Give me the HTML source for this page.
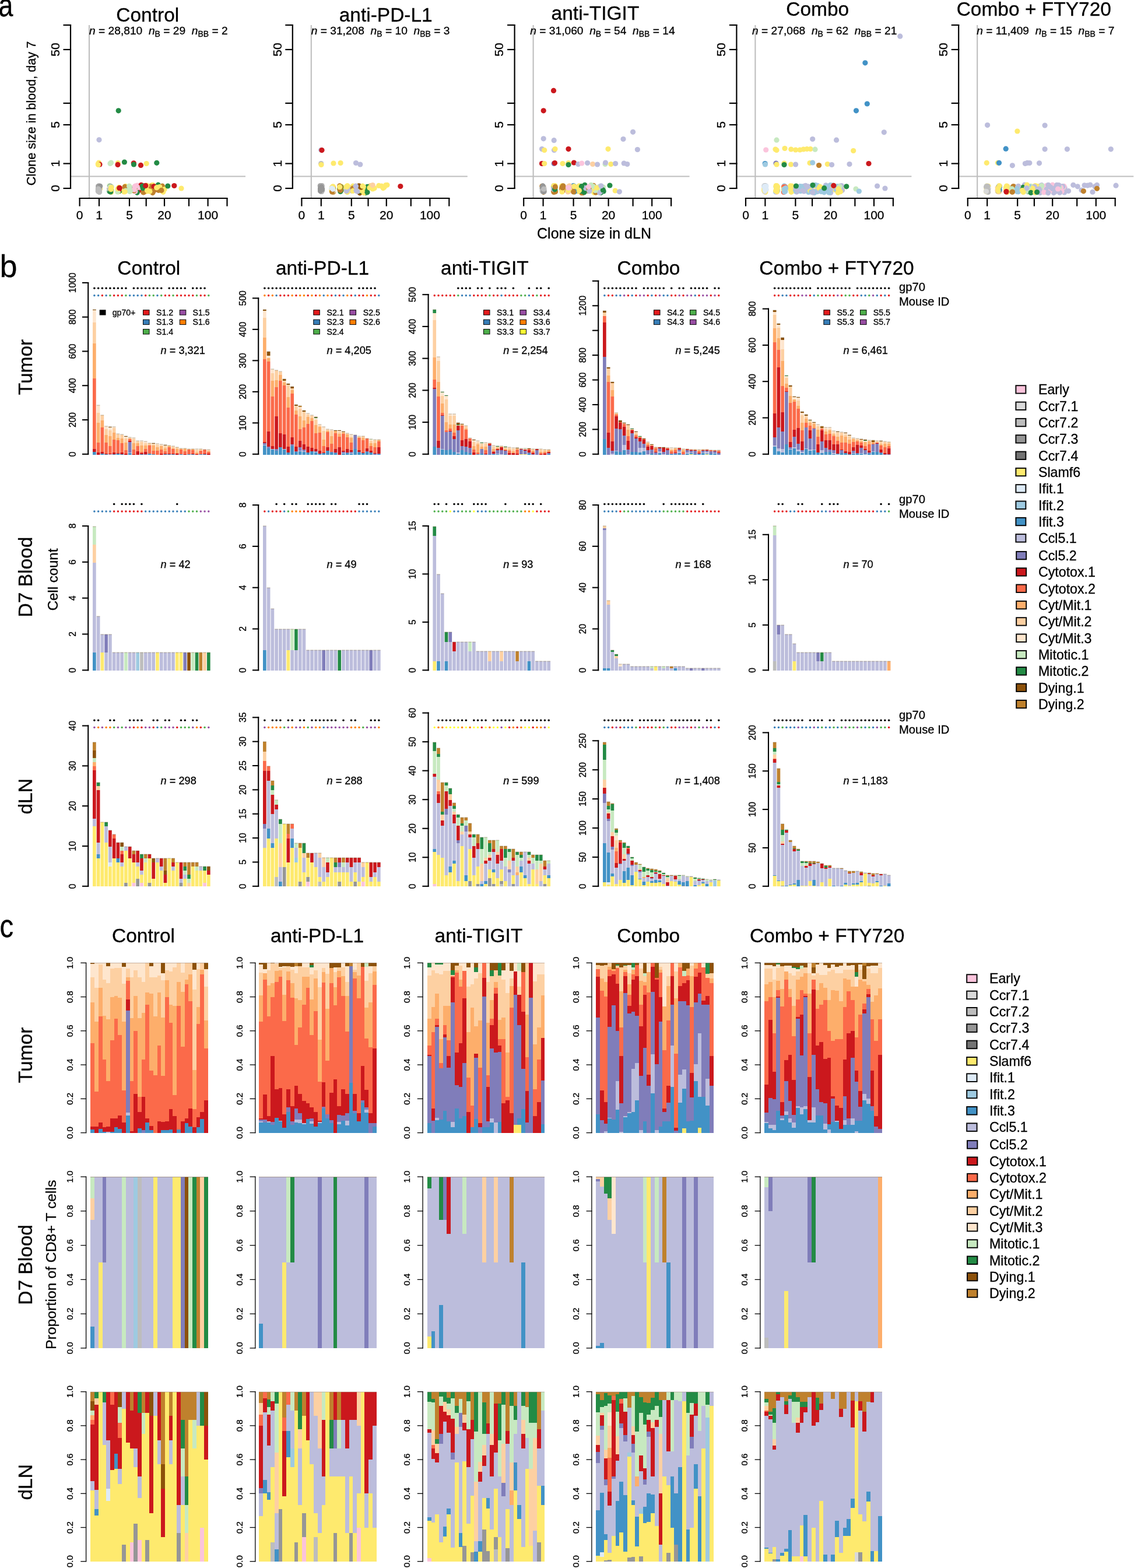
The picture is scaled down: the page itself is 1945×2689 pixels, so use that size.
<!DOCTYPE html>
<html><head><meta charset="utf-8"><title>Figure</title>
<style>html,body{margin:0;padding:0;background:#fff;} svg{display:block;} text{font-family:'Liberation Sans', Arial, Helvetica, sans-serif;fill:#000;stroke:#000;stroke-width:0.3px;}</style>
</head><body>
<svg width="1945" height="2689" viewBox="0 0 1945 2689">
<rect x="0" y="0" width="1945" height="2689" fill="#fff"/>
<text x="253.3" y="37" font-size="33.5" text-anchor="middle">Control</text>
<line x1="153" y1="43" x2="153" y2="340" stroke="#BEBEBE" stroke-width="2.1"/>
<line x1="121" y1="302.4" x2="421" y2="302.4" stroke="#BEBEBE" stroke-width="2"/>
<circle cx="230.46" cy="324.61" r="4.6" fill="#C7E9C0"/>
<circle cx="266.3" cy="323.26" r="4.6" fill="#CB181D"/>
<circle cx="190.11" cy="326.64" r="4.6" fill="#FEEA6E"/>
<circle cx="203.23" cy="328.81" r="4.6" fill="#FEEA6E"/>
<circle cx="204.52" cy="327.5" r="4.6" fill="#CB181D"/>
<circle cx="204.35" cy="321.78" r="4.6" fill="#FEEA6E"/>
<circle cx="239.41" cy="326.01" r="4.6" fill="#CB181D"/>
<circle cx="191.3" cy="326.01" r="4.6" fill="#FEEA6E"/>
<circle cx="189.34" cy="319.71" r="4.6" fill="#238B45"/>
<circle cx="202.55" cy="326.12" r="4.6" fill="#FEEA6E"/>
<circle cx="187.94" cy="318.5" r="4.6" fill="#C7E9C0"/>
<circle cx="188.75" cy="320.01" r="4.6" fill="#FEEA6E"/>
<circle cx="267.63" cy="324.64" r="4.6" fill="#CB181D"/>
<circle cx="171.61" cy="323.72" r="4.6" fill="#FEEA6E"/>
<circle cx="189.48" cy="321.93" r="4.6" fill="#C7E9C0"/>
<circle cx="189.08" cy="324.73" r="4.6" fill="#C7E9C0"/>
<circle cx="257.81" cy="323.35" r="4.6" fill="#BF812D"/>
<circle cx="189.11" cy="325.48" r="4.6" fill="#FBC4DC"/>
<circle cx="271.24" cy="317.2" r="4.6" fill="#238B45"/>
<circle cx="190.99" cy="327.08" r="4.6" fill="#BCBDDC"/>
<circle cx="188.04" cy="323.44" r="4.6" fill="#238B45"/>
<circle cx="251.2" cy="328.19" r="4.6" fill="#FEEA6E"/>
<circle cx="262.18" cy="317.26" r="4.6" fill="#FEEA6E"/>
<circle cx="263.07" cy="324" r="4.6" fill="#FEEA6E"/>
<circle cx="258.32" cy="322.85" r="4.6" fill="#BF812D"/>
<circle cx="224.44" cy="322.39" r="4.6" fill="#FEEA6E"/>
<circle cx="190.81" cy="329.42" r="4.6" fill="#FEEA6E"/>
<circle cx="246.47" cy="329.68" r="4.6" fill="#BF812D"/>
<circle cx="269.95" cy="321.87" r="4.6" fill="#FEEA6E"/>
<circle cx="215.25" cy="319.43" r="4.6" fill="#FEEA6E"/>
<circle cx="212.45" cy="327.29" r="4.6" fill="#FEEA6E"/>
<circle cx="246.47" cy="318.81" r="4.6" fill="#238B45"/>
<circle cx="249.24" cy="326.46" r="4.6" fill="#CB181D"/>
<circle cx="169.29" cy="327.24" r="4.6" fill="#FEEA6E"/>
<circle cx="256.81" cy="320.11" r="4.6" fill="#BF812D"/>
<circle cx="244.52" cy="319.28" r="4.6" fill="#FBC4DC"/>
<circle cx="191.2" cy="320.16" r="4.6" fill="#C7E9C0"/>
<circle cx="187.84" cy="328.12" r="4.6" fill="#238B45"/>
<circle cx="278.42" cy="319.21" r="4.6" fill="#BF812D"/>
<circle cx="189.5" cy="324.98" r="4.6" fill="#FBC4DC"/>
<circle cx="268.62" cy="321.31" r="4.6" fill="#FEEA6E"/>
<circle cx="235.63" cy="318.71" r="4.6" fill="#BF812D"/>
<circle cx="247.67" cy="321.14" r="4.6" fill="#FEEA6E"/>
<circle cx="190.24" cy="324.17" r="4.6" fill="#238B45"/>
<circle cx="251.76" cy="324.51" r="4.6" fill="#FEEA6E"/>
<circle cx="234.63" cy="329.36" r="4.6" fill="#238B45"/>
<circle cx="212.69" cy="328.91" r="4.6" fill="#FEEA6E"/>
<circle cx="221.23" cy="323.34" r="4.6" fill="#FEEA6E"/>
<circle cx="188.77" cy="320.1" r="4.6" fill="#238B45"/>
<circle cx="189.19" cy="319.64" r="4.6" fill="#969696"/>
<circle cx="276.18" cy="326.7" r="4.6" fill="#FEEA6E"/>
<circle cx="215.93" cy="320.64" r="4.6" fill="#C7E9C0"/>
<circle cx="230.42" cy="321.22" r="4.6" fill="#BCBDDC"/>
<circle cx="260.68" cy="317.6" r="4.6" fill="#FEEA6E"/>
<circle cx="169" cy="321.66" r="4.6" fill="#FEEA6E"/>
<circle cx="202.92" cy="326.09" r="4.6" fill="#FEEA6E"/>
<circle cx="202.36" cy="325.36" r="4.6" fill="#C7E9C0"/>
<circle cx="241.78" cy="321.73" r="4.6" fill="#238B45"/>
<circle cx="271.88" cy="326.31" r="4.6" fill="#BF812D"/>
<circle cx="235.24" cy="318.02" r="4.6" fill="#FBC4DC"/>
<circle cx="203.34" cy="326.11" r="4.6" fill="#C7E9C0"/>
<circle cx="277.25" cy="322.1" r="4.6" fill="#BF812D"/>
<circle cx="204.13" cy="321.37" r="4.6" fill="#FEEA6E"/>
<circle cx="205.18" cy="327.19" r="4.6" fill="#238B45"/>
<circle cx="223.35" cy="327.04" r="4.6" fill="#FEEA6E"/>
<circle cx="230.62" cy="326.86" r="4.6" fill="#C7E9C0"/>
<circle cx="235.11" cy="330.34" r="4.6" fill="#238B45"/>
<circle cx="273.84" cy="320.58" r="4.6" fill="#FEEA6E"/>
<circle cx="188.12" cy="322.27" r="4.6" fill="#FBC4DC"/>
<circle cx="189.19" cy="320.6" r="4.6" fill="#C7E9C0"/>
<circle cx="282.12" cy="324.66" r="4.6" fill="#FEEA6E"/>
<circle cx="212.47" cy="325" r="4.6" fill="#FEEA6E"/>
<circle cx="240.85" cy="321.46" r="4.6" fill="#FBC4DC"/>
<circle cx="242.19" cy="317.25" r="4.6" fill="#CB181D"/>
<circle cx="260.71" cy="324.44" r="4.6" fill="#FEEA6E"/>
<circle cx="169.23" cy="322.74" r="4.6" fill="#FEEA6E"/>
<circle cx="245.68" cy="329.86" r="4.6" fill="#BF812D"/>
<circle cx="222.03" cy="324.95" r="4.6" fill="#FEEA6E"/>
<circle cx="258.53" cy="319.82" r="4.6" fill="#BF812D"/>
<circle cx="245.08" cy="322.65" r="4.6" fill="#238B45"/>
<circle cx="215.4" cy="323.77" r="4.6" fill="#BF812D"/>
<circle cx="221.26" cy="320.84" r="4.6" fill="#C7E9C0"/>
<circle cx="201.99" cy="323.67" r="4.6" fill="#FEEA6E"/>
<circle cx="236.18" cy="321.42" r="4.6" fill="#FBC4DC"/>
<circle cx="221.78" cy="323.71" r="4.6" fill="#C7E9C0"/>
<circle cx="263.98" cy="319.65" r="4.6" fill="#CB181D"/>
<circle cx="203.54" cy="327.07" r="4.6" fill="#FEEA6E"/>
<circle cx="231.09" cy="323.48" r="4.6" fill="#BF812D"/>
<circle cx="223.12" cy="327.68" r="4.6" fill="#FEEA6E"/>
<circle cx="221.63" cy="320.17" r="4.6" fill="#C7E9C0"/>
<circle cx="189.92" cy="323.72" r="4.6" fill="#BDBDBD"/>
<circle cx="214.98" cy="320.37" r="4.6" fill="#C7E9C0"/>
<circle cx="203.91" cy="325.25" r="4.6" fill="#CB181D"/>
<circle cx="244.25" cy="319.26" r="4.6" fill="#238B45"/>
<circle cx="279.86" cy="329.35" r="4.6" fill="#FEEA6E"/>
<circle cx="231.62" cy="320.01" r="4.6" fill="#C7E9C0"/>
<circle cx="231.91" cy="328.32" r="4.6" fill="#FBC4DC"/>
<circle cx="261.83" cy="330.57" r="4.6" fill="#BF812D"/>
<circle cx="170.1" cy="328.13" r="4.6" fill="#FEEA6E"/>
<circle cx="215.28" cy="320.11" r="4.6" fill="#FEEA6E"/>
<circle cx="214.04" cy="326.68" r="4.6" fill="#FEEA6E"/>
<circle cx="252.49" cy="326.81" r="4.6" fill="#FEEA6E"/>
<circle cx="263.01" cy="328.25" r="4.6" fill="#BF812D"/>
<circle cx="268.65" cy="321.8" r="4.6" fill="#FEEA6E"/>
<circle cx="222.68" cy="328.59" r="4.6" fill="#C7E9C0"/>
<circle cx="214.74" cy="322.35" r="4.6" fill="#C7E9C0"/>
<circle cx="231.77" cy="319.13" r="4.6" fill="#FBC4DC"/>
<circle cx="188.3" cy="325.74" r="4.6" fill="#BDBDBD"/>
<circle cx="276.9" cy="326.39" r="4.6" fill="#BF812D"/>
<circle cx="201.7" cy="328.96" r="4.6" fill="#C7E9C0"/>
<circle cx="214.1" cy="320.46" r="4.6" fill="#BF812D"/>
<circle cx="215.65" cy="327.11" r="4.6" fill="#C7E9C0"/>
<circle cx="229.59" cy="326.99" r="4.6" fill="#BF812D"/>
<circle cx="230.19" cy="325.24" r="4.6" fill="#FBC4DC"/>
<circle cx="190.86" cy="321.56" r="4.6" fill="#FEEA6E"/>
<circle cx="202.34" cy="323.92" r="4.6" fill="#FEEA6E"/>
<circle cx="256.91" cy="328.22" r="4.6" fill="#FEEA6E"/>
<circle cx="204.89" cy="322.41" r="4.6" fill="#CB181D"/>
<circle cx="189.68" cy="328.94" r="4.6" fill="#238B45"/>
<circle cx="251.85" cy="318.01" r="4.6" fill="#FEEA6E"/>
<circle cx="205.06" cy="322.51" r="4.6" fill="#CB181D"/>
<circle cx="249.81" cy="318.47" r="4.6" fill="#CB181D"/>
<circle cx="221.6" cy="319.18" r="4.6" fill="#C7E9C0"/>
<circle cx="214.27" cy="328.77" r="4.6" fill="#FEEA6E"/>
<circle cx="169.38" cy="320.16" r="4.6" fill="#FEEA6E"/>
<circle cx="190.2" cy="324.65" r="4.6" fill="#FEEA6E"/>
<circle cx="223.55" cy="327.47" r="4.6" fill="#C7E9C0"/>
<circle cx="170.3" cy="323.52" r="4.6" fill="#BDBDBD"/>
<circle cx="170.29" cy="322.86" r="4.6" fill="#969696"/>
<circle cx="168.44" cy="326.54" r="4.6" fill="#BDBDBD"/>
<circle cx="168.63" cy="323.1" r="4.6" fill="#BDBDBD"/>
<circle cx="170.54" cy="329.42" r="4.6" fill="#BDBDBD"/>
<circle cx="169.89" cy="328.66" r="4.6" fill="#BDBDBD"/>
<circle cx="169.55" cy="324.53" r="4.6" fill="#BDBDBD"/>
<circle cx="168.46" cy="319.5" r="4.6" fill="#BDBDBD"/>
<circle cx="169.43" cy="322.35" r="4.6" fill="#BDBDBD"/>
<circle cx="170.66" cy="323.2" r="4.6" fill="#BDBDBD"/>
<circle cx="169.46" cy="328.85" r="4.6" fill="#BDBDBD"/>
<circle cx="169.72" cy="324.45" r="4.6" fill="#969696"/>
<circle cx="168.58" cy="324.78" r="4.6" fill="#969696"/>
<circle cx="168.38" cy="327.94" r="4.6" fill="#BDBDBD"/>
<circle cx="169.1" cy="322.8" r="4.6" fill="#BDBDBD"/>
<circle cx="168.81" cy="319.79" r="4.6" fill="#BDBDBD"/>
<circle cx="170.48" cy="324.91" r="4.6" fill="#BDBDBD"/>
<circle cx="170.24" cy="325.31" r="4.6" fill="#BDBDBD"/>
<circle cx="168.98" cy="319.45" r="4.6" fill="#BDBDBD"/>
<circle cx="169.53" cy="319.14" r="4.6" fill="#969696"/>
<circle cx="171.02" cy="319.4" r="4.6" fill="#BDBDBD"/>
<circle cx="169.83" cy="325.2" r="4.6" fill="#BDBDBD"/>
<circle cx="168.42" cy="324.72" r="4.6" fill="#969696"/>
<circle cx="169.32" cy="327.48" r="4.6" fill="#969696"/>
<circle cx="171.67" cy="319.35" r="4.6" fill="#969696"/>
<circle cx="170.27" cy="328.13" r="4.6" fill="#BDBDBD"/>
<circle cx="168.38" cy="327.53" r="4.6" fill="#BDBDBD"/>
<circle cx="168.76" cy="323.88" r="4.6" fill="#BDBDBD"/>
<circle cx="203.2" cy="189.8" r="4.6" fill="#238B45"/>
<circle cx="170" cy="239.8" r="4.6" fill="#BCBDDC"/>
<circle cx="168.3" cy="281" r="4.6" fill="#FEEA6E"/>
<circle cx="169.5" cy="279" r="4.6" fill="#FEEA6E"/>
<circle cx="171" cy="282" r="4.6" fill="#CB181D"/>
<circle cx="168.5" cy="282.5" r="4.6" fill="#FEEA6E"/>
<circle cx="189" cy="280.5" r="4.6" fill="#C7E9C0"/>
<circle cx="190.5" cy="279" r="4.6" fill="#C7E9C0"/>
<circle cx="202.4" cy="279.5" r="4.6" fill="#FEEA6E"/>
<circle cx="202" cy="282.4" r="4.6" fill="#CB181D"/>
<circle cx="213.4" cy="278" r="4.6" fill="#238B45"/>
<circle cx="229.3" cy="279.8" r="4.6" fill="#CB181D"/>
<circle cx="229.5" cy="282" r="4.6" fill="#238B45"/>
<circle cx="241.5" cy="283.4" r="4.6" fill="#CB181D"/>
<circle cx="251.2" cy="280.5" r="4.6" fill="#FEEA6E"/>
<circle cx="268.8" cy="279.3" r="4.6" fill="#238B45"/>
<circle cx="287.8" cy="319" r="4.6" fill="#238B45"/>
<circle cx="298.8" cy="318.5" r="4.6" fill="#CB181D"/>
<circle cx="311" cy="323" r="4.6" fill="#FEEA6E"/>
<line x1="121" y1="42.2" x2="121" y2="323.8" stroke="#000" stroke-width="2.2"/>
<line x1="108.5" y1="43" x2="122.1" y2="43" stroke="#000" stroke-width="2.2"/>
<line x1="108.5" y1="85" x2="122.1" y2="85" stroke="#000" stroke-width="2.2"/>
<line x1="108.5" y1="177" x2="122.1" y2="177" stroke="#000" stroke-width="2.2"/>
<line x1="108.5" y1="214" x2="122.1" y2="214" stroke="#000" stroke-width="2.2"/>
<line x1="108.5" y1="280.5" x2="122.1" y2="280.5" stroke="#000" stroke-width="2.2"/>
<line x1="108.5" y1="323" x2="122.1" y2="323" stroke="#000" stroke-width="2.2"/>
<text transform="translate(101.8,85) rotate(-90)" font-size="21" text-anchor="middle">50</text>
<text transform="translate(101.8,214) rotate(-90)" font-size="21" text-anchor="middle">5</text>
<text transform="translate(101.8,280.5) rotate(-90)" font-size="21" text-anchor="middle">1</text>
<text transform="translate(101.8,323) rotate(-90)" font-size="21" text-anchor="middle">0</text>
<line x1="135.5" y1="340" x2="390.6" y2="340" stroke="#000" stroke-width="2.2"/>
<line x1="136.6" y1="340" x2="136.6" y2="353.7" stroke="#000" stroke-width="2.2"/>
<line x1="170" y1="340" x2="170" y2="353.7" stroke="#000" stroke-width="2.2"/>
<line x1="222" y1="340" x2="222" y2="353.7" stroke="#000" stroke-width="2.2"/>
<line x1="250.7" y1="340" x2="250.7" y2="353.7" stroke="#000" stroke-width="2.2"/>
<line x1="282" y1="340" x2="282" y2="353.7" stroke="#000" stroke-width="2.2"/>
<line x1="324" y1="340" x2="324" y2="353.7" stroke="#000" stroke-width="2.2"/>
<line x1="356.6" y1="340" x2="356.6" y2="353.7" stroke="#000" stroke-width="2.2"/>
<line x1="389.5" y1="340" x2="389.5" y2="353.7" stroke="#000" stroke-width="2.2"/>
<text x="136.6" y="375.8" font-size="21" text-anchor="middle">0</text>
<text x="170" y="375.8" font-size="21" text-anchor="middle">1</text>
<text x="222" y="375.8" font-size="21" text-anchor="middle">5</text>
<text x="282" y="375.8" font-size="21" text-anchor="middle">20</text>
<text x="356.6" y="375.8" font-size="21" text-anchor="middle">100</text>
<text x="153" y="59.4" font-size="19.2" style="white-space:pre"><tspan font-style="italic">n</tspan> = 28,810  <tspan font-style="italic">n</tspan><tspan font-size="14" dy="3.2">B</tspan><tspan dy="-3.2"> = 29  </tspan><tspan font-style="italic">n</tspan><tspan font-size="14" dy="3.2">BB</tspan><tspan dy="-3.2"> = 2</tspan></text>
<text x="661.7" y="36.6" font-size="33.5" text-anchor="middle">anti-PD-L1</text>
<line x1="533.8" y1="43" x2="533.8" y2="340" stroke="#BEBEBE" stroke-width="2.1"/>
<line x1="501.8" y1="302.4" x2="801.8" y2="302.4" stroke="#BEBEBE" stroke-width="2"/>
<circle cx="603.1" cy="321.53" r="4.6" fill="#FEEA6E"/>
<circle cx="617.15" cy="330.84" r="4.6" fill="#8C510A"/>
<circle cx="593.28" cy="323.02" r="4.6" fill="#FEEA6E"/>
<circle cx="611.13" cy="324.49" r="4.6" fill="#BCBDDC"/>
<circle cx="585.08" cy="324.05" r="4.6" fill="#BF812D"/>
<circle cx="605.3" cy="320.51" r="4.6" fill="#BCBDDC"/>
<circle cx="661.6" cy="317.72" r="4.6" fill="#FEEA6E"/>
<circle cx="625.94" cy="329.36" r="4.6" fill="#238B45"/>
<circle cx="610.48" cy="326.11" r="4.6" fill="#BCBDDC"/>
<circle cx="603.63" cy="327.34" r="4.6" fill="#FEEA6E"/>
<circle cx="585.65" cy="323.84" r="4.6" fill="#FEEA6E"/>
<circle cx="634.89" cy="318.48" r="4.6" fill="#FDD0A2"/>
<circle cx="630.41" cy="322.21" r="4.6" fill="#238B45"/>
<circle cx="595.79" cy="327.73" r="4.6" fill="#BCBDDC"/>
<circle cx="570.35" cy="324.82" r="4.6" fill="#238B45"/>
<circle cx="609.68" cy="320.67" r="4.6" fill="#BCBDDC"/>
<circle cx="594.77" cy="319.7" r="4.6" fill="#FEEA6E"/>
<circle cx="568.56" cy="324.41" r="4.6" fill="#DEEBF7"/>
<circle cx="642.2" cy="322.73" r="4.6" fill="#FEEA6E"/>
<circle cx="603.18" cy="321.5" r="4.6" fill="#BCBDDC"/>
<circle cx="571.61" cy="328.1" r="4.6" fill="#FEEA6E"/>
<circle cx="582.62" cy="318.76" r="4.6" fill="#BF812D"/>
<circle cx="583.84" cy="328.38" r="4.6" fill="#238B45"/>
<circle cx="595.19" cy="326.85" r="4.6" fill="#BCBDDC"/>
<circle cx="595.86" cy="318.85" r="4.6" fill="#FEEA6E"/>
<circle cx="637.78" cy="319.85" r="4.6" fill="#FEEA6E"/>
<circle cx="617.86" cy="327.83" r="4.6" fill="#238B45"/>
<circle cx="583.25" cy="320.94" r="4.6" fill="#238B45"/>
<circle cx="569.53" cy="321.23" r="4.6" fill="#DEEBF7"/>
<circle cx="618.03" cy="322.22" r="4.6" fill="#FEEA6E"/>
<circle cx="572.04" cy="323.89" r="4.6" fill="#FEEA6E"/>
<circle cx="622.01" cy="323.15" r="4.6" fill="#FEEA6E"/>
<circle cx="602.89" cy="326.72" r="4.6" fill="#BCBDDC"/>
<circle cx="569.56" cy="321.98" r="4.6" fill="#BF812D"/>
<circle cx="604.56" cy="325.05" r="4.6" fill="#BCBDDC"/>
<circle cx="585.83" cy="320.11" r="4.6" fill="#FEEA6E"/>
<circle cx="569.96" cy="328.7" r="4.6" fill="#FEEA6E"/>
<circle cx="582.71" cy="321.01" r="4.6" fill="#FEEA6E"/>
<circle cx="571.63" cy="329.19" r="4.6" fill="#BF812D"/>
<circle cx="571.37" cy="321.06" r="4.6" fill="#FEEA6E"/>
<circle cx="569.95" cy="320.96" r="4.6" fill="#FEEA6E"/>
<circle cx="569.01" cy="324.04" r="4.6" fill="#FEEA6E"/>
<circle cx="584.13" cy="321.08" r="4.6" fill="#BF812D"/>
<circle cx="582.52" cy="323.03" r="4.6" fill="#238B45"/>
<circle cx="657.12" cy="322.57" r="4.6" fill="#FEEA6E"/>
<circle cx="632.76" cy="320.64" r="4.6" fill="#FDD0A2"/>
<circle cx="602.35" cy="326.37" r="4.6" fill="#BF812D"/>
<circle cx="570.43" cy="326" r="4.6" fill="#FEEA6E"/>
<circle cx="649.7" cy="318.42" r="4.6" fill="#FEEA6E"/>
<circle cx="593.49" cy="326.26" r="4.6" fill="#FEEA6E"/>
<circle cx="611.58" cy="322.11" r="4.6" fill="#C7E9C0"/>
<circle cx="595.93" cy="318.95" r="4.6" fill="#FEEA6E"/>
<circle cx="602.12" cy="326.71" r="4.6" fill="#BCBDDC"/>
<circle cx="595.81" cy="329.47" r="4.6" fill="#FEEA6E"/>
<circle cx="585.75" cy="320.99" r="4.6" fill="#FEEA6E"/>
<circle cx="605.37" cy="319.22" r="4.6" fill="#FEEA6E"/>
<circle cx="636.64" cy="318.98" r="4.6" fill="#FEEA6E"/>
<circle cx="626.86" cy="330.62" r="4.6" fill="#238B45"/>
<circle cx="618.35" cy="326.44" r="4.6" fill="#FEEA6E"/>
<circle cx="639.85" cy="321.37" r="4.6" fill="#FEEA6E"/>
<circle cx="605.4" cy="322.75" r="4.6" fill="#BF812D"/>
<circle cx="594.52" cy="328.61" r="4.6" fill="#FEEA6E"/>
<circle cx="594.18" cy="322.37" r="4.6" fill="#FEEA6E"/>
<circle cx="624.12" cy="330.87" r="4.6" fill="#FEEA6E"/>
<circle cx="639.26" cy="323.94" r="4.6" fill="#FEEA6E"/>
<circle cx="584.92" cy="326.4" r="4.6" fill="#238B45"/>
<circle cx="630" cy="329.8" r="4.6" fill="#238B45"/>
<circle cx="570.88" cy="323.25" r="4.6" fill="#238B45"/>
<circle cx="584.88" cy="320.68" r="4.6" fill="#238B45"/>
<circle cx="570.88" cy="321.84" r="4.6" fill="#BF812D"/>
<circle cx="612.92" cy="328.22" r="4.6" fill="#BCBDDC"/>
<circle cx="582.81" cy="325.36" r="4.6" fill="#BF812D"/>
<circle cx="630.17" cy="320.26" r="4.6" fill="#238B45"/>
<circle cx="571.4" cy="327.83" r="4.6" fill="#FEEA6E"/>
<circle cx="571.37" cy="320.96" r="4.6" fill="#BF812D"/>
<circle cx="622.37" cy="322.54" r="4.6" fill="#FEEA6E"/>
<circle cx="584.2" cy="320.7" r="4.6" fill="#BF812D"/>
<circle cx="605.25" cy="327.46" r="4.6" fill="#FEEA6E"/>
<circle cx="568.86" cy="327.05" r="4.6" fill="#FEEA6E"/>
<circle cx="594.46" cy="327.54" r="4.6" fill="#BCBDDC"/>
<circle cx="633.89" cy="321.9" r="4.6" fill="#FEEA6E"/>
<circle cx="639.14" cy="317.54" r="4.6" fill="#FDD0A2"/>
<circle cx="663.95" cy="317.25" r="4.6" fill="#FEEA6E"/>
<circle cx="659.09" cy="320.97" r="4.6" fill="#FEEA6E"/>
<circle cx="594.34" cy="326.61" r="4.6" fill="#BCBDDC"/>
<circle cx="583.91" cy="326.31" r="4.6" fill="#BF812D"/>
<circle cx="654.42" cy="319.16" r="4.6" fill="#FEEA6E"/>
<circle cx="611.05" cy="327.12" r="4.6" fill="#BCBDDC"/>
<circle cx="582.62" cy="320.64" r="4.6" fill="#FEEA6E"/>
<circle cx="571.08" cy="327.81" r="4.6" fill="#DEEBF7"/>
<circle cx="623.35" cy="320.24" r="4.6" fill="#FEEA6E"/>
<circle cx="594.36" cy="320.54" r="4.6" fill="#FEEA6E"/>
<circle cx="571.07" cy="319.73" r="4.6" fill="#FEEA6E"/>
<circle cx="615.62" cy="318.86" r="4.6" fill="#8C510A"/>
<circle cx="619.29" cy="321.11" r="4.6" fill="#8C510A"/>
<circle cx="569.01" cy="323.18" r="4.6" fill="#DEEBF7"/>
<circle cx="621.92" cy="319.15" r="4.6" fill="#FEEA6E"/>
<circle cx="569.63" cy="328.88" r="4.6" fill="#BF812D"/>
<circle cx="610.35" cy="319.42" r="4.6" fill="#BCBDDC"/>
<circle cx="610.28" cy="319.21" r="4.6" fill="#BCBDDC"/>
<circle cx="570.81" cy="324.31" r="4.6" fill="#DEEBF7"/>
<circle cx="551.93" cy="325.44" r="4.6" fill="#BDBDBD"/>
<circle cx="550.08" cy="326.63" r="4.6" fill="#969696"/>
<circle cx="549.92" cy="319.21" r="4.6" fill="#BDBDBD"/>
<circle cx="551.58" cy="328.42" r="4.6" fill="#969696"/>
<circle cx="549.1" cy="318.54" r="4.6" fill="#BDBDBD"/>
<circle cx="550.8" cy="328.14" r="4.6" fill="#BDBDBD"/>
<circle cx="550.34" cy="327.4" r="4.6" fill="#BDBDBD"/>
<circle cx="549.52" cy="324.26" r="4.6" fill="#969696"/>
<circle cx="550.37" cy="322.22" r="4.6" fill="#969696"/>
<circle cx="550.39" cy="326.7" r="4.6" fill="#BDBDBD"/>
<circle cx="550.99" cy="323.48" r="4.6" fill="#969696"/>
<circle cx="550.24" cy="319.5" r="4.6" fill="#BDBDBD"/>
<circle cx="551.02" cy="322.84" r="4.6" fill="#BDBDBD"/>
<circle cx="552.03" cy="318.52" r="4.6" fill="#969696"/>
<circle cx="552.2" cy="326.24" r="4.6" fill="#BDBDBD"/>
<circle cx="552.34" cy="326.81" r="4.6" fill="#969696"/>
<circle cx="552.2" cy="326.75" r="4.6" fill="#BDBDBD"/>
<circle cx="550.63" cy="326.78" r="4.6" fill="#969696"/>
<circle cx="550.58" cy="321.97" r="4.6" fill="#969696"/>
<circle cx="552.6" cy="323.45" r="4.6" fill="#BDBDBD"/>
<circle cx="550.47" cy="321.13" r="4.6" fill="#BDBDBD"/>
<circle cx="550.98" cy="321.18" r="4.6" fill="#BDBDBD"/>
<circle cx="551.46" cy="322.96" r="4.6" fill="#BDBDBD"/>
<circle cx="551.33" cy="319.33" r="4.6" fill="#BDBDBD"/>
<circle cx="550.02" cy="319.07" r="4.6" fill="#969696"/>
<circle cx="552.03" cy="319.82" r="4.6" fill="#BDBDBD"/>
<circle cx="549.62" cy="323.06" r="4.6" fill="#969696"/>
<circle cx="551.6" cy="319.04" r="4.6" fill="#BDBDBD"/>
<circle cx="550.51" cy="322.64" r="4.6" fill="#969696"/>
<circle cx="551.84" cy="323.21" r="4.6" fill="#969696"/>
<circle cx="550.76" cy="328.53" r="4.6" fill="#BDBDBD"/>
<circle cx="552.61" cy="324.98" r="4.6" fill="#969696"/>
<circle cx="551.3" cy="320.14" r="4.6" fill="#969696"/>
<circle cx="549.49" cy="327.52" r="4.6" fill="#969696"/>
<circle cx="550.7" cy="257.3" r="4.6" fill="#BCBDDC"/>
<circle cx="552" cy="257.6" r="4.6" fill="#CB181D"/>
<circle cx="550.7" cy="280.5" r="4.6" fill="#BDBDBD"/>
<circle cx="551" cy="282.5" r="4.6" fill="#FEEA6E"/>
<circle cx="572" cy="280" r="4.6" fill="#FEEA6E"/>
<circle cx="584.1" cy="279.5" r="4.6" fill="#FEEA6E"/>
<circle cx="610.5" cy="279.5" r="4.6" fill="#BCBDDC"/>
<circle cx="617.8" cy="282" r="4.6" fill="#BCBDDC"/>
<circle cx="686.8" cy="319.5" r="4.6" fill="#CB181D"/>
<line x1="501.8" y1="42.2" x2="501.8" y2="323.8" stroke="#000" stroke-width="2.2"/>
<line x1="489.3" y1="43" x2="502.9" y2="43" stroke="#000" stroke-width="2.2"/>
<line x1="489.3" y1="85" x2="502.9" y2="85" stroke="#000" stroke-width="2.2"/>
<line x1="489.3" y1="177" x2="502.9" y2="177" stroke="#000" stroke-width="2.2"/>
<line x1="489.3" y1="214" x2="502.9" y2="214" stroke="#000" stroke-width="2.2"/>
<line x1="489.3" y1="280.5" x2="502.9" y2="280.5" stroke="#000" stroke-width="2.2"/>
<line x1="489.3" y1="323" x2="502.9" y2="323" stroke="#000" stroke-width="2.2"/>
<text transform="translate(482.6,85) rotate(-90)" font-size="21" text-anchor="middle">50</text>
<text transform="translate(482.6,214) rotate(-90)" font-size="21" text-anchor="middle">5</text>
<text transform="translate(482.6,280.5) rotate(-90)" font-size="21" text-anchor="middle">1</text>
<text transform="translate(482.6,323) rotate(-90)" font-size="21" text-anchor="middle">0</text>
<line x1="516.3" y1="340" x2="771.4" y2="340" stroke="#000" stroke-width="2.2"/>
<line x1="517.4" y1="340" x2="517.4" y2="353.7" stroke="#000" stroke-width="2.2"/>
<line x1="550.8" y1="340" x2="550.8" y2="353.7" stroke="#000" stroke-width="2.2"/>
<line x1="602.8" y1="340" x2="602.8" y2="353.7" stroke="#000" stroke-width="2.2"/>
<line x1="631.5" y1="340" x2="631.5" y2="353.7" stroke="#000" stroke-width="2.2"/>
<line x1="662.8" y1="340" x2="662.8" y2="353.7" stroke="#000" stroke-width="2.2"/>
<line x1="704.8" y1="340" x2="704.8" y2="353.7" stroke="#000" stroke-width="2.2"/>
<line x1="737.4" y1="340" x2="737.4" y2="353.7" stroke="#000" stroke-width="2.2"/>
<line x1="770.3" y1="340" x2="770.3" y2="353.7" stroke="#000" stroke-width="2.2"/>
<text x="517.4" y="375.8" font-size="21" text-anchor="middle">0</text>
<text x="550.8" y="375.8" font-size="21" text-anchor="middle">1</text>
<text x="602.8" y="375.8" font-size="21" text-anchor="middle">5</text>
<text x="662.8" y="375.8" font-size="21" text-anchor="middle">20</text>
<text x="737.4" y="375.8" font-size="21" text-anchor="middle">100</text>
<text x="533.7" y="59.4" font-size="19.2" style="white-space:pre"><tspan font-style="italic">n</tspan> = 31,208  <tspan font-style="italic">n</tspan><tspan font-size="14" dy="3.2">B</tspan><tspan dy="-3.2"> = 10  </tspan><tspan font-style="italic">n</tspan><tspan font-size="14" dy="3.2">BB</tspan><tspan dy="-3.2"> = 3</tspan></text>
<text x="1021" y="34.2" font-size="33.5" text-anchor="middle">anti-TIGIT</text>
<line x1="914.6" y1="43" x2="914.6" y2="340" stroke="#BEBEBE" stroke-width="2.1"/>
<line x1="882.6" y1="302.4" x2="1182.6" y2="302.4" stroke="#BEBEBE" stroke-width="2"/>
<circle cx="964.63" cy="324.94" r="4.6" fill="#BF812D"/>
<circle cx="951.8" cy="326.04" r="4.6" fill="#238B45"/>
<circle cx="1030.29" cy="330.45" r="4.6" fill="#238B45"/>
<circle cx="932.11" cy="329.32" r="4.6" fill="#BF812D"/>
<circle cx="949.92" cy="318.66" r="4.6" fill="#BCBDDC"/>
<circle cx="999.28" cy="326.75" r="4.6" fill="#238B45"/>
<circle cx="1032.76" cy="325.88" r="4.6" fill="#238B45"/>
<circle cx="999.81" cy="323.09" r="4.6" fill="#238B45"/>
<circle cx="1035.18" cy="327.92" r="4.6" fill="#238B45"/>
<circle cx="931.12" cy="319.03" r="4.6" fill="#DEEBF7"/>
<circle cx="974.36" cy="320.76" r="4.6" fill="#FDD0A2"/>
<circle cx="1005.13" cy="324.01" r="4.6" fill="#BCBDDC"/>
<circle cx="952.04" cy="323.62" r="4.6" fill="#FEEA6E"/>
<circle cx="990.8" cy="323.33" r="4.6" fill="#FEEA6E"/>
<circle cx="975.69" cy="319.96" r="4.6" fill="#FEEA6E"/>
<circle cx="993.32" cy="323.45" r="4.6" fill="#FEEA6E"/>
<circle cx="984.9" cy="329.03" r="4.6" fill="#FEEA6E"/>
<circle cx="976.74" cy="325.12" r="4.6" fill="#238B45"/>
<circle cx="1014.34" cy="320.5" r="4.6" fill="#C7E9C0"/>
<circle cx="1034.67" cy="321.12" r="4.6" fill="#C7E9C0"/>
<circle cx="984.04" cy="322.91" r="4.6" fill="#BF812D"/>
<circle cx="929.98" cy="327.94" r="4.6" fill="#DEEBF7"/>
<circle cx="1023.7" cy="322.86" r="4.6" fill="#238B45"/>
<circle cx="1001.42" cy="328.96" r="4.6" fill="#238B45"/>
<circle cx="951.93" cy="318.57" r="4.6" fill="#FEEA6E"/>
<circle cx="951.67" cy="325.62" r="4.6" fill="#FEEA6E"/>
<circle cx="1009.54" cy="327.49" r="4.6" fill="#BF812D"/>
<circle cx="985.52" cy="323.89" r="4.6" fill="#FEEA6E"/>
<circle cx="930.38" cy="328.36" r="4.6" fill="#D9D9D9"/>
<circle cx="950.19" cy="318.93" r="4.6" fill="#BF812D"/>
<circle cx="931.26" cy="325.5" r="4.6" fill="#D9D9D9"/>
<circle cx="949.87" cy="320.69" r="4.6" fill="#238B45"/>
<circle cx="1003" cy="317.31" r="4.6" fill="#238B45"/>
<circle cx="997.73" cy="330.77" r="4.6" fill="#BF812D"/>
<circle cx="930.01" cy="324.74" r="4.6" fill="#D9D9D9"/>
<circle cx="1002.51" cy="322.44" r="4.6" fill="#C7E9C0"/>
<circle cx="963.74" cy="318.8" r="4.6" fill="#FEEA6E"/>
<circle cx="929.9" cy="319.23" r="4.6" fill="#BF812D"/>
<circle cx="1018.83" cy="330.32" r="4.6" fill="#FEEA6E"/>
<circle cx="977.14" cy="326.81" r="4.6" fill="#238B45"/>
<circle cx="1002.71" cy="328.94" r="4.6" fill="#BCBDDC"/>
<circle cx="983.8" cy="326.76" r="4.6" fill="#4292C6"/>
<circle cx="949.58" cy="325.39" r="4.6" fill="#FEEA6E"/>
<circle cx="951.92" cy="321.43" r="4.6" fill="#238B45"/>
<circle cx="952.73" cy="326.57" r="4.6" fill="#BCBDDC"/>
<circle cx="984.78" cy="319.65" r="4.6" fill="#BF812D"/>
<circle cx="930.28" cy="328.24" r="4.6" fill="#D9D9D9"/>
<circle cx="949.93" cy="328.53" r="4.6" fill="#FEEA6E"/>
<circle cx="991.45" cy="322.09" r="4.6" fill="#FEEA6E"/>
<circle cx="982.78" cy="323.9" r="4.6" fill="#BF812D"/>
<circle cx="999.76" cy="330.65" r="4.6" fill="#BF812D"/>
<circle cx="965.71" cy="325.47" r="4.6" fill="#FEEA6E"/>
<circle cx="974.15" cy="326.86" r="4.6" fill="#FBC4DC"/>
<circle cx="1018.05" cy="318.42" r="4.6" fill="#BF812D"/>
<circle cx="951.27" cy="322.97" r="4.6" fill="#BCBDDC"/>
<circle cx="1008.01" cy="326.81" r="4.6" fill="#BF812D"/>
<circle cx="951.65" cy="328.08" r="4.6" fill="#BF812D"/>
<circle cx="992.28" cy="319.89" r="4.6" fill="#FEEA6E"/>
<circle cx="993.39" cy="318.78" r="4.6" fill="#FEEA6E"/>
<circle cx="949.95" cy="318.5" r="4.6" fill="#FEEA6E"/>
<circle cx="933.38" cy="324.85" r="4.6" fill="#D9D9D9"/>
<circle cx="1027.97" cy="320.14" r="4.6" fill="#C7E9C0"/>
<circle cx="1017.52" cy="323.86" r="4.6" fill="#FEEA6E"/>
<circle cx="976.95" cy="325.45" r="4.6" fill="#FBC4DC"/>
<circle cx="1024.54" cy="322.35" r="4.6" fill="#BCBDDC"/>
<circle cx="996.36" cy="326.21" r="4.6" fill="#238B45"/>
<circle cx="966.62" cy="326.71" r="4.6" fill="#C7E9C0"/>
<circle cx="964.59" cy="327.87" r="4.6" fill="#CB181D"/>
<circle cx="930.05" cy="322.36" r="4.6" fill="#D9D9D9"/>
<circle cx="1021.88" cy="330.06" r="4.6" fill="#BF812D"/>
<circle cx="1032.27" cy="327.09" r="4.6" fill="#BCBDDC"/>
<circle cx="963.91" cy="322.78" r="4.6" fill="#BF812D"/>
<circle cx="999.05" cy="321.88" r="4.6" fill="#238B45"/>
<circle cx="952.56" cy="328.68" r="4.6" fill="#BF812D"/>
<circle cx="930.54" cy="325.36" r="4.6" fill="#DEEBF7"/>
<circle cx="932.66" cy="321.41" r="4.6" fill="#BF812D"/>
<circle cx="1025.84" cy="326.45" r="4.6" fill="#C7E9C0"/>
<circle cx="1015.48" cy="321.59" r="4.6" fill="#FEEA6E"/>
<circle cx="966.72" cy="321.75" r="4.6" fill="#BF812D"/>
<circle cx="1012.64" cy="322.6" r="4.6" fill="#BF812D"/>
<circle cx="932.03" cy="323.25" r="4.6" fill="#BF812D"/>
<circle cx="966.31" cy="323.31" r="4.6" fill="#BF812D"/>
<circle cx="949.56" cy="327.53" r="4.6" fill="#BF812D"/>
<circle cx="1028.41" cy="330.35" r="4.6" fill="#BCBDDC"/>
<circle cx="965.87" cy="319.22" r="4.6" fill="#C7E9C0"/>
<circle cx="983.38" cy="318.51" r="4.6" fill="#4292C6"/>
<circle cx="1001.97" cy="329.76" r="4.6" fill="#238B45"/>
<circle cx="985.27" cy="327.58" r="4.6" fill="#BF812D"/>
<circle cx="974.05" cy="321.32" r="4.6" fill="#FBC4DC"/>
<circle cx="1013.86" cy="326.26" r="4.6" fill="#FEEA6E"/>
<circle cx="1034.34" cy="325.94" r="4.6" fill="#238B45"/>
<circle cx="949.98" cy="329.46" r="4.6" fill="#BF812D"/>
<circle cx="1004.66" cy="322.67" r="4.6" fill="#BCBDDC"/>
<circle cx="932.47" cy="322.59" r="4.6" fill="#DEEBF7"/>
<circle cx="993.59" cy="319.9" r="4.6" fill="#FEEA6E"/>
<circle cx="1021.91" cy="322.74" r="4.6" fill="#C7E9C0"/>
<circle cx="963.53" cy="324.08" r="4.6" fill="#BF812D"/>
<circle cx="991.56" cy="328.22" r="4.6" fill="#FEEA6E"/>
<circle cx="930.88" cy="324.18" r="4.6" fill="#D9D9D9"/>
<circle cx="1021.88" cy="325.95" r="4.6" fill="#C7E9C0"/>
<circle cx="930.72" cy="324.39" r="4.6" fill="#DEEBF7"/>
<circle cx="1020.74" cy="326.58" r="4.6" fill="#C7E9C0"/>
<circle cx="1016.08" cy="324.61" r="4.6" fill="#FEEA6E"/>
<circle cx="950.8" cy="321.41" r="4.6" fill="#FEEA6E"/>
<circle cx="1013.7" cy="317.28" r="4.6" fill="#C7E9C0"/>
<circle cx="933.07" cy="323.52" r="4.6" fill="#D9D9D9"/>
<circle cx="932.5" cy="320.94" r="4.6" fill="#D9D9D9"/>
<circle cx="1010.82" cy="326.35" r="4.6" fill="#BCBDDC"/>
<circle cx="976.55" cy="327.61" r="4.6" fill="#FBC4DC"/>
<circle cx="974.1" cy="328.94" r="4.6" fill="#FDD0A2"/>
<circle cx="977.04" cy="325.3" r="4.6" fill="#FDD0A2"/>
<circle cx="949.4" cy="324.56" r="4.6" fill="#BCBDDC"/>
<circle cx="997.01" cy="327.57" r="4.6" fill="#238B45"/>
<circle cx="965.46" cy="320.28" r="4.6" fill="#BF812D"/>
<circle cx="951.9" cy="323.46" r="4.6" fill="#FEEA6E"/>
<circle cx="975.22" cy="326.25" r="4.6" fill="#FEEA6E"/>
<circle cx="1017.8" cy="319.87" r="4.6" fill="#C7E9C0"/>
<circle cx="991.28" cy="323.21" r="4.6" fill="#FEEA6E"/>
<circle cx="1023.59" cy="321.98" r="4.6" fill="#FEEA6E"/>
<circle cx="951.49" cy="324.86" r="4.6" fill="#238B45"/>
<circle cx="984.56" cy="319.71" r="4.6" fill="#FEEA6E"/>
<circle cx="1030.96" cy="318.81" r="4.6" fill="#BCBDDC"/>
<circle cx="1009.86" cy="323.35" r="4.6" fill="#BF812D"/>
<circle cx="1010.98" cy="327.84" r="4.6" fill="#BCBDDC"/>
<circle cx="976.82" cy="318.84" r="4.6" fill="#FDD0A2"/>
<circle cx="975.03" cy="322.2" r="4.6" fill="#FBC4DC"/>
<circle cx="964.92" cy="324.34" r="4.6" fill="#FEEA6E"/>
<circle cx="985.7" cy="328.82" r="4.6" fill="#4292C6"/>
<circle cx="963.94" cy="329" r="4.6" fill="#FEEA6E"/>
<circle cx="1009.59" cy="320.2" r="4.6" fill="#FBC4DC"/>
<circle cx="952.28" cy="320.42" r="4.6" fill="#BF812D"/>
<circle cx="997.38" cy="319.65" r="4.6" fill="#238B45"/>
<circle cx="965.27" cy="321.89" r="4.6" fill="#BF812D"/>
<circle cx="993.4" cy="326.7" r="4.6" fill="#FEEA6E"/>
<circle cx="965.74" cy="318.84" r="4.6" fill="#BF812D"/>
<circle cx="964.16" cy="321.1" r="4.6" fill="#BF812D"/>
<circle cx="983.7" cy="328.88" r="4.6" fill="#BF812D"/>
<circle cx="933.25" cy="328.58" r="4.6" fill="#969696"/>
<circle cx="930.45" cy="326.68" r="4.6" fill="#BDBDBD"/>
<circle cx="932.45" cy="327.46" r="4.6" fill="#969696"/>
<circle cx="932.28" cy="326.43" r="4.6" fill="#969696"/>
<circle cx="930.19" cy="322.43" r="4.6" fill="#969696"/>
<circle cx="931.81" cy="324.88" r="4.6" fill="#BDBDBD"/>
<circle cx="931.62" cy="328.62" r="4.6" fill="#969696"/>
<circle cx="933.15" cy="328.35" r="4.6" fill="#BDBDBD"/>
<circle cx="931.94" cy="325.27" r="4.6" fill="#969696"/>
<circle cx="930.63" cy="325.68" r="4.6" fill="#BDBDBD"/>
<circle cx="930.96" cy="318.91" r="4.6" fill="#969696"/>
<circle cx="931.3" cy="321.81" r="4.6" fill="#969696"/>
<circle cx="932.52" cy="328.34" r="4.6" fill="#969696"/>
<circle cx="932.26" cy="328.35" r="4.6" fill="#969696"/>
<circle cx="931" cy="319.4" r="4.6" fill="#969696"/>
<circle cx="932.61" cy="324.13" r="4.6" fill="#BDBDBD"/>
<circle cx="949.5" cy="155.4" r="4.6" fill="#CB181D"/>
<circle cx="932.2" cy="189.8" r="4.6" fill="#CB181D"/>
<circle cx="1085.6" cy="226.3" r="4.6" fill="#BCBDDC"/>
<circle cx="932.2" cy="237.8" r="4.6" fill="#BCBDDC"/>
<circle cx="950.2" cy="240.7" r="4.6" fill="#BCBDDC"/>
<circle cx="1069" cy="238.5" r="4.6" fill="#BCBDDC"/>
<circle cx="929.5" cy="255.6" r="4.6" fill="#BCBDDC"/>
<circle cx="933.7" cy="257.5" r="4.6" fill="#FEEA6E"/>
<circle cx="950.5" cy="257.5" r="4.6" fill="#BCBDDC"/>
<circle cx="952" cy="255.6" r="4.6" fill="#FEEA6E"/>
<circle cx="975" cy="255.6" r="4.6" fill="#CB181D"/>
<circle cx="1043" cy="255.6" r="4.6" fill="#FEEA6E"/>
<circle cx="1093.4" cy="256.5" r="4.6" fill="#BCBDDC"/>
<circle cx="929.5" cy="280.5" r="4.6" fill="#BCBDDC"/>
<circle cx="929.5" cy="280.5" r="4.6" fill="#CB181D"/>
<circle cx="933.7" cy="280.5" r="4.6" fill="#FEEA6E"/>
<circle cx="950.2" cy="280.5" r="4.6" fill="#807DBA"/>
<circle cx="951.5" cy="279.5" r="4.6" fill="#CB181D"/>
<circle cx="965" cy="280.5" r="4.6" fill="#FEEA6E"/>
<circle cx="975" cy="279.5" r="4.6" fill="#FEEA6E"/>
<circle cx="975" cy="282.5" r="4.6" fill="#238B45"/>
<circle cx="984.4" cy="279" r="4.6" fill="#CB181D"/>
<circle cx="991.7" cy="281.5" r="4.6" fill="#BCBDDC"/>
<circle cx="997.8" cy="280" r="4.6" fill="#FBC4DC"/>
<circle cx="1007.6" cy="279.5" r="4.6" fill="#BCBDDC"/>
<circle cx="1016.6" cy="281.5" r="4.6" fill="#FDD0A2"/>
<circle cx="1024.6" cy="282" r="4.6" fill="#BCBDDC"/>
<circle cx="1038" cy="281.5" r="4.6" fill="#C7E9C0"/>
<circle cx="1038.5" cy="279" r="4.6" fill="#BCBDDC"/>
<circle cx="1047.8" cy="281.5" r="4.6" fill="#FEEA6E"/>
<circle cx="1055.6" cy="280.5" r="4.6" fill="#BCBDDC"/>
<circle cx="1070.2" cy="280" r="4.6" fill="#BCBDDC"/>
<circle cx="1075.8" cy="281.5" r="4.6" fill="#BCBDDC"/>
<circle cx="1045.9" cy="318" r="4.6" fill="#238B45"/>
<circle cx="1055.2" cy="327" r="4.6" fill="#FEEA6E"/>
<circle cx="1062.4" cy="328.8" r="4.6" fill="#BCBDDC"/>
<line x1="882.6" y1="42.2" x2="882.6" y2="323.8" stroke="#000" stroke-width="2.2"/>
<line x1="870.1" y1="43" x2="883.7" y2="43" stroke="#000" stroke-width="2.2"/>
<line x1="870.1" y1="85" x2="883.7" y2="85" stroke="#000" stroke-width="2.2"/>
<line x1="870.1" y1="177" x2="883.7" y2="177" stroke="#000" stroke-width="2.2"/>
<line x1="870.1" y1="214" x2="883.7" y2="214" stroke="#000" stroke-width="2.2"/>
<line x1="870.1" y1="280.5" x2="883.7" y2="280.5" stroke="#000" stroke-width="2.2"/>
<line x1="870.1" y1="323" x2="883.7" y2="323" stroke="#000" stroke-width="2.2"/>
<text transform="translate(863.4,85) rotate(-90)" font-size="21" text-anchor="middle">50</text>
<text transform="translate(863.4,214) rotate(-90)" font-size="21" text-anchor="middle">5</text>
<text transform="translate(863.4,280.5) rotate(-90)" font-size="21" text-anchor="middle">1</text>
<text transform="translate(863.4,323) rotate(-90)" font-size="21" text-anchor="middle">0</text>
<line x1="897.1" y1="340" x2="1152.2" y2="340" stroke="#000" stroke-width="2.2"/>
<line x1="898.2" y1="340" x2="898.2" y2="353.7" stroke="#000" stroke-width="2.2"/>
<line x1="931.6" y1="340" x2="931.6" y2="353.7" stroke="#000" stroke-width="2.2"/>
<line x1="983.6" y1="340" x2="983.6" y2="353.7" stroke="#000" stroke-width="2.2"/>
<line x1="1012.3" y1="340" x2="1012.3" y2="353.7" stroke="#000" stroke-width="2.2"/>
<line x1="1043.6" y1="340" x2="1043.6" y2="353.7" stroke="#000" stroke-width="2.2"/>
<line x1="1085.6" y1="340" x2="1085.6" y2="353.7" stroke="#000" stroke-width="2.2"/>
<line x1="1118.2" y1="340" x2="1118.2" y2="353.7" stroke="#000" stroke-width="2.2"/>
<line x1="1151.1" y1="340" x2="1151.1" y2="353.7" stroke="#000" stroke-width="2.2"/>
<text x="898.2" y="375.8" font-size="21" text-anchor="middle">0</text>
<text x="931.6" y="375.8" font-size="21" text-anchor="middle">1</text>
<text x="983.6" y="375.8" font-size="21" text-anchor="middle">5</text>
<text x="1043.6" y="375.8" font-size="21" text-anchor="middle">20</text>
<text x="1118.2" y="375.8" font-size="21" text-anchor="middle">100</text>
<text x="909.3" y="59.4" font-size="19.2" style="white-space:pre"><tspan font-style="italic">n</tspan> = 31,060  <tspan font-style="italic">n</tspan><tspan font-size="14" dy="3.2">B</tspan><tspan dy="-3.2"> = 54  </tspan><tspan font-style="italic">n</tspan><tspan font-size="14" dy="3.2">BB</tspan><tspan dy="-3.2"> = 14</tspan></text>
<text x="1402.2" y="27" font-size="33.5" text-anchor="middle">Combo</text>
<line x1="1295.4" y1="43" x2="1295.4" y2="340" stroke="#BEBEBE" stroke-width="2.1"/>
<line x1="1263.4" y1="302.4" x2="1563.4" y2="302.4" stroke="#BEBEBE" stroke-width="2"/>
<circle cx="1330.75" cy="327.97" r="4.6" fill="#FEEA6E"/>
<circle cx="1364.13" cy="327.66" r="4.6" fill="#9ECAE1"/>
<circle cx="1382.21" cy="326.69" r="4.6" fill="#9ECAE1"/>
<circle cx="1377.3" cy="323.09" r="4.6" fill="#9ECAE1"/>
<circle cx="1333.02" cy="320.7" r="4.6" fill="#FBC4DC"/>
<circle cx="1372.48" cy="320.21" r="4.6" fill="#FEEA6E"/>
<circle cx="1432.86" cy="325.54" r="4.6" fill="#BCBDDC"/>
<circle cx="1441.48" cy="321.87" r="4.6" fill="#C7E9C0"/>
<circle cx="1313.01" cy="323.54" r="4.6" fill="#FEEA6E"/>
<circle cx="1382.92" cy="326.38" r="4.6" fill="#9ECAE1"/>
<circle cx="1430.99" cy="325.08" r="4.6" fill="#FEEA6E"/>
<circle cx="1310.9" cy="321.92" r="4.6" fill="#D9D9D9"/>
<circle cx="1313.89" cy="325.23" r="4.6" fill="#D9D9D9"/>
<circle cx="1424.13" cy="317.5" r="4.6" fill="#9ECAE1"/>
<circle cx="1381.04" cy="321.77" r="4.6" fill="#9ECAE1"/>
<circle cx="1345.33" cy="324.71" r="4.6" fill="#FEEA6E"/>
<circle cx="1331.19" cy="320.05" r="4.6" fill="#9ECAE1"/>
<circle cx="1355.57" cy="318.92" r="4.6" fill="#FEEA6E"/>
<circle cx="1424.73" cy="330.43" r="4.6" fill="#BCBDDC"/>
<circle cx="1331.17" cy="318.52" r="4.6" fill="#FEEA6E"/>
<circle cx="1378.82" cy="320.66" r="4.6" fill="#9ECAE1"/>
<circle cx="1347.21" cy="324.24" r="4.6" fill="#FEEA6E"/>
<circle cx="1331.36" cy="321.58" r="4.6" fill="#9ECAE1"/>
<circle cx="1311.94" cy="327.55" r="4.6" fill="#FBC4DC"/>
<circle cx="1392.89" cy="327" r="4.6" fill="#FEEA6E"/>
<circle cx="1400.91" cy="318.72" r="4.6" fill="#9ECAE1"/>
<circle cx="1345.84" cy="320.72" r="4.6" fill="#9ECAE1"/>
<circle cx="1414.84" cy="322.91" r="4.6" fill="#9ECAE1"/>
<circle cx="1386.71" cy="324.3" r="4.6" fill="#BCBDDC"/>
<circle cx="1333.66" cy="326.24" r="4.6" fill="#9ECAE1"/>
<circle cx="1390.07" cy="321.87" r="4.6" fill="#9ECAE1"/>
<circle cx="1419.73" cy="325.98" r="4.6" fill="#BCBDDC"/>
<circle cx="1422.79" cy="324.28" r="4.6" fill="#9ECAE1"/>
<circle cx="1356.9" cy="323.35" r="4.6" fill="#FEEA6E"/>
<circle cx="1332.35" cy="321.98" r="4.6" fill="#9ECAE1"/>
<circle cx="1404.97" cy="325.02" r="4.6" fill="#9ECAE1"/>
<circle cx="1366.85" cy="328.31" r="4.6" fill="#BCBDDC"/>
<circle cx="1413.65" cy="327.02" r="4.6" fill="#BCBDDC"/>
<circle cx="1313.46" cy="322.14" r="4.6" fill="#FBC4DC"/>
<circle cx="1355.15" cy="322.06" r="4.6" fill="#FEEA6E"/>
<circle cx="1373.26" cy="327.16" r="4.6" fill="#BCBDDC"/>
<circle cx="1444.79" cy="325.63" r="4.6" fill="#FEEA6E"/>
<circle cx="1356.81" cy="325.55" r="4.6" fill="#FEEA6E"/>
<circle cx="1344.36" cy="320.75" r="4.6" fill="#FEEA6E"/>
<circle cx="1378.72" cy="319.27" r="4.6" fill="#BCBDDC"/>
<circle cx="1345.67" cy="319.46" r="4.6" fill="#FB6A4A"/>
<circle cx="1425.14" cy="317.55" r="4.6" fill="#9ECAE1"/>
<circle cx="1392.5" cy="326.83" r="4.6" fill="#BCBDDC"/>
<circle cx="1428.86" cy="318.18" r="4.6" fill="#BCBDDC"/>
<circle cx="1332.77" cy="323.67" r="4.6" fill="#FBC4DC"/>
<circle cx="1373.05" cy="321.76" r="4.6" fill="#BCBDDC"/>
<circle cx="1402.95" cy="327.66" r="4.6" fill="#BCBDDC"/>
<circle cx="1432.48" cy="319.82" r="4.6" fill="#FEEA6E"/>
<circle cx="1364.17" cy="321.12" r="4.6" fill="#9ECAE1"/>
<circle cx="1436.9" cy="322.55" r="4.6" fill="#FEEA6E"/>
<circle cx="1346.13" cy="320.85" r="4.6" fill="#FB6A4A"/>
<circle cx="1344.93" cy="318.92" r="4.6" fill="#9ECAE1"/>
<circle cx="1366.93" cy="328.03" r="4.6" fill="#9ECAE1"/>
<circle cx="1312.75" cy="329.42" r="4.6" fill="#FEEA6E"/>
<circle cx="1417.95" cy="324.43" r="4.6" fill="#9ECAE1"/>
<circle cx="1357.1" cy="329.34" r="4.6" fill="#FEEA6E"/>
<circle cx="1399.25" cy="319.35" r="4.6" fill="#FEEA6E"/>
<circle cx="1402.07" cy="318.31" r="4.6" fill="#9ECAE1"/>
<circle cx="1312.63" cy="321.34" r="4.6" fill="#FBC4DC"/>
<circle cx="1397.76" cy="328.44" r="4.6" fill="#BCBDDC"/>
<circle cx="1388.18" cy="326.32" r="4.6" fill="#FEEA6E"/>
<circle cx="1386.55" cy="325.16" r="4.6" fill="#BCBDDC"/>
<circle cx="1356.11" cy="321.09" r="4.6" fill="#FEEA6E"/>
<circle cx="1333.55" cy="327.13" r="4.6" fill="#9ECAE1"/>
<circle cx="1331.51" cy="326.03" r="4.6" fill="#9ECAE1"/>
<circle cx="1372.57" cy="320.14" r="4.6" fill="#9ECAE1"/>
<circle cx="1331.35" cy="325.16" r="4.6" fill="#FEEA6E"/>
<circle cx="1345.77" cy="327.8" r="4.6" fill="#9ECAE1"/>
<circle cx="1443.72" cy="326.49" r="4.6" fill="#BCBDDC"/>
<circle cx="1331.83" cy="320.77" r="4.6" fill="#FEEA6E"/>
<circle cx="1401.74" cy="328.72" r="4.6" fill="#9ECAE1"/>
<circle cx="1398.56" cy="317.36" r="4.6" fill="#9ECAE1"/>
<circle cx="1332.08" cy="324.44" r="4.6" fill="#FEEA6E"/>
<circle cx="1444.39" cy="326.36" r="4.6" fill="#BCBDDC"/>
<circle cx="1440.08" cy="319.22" r="4.6" fill="#C7E9C0"/>
<circle cx="1425.3" cy="326.07" r="4.6" fill="#9ECAE1"/>
<circle cx="1393.66" cy="318.51" r="4.6" fill="#9ECAE1"/>
<circle cx="1330.68" cy="329.23" r="4.6" fill="#9ECAE1"/>
<circle cx="1346.83" cy="327.93" r="4.6" fill="#9ECAE1"/>
<circle cx="1427.86" cy="324.16" r="4.6" fill="#FEEA6E"/>
<circle cx="1414.55" cy="326.52" r="4.6" fill="#BCBDDC"/>
<circle cx="1388.45" cy="328.64" r="4.6" fill="#9ECAE1"/>
<circle cx="1313.24" cy="319.43" r="4.6" fill="#D9D9D9"/>
<circle cx="1346.85" cy="320.22" r="4.6" fill="#9ECAE1"/>
<circle cx="1311.14" cy="325.91" r="4.6" fill="#D9D9D9"/>
<circle cx="1373.01" cy="327.69" r="4.6" fill="#9ECAE1"/>
<circle cx="1409.61" cy="322.54" r="4.6" fill="#9ECAE1"/>
<circle cx="1332.26" cy="318.6" r="4.6" fill="#FEEA6E"/>
<circle cx="1333.15" cy="325.11" r="4.6" fill="#FEEA6E"/>
<circle cx="1355.14" cy="321.99" r="4.6" fill="#FEEA6E"/>
<circle cx="1387.97" cy="322.73" r="4.6" fill="#9ECAE1"/>
<circle cx="1311.29" cy="328.64" r="4.6" fill="#D9D9D9"/>
<circle cx="1332.26" cy="329.24" r="4.6" fill="#FBC4DC"/>
<circle cx="1434.07" cy="324.67" r="4.6" fill="#9ECAE1"/>
<circle cx="1331.12" cy="320.23" r="4.6" fill="#FEEA6E"/>
<circle cx="1386.64" cy="329.45" r="4.6" fill="#9ECAE1"/>
<circle cx="1358.16" cy="325.95" r="4.6" fill="#FEEA6E"/>
<circle cx="1366.14" cy="320.65" r="4.6" fill="#9ECAE1"/>
<circle cx="1386.03" cy="319.75" r="4.6" fill="#BCBDDC"/>
<circle cx="1434.09" cy="321.35" r="4.6" fill="#BCBDDC"/>
<circle cx="1347.14" cy="322.59" r="4.6" fill="#FEEA6E"/>
<circle cx="1331.27" cy="319.13" r="4.6" fill="#FEEA6E"/>
<circle cx="1356.6" cy="320.51" r="4.6" fill="#FEEA6E"/>
<circle cx="1389.54" cy="327.1" r="4.6" fill="#FEEA6E"/>
<circle cx="1331.87" cy="327.06" r="4.6" fill="#FEEA6E"/>
<circle cx="1365.28" cy="325.41" r="4.6" fill="#9ECAE1"/>
<circle cx="1443.31" cy="318.53" r="4.6" fill="#BCBDDC"/>
<circle cx="1421.7" cy="329.38" r="4.6" fill="#9ECAE1"/>
<circle cx="1406.35" cy="320.18" r="4.6" fill="#FEEA6E"/>
<circle cx="1410.15" cy="325.36" r="4.6" fill="#BCBDDC"/>
<circle cx="1344.18" cy="329.47" r="4.6" fill="#FB6A4A"/>
<circle cx="1313.37" cy="319.16" r="4.6" fill="#D9D9D9"/>
<circle cx="1313.43" cy="318.94" r="4.6" fill="#D9D9D9"/>
<circle cx="1371.92" cy="320.72" r="4.6" fill="#FEEA6E"/>
<circle cx="1332.62" cy="328.55" r="4.6" fill="#FEEA6E"/>
<circle cx="1358.03" cy="327.71" r="4.6" fill="#FEEA6E"/>
<circle cx="1344.71" cy="320.49" r="4.6" fill="#FB6A4A"/>
<circle cx="1413.55" cy="329.78" r="4.6" fill="#9ECAE1"/>
<circle cx="1355.7" cy="324.15" r="4.6" fill="#FEEA6E"/>
<circle cx="1310.91" cy="323.69" r="4.6" fill="#FEEA6E"/>
<circle cx="1346.8" cy="321.06" r="4.6" fill="#FB6A4A"/>
<circle cx="1366.36" cy="329.04" r="4.6" fill="#BCBDDC"/>
<circle cx="1381.72" cy="318.37" r="4.6" fill="#BCBDDC"/>
<circle cx="1330.67" cy="327.27" r="4.6" fill="#FEEA6E"/>
<circle cx="1357.32" cy="319.49" r="4.6" fill="#FEEA6E"/>
<circle cx="1396.81" cy="330.54" r="4.6" fill="#9ECAE1"/>
<circle cx="1332.93" cy="321.08" r="4.6" fill="#FEEA6E"/>
<circle cx="1357.88" cy="325.54" r="4.6" fill="#FEEA6E"/>
<circle cx="1377.04" cy="325.96" r="4.6" fill="#9ECAE1"/>
<circle cx="1424.39" cy="325.73" r="4.6" fill="#BCBDDC"/>
<circle cx="1429.59" cy="318.23" r="4.6" fill="#FEEA6E"/>
<circle cx="1435.73" cy="319.64" r="4.6" fill="#9ECAE1"/>
<circle cx="1358.16" cy="319.15" r="4.6" fill="#FEEA6E"/>
<circle cx="1367.06" cy="322.05" r="4.6" fill="#9ECAE1"/>
<circle cx="1413.47" cy="321.74" r="4.6" fill="#FEEA6E"/>
<circle cx="1402.72" cy="326.84" r="4.6" fill="#BCBDDC"/>
<circle cx="1395.79" cy="329.15" r="4.6" fill="#BCBDDC"/>
<circle cx="1364.76" cy="326.6" r="4.6" fill="#9ECAE1"/>
<circle cx="1417.58" cy="322.89" r="4.6" fill="#9ECAE1"/>
<circle cx="1344.2" cy="324.63" r="4.6" fill="#FEEA6E"/>
<circle cx="1364.97" cy="322.62" r="4.6" fill="#BCBDDC"/>
<circle cx="1347.6" cy="322.66" r="4.6" fill="#9ECAE1"/>
<circle cx="1377.5" cy="325" r="4.6" fill="#9ECAE1"/>
<circle cx="1378.88" cy="328.05" r="4.6" fill="#BCBDDC"/>
<circle cx="1366.59" cy="325.41" r="4.6" fill="#BCBDDC"/>
<circle cx="1311.93" cy="326.72" r="4.6" fill="#FEEA6E"/>
<circle cx="1416.54" cy="317.75" r="4.6" fill="#BCBDDC"/>
<circle cx="1417.84" cy="319.81" r="4.6" fill="#9ECAE1"/>
<circle cx="1345.55" cy="328.91" r="4.6" fill="#9ECAE1"/>
<circle cx="1374.24" cy="319.76" r="4.6" fill="#9ECAE1"/>
<circle cx="1333.59" cy="320.3" r="4.6" fill="#FEEA6E"/>
<circle cx="1404.88" cy="322.68" r="4.6" fill="#FEEA6E"/>
<circle cx="1373.56" cy="324.59" r="4.6" fill="#BCBDDC"/>
<circle cx="1391.61" cy="329.1" r="4.6" fill="#9ECAE1"/>
<circle cx="1313.16" cy="323.57" r="4.6" fill="#FBC4DC"/>
<circle cx="1408.44" cy="328.56" r="4.6" fill="#9ECAE1"/>
<circle cx="1396.8" cy="329.97" r="4.6" fill="#9ECAE1"/>
<circle cx="1440.26" cy="320.03" r="4.6" fill="#C7E9C0"/>
<circle cx="1310.67" cy="326.41" r="4.6" fill="#FEEA6E"/>
<circle cx="1371.93" cy="319.7" r="4.6" fill="#9ECAE1"/>
<circle cx="1310.65" cy="318.66" r="4.6" fill="#D9D9D9"/>
<circle cx="1437.25" cy="330.33" r="4.6" fill="#FEEA6E"/>
<circle cx="1441.33" cy="328.68" r="4.6" fill="#FEEA6E"/>
<circle cx="1437.96" cy="323.88" r="4.6" fill="#FEEA6E"/>
<circle cx="1421.62" cy="330.12" r="4.6" fill="#9ECAE1"/>
<circle cx="1345.26" cy="324.21" r="4.6" fill="#9ECAE1"/>
<circle cx="1384.88" cy="320.83" r="4.6" fill="#BCBDDC"/>
<circle cx="1393.94" cy="330.05" r="4.6" fill="#BCBDDC"/>
<circle cx="1312.23" cy="326.69" r="4.6" fill="#DEEBF7"/>
<circle cx="1311.27" cy="318.88" r="4.6" fill="#DEEBF7"/>
<circle cx="1312.87" cy="323.2" r="4.6" fill="#DEEBF7"/>
<circle cx="1312.16" cy="325.56" r="4.6" fill="#DEEBF7"/>
<circle cx="1312.04" cy="319.69" r="4.6" fill="#DEEBF7"/>
<circle cx="1313.4" cy="323.13" r="4.6" fill="#BDBDBD"/>
<circle cx="1312.4" cy="324.24" r="4.6" fill="#DEEBF7"/>
<circle cx="1313.9" cy="319.08" r="4.6" fill="#DEEBF7"/>
<circle cx="1311.4" cy="319.83" r="4.6" fill="#BDBDBD"/>
<circle cx="1313.8" cy="324.5" r="4.6" fill="#DEEBF7"/>
<circle cx="1313.76" cy="319.41" r="4.6" fill="#DEEBF7"/>
<circle cx="1312.32" cy="323.04" r="4.6" fill="#DEEBF7"/>
<circle cx="1310.97" cy="320.49" r="4.6" fill="#DEEBF7"/>
<circle cx="1312.22" cy="318.66" r="4.6" fill="#BDBDBD"/>
<circle cx="1312.13" cy="319.61" r="4.6" fill="#DEEBF7"/>
<circle cx="1313.18" cy="319.9" r="4.6" fill="#DEEBF7"/>
<circle cx="1313.07" cy="319.84" r="4.6" fill="#DEEBF7"/>
<circle cx="1483.9" cy="107.8" r="4.6" fill="#4292C6"/>
<circle cx="1487.3" cy="178" r="4.6" fill="#4292C6"/>
<circle cx="1468.5" cy="189.8" r="4.6" fill="#4292C6"/>
<circle cx="1516.3" cy="226.8" r="4.6" fill="#BCBDDC"/>
<circle cx="1332" cy="240.2" r="4.6" fill="#C7E9C0"/>
<circle cx="1393.7" cy="238.5" r="4.6" fill="#BCBDDC"/>
<circle cx="1434.6" cy="240.2" r="4.6" fill="#BCBDDC"/>
<circle cx="1543.8" cy="62.2" r="4.6" fill="#BCBDDC"/>
<circle cx="1313.7" cy="257" r="4.6" fill="#FBC4DC"/>
<circle cx="1330" cy="256" r="4.6" fill="#FEEA6E"/>
<circle cx="1332" cy="257.5" r="4.6" fill="#FEEA6E"/>
<circle cx="1346" cy="254.5" r="4.6" fill="#FEEA6E"/>
<circle cx="1356.8" cy="256" r="4.6" fill="#FEEA6E"/>
<circle cx="1364.6" cy="257" r="4.6" fill="#FEEA6E"/>
<circle cx="1372" cy="257" r="4.6" fill="#FEEA6E"/>
<circle cx="1378" cy="256" r="4.6" fill="#FEEA6E"/>
<circle cx="1384" cy="255.5" r="4.6" fill="#FEEA6E"/>
<circle cx="1390" cy="255.5" r="4.6" fill="#FEEA6E"/>
<circle cx="1398" cy="256.2" r="4.6" fill="#C7E9C0"/>
<circle cx="1463.7" cy="258.5" r="4.6" fill="#FEEA6E"/>
<circle cx="1312.2" cy="280.5" r="4.6" fill="#4292C6"/>
<circle cx="1312.5" cy="282" r="4.6" fill="#9ECAE1"/>
<circle cx="1331" cy="280" r="4.6" fill="#807DBA"/>
<circle cx="1332" cy="282" r="4.6" fill="#FEEA6E"/>
<circle cx="1345" cy="280" r="4.6" fill="#FEEA6E"/>
<circle cx="1345" cy="282.5" r="4.6" fill="#238B45"/>
<circle cx="1356.6" cy="282" r="4.6" fill="#FEEA6E"/>
<circle cx="1364.6" cy="282" r="4.6" fill="#BCBDDC"/>
<circle cx="1389" cy="279.5" r="4.6" fill="#FEEA6E"/>
<circle cx="1393.7" cy="279" r="4.6" fill="#9ECAE1"/>
<circle cx="1404.6" cy="283.5" r="4.6" fill="#BF812D"/>
<circle cx="1419.3" cy="281.5" r="4.6" fill="#FEEA6E"/>
<circle cx="1426.6" cy="282.5" r="4.6" fill="#BCBDDC"/>
<circle cx="1457" cy="281.5" r="4.6" fill="#BCBDDC"/>
<circle cx="1490" cy="280.5" r="4.6" fill="#CB181D"/>
<circle cx="1468" cy="324" r="4.6" fill="#C7E9C0"/>
<circle cx="1473.4" cy="328" r="4.6" fill="#9ECAE1"/>
<circle cx="1504.6" cy="319" r="4.6" fill="#BCBDDC"/>
<circle cx="1518" cy="323" r="4.6" fill="#BCBDDC"/>
<circle cx="1365.4" cy="319" r="4.6" fill="#238B45"/>
<circle cx="1394" cy="317.6" r="4.6" fill="#238B45"/>
<circle cx="1413.7" cy="322.7" r="4.6" fill="#238B45"/>
<circle cx="1451.8" cy="319.8" r="4.6" fill="#238B45"/>
<circle cx="1429.8" cy="318.3" r="4.6" fill="#CB181D"/>
<line x1="1263.4" y1="42.2" x2="1263.4" y2="323.8" stroke="#000" stroke-width="2.2"/>
<line x1="1250.9" y1="43" x2="1264.5" y2="43" stroke="#000" stroke-width="2.2"/>
<line x1="1250.9" y1="85" x2="1264.5" y2="85" stroke="#000" stroke-width="2.2"/>
<line x1="1250.9" y1="177" x2="1264.5" y2="177" stroke="#000" stroke-width="2.2"/>
<line x1="1250.9" y1="214" x2="1264.5" y2="214" stroke="#000" stroke-width="2.2"/>
<line x1="1250.9" y1="280.5" x2="1264.5" y2="280.5" stroke="#000" stroke-width="2.2"/>
<line x1="1250.9" y1="323" x2="1264.5" y2="323" stroke="#000" stroke-width="2.2"/>
<text transform="translate(1244.2,85) rotate(-90)" font-size="21" text-anchor="middle">50</text>
<text transform="translate(1244.2,214) rotate(-90)" font-size="21" text-anchor="middle">5</text>
<text transform="translate(1244.2,280.5) rotate(-90)" font-size="21" text-anchor="middle">1</text>
<text transform="translate(1244.2,323) rotate(-90)" font-size="21" text-anchor="middle">0</text>
<line x1="1277.9" y1="340" x2="1533" y2="340" stroke="#000" stroke-width="2.2"/>
<line x1="1279" y1="340" x2="1279" y2="353.7" stroke="#000" stroke-width="2.2"/>
<line x1="1312.4" y1="340" x2="1312.4" y2="353.7" stroke="#000" stroke-width="2.2"/>
<line x1="1364.4" y1="340" x2="1364.4" y2="353.7" stroke="#000" stroke-width="2.2"/>
<line x1="1393.1" y1="340" x2="1393.1" y2="353.7" stroke="#000" stroke-width="2.2"/>
<line x1="1424.4" y1="340" x2="1424.4" y2="353.7" stroke="#000" stroke-width="2.2"/>
<line x1="1466.4" y1="340" x2="1466.4" y2="353.7" stroke="#000" stroke-width="2.2"/>
<line x1="1499" y1="340" x2="1499" y2="353.7" stroke="#000" stroke-width="2.2"/>
<line x1="1531.9" y1="340" x2="1531.9" y2="353.7" stroke="#000" stroke-width="2.2"/>
<text x="1279" y="375.8" font-size="21" text-anchor="middle">0</text>
<text x="1312.4" y="375.8" font-size="21" text-anchor="middle">1</text>
<text x="1364.4" y="375.8" font-size="21" text-anchor="middle">5</text>
<text x="1424.4" y="375.8" font-size="21" text-anchor="middle">20</text>
<text x="1499" y="375.8" font-size="21" text-anchor="middle">100</text>
<text x="1290" y="59.4" font-size="19.2" style="white-space:pre"><tspan font-style="italic">n</tspan> = 27,068  <tspan font-style="italic">n</tspan><tspan font-size="14" dy="3.2">B</tspan><tspan dy="-3.2"> = 62  </tspan><tspan font-style="italic">n</tspan><tspan font-size="14" dy="3.2">BB</tspan><tspan dy="-3.2"> = 21</tspan></text>
<text x="1773.3" y="27.2" font-size="33.5" text-anchor="middle">Combo + FTY720</text>
<line x1="1676.2" y1="43" x2="1676.2" y2="340" stroke="#BEBEBE" stroke-width="2.1"/>
<line x1="1644.2" y1="302.4" x2="1944.2" y2="302.4" stroke="#BEBEBE" stroke-width="2"/>
<circle cx="1826.07" cy="322" r="4.6" fill="#BCBDDC"/>
<circle cx="1813.73" cy="325.52" r="4.6" fill="#C7E9C0"/>
<circle cx="1776.21" cy="319.06" r="4.6" fill="#FEEA6E"/>
<circle cx="1727.5" cy="329.48" r="4.6" fill="#FEEA6E"/>
<circle cx="1762.97" cy="328.26" r="4.6" fill="#238B45"/>
<circle cx="1821.52" cy="319.88" r="4.6" fill="#BCBDDC"/>
<circle cx="1746.12" cy="327.12" r="4.6" fill="#9ECAE1"/>
<circle cx="1725.67" cy="321.36" r="4.6" fill="#FEEA6E"/>
<circle cx="1757.83" cy="318.01" r="4.6" fill="#BCBDDC"/>
<circle cx="1727.67" cy="320.81" r="4.6" fill="#CB181D"/>
<circle cx="1692.77" cy="329.04" r="4.6" fill="#DEEBF7"/>
<circle cx="1798.45" cy="319.7" r="4.6" fill="#BCBDDC"/>
<circle cx="1728.17" cy="326.11" r="4.6" fill="#FEEA6E"/>
<circle cx="1813.44" cy="319.01" r="4.6" fill="#BCBDDC"/>
<circle cx="1736.09" cy="324.7" r="4.6" fill="#BF812D"/>
<circle cx="1693.4" cy="322.76" r="4.6" fill="#FEEA6E"/>
<circle cx="1711.52" cy="326.62" r="4.6" fill="#4292C6"/>
<circle cx="1810.58" cy="323.56" r="4.6" fill="#FBC4DC"/>
<circle cx="1714.33" cy="320.44" r="4.6" fill="#4292C6"/>
<circle cx="1817.53" cy="327.84" r="4.6" fill="#BCBDDC"/>
<circle cx="1692.03" cy="322.44" r="4.6" fill="#DEEBF7"/>
<circle cx="1818.68" cy="325.89" r="4.6" fill="#FBC4DC"/>
<circle cx="1809.64" cy="325.25" r="4.6" fill="#BCBDDC"/>
<circle cx="1881.46" cy="317.38" r="4.6" fill="#BCBDDC"/>
<circle cx="1711.37" cy="328.54" r="4.6" fill="#FDD0A2"/>
<circle cx="1796.99" cy="317.61" r="4.6" fill="#FBC4DC"/>
<circle cx="1736.84" cy="321.79" r="4.6" fill="#FBC4DC"/>
<circle cx="1823.87" cy="321.26" r="4.6" fill="#FBC4DC"/>
<circle cx="1738.06" cy="319.96" r="4.6" fill="#FBC4DC"/>
<circle cx="1814.67" cy="325.03" r="4.6" fill="#C7E9C0"/>
<circle cx="1789.25" cy="327.44" r="4.6" fill="#FBC4DC"/>
<circle cx="1693.84" cy="324.93" r="4.6" fill="#FEEA6E"/>
<circle cx="1808.48" cy="324.4" r="4.6" fill="#FBC4DC"/>
<circle cx="1822.81" cy="325.22" r="4.6" fill="#C7E9C0"/>
<circle cx="1755.11" cy="329.5" r="4.6" fill="#FEEA6E"/>
<circle cx="1727.8" cy="321.59" r="4.6" fill="#FEEA6E"/>
<circle cx="1775.51" cy="324.91" r="4.6" fill="#FEEA6E"/>
<circle cx="1848.26" cy="319.8" r="4.6" fill="#BCBDDC"/>
<circle cx="1772.43" cy="320.11" r="4.6" fill="#FEEA6E"/>
<circle cx="1738.31" cy="320.36" r="4.6" fill="#FBC4DC"/>
<circle cx="1794.35" cy="327.3" r="4.6" fill="#BCBDDC"/>
<circle cx="1736.43" cy="321.16" r="4.6" fill="#FBC4DC"/>
<circle cx="1784.44" cy="318.92" r="4.6" fill="#BCBDDC"/>
<circle cx="1713.85" cy="326.84" r="4.6" fill="#FDD0A2"/>
<circle cx="1754.12" cy="322.42" r="4.6" fill="#238B45"/>
<circle cx="1761.15" cy="319.29" r="4.6" fill="#C7E9C0"/>
<circle cx="1726.79" cy="329.16" r="4.6" fill="#FEEA6E"/>
<circle cx="1807.39" cy="328.21" r="4.6" fill="#BCBDDC"/>
<circle cx="1713.4" cy="325.8" r="4.6" fill="#4292C6"/>
<circle cx="1823.42" cy="321.32" r="4.6" fill="#FBC4DC"/>
<circle cx="1692.52" cy="328.13" r="4.6" fill="#FEEA6E"/>
<circle cx="1780.41" cy="320.18" r="4.6" fill="#FEEA6E"/>
<circle cx="1768.17" cy="329.72" r="4.6" fill="#9ECAE1"/>
<circle cx="1692.38" cy="327.69" r="4.6" fill="#DEEBF7"/>
<circle cx="1691.57" cy="328.74" r="4.6" fill="#DEEBF7"/>
<circle cx="1800.63" cy="320.62" r="4.6" fill="#C7E9C0"/>
<circle cx="1754.47" cy="322.09" r="4.6" fill="#238B45"/>
<circle cx="1744.73" cy="326.41" r="4.6" fill="#9ECAE1"/>
<circle cx="1735.97" cy="321.9" r="4.6" fill="#C7E9C0"/>
<circle cx="1807.33" cy="330.55" r="4.6" fill="#BCBDDC"/>
<circle cx="1805.26" cy="317.19" r="4.6" fill="#FBC4DC"/>
<circle cx="1726.08" cy="328.95" r="4.6" fill="#CB181D"/>
<circle cx="1785.3" cy="325.32" r="4.6" fill="#C7E9C0"/>
<circle cx="1751.94" cy="324.74" r="4.6" fill="#9ECAE1"/>
<circle cx="1762.1" cy="323.71" r="4.6" fill="#BCBDDC"/>
<circle cx="1785.14" cy="319.68" r="4.6" fill="#FEEA6E"/>
<circle cx="1713.75" cy="321.05" r="4.6" fill="#FDD0A2"/>
<circle cx="1714.32" cy="319.73" r="4.6" fill="#4292C6"/>
<circle cx="1763.41" cy="328.34" r="4.6" fill="#238B45"/>
<circle cx="1692.23" cy="323.48" r="4.6" fill="#DEEBF7"/>
<circle cx="1711.85" cy="327.81" r="4.6" fill="#4292C6"/>
<circle cx="1744.67" cy="326.39" r="4.6" fill="#9ECAE1"/>
<circle cx="1714.2" cy="328.13" r="4.6" fill="#FEEA6E"/>
<circle cx="1821.07" cy="327.96" r="4.6" fill="#FBC4DC"/>
<circle cx="1805.56" cy="325.69" r="4.6" fill="#BCBDDC"/>
<circle cx="1753.12" cy="324.56" r="4.6" fill="#FEEA6E"/>
<circle cx="1819.32" cy="327.02" r="4.6" fill="#FBC4DC"/>
<circle cx="1825.66" cy="329.91" r="4.6" fill="#BCBDDC"/>
<circle cx="1775.59" cy="318.57" r="4.6" fill="#FEEA6E"/>
<circle cx="1713.52" cy="318.94" r="4.6" fill="#FEEA6E"/>
<circle cx="1738.05" cy="323.85" r="4.6" fill="#BF812D"/>
<circle cx="1780.96" cy="326.51" r="4.6" fill="#FEEA6E"/>
<circle cx="1753.96" cy="325.39" r="4.6" fill="#238B45"/>
<circle cx="1869.93" cy="317.07" r="4.6" fill="#BCBDDC"/>
<circle cx="1713.22" cy="328.86" r="4.6" fill="#FDD0A2"/>
<circle cx="1735.79" cy="321.59" r="4.6" fill="#C7E9C0"/>
<circle cx="1832.59" cy="327.62" r="4.6" fill="#BCBDDC"/>
<circle cx="1744.45" cy="322.85" r="4.6" fill="#BCBDDC"/>
<circle cx="1804.29" cy="326.65" r="4.6" fill="#FBC4DC"/>
<circle cx="1691.44" cy="328.21" r="4.6" fill="#FEEA6E"/>
<circle cx="1767.82" cy="319.3" r="4.6" fill="#C7E9C0"/>
<circle cx="1713.74" cy="328.21" r="4.6" fill="#FDD0A2"/>
<circle cx="1818.31" cy="327.69" r="4.6" fill="#FBC4DC"/>
<circle cx="1808.55" cy="329.22" r="4.6" fill="#BCBDDC"/>
<circle cx="1713.14" cy="323.24" r="4.6" fill="#4292C6"/>
<circle cx="1783.9" cy="330.45" r="4.6" fill="#BCBDDC"/>
<circle cx="1757.32" cy="317.12" r="4.6" fill="#BCBDDC"/>
<circle cx="1821.09" cy="328.33" r="4.6" fill="#FBC4DC"/>
<circle cx="1727.3" cy="327.73" r="4.6" fill="#FEEA6E"/>
<circle cx="1728.33" cy="325.99" r="4.6" fill="#FEEA6E"/>
<circle cx="1778.46" cy="325.02" r="4.6" fill="#BCBDDC"/>
<circle cx="1744.39" cy="328.62" r="4.6" fill="#9ECAE1"/>
<circle cx="1795.02" cy="329.74" r="4.6" fill="#C7E9C0"/>
<circle cx="1865.33" cy="318.11" r="4.6" fill="#BCBDDC"/>
<circle cx="1821.95" cy="322.55" r="4.6" fill="#FBC4DC"/>
<circle cx="1727.79" cy="324.65" r="4.6" fill="#FEEA6E"/>
<circle cx="1692.28" cy="319.93" r="4.6" fill="#DEEBF7"/>
<circle cx="1754.81" cy="321.29" r="4.6" fill="#238B45"/>
<circle cx="1762.12" cy="328.02" r="4.6" fill="#C7E9C0"/>
<circle cx="1772.51" cy="324.43" r="4.6" fill="#BCBDDC"/>
<circle cx="1760.12" cy="322.9" r="4.6" fill="#C7E9C0"/>
<circle cx="1840.79" cy="317.28" r="4.6" fill="#BCBDDC"/>
<circle cx="1764.89" cy="319.74" r="4.6" fill="#9ECAE1"/>
<circle cx="1692.41" cy="318.78" r="4.6" fill="#DEEBF7"/>
<circle cx="1745.43" cy="320.54" r="4.6" fill="#BCBDDC"/>
<circle cx="1780.17" cy="319.63" r="4.6" fill="#FEEA6E"/>
<circle cx="1737.84" cy="319.8" r="4.6" fill="#BF812D"/>
<circle cx="1771.63" cy="325.53" r="4.6" fill="#FEEA6E"/>
<circle cx="1825.04" cy="319.45" r="4.6" fill="#FBC4DC"/>
<circle cx="1714.21" cy="319.57" r="4.6" fill="#4292C6"/>
<circle cx="1713.01" cy="326.38" r="4.6" fill="#4292C6"/>
<circle cx="1774.32" cy="320.18" r="4.6" fill="#BCBDDC"/>
<circle cx="1711.01" cy="326.32" r="4.6" fill="#FDD0A2"/>
<circle cx="1692.5" cy="325.13" r="4.6" fill="#FEEA6E"/>
<circle cx="1810.54" cy="321.7" r="4.6" fill="#BCBDDC"/>
<circle cx="1823.05" cy="319.66" r="4.6" fill="#BCBDDC"/>
<circle cx="1817.53" cy="330.14" r="4.6" fill="#BCBDDC"/>
<circle cx="1711.19" cy="321.92" r="4.6" fill="#FDD0A2"/>
<circle cx="1793.48" cy="324.35" r="4.6" fill="#FBC4DC"/>
<circle cx="1692.48" cy="323.74" r="4.6" fill="#DEEBF7"/>
<circle cx="1771.1" cy="322.9" r="4.6" fill="#FEEA6E"/>
<circle cx="1692.8" cy="319.1" r="4.6" fill="#FEEA6E"/>
<circle cx="1726.45" cy="319.1" r="4.6" fill="#FEEA6E"/>
<circle cx="1725.42" cy="322.32" r="4.6" fill="#FEEA6E"/>
<circle cx="1812.65" cy="317.29" r="4.6" fill="#BCBDDC"/>
<circle cx="1780.51" cy="329.73" r="4.6" fill="#BCBDDC"/>
<circle cx="1819.65" cy="321.72" r="4.6" fill="#FBC4DC"/>
<circle cx="1725.54" cy="321.92" r="4.6" fill="#FEEA6E"/>
<circle cx="1790.09" cy="329.44" r="4.6" fill="#C7E9C0"/>
<circle cx="1765.93" cy="324.23" r="4.6" fill="#C7E9C0"/>
<circle cx="1786.67" cy="317.66" r="4.6" fill="#BCBDDC"/>
<circle cx="1736.13" cy="329.27" r="4.6" fill="#BF812D"/>
<circle cx="1694.94" cy="319.24" r="4.6" fill="#FEEA6E"/>
<circle cx="1770.69" cy="326.06" r="4.6" fill="#FEEA6E"/>
<circle cx="1726.58" cy="320.58" r="4.6" fill="#FEEA6E"/>
<circle cx="1727.52" cy="319.45" r="4.6" fill="#FEEA6E"/>
<circle cx="1816.59" cy="320.94" r="4.6" fill="#C7E9C0"/>
<circle cx="1794.41" cy="318.72" r="4.6" fill="#FBC4DC"/>
<circle cx="1798.07" cy="317.29" r="4.6" fill="#BCBDDC"/>
<circle cx="1873.96" cy="329.26" r="4.6" fill="#BCBDDC"/>
<circle cx="1786.86" cy="318.69" r="4.6" fill="#C7E9C0"/>
<circle cx="1795.21" cy="324.68" r="4.6" fill="#BCBDDC"/>
<circle cx="1783.28" cy="326.6" r="4.6" fill="#BCBDDC"/>
<circle cx="1744.75" cy="323.88" r="4.6" fill="#9ECAE1"/>
<circle cx="1761.35" cy="317.04" r="4.6" fill="#FEEA6E"/>
<circle cx="1746.71" cy="319.36" r="4.6" fill="#BCBDDC"/>
<circle cx="1746.62" cy="328.79" r="4.6" fill="#9ECAE1"/>
<circle cx="1815.89" cy="317.48" r="4.6" fill="#BCBDDC"/>
<circle cx="1782.06" cy="324.04" r="4.6" fill="#BCBDDC"/>
<circle cx="1713.34" cy="319.7" r="4.6" fill="#4292C6"/>
<circle cx="1714.29" cy="325.87" r="4.6" fill="#4292C6"/>
<circle cx="1711.99" cy="327.49" r="4.6" fill="#FEEA6E"/>
<circle cx="1691.61" cy="321.12" r="4.6" fill="#DEEBF7"/>
<circle cx="1691.98" cy="322.38" r="4.6" fill="#FEEA6E"/>
<circle cx="1711.97" cy="322.94" r="4.6" fill="#FEEA6E"/>
<circle cx="1736.16" cy="323.4" r="4.6" fill="#FBC4DC"/>
<circle cx="1802.57" cy="325.24" r="4.6" fill="#FBC4DC"/>
<circle cx="1854.98" cy="326.07" r="4.6" fill="#BCBDDC"/>
<circle cx="1860.06" cy="317.8" r="4.6" fill="#BCBDDC"/>
<circle cx="1738.57" cy="319.76" r="4.6" fill="#BF812D"/>
<circle cx="1810.32" cy="328.47" r="4.6" fill="#BCBDDC"/>
<circle cx="1790.53" cy="329.85" r="4.6" fill="#FBC4DC"/>
<circle cx="1735.62" cy="323.85" r="4.6" fill="#C7E9C0"/>
<circle cx="1692.54" cy="328.39" r="4.6" fill="#FEEA6E"/>
<circle cx="1693.51" cy="329.06" r="4.6" fill="#FEEA6E"/>
<circle cx="1768.18" cy="330.47" r="4.6" fill="#238B45"/>
<circle cx="1725.56" cy="325.9" r="4.6" fill="#FEEA6E"/>
<circle cx="1755.05" cy="328.89" r="4.6" fill="#FEEA6E"/>
<circle cx="1797.82" cy="330.84" r="4.6" fill="#BCBDDC"/>
<circle cx="1775.62" cy="330.2" r="4.6" fill="#FEEA6E"/>
<circle cx="1745.67" cy="320.35" r="4.6" fill="#BCBDDC"/>
<circle cx="1877.97" cy="319.97" r="4.6" fill="#BCBDDC"/>
<circle cx="1805.37" cy="323.82" r="4.6" fill="#BCBDDC"/>
<circle cx="1693.41" cy="323.64" r="4.6" fill="#DEEBF7"/>
<circle cx="1760.85" cy="322.62" r="4.6" fill="#BCBDDC"/>
<circle cx="1714.18" cy="318.78" r="4.6" fill="#FEEA6E"/>
<circle cx="1744.53" cy="323.65" r="4.6" fill="#9ECAE1"/>
<circle cx="1814.51" cy="324" r="4.6" fill="#FBC4DC"/>
<circle cx="1801.86" cy="321.06" r="4.6" fill="#BCBDDC"/>
<circle cx="1753.32" cy="326.54" r="4.6" fill="#FEEA6E"/>
<circle cx="1694.87" cy="323.15" r="4.6" fill="#BDBDBD"/>
<circle cx="1692.37" cy="319.59" r="4.6" fill="#BDBDBD"/>
<circle cx="1692.43" cy="321.11" r="4.6" fill="#D9D9D9"/>
<circle cx="1692.17" cy="328.1" r="4.6" fill="#D9D9D9"/>
<circle cx="1694.06" cy="326.91" r="4.6" fill="#D9D9D9"/>
<circle cx="1694.65" cy="324.96" r="4.6" fill="#BDBDBD"/>
<circle cx="1693.33" cy="322.95" r="4.6" fill="#BDBDBD"/>
<circle cx="1691.64" cy="320.61" r="4.6" fill="#BDBDBD"/>
<circle cx="1694.8" cy="329.48" r="4.6" fill="#BDBDBD"/>
<circle cx="1694.55" cy="322.19" r="4.6" fill="#D9D9D9"/>
<circle cx="1693.85" cy="319.51" r="4.6" fill="#BDBDBD"/>
<circle cx="1693.78" cy="324.74" r="4.6" fill="#BDBDBD"/>
<circle cx="1691.49" cy="328.05" r="4.6" fill="#D9D9D9"/>
<circle cx="1693.43" cy="319.76" r="4.6" fill="#BDBDBD"/>
<circle cx="1693.6" cy="214.6" r="4.6" fill="#BCBDDC"/>
<circle cx="1792.1" cy="215.1" r="4.6" fill="#BCBDDC"/>
<circle cx="1744.9" cy="225" r="4.6" fill="#FEEA6E"/>
<circle cx="1725.2" cy="255.2" r="4.6" fill="#4292C6"/>
<circle cx="1792.1" cy="255.8" r="4.6" fill="#BCBDDC"/>
<circle cx="1830.4" cy="255.8" r="4.6" fill="#BCBDDC"/>
<circle cx="1905.3" cy="255.8" r="4.6" fill="#BCBDDC"/>
<circle cx="1692.3" cy="279.3" r="4.6" fill="#FEEA6E"/>
<circle cx="1711.5" cy="279.3" r="4.6" fill="#FEEA6E"/>
<circle cx="1713.5" cy="279.3" r="4.6" fill="#4292C6"/>
<circle cx="1736.4" cy="283.8" r="4.6" fill="#BCBDDC"/>
<circle cx="1758.4" cy="280.5" r="4.6" fill="#BCBDDC"/>
<circle cx="1762" cy="279.3" r="4.6" fill="#BCBDDC"/>
<circle cx="1765.8" cy="279.5" r="4.6" fill="#BCBDDC"/>
<circle cx="1782.5" cy="279.8" r="4.6" fill="#BCBDDC"/>
<circle cx="1726" cy="328.6" r="4.6" fill="#CB181D"/>
<circle cx="1736.4" cy="329" r="4.6" fill="#BF812D"/>
<circle cx="1778.6" cy="329.5" r="4.6" fill="#238B45"/>
<circle cx="1858.4" cy="327.8" r="4.6" fill="#BF812D"/>
<circle cx="1881.5" cy="323.3" r="4.6" fill="#BF812D"/>
<circle cx="1914" cy="318.2" r="4.6" fill="#BCBDDC"/>
<line x1="1644.2" y1="42.2" x2="1644.2" y2="323.8" stroke="#000" stroke-width="2.2"/>
<line x1="1631.7" y1="43" x2="1645.3" y2="43" stroke="#000" stroke-width="2.2"/>
<line x1="1631.7" y1="85" x2="1645.3" y2="85" stroke="#000" stroke-width="2.2"/>
<line x1="1631.7" y1="177" x2="1645.3" y2="177" stroke="#000" stroke-width="2.2"/>
<line x1="1631.7" y1="214" x2="1645.3" y2="214" stroke="#000" stroke-width="2.2"/>
<line x1="1631.7" y1="280.5" x2="1645.3" y2="280.5" stroke="#000" stroke-width="2.2"/>
<line x1="1631.7" y1="323" x2="1645.3" y2="323" stroke="#000" stroke-width="2.2"/>
<text transform="translate(1625,85) rotate(-90)" font-size="21" text-anchor="middle">50</text>
<text transform="translate(1625,214) rotate(-90)" font-size="21" text-anchor="middle">5</text>
<text transform="translate(1625,280.5) rotate(-90)" font-size="21" text-anchor="middle">1</text>
<text transform="translate(1625,323) rotate(-90)" font-size="21" text-anchor="middle">0</text>
<line x1="1658.7" y1="340" x2="1913.8" y2="340" stroke="#000" stroke-width="2.2"/>
<line x1="1659.8" y1="340" x2="1659.8" y2="353.7" stroke="#000" stroke-width="2.2"/>
<line x1="1693.2" y1="340" x2="1693.2" y2="353.7" stroke="#000" stroke-width="2.2"/>
<line x1="1745.2" y1="340" x2="1745.2" y2="353.7" stroke="#000" stroke-width="2.2"/>
<line x1="1773.9" y1="340" x2="1773.9" y2="353.7" stroke="#000" stroke-width="2.2"/>
<line x1="1805.2" y1="340" x2="1805.2" y2="353.7" stroke="#000" stroke-width="2.2"/>
<line x1="1847.2" y1="340" x2="1847.2" y2="353.7" stroke="#000" stroke-width="2.2"/>
<line x1="1879.8" y1="340" x2="1879.8" y2="353.7" stroke="#000" stroke-width="2.2"/>
<line x1="1912.7" y1="340" x2="1912.7" y2="353.7" stroke="#000" stroke-width="2.2"/>
<text x="1659.8" y="375.8" font-size="21" text-anchor="middle">0</text>
<text x="1693.2" y="375.8" font-size="21" text-anchor="middle">1</text>
<text x="1745.2" y="375.8" font-size="21" text-anchor="middle">5</text>
<text x="1805.2" y="375.8" font-size="21" text-anchor="middle">20</text>
<text x="1879.8" y="375.8" font-size="21" text-anchor="middle">100</text>
<text x="1675.2" y="59.4" font-size="19.2" style="white-space:pre"><tspan font-style="italic">n</tspan> = 11,409  <tspan font-style="italic">n</tspan><tspan font-size="14" dy="3.2">B</tspan><tspan dy="-3.2"> = 15  </tspan><tspan font-style="italic">n</tspan><tspan font-size="14" dy="3.2">BB</tspan><tspan dy="-3.2"> = 7</tspan></text>
<text x="1019" y="409" font-size="25" text-anchor="middle">Clone size in dLN</text>
<text transform="translate(60.8,194.5) rotate(-90)" font-size="21.6" text-anchor="middle">Clone size in blood, day 7</text>
<text transform="translate(-2.4,27.9) scale(0.8,1)" font-size="56">a</text>
<path fill="#4292C6" d="M159 775h5.7v5h-5.7zM172.51 778h5.7v2h-5.7zM179.27 779h5.7v1h-5.7zM192.78 779h5.7v1h-5.7zM199.54 778h5.7v2h-5.7zM206.3 779h5.7v1h-5.7zM219.81 777h5.7v3h-5.7zM240.08 779h5.7v1h-5.7zM253.6 778h5.7v2h-5.7zM260.36 779h5.7v1h-5.7zM280.63 779h5.7v1h-5.7zM287.38 779h5.7v1h-5.7zM294.14 779h5.7v1h-5.7zM307.65 779h5.7v1h-5.7zM321.17 779h5.7v1h-5.7zM327.92 779h5.7v1h-5.7zM341.44 779h5.7v1h-5.7zM348.2 779h5.7v1h-5.7z"/>
<path fill="#CB181D" d="M159 770h5.7v5h-5.7zM165.76 776h5.7v4h-5.7zM172.51 775h5.7v3h-5.7zM179.27 778h5.7v1h-5.7zM186.03 778h5.7v1h-5.7zM192.78 776h5.7v3h-5.7zM199.54 777h5.7v1h-5.7zM206.3 776h5.7v3h-5.7zM213.06 778h5.7v2h-5.7zM219.81 756h5.7v2h-5.7zM226.57 779h5.7v1h-5.7zM233.33 774h5.7v6h-5.7zM240.08 777h5.7v2h-5.7zM246.84 775h5.7v4h-5.7zM273.87 778h5.7v2h-5.7zM280.63 778h5.7v1h-5.7zM287.38 778h5.7v1h-5.7zM294.14 778h5.7v1h-5.7zM300.9 778h5.7v2h-5.7zM314.41 779h5.7v1h-5.7zM327.92 778h5.7v1h-5.7zM334.68 779h5.7v1h-5.7zM348.2 778h5.7v1h-5.7zM354.95 778h5.7v2h-5.7z"/>
<path fill="#FB6A4A" d="M159 649h5.7v121h-5.7zM165.76 759h5.7v17h-5.7zM172.51 733h5.7v42h-5.7zM179.27 759h5.7v19h-5.7zM186.03 765h5.7v13h-5.7zM192.78 754h5.7v22h-5.7zM199.54 755h5.7v22h-5.7zM206.3 760h5.7v16h-5.7zM213.06 772h5.7v6h-5.7zM219.81 753h5.7v3h-5.7zM226.57 771h5.7v8h-5.7zM233.33 765h5.7v9h-5.7zM240.08 775h5.7v2h-5.7zM246.84 770h5.7v5h-5.7zM253.6 764h5.7v14h-5.7zM260.36 773h5.7v6h-5.7zM267.11 773h5.7v7h-5.7zM273.87 771h5.7v7h-5.7zM280.63 774h5.7v4h-5.7zM287.38 767h5.7v11h-5.7zM294.14 770h5.7v8h-5.7zM300.9 777h5.7v1h-5.7zM307.65 771h5.7v8h-5.7zM314.41 774h5.7v5h-5.7zM321.17 771h5.7v8h-5.7zM327.92 772h5.7v6h-5.7zM334.68 778h5.7v1h-5.7zM341.44 773h5.7v6h-5.7zM348.2 771h5.7v7h-5.7zM354.95 775h5.7v3h-5.7z"/>
<path fill="#FDAE6B" d="M159 589h5.7v60h-5.7zM165.76 725h5.7v34h-5.7zM172.51 721h5.7v12h-5.7zM179.27 746h5.7v13h-5.7zM186.03 748h5.7v17h-5.7zM192.78 742h5.7v12h-5.7zM199.54 751h5.7v4h-5.7zM206.3 752h5.7v8h-5.7zM213.06 759h5.7v13h-5.7zM219.81 752h5.7v1h-5.7zM226.57 760h5.7v11h-5.7zM233.33 760h5.7v5h-5.7zM240.08 764h5.7v11h-5.7zM246.84 764h5.7v6h-5.7zM253.6 763h5.7v1h-5.7zM260.36 764h5.7v9h-5.7zM267.11 767h5.7v6h-5.7zM273.87 765h5.7v6h-5.7zM280.63 769h5.7v5h-5.7zM287.38 765h5.7v2h-5.7zM294.14 769h5.7v1h-5.7zM300.9 770h5.7v7h-5.7zM307.65 770h5.7v1h-5.7zM314.41 770h5.7v4h-5.7zM327.92 770h5.7v2h-5.7zM334.68 776h5.7v2h-5.7zM354.95 774h5.7v1h-5.7z"/>
<path fill="#FDD0A2" d="M159 553h5.7v36h-5.7zM165.76 708h5.7v17h-5.7zM172.51 712h5.7v9h-5.7zM179.27 736h5.7v10h-5.7zM186.03 738h5.7v10h-5.7zM192.78 734h5.7v8h-5.7zM199.54 745h5.7v6h-5.7zM206.3 746h5.7v6h-5.7zM213.06 752h5.7v7h-5.7zM219.81 751h5.7v1h-5.7zM226.57 753h5.7v7h-5.7zM233.33 757h5.7v3h-5.7zM240.08 758h5.7v6h-5.7zM246.84 760h5.7v4h-5.7zM253.6 760h5.7v3h-5.7zM260.36 762h5.7v2h-5.7zM267.11 763h5.7v4h-5.7zM273.87 764h5.7v1h-5.7zM280.63 765h5.7v4h-5.7zM287.38 764h5.7v1h-5.7zM294.14 766h5.7v3h-5.7zM300.9 767h5.7v3h-5.7zM307.65 769h5.7v1h-5.7zM314.41 769h5.7v1h-5.7zM321.17 770h5.7v1h-5.7zM334.68 772h5.7v4h-5.7zM341.44 770h5.7v3h-5.7zM354.95 772h5.7v2h-5.7z"/>
<path fill="#FEE6CE" d="M159 532h5.7v21h-5.7zM165.76 695h5.7v13h-5.7zM179.27 731h5.7v5h-5.7zM186.03 733h5.7v5h-5.7zM192.78 732h5.7v2h-5.7zM199.54 744h5.7v1h-5.7zM206.3 745h5.7v1h-5.7zM213.06 749h5.7v3h-5.7zM219.81 750h5.7v1h-5.7zM226.57 751h5.7v2h-5.7zM233.33 756h5.7v1h-5.7zM240.08 756h5.7v2h-5.7zM246.84 757h5.7v3h-5.7zM260.36 761h5.7v1h-5.7zM267.11 761h5.7v2h-5.7zM273.87 762h5.7v2h-5.7zM280.63 764h5.7v1h-5.7zM294.14 765h5.7v1h-5.7zM334.68 770h5.7v2h-5.7zM354.95 771h5.7v1h-5.7z"/>
<path fill="#8C510A" d="M159 531h5.7v1h-5.7zM186.03 732h5.7v1h-5.7zM213.06 748h5.7v1h-5.7zM260.36 760h5.7v1h-5.7zM280.63 763h5.7v1h-5.7z"/>
<path fill="#BCBDDC" d="M186.03 779h5.7v1h-5.7zM219.81 776h5.7v1h-5.7z"/>
<path fill="#807DBA" d="M219.81 758h5.7v18h-5.7zM246.84 779h5.7v1h-5.7z"/>
<path fill="#7a6a45" d="M159 530.65h5.7v0.7h-5.7zM165.76 694.65h5.7v0.7h-5.7zM172.51 711.65h5.7v0.7h-5.7zM179.27 730.65h5.7v0.7h-5.7zM186.03 731.65h5.7v0.7h-5.7zM192.78 731.65h5.7v0.7h-5.7zM199.54 743.65h5.7v0.7h-5.7zM206.3 744.65h5.7v0.7h-5.7zM213.06 747.65h5.7v0.7h-5.7zM219.81 749.65h5.7v0.7h-5.7zM226.57 750.65h5.7v0.7h-5.7zM233.33 755.65h5.7v0.7h-5.7zM240.08 755.65h5.7v0.7h-5.7zM246.84 756.65h5.7v0.7h-5.7zM253.6 759.65h5.7v0.7h-5.7zM260.36 759.65h5.7v0.7h-5.7zM267.11 760.65h5.7v0.7h-5.7zM273.87 761.65h5.7v0.7h-5.7zM280.63 762.65h5.7v0.7h-5.7zM287.38 763.65h5.7v0.7h-5.7zM294.14 764.65h5.7v0.7h-5.7zM300.9 766.65h5.7v0.7h-5.7zM307.65 768.65h5.7v0.7h-5.7zM314.41 768.65h5.7v0.7h-5.7zM321.17 769.65h5.7v0.7h-5.7zM327.92 769.65h5.7v0.7h-5.7zM334.68 769.65h5.7v0.7h-5.7zM341.44 769.65h5.7v0.7h-5.7zM348.2 770.65h5.7v0.7h-5.7zM354.95 770.65h5.7v0.7h-5.7z"/>
<line x1="151.2" y1="483.9" x2="151.2" y2="779.8" stroke="#000" stroke-width="2.1"/>
<line x1="141" y1="778.8" x2="152.2" y2="778.8" stroke="#000" stroke-width="2.1"/>
<line x1="141" y1="720.02" x2="152.2" y2="720.02" stroke="#000" stroke-width="2.1"/>
<line x1="141" y1="661.24" x2="152.2" y2="661.24" stroke="#000" stroke-width="2.1"/>
<line x1="141" y1="602.46" x2="152.2" y2="602.46" stroke="#000" stroke-width="2.1"/>
<line x1="141" y1="543.68" x2="152.2" y2="543.68" stroke="#000" stroke-width="2.1"/>
<line x1="141" y1="484.9" x2="152.2" y2="484.9" stroke="#000" stroke-width="2.1"/>
<text transform="translate(129.6,778.8) rotate(-90)" font-size="15.6" text-anchor="middle">0</text>
<text transform="translate(129.6,720.02) rotate(-90)" font-size="15.6" text-anchor="middle">200</text>
<text transform="translate(129.6,661.24) rotate(-90)" font-size="15.6" text-anchor="middle">400</text>
<text transform="translate(129.6,602.46) rotate(-90)" font-size="15.6" text-anchor="middle">600</text>
<text transform="translate(129.6,543.68) rotate(-90)" font-size="15.6" text-anchor="middle">800</text>
<text transform="translate(129.6,484.9) rotate(-90)" font-size="15.6" text-anchor="middle">1000</text>
<circle cx="161.85" cy="494.2" r="1.75" fill="#000"/>
<circle cx="168.61" cy="494.2" r="1.75" fill="#000"/>
<circle cx="175.36" cy="494.2" r="1.75" fill="#000"/>
<circle cx="182.12" cy="494.2" r="1.75" fill="#000"/>
<circle cx="188.88" cy="494.2" r="1.75" fill="#000"/>
<circle cx="195.63" cy="494.2" r="1.75" fill="#000"/>
<circle cx="202.39" cy="494.2" r="1.75" fill="#000"/>
<circle cx="209.15" cy="494.2" r="1.75" fill="#000"/>
<circle cx="215.91" cy="494.2" r="1.75" fill="#000"/>
<circle cx="229.42" cy="494.2" r="1.75" fill="#000"/>
<circle cx="236.18" cy="494.2" r="1.75" fill="#000"/>
<circle cx="242.93" cy="494.2" r="1.75" fill="#000"/>
<circle cx="249.69" cy="494.2" r="1.75" fill="#000"/>
<circle cx="256.45" cy="494.2" r="1.75" fill="#000"/>
<circle cx="263.21" cy="494.2" r="1.75" fill="#000"/>
<circle cx="269.96" cy="494.2" r="1.75" fill="#000"/>
<circle cx="276.72" cy="494.2" r="1.75" fill="#000"/>
<circle cx="290.23" cy="494.2" r="1.75" fill="#000"/>
<circle cx="296.99" cy="494.2" r="1.75" fill="#000"/>
<circle cx="303.75" cy="494.2" r="1.75" fill="#000"/>
<circle cx="310.5" cy="494.2" r="1.75" fill="#000"/>
<circle cx="317.26" cy="494.2" r="1.75" fill="#000"/>
<circle cx="330.77" cy="494.2" r="1.75" fill="#000"/>
<circle cx="337.53" cy="494.2" r="1.75" fill="#000"/>
<circle cx="344.29" cy="494.2" r="1.75" fill="#000"/>
<circle cx="351.05" cy="494.2" r="1.75" fill="#000"/>
<circle cx="161.85" cy="506.8" r="1.75" fill="#377EB8"/>
<circle cx="168.61" cy="506.8" r="1.75" fill="#377EB8"/>
<circle cx="175.36" cy="506.8" r="1.75" fill="#E41A1C"/>
<circle cx="182.12" cy="506.8" r="1.75" fill="#377EB8"/>
<circle cx="188.88" cy="506.8" r="1.75" fill="#4DAF4A"/>
<circle cx="195.63" cy="506.8" r="1.75" fill="#E41A1C"/>
<circle cx="202.39" cy="506.8" r="1.75" fill="#E41A1C"/>
<circle cx="209.15" cy="506.8" r="1.75" fill="#E41A1C"/>
<circle cx="215.91" cy="506.8" r="1.75" fill="#4DAF4A"/>
<circle cx="222.66" cy="506.8" r="1.75" fill="#377EB8"/>
<circle cx="229.42" cy="506.8" r="1.75" fill="#377EB8"/>
<circle cx="236.18" cy="506.8" r="1.75" fill="#377EB8"/>
<circle cx="242.93" cy="506.8" r="1.75" fill="#377EB8"/>
<circle cx="249.69" cy="506.8" r="1.75" fill="#E41A1C"/>
<circle cx="256.45" cy="506.8" r="1.75" fill="#4DAF4A"/>
<circle cx="263.21" cy="506.8" r="1.75" fill="#4DAF4A"/>
<circle cx="269.96" cy="506.8" r="1.75" fill="#377EB8"/>
<circle cx="276.72" cy="506.8" r="1.75" fill="#4DAF4A"/>
<circle cx="283.48" cy="506.8" r="1.75" fill="#E41A1C"/>
<circle cx="290.23" cy="506.8" r="1.75" fill="#E41A1C"/>
<circle cx="296.99" cy="506.8" r="1.75" fill="#4DAF4A"/>
<circle cx="303.75" cy="506.8" r="1.75" fill="#E41A1C"/>
<circle cx="310.5" cy="506.8" r="1.75" fill="#E41A1C"/>
<circle cx="317.26" cy="506.8" r="1.75" fill="#E41A1C"/>
<circle cx="324.02" cy="506.8" r="1.75" fill="#E41A1C"/>
<circle cx="330.77" cy="506.8" r="1.75" fill="#E41A1C"/>
<circle cx="337.53" cy="506.8" r="1.75" fill="#4DAF4A"/>
<circle cx="344.29" cy="506.8" r="1.75" fill="#E41A1C"/>
<circle cx="351.05" cy="506.8" r="1.75" fill="#E41A1C"/>
<circle cx="357.8" cy="506.8" r="1.75" fill="#4DAF4A"/>
<text x="275.6" y="606.8" font-size="18.2"><tspan font-style="italic">n</tspan> = 3,321</text>
<path fill="#4292C6" d="M451 764h5.7v16h-5.7zM457.76 769h5.7v11h-5.7zM464.51 771h5.7v9h-5.7zM471.27 773h5.7v7h-5.7zM478.03 767h5.7v13h-5.7zM484.78 771h5.7v9h-5.7zM491.54 776h5.7v4h-5.7zM498.3 765h5.7v15h-5.7zM505.06 775h5.7v5h-5.7zM511.81 774h5.7v6h-5.7zM518.57 775h5.7v5h-5.7zM525.33 776h5.7v4h-5.7zM532.08 774h5.7v6h-5.7zM538.84 776h5.7v4h-5.7zM545.6 778h5.7v2h-5.7zM552.36 777h5.7v3h-5.7zM559.11 773h5.7v7h-5.7zM565.87 776h5.7v4h-5.7zM572.63 777h5.7v3h-5.7zM586.14 778h5.7v2h-5.7zM592.9 777h5.7v3h-5.7zM599.65 778h5.7v2h-5.7zM606.41 770h5.7v10h-5.7zM613.17 776h5.7v4h-5.7zM619.92 777h5.7v3h-5.7zM626.68 775h5.7v5h-5.7zM633.44 776h5.7v4h-5.7zM646.95 779h5.7v1h-5.7z"/>
<path fill="#BCBDDC" d="M451 763h5.7v1h-5.7zM464.51 770h5.7v1h-5.7zM484.78 770h5.7v1h-5.7zM511.81 773h5.7v1h-5.7zM518.57 774h5.7v1h-5.7zM538.84 775h5.7v1h-5.7zM586.14 777h5.7v1h-5.7zM599.65 777h5.7v1h-5.7z"/>
<path fill="#807DBA" d="M451 760h5.7v3h-5.7zM457.76 766h5.7v3h-5.7zM471.27 770h5.7v3h-5.7zM498.3 762h5.7v3h-5.7zM505.06 774h5.7v1h-5.7zM511.81 767h5.7v6h-5.7zM518.57 771h5.7v3h-5.7zM538.84 774h5.7v1h-5.7zM565.87 775h5.7v1h-5.7zM572.63 776h5.7v1h-5.7zM586.14 775h5.7v2h-5.7zM592.9 776h5.7v1h-5.7zM599.65 775h5.7v2h-5.7zM606.41 746h5.7v24h-5.7zM613.17 775h5.7v1h-5.7zM626.68 774h5.7v1h-5.7zM640.2 778h5.7v2h-5.7zM646.95 778h5.7v1h-5.7z"/>
<path fill="#CB181D" d="M451 758h5.7v2h-5.7zM457.76 740h5.7v26h-5.7zM464.51 765h5.7v5h-5.7zM471.27 714h5.7v56h-5.7zM478.03 743h5.7v24h-5.7zM484.78 745h5.7v25h-5.7zM491.54 766h5.7v10h-5.7zM498.3 750h5.7v12h-5.7zM505.06 766h5.7v8h-5.7zM511.81 756h5.7v11h-5.7zM518.57 762h5.7v9h-5.7zM525.33 766h5.7v10h-5.7zM532.08 768h5.7v6h-5.7zM538.84 770h5.7v4h-5.7zM545.6 773h5.7v5h-5.7zM552.36 776h5.7v1h-5.7zM559.11 767h5.7v6h-5.7zM572.63 770h5.7v6h-5.7zM579.38 767h5.7v13h-5.7zM586.14 773h5.7v2h-5.7zM592.9 770h5.7v6h-5.7zM599.65 772h5.7v3h-5.7zM613.17 772h5.7v3h-5.7zM619.92 776h5.7v1h-5.7zM626.68 769h5.7v5h-5.7zM633.44 773h5.7v3h-5.7zM640.2 777h5.7v1h-5.7zM646.95 767h5.7v11h-5.7z"/>
<path fill="#FB6A4A" d="M451 616h5.7v142h-5.7zM457.76 620h5.7v120h-5.7zM464.51 680h5.7v85h-5.7zM471.27 664h5.7v50h-5.7zM478.03 653h5.7v90h-5.7zM484.78 661h5.7v84h-5.7zM491.54 699h5.7v67h-5.7zM498.3 675h5.7v75h-5.7zM505.06 711h5.7v55h-5.7zM511.81 736h5.7v20h-5.7zM518.57 733h5.7v29h-5.7zM525.33 727h5.7v39h-5.7zM532.08 722h5.7v46h-5.7zM538.84 743h5.7v27h-5.7zM545.6 742h5.7v31h-5.7zM552.36 765h5.7v11h-5.7zM559.11 741h5.7v26h-5.7zM565.87 761h5.7v14h-5.7zM572.63 743h5.7v27h-5.7zM579.38 749h5.7v18h-5.7zM586.14 744h5.7v29h-5.7zM592.9 750h5.7v20h-5.7zM599.65 759h5.7v13h-5.7zM613.17 751h5.7v21h-5.7zM619.92 755h5.7v21h-5.7zM626.68 752h5.7v17h-5.7zM633.44 765h5.7v8h-5.7zM640.2 767h5.7v10h-5.7zM646.95 757h5.7v10h-5.7z"/>
<path fill="#FDAE6B" d="M451 579h5.7v37h-5.7zM457.76 614h5.7v6h-5.7zM464.51 653h5.7v27h-5.7zM471.27 652h5.7v12h-5.7zM478.03 643h5.7v10h-5.7zM484.78 656h5.7v5h-5.7zM491.54 681h5.7v18h-5.7zM498.3 669h5.7v6h-5.7zM505.06 704h5.7v7h-5.7zM511.81 714h5.7v22h-5.7zM518.57 721h5.7v12h-5.7zM525.33 715h5.7v12h-5.7zM532.08 717h5.7v5h-5.7zM538.84 729h5.7v14h-5.7zM545.6 732h5.7v10h-5.7zM552.36 754h5.7v11h-5.7zM559.11 739h5.7v2h-5.7zM565.87 748h5.7v13h-5.7zM572.63 739h5.7v4h-5.7zM579.38 744h5.7v5h-5.7zM586.14 742h5.7v2h-5.7zM592.9 745h5.7v5h-5.7zM599.65 751h5.7v8h-5.7zM613.17 750h5.7v1h-5.7zM619.92 751h5.7v4h-5.7zM633.44 760h5.7v5h-5.7zM640.2 760h5.7v7h-5.7zM646.95 755h5.7v2h-5.7z"/>
<path fill="#FDD0A2" d="M451 545h5.7v34h-5.7zM464.51 640h5.7v13h-5.7zM471.27 635h5.7v17h-5.7zM478.03 638h5.7v5h-5.7zM484.78 654h5.7v2h-5.7zM491.54 661h5.7v20h-5.7zM498.3 666h5.7v3h-5.7zM505.06 697h5.7v7h-5.7zM511.81 701h5.7v13h-5.7zM518.57 706h5.7v15h-5.7zM525.33 711h5.7v4h-5.7zM532.08 713h5.7v4h-5.7zM538.84 720h5.7v9h-5.7zM545.6 730h5.7v2h-5.7zM552.36 739h5.7v15h-5.7zM559.11 737h5.7v2h-5.7zM565.87 739h5.7v9h-5.7zM579.38 741h5.7v3h-5.7zM586.14 741h5.7v1h-5.7zM592.9 744h5.7v1h-5.7zM599.65 749h5.7v2h-5.7zM613.17 749h5.7v1h-5.7zM619.92 748h5.7v3h-5.7zM633.44 756h5.7v4h-5.7zM640.2 755h5.7v5h-5.7zM646.95 754h5.7v1h-5.7z"/>
<path fill="#FEE6CE" d="M451 533h5.7v12h-5.7zM457.76 610h5.7v4h-5.7zM464.51 633h5.7v7h-5.7zM478.03 637h5.7v1h-5.7zM484.78 653h5.7v1h-5.7zM491.54 660h5.7v1h-5.7zM505.06 696h5.7v1h-5.7zM511.81 698h5.7v3h-5.7zM525.33 709h5.7v2h-5.7zM532.08 712h5.7v1h-5.7zM538.84 717h5.7v3h-5.7zM545.6 728h5.7v2h-5.7zM552.36 732h5.7v7h-5.7zM559.11 736h5.7v1h-5.7zM565.87 737h5.7v2h-5.7zM579.38 739h5.7v2h-5.7zM592.9 743h5.7v1h-5.7zM599.65 745h5.7v4h-5.7zM613.17 748h5.7v1h-5.7zM633.44 754h5.7v2h-5.7zM640.2 754h5.7v1h-5.7z"/>
<path fill="#8C510A" d="M451 531h5.7v2h-5.7zM457.76 603h5.7v7h-5.7zM484.78 650h5.7v3h-5.7zM491.54 658h5.7v2h-5.7zM498.3 663h5.7v3h-5.7zM505.06 694h5.7v2h-5.7zM518.57 704h5.7v2h-5.7zM538.84 715h5.7v1h-5.7zM572.63 738h5.7v1h-5.7zM579.38 738h5.7v1h-5.7zM586.14 740h5.7v1h-5.7z"/>
<path fill="#BF812D" d="M511.81 696h5.7v2h-5.7z"/>
<path fill="#238B45" d="M538.84 716h5.7v1h-5.7z"/>
<path fill="#C7E9C0" d="M633.44 753h5.7v1h-5.7z"/>
<path fill="#7a6a45" d="M451 530.65h5.7v0.7h-5.7zM457.76 602.65h5.7v0.7h-5.7zM464.51 632.65h5.7v0.7h-5.7zM471.27 634.65h5.7v0.7h-5.7zM478.03 636.65h5.7v0.7h-5.7zM484.78 649.65h5.7v0.7h-5.7zM491.54 657.65h5.7v0.7h-5.7zM498.3 662.65h5.7v0.7h-5.7zM505.06 693.65h5.7v0.7h-5.7zM511.81 695.65h5.7v0.7h-5.7zM518.57 703.65h5.7v0.7h-5.7zM525.33 708.65h5.7v0.7h-5.7zM532.08 711.65h5.7v0.7h-5.7zM538.84 714.65h5.7v0.7h-5.7zM545.6 727.65h5.7v0.7h-5.7zM552.36 731.65h5.7v0.7h-5.7zM559.11 735.65h5.7v0.7h-5.7zM565.87 736.65h5.7v0.7h-5.7zM572.63 737.65h5.7v0.7h-5.7zM579.38 737.65h5.7v0.7h-5.7zM586.14 739.65h5.7v0.7h-5.7zM592.9 742.65h5.7v0.7h-5.7zM599.65 744.65h5.7v0.7h-5.7zM606.41 745.65h5.7v0.7h-5.7zM613.17 747.65h5.7v0.7h-5.7zM619.92 747.65h5.7v0.7h-5.7zM626.68 751.65h5.7v0.7h-5.7zM633.44 752.65h5.7v0.7h-5.7zM640.2 753.65h5.7v0.7h-5.7zM646.95 753.65h5.7v0.7h-5.7z"/>
<line x1="443.2" y1="510.4" x2="443.2" y2="779.8" stroke="#000" stroke-width="2.1"/>
<line x1="433" y1="778.8" x2="444.2" y2="778.8" stroke="#000" stroke-width="2.1"/>
<line x1="433" y1="725.32" x2="444.2" y2="725.32" stroke="#000" stroke-width="2.1"/>
<line x1="433" y1="671.84" x2="444.2" y2="671.84" stroke="#000" stroke-width="2.1"/>
<line x1="433" y1="618.36" x2="444.2" y2="618.36" stroke="#000" stroke-width="2.1"/>
<line x1="433" y1="564.88" x2="444.2" y2="564.88" stroke="#000" stroke-width="2.1"/>
<line x1="433" y1="511.4" x2="444.2" y2="511.4" stroke="#000" stroke-width="2.1"/>
<text transform="translate(421.6,778.8) rotate(-90)" font-size="15.6" text-anchor="middle">0</text>
<text transform="translate(421.6,725.32) rotate(-90)" font-size="15.6" text-anchor="middle">100</text>
<text transform="translate(421.6,671.84) rotate(-90)" font-size="15.6" text-anchor="middle">200</text>
<text transform="translate(421.6,618.36) rotate(-90)" font-size="15.6" text-anchor="middle">300</text>
<text transform="translate(421.6,564.88) rotate(-90)" font-size="15.6" text-anchor="middle">400</text>
<text transform="translate(421.6,511.4) rotate(-90)" font-size="15.6" text-anchor="middle">500</text>
<circle cx="453.85" cy="494.2" r="1.75" fill="#000"/>
<circle cx="460.61" cy="494.2" r="1.75" fill="#000"/>
<circle cx="467.36" cy="494.2" r="1.75" fill="#000"/>
<circle cx="474.12" cy="494.2" r="1.75" fill="#000"/>
<circle cx="480.88" cy="494.2" r="1.75" fill="#000"/>
<circle cx="487.63" cy="494.2" r="1.75" fill="#000"/>
<circle cx="494.39" cy="494.2" r="1.75" fill="#000"/>
<circle cx="501.15" cy="494.2" r="1.75" fill="#000"/>
<circle cx="507.91" cy="494.2" r="1.75" fill="#000"/>
<circle cx="514.66" cy="494.2" r="1.75" fill="#000"/>
<circle cx="521.42" cy="494.2" r="1.75" fill="#000"/>
<circle cx="528.18" cy="494.2" r="1.75" fill="#000"/>
<circle cx="534.93" cy="494.2" r="1.75" fill="#000"/>
<circle cx="541.69" cy="494.2" r="1.75" fill="#000"/>
<circle cx="548.45" cy="494.2" r="1.75" fill="#000"/>
<circle cx="555.21" cy="494.2" r="1.75" fill="#000"/>
<circle cx="561.96" cy="494.2" r="1.75" fill="#000"/>
<circle cx="568.72" cy="494.2" r="1.75" fill="#000"/>
<circle cx="575.48" cy="494.2" r="1.75" fill="#000"/>
<circle cx="582.23" cy="494.2" r="1.75" fill="#000"/>
<circle cx="588.99" cy="494.2" r="1.75" fill="#000"/>
<circle cx="595.75" cy="494.2" r="1.75" fill="#000"/>
<circle cx="602.5" cy="494.2" r="1.75" fill="#000"/>
<circle cx="616.02" cy="494.2" r="1.75" fill="#000"/>
<circle cx="622.77" cy="494.2" r="1.75" fill="#000"/>
<circle cx="629.53" cy="494.2" r="1.75" fill="#000"/>
<circle cx="636.29" cy="494.2" r="1.75" fill="#000"/>
<circle cx="643.05" cy="494.2" r="1.75" fill="#000"/>
<circle cx="453.85" cy="506.8" r="1.75" fill="#FF7F00"/>
<circle cx="460.61" cy="506.8" r="1.75" fill="#E41A1C"/>
<circle cx="467.36" cy="506.8" r="1.75" fill="#FF7F00"/>
<circle cx="474.12" cy="506.8" r="1.75" fill="#377EB8"/>
<circle cx="480.88" cy="506.8" r="1.75" fill="#E41A1C"/>
<circle cx="487.63" cy="506.8" r="1.75" fill="#E41A1C"/>
<circle cx="494.39" cy="506.8" r="1.75" fill="#E41A1C"/>
<circle cx="501.15" cy="506.8" r="1.75" fill="#FF7F00"/>
<circle cx="507.91" cy="506.8" r="1.75" fill="#E41A1C"/>
<circle cx="514.66" cy="506.8" r="1.75" fill="#FF7F00"/>
<circle cx="521.42" cy="506.8" r="1.75" fill="#FF7F00"/>
<circle cx="528.18" cy="506.8" r="1.75" fill="#E41A1C"/>
<circle cx="534.93" cy="506.8" r="1.75" fill="#FF7F00"/>
<circle cx="541.69" cy="506.8" r="1.75" fill="#E41A1C"/>
<circle cx="548.45" cy="506.8" r="1.75" fill="#FF7F00"/>
<circle cx="555.21" cy="506.8" r="1.75" fill="#377EB8"/>
<circle cx="561.96" cy="506.8" r="1.75" fill="#FF7F00"/>
<circle cx="568.72" cy="506.8" r="1.75" fill="#E41A1C"/>
<circle cx="575.48" cy="506.8" r="1.75" fill="#377EB8"/>
<circle cx="582.23" cy="506.8" r="1.75" fill="#E41A1C"/>
<circle cx="588.99" cy="506.8" r="1.75" fill="#377EB8"/>
<circle cx="595.75" cy="506.8" r="1.75" fill="#FF7F00"/>
<circle cx="602.5" cy="506.8" r="1.75" fill="#E41A1C"/>
<circle cx="609.26" cy="506.8" r="1.75" fill="#377EB8"/>
<circle cx="616.02" cy="506.8" r="1.75" fill="#E41A1C"/>
<circle cx="622.77" cy="506.8" r="1.75" fill="#E41A1C"/>
<circle cx="629.53" cy="506.8" r="1.75" fill="#FF7F00"/>
<circle cx="636.29" cy="506.8" r="1.75" fill="#E41A1C"/>
<circle cx="643.05" cy="506.8" r="1.75" fill="#E41A1C"/>
<circle cx="649.8" cy="506.8" r="1.75" fill="#377EB8"/>
<text x="560.5" y="606.8" font-size="18.2"><tspan font-style="italic">n</tspan> = 4,205</text>
<path fill="#4292C6" d="M742.4 766h5.7v14h-5.7zM755.91 771h5.7v9h-5.7zM762.67 772h5.7v8h-5.7zM769.43 771h5.7v9h-5.7zM776.18 775h5.7v5h-5.7zM782.94 778h5.7v2h-5.7zM789.7 772h5.7v8h-5.7zM796.46 775h5.7v5h-5.7zM803.21 777h5.7v3h-5.7zM816.73 779h5.7v1h-5.7zM823.48 778h5.7v2h-5.7zM837 779h5.7v1h-5.7zM843.75 779h5.7v1h-5.7zM850.51 779h5.7v1h-5.7zM864.03 779h5.7v1h-5.7zM904.57 778h5.7v2h-5.7zM938.35 779h5.7v1h-5.7z"/>
<path fill="#807DBA" d="M742.4 667h5.7v99h-5.7zM749.16 768h5.7v12h-5.7zM755.91 713h5.7v57h-5.7zM762.67 741h5.7v31h-5.7zM769.43 740h5.7v31h-5.7zM776.18 753h5.7v22h-5.7zM782.94 738h5.7v38h-5.7zM789.7 765h5.7v7h-5.7zM796.46 766h5.7v9h-5.7zM803.21 768h5.7v9h-5.7zM823.48 770h5.7v8h-5.7zM830.24 779h5.7v1h-5.7zM837 764h5.7v15h-5.7zM843.75 778h5.7v1h-5.7zM850.51 772h5.7v6h-5.7zM857.27 772h5.7v7h-5.7zM864.03 773h5.7v6h-5.7zM891.05 771h5.7v8h-5.7zM897.81 773h5.7v6h-5.7zM904.57 776h5.7v2h-5.7zM911.32 779h5.7v1h-5.7zM918.08 772h5.7v8h-5.7zM938.35 777h5.7v2h-5.7z"/>
<path fill="#CB181D" d="M742.4 665h5.7v2h-5.7zM749.16 756h5.7v12h-5.7zM755.91 712h5.7v1h-5.7zM769.43 739h5.7v1h-5.7zM776.18 748h5.7v5h-5.7zM782.94 730h5.7v8h-5.7zM789.7 755h5.7v10h-5.7zM796.46 753h5.7v13h-5.7zM803.21 757h5.7v11h-5.7zM809.97 776h5.7v4h-5.7zM830.24 778h5.7v1h-5.7zM837 762h5.7v2h-5.7zM843.75 775h5.7v3h-5.7zM850.51 770h5.7v2h-5.7zM857.27 767h5.7v5h-5.7zM864.03 772h5.7v1h-5.7zM870.78 777h5.7v3h-5.7zM877.54 777h5.7v3h-5.7zM884.3 778h5.7v2h-5.7zM891.05 770h5.7v1h-5.7zM897.81 771h5.7v2h-5.7zM904.57 772h5.7v4h-5.7zM911.32 777h5.7v2h-5.7zM918.08 770h5.7v2h-5.7zM924.84 779h5.7v1h-5.7zM931.6 778h5.7v2h-5.7zM938.35 775h5.7v2h-5.7z"/>
<path fill="#FB6A4A" d="M742.4 651h5.7v14h-5.7zM749.16 680h5.7v76h-5.7zM755.91 708h5.7v4h-5.7zM762.67 738h5.7v3h-5.7zM769.43 735h5.7v4h-5.7zM776.18 742h5.7v6h-5.7zM789.7 730h5.7v25h-5.7zM796.46 737h5.7v16h-5.7zM803.21 752h5.7v5h-5.7zM809.97 771h5.7v5h-5.7zM816.73 776h5.7v3h-5.7zM830.24 772h5.7v6h-5.7zM837 760h5.7v2h-5.7zM843.75 774h5.7v1h-5.7zM870.78 773h5.7v4h-5.7zM884.3 771h5.7v7h-5.7zM904.57 770h5.7v2h-5.7zM911.32 775h5.7v2h-5.7zM924.84 777h5.7v2h-5.7zM931.6 776h5.7v2h-5.7z"/>
<path fill="#FDAE6B" d="M742.4 613h5.7v38h-5.7zM749.16 655h5.7v25h-5.7zM755.91 692h5.7v16h-5.7zM762.67 724h5.7v14h-5.7zM769.43 728h5.7v7h-5.7zM776.18 728h5.7v14h-5.7zM789.7 729h5.7v1h-5.7zM796.46 735h5.7v2h-5.7zM809.97 765h5.7v6h-5.7zM816.73 762h5.7v14h-5.7zM823.48 766h5.7v4h-5.7zM830.24 766h5.7v6h-5.7zM843.75 770h5.7v4h-5.7zM850.51 768h5.7v2h-5.7zM857.27 766h5.7v1h-5.7zM864.03 770h5.7v2h-5.7zM870.78 771h5.7v2h-5.7zM877.54 774h5.7v3h-5.7zM884.3 770h5.7v1h-5.7zM911.32 773h5.7v2h-5.7zM924.84 775h5.7v2h-5.7zM931.6 774h5.7v2h-5.7zM938.35 772h5.7v3h-5.7z"/>
<path fill="#FDD0A2" d="M742.4 549h5.7v64h-5.7zM749.16 619h5.7v36h-5.7zM755.91 679h5.7v13h-5.7zM762.67 685h5.7v39h-5.7zM769.43 713h5.7v15h-5.7zM776.18 713h5.7v15h-5.7zM782.94 729h5.7v1h-5.7zM789.7 728h5.7v1h-5.7zM796.46 731h5.7v4h-5.7zM809.97 758h5.7v7h-5.7zM816.73 759h5.7v3h-5.7zM823.48 761h5.7v5h-5.7zM830.24 761h5.7v5h-5.7zM843.75 766h5.7v4h-5.7zM850.51 766h5.7v2h-5.7zM857.27 765h5.7v1h-5.7zM864.03 767h5.7v3h-5.7zM870.78 768h5.7v3h-5.7zM877.54 770h5.7v4h-5.7zM884.3 769h5.7v1h-5.7zM911.32 770h5.7v3h-5.7zM924.84 771h5.7v4h-5.7zM931.6 771h5.7v3h-5.7zM938.35 771h5.7v1h-5.7z"/>
<path fill="#FEE6CE" d="M742.4 537h5.7v12h-5.7zM749.16 612h5.7v7h-5.7zM755.91 673h5.7v6h-5.7zM762.67 679h5.7v6h-5.7zM769.43 710h5.7v3h-5.7zM776.18 710h5.7v3h-5.7zM796.46 730h5.7v1h-5.7zM803.21 751h5.7v1h-5.7zM809.97 755h5.7v3h-5.7zM816.73 756h5.7v3h-5.7zM823.48 760h5.7v1h-5.7zM830.24 759h5.7v2h-5.7zM843.75 764h5.7v2h-5.7zM870.78 767h5.7v1h-5.7zM877.54 768h5.7v2h-5.7zM891.05 769h5.7v1h-5.7zM897.81 770h5.7v1h-5.7zM924.84 770h5.7v1h-5.7z"/>
<path fill="#238B45" d="M742.4 531h5.7v6h-5.7zM755.91 672h5.7v1h-5.7zM762.67 678h5.7v1h-5.7zM782.94 728h5.7v1h-5.7zM823.48 759h5.7v1h-5.7zM850.51 765h5.7v1h-5.7zM864.03 766h5.7v1h-5.7z"/>
<path fill="#BCBDDC" d="M755.91 770h5.7v1h-5.7zM782.94 776h5.7v2h-5.7zM850.51 778h5.7v1h-5.7zM857.27 779h5.7v1h-5.7z"/>
<path fill="#8C510A" d="M782.94 725h5.7v3h-5.7zM789.7 727h5.7v1h-5.7zM809.97 754h5.7v1h-5.7zM884.3 768h5.7v1h-5.7zM904.57 769h5.7v1h-5.7z"/>
<path fill="#FEEA6E" d="M891.05 779h5.7v1h-5.7zM897.81 779h5.7v1h-5.7z"/>
<path fill="#C7E9C0" d="M897.81 769h5.7v1h-5.7z"/>
<path fill="#7a6a45" d="M742.4 530.65h5.7v0.7h-5.7zM749.16 611.65h5.7v0.7h-5.7zM755.91 671.65h5.7v0.7h-5.7zM762.67 677.65h5.7v0.7h-5.7zM769.43 709.65h5.7v0.7h-5.7zM776.18 709.65h5.7v0.7h-5.7zM782.94 724.65h5.7v0.7h-5.7zM789.7 726.65h5.7v0.7h-5.7zM796.46 729.65h5.7v0.7h-5.7zM803.21 750.65h5.7v0.7h-5.7zM809.97 753.65h5.7v0.7h-5.7zM816.73 755.65h5.7v0.7h-5.7zM823.48 758.65h5.7v0.7h-5.7zM830.24 758.65h5.7v0.7h-5.7zM837 759.65h5.7v0.7h-5.7zM843.75 763.65h5.7v0.7h-5.7zM850.51 764.65h5.7v0.7h-5.7zM857.27 764.65h5.7v0.7h-5.7zM864.03 765.65h5.7v0.7h-5.7zM870.78 766.65h5.7v0.7h-5.7zM877.54 767.65h5.7v0.7h-5.7zM884.3 767.65h5.7v0.7h-5.7zM891.05 768.65h5.7v0.7h-5.7zM897.81 768.65h5.7v0.7h-5.7zM904.57 768.65h5.7v0.7h-5.7zM911.32 769.65h5.7v0.7h-5.7zM918.08 769.65h5.7v0.7h-5.7zM924.84 769.65h5.7v0.7h-5.7zM931.6 770.65h5.7v0.7h-5.7zM938.35 770.65h5.7v0.7h-5.7z"/>
<line x1="734.6" y1="504.2" x2="734.6" y2="779.8" stroke="#000" stroke-width="2.1"/>
<line x1="724.4" y1="778.8" x2="735.6" y2="778.8" stroke="#000" stroke-width="2.1"/>
<line x1="724.4" y1="724.08" x2="735.6" y2="724.08" stroke="#000" stroke-width="2.1"/>
<line x1="724.4" y1="669.36" x2="735.6" y2="669.36" stroke="#000" stroke-width="2.1"/>
<line x1="724.4" y1="614.64" x2="735.6" y2="614.64" stroke="#000" stroke-width="2.1"/>
<line x1="724.4" y1="559.92" x2="735.6" y2="559.92" stroke="#000" stroke-width="2.1"/>
<line x1="724.4" y1="505.2" x2="735.6" y2="505.2" stroke="#000" stroke-width="2.1"/>
<text transform="translate(713,778.8) rotate(-90)" font-size="15.6" text-anchor="middle">0</text>
<text transform="translate(713,724.08) rotate(-90)" font-size="15.6" text-anchor="middle">100</text>
<text transform="translate(713,669.36) rotate(-90)" font-size="15.6" text-anchor="middle">200</text>
<text transform="translate(713,614.64) rotate(-90)" font-size="15.6" text-anchor="middle">300</text>
<text transform="translate(713,559.92) rotate(-90)" font-size="15.6" text-anchor="middle">400</text>
<text transform="translate(713,505.2) rotate(-90)" font-size="15.6" text-anchor="middle">500</text>
<circle cx="785.79" cy="494.2" r="1.75" fill="#000"/>
<circle cx="792.55" cy="494.2" r="1.75" fill="#000"/>
<circle cx="799.31" cy="494.2" r="1.75" fill="#000"/>
<circle cx="806.06" cy="494.2" r="1.75" fill="#000"/>
<circle cx="819.58" cy="494.2" r="1.75" fill="#000"/>
<circle cx="826.33" cy="494.2" r="1.75" fill="#000"/>
<circle cx="839.85" cy="494.2" r="1.75" fill="#000"/>
<circle cx="853.36" cy="494.2" r="1.75" fill="#000"/>
<circle cx="860.12" cy="494.2" r="1.75" fill="#000"/>
<circle cx="866.88" cy="494.2" r="1.75" fill="#000"/>
<circle cx="880.39" cy="494.2" r="1.75" fill="#000"/>
<circle cx="907.42" cy="494.2" r="1.75" fill="#000"/>
<circle cx="920.93" cy="494.2" r="1.75" fill="#000"/>
<circle cx="927.69" cy="494.2" r="1.75" fill="#000"/>
<circle cx="941.2" cy="494.2" r="1.75" fill="#000"/>
<circle cx="745.25" cy="506.8" r="1.75" fill="#E41A1C"/>
<circle cx="752.01" cy="506.8" r="1.75" fill="#E41A1C"/>
<circle cx="758.76" cy="506.8" r="1.75" fill="#E41A1C"/>
<circle cx="765.52" cy="506.8" r="1.75" fill="#E41A1C"/>
<circle cx="772.28" cy="506.8" r="1.75" fill="#E41A1C"/>
<circle cx="779.03" cy="506.8" r="1.75" fill="#E41A1C"/>
<circle cx="785.79" cy="506.8" r="1.75" fill="#4DAF4A"/>
<circle cx="792.55" cy="506.8" r="1.75" fill="#377EB8"/>
<circle cx="799.31" cy="506.8" r="1.75" fill="#377EB8"/>
<circle cx="806.06" cy="506.8" r="1.75" fill="#377EB8"/>
<circle cx="812.82" cy="506.8" r="1.75" fill="#E41A1C"/>
<circle cx="819.58" cy="506.8" r="1.75" fill="#E41A1C"/>
<circle cx="826.33" cy="506.8" r="1.75" fill="#E41A1C"/>
<circle cx="833.09" cy="506.8" r="1.75" fill="#E41A1C"/>
<circle cx="839.85" cy="506.8" r="1.75" fill="#4DAF4A"/>
<circle cx="846.61" cy="506.8" r="1.75" fill="#E41A1C"/>
<circle cx="853.36" cy="506.8" r="1.75" fill="#E41A1C"/>
<circle cx="860.12" cy="506.8" r="1.75" fill="#377EB8"/>
<circle cx="866.88" cy="506.8" r="1.75" fill="#E41A1C"/>
<circle cx="873.63" cy="506.8" r="1.75" fill="#E41A1C"/>
<circle cx="880.39" cy="506.8" r="1.75" fill="#E41A1C"/>
<circle cx="887.15" cy="506.8" r="1.75" fill="#E41A1C"/>
<circle cx="893.9" cy="506.8" r="1.75" fill="#4DAF4A"/>
<circle cx="900.66" cy="506.8" r="1.75" fill="#4DAF4A"/>
<circle cx="907.42" cy="506.8" r="1.75" fill="#377EB8"/>
<circle cx="914.17" cy="506.8" r="1.75" fill="#E41A1C"/>
<circle cx="920.93" cy="506.8" r="1.75" fill="#4DAF4A"/>
<circle cx="927.69" cy="506.8" r="1.75" fill="#E41A1C"/>
<circle cx="934.45" cy="506.8" r="1.75" fill="#E41A1C"/>
<circle cx="941.2" cy="506.8" r="1.75" fill="#E41A1C"/>
<text x="863.3" y="606.8" font-size="18.2"><tspan font-style="italic">n</tspan> = 2,254</text>
<path fill="#4292C6" d="M1034 753h5.7v27h-5.7zM1054.27 774h5.7v6h-5.7zM1061.03 775h5.7v5h-5.7zM1067.79 772h5.7v8h-5.7zM1081.3 775h5.7v5h-5.7zM1088.06 775h5.7v5h-5.7zM1094.81 776h5.7v4h-5.7zM1101.57 774h5.7v6h-5.7zM1115.08 778h5.7v2h-5.7zM1128.6 777h5.7v3h-5.7zM1142.11 779h5.7v1h-5.7zM1148.87 779h5.7v1h-5.7zM1155.63 779h5.7v1h-5.7zM1162.38 777h5.7v3h-5.7zM1175.9 778h5.7v2h-5.7zM1182.65 777h5.7v2h-5.7zM1189.41 779h5.7v1h-5.7zM1196.17 779h5.7v1h-5.7zM1202.92 777h5.7v3h-5.7zM1209.68 778h5.7v1h-5.7zM1216.44 778h5.7v2h-5.7zM1223.2 778h5.7v2h-5.7z"/>
<path fill="#807DBA" d="M1034 612h5.7v141h-5.7zM1040.76 768h5.7v12h-5.7zM1047.51 773h5.7v5h-5.7zM1054.27 735h5.7v38h-5.7zM1061.03 736h5.7v39h-5.7zM1067.79 747h5.7v16h-5.7zM1074.54 771h5.7v8h-5.7zM1081.3 743h5.7v32h-5.7zM1088.06 752h5.7v23h-5.7zM1094.81 757h5.7v11h-5.7zM1101.57 761h5.7v7h-5.7zM1108.33 772h5.7v7h-5.7zM1115.08 771h5.7v7h-5.7zM1121.84 776h5.7v4h-5.7zM1128.6 769h5.7v5h-5.7zM1135.36 775h5.7v4h-5.7zM1142.11 772h5.7v7h-5.7zM1148.87 778h5.7v1h-5.7zM1155.63 777h5.7v2h-5.7zM1162.38 771h5.7v3h-5.7zM1169.14 779h5.7v1h-5.7zM1175.9 772h5.7v4h-5.7zM1182.65 773h5.7v3h-5.7zM1189.41 773h5.7v6h-5.7zM1196.17 778h5.7v1h-5.7zM1202.92 773h5.7v3h-5.7zM1209.68 773h5.7v2h-5.7zM1216.44 774h5.7v4h-5.7zM1223.2 774h5.7v3h-5.7zM1229.95 777h5.7v3h-5.7z"/>
<path fill="#CB181D" d="M1034 553h5.7v59h-5.7zM1040.76 742h5.7v26h-5.7zM1047.51 757h5.7v16h-5.7zM1054.27 714h5.7v21h-5.7zM1061.03 725h5.7v11h-5.7zM1067.79 732h5.7v15h-5.7zM1074.54 756h5.7v15h-5.7zM1081.3 738h5.7v5h-5.7zM1088.06 750h5.7v2h-5.7zM1094.81 751h5.7v6h-5.7zM1101.57 754h5.7v7h-5.7zM1108.33 766h5.7v6h-5.7zM1115.08 765h5.7v6h-5.7zM1121.84 775h5.7v1h-5.7zM1128.6 767h5.7v2h-5.7zM1135.36 768h5.7v7h-5.7zM1142.11 770h5.7v2h-5.7zM1155.63 776h5.7v1h-5.7zM1162.38 769h5.7v2h-5.7zM1175.9 771h5.7v1h-5.7zM1182.65 772h5.7v1h-5.7zM1189.41 772h5.7v1h-5.7zM1196.17 777h5.7v1h-5.7zM1202.92 772h5.7v1h-5.7zM1209.68 772h5.7v1h-5.7zM1223.2 773h5.7v1h-5.7zM1229.95 776h5.7v1h-5.7z"/>
<path fill="#FB6A4A" d="M1034 542h5.7v11h-5.7zM1040.76 655h5.7v87h-5.7zM1047.51 680h5.7v77h-5.7zM1054.27 711h5.7v3h-5.7zM1061.03 724h5.7v1h-5.7zM1067.79 727h5.7v5h-5.7zM1074.54 748h5.7v8h-5.7zM1081.3 737h5.7v1h-5.7zM1088.06 747h5.7v3h-5.7zM1094.81 750h5.7v1h-5.7zM1101.57 753h5.7v1h-5.7zM1108.33 763h5.7v3h-5.7zM1115.08 764h5.7v1h-5.7zM1121.84 769h5.7v6h-5.7zM1142.11 768h5.7v2h-5.7zM1148.87 774h5.7v4h-5.7zM1155.63 772h5.7v4h-5.7zM1162.38 768h5.7v1h-5.7zM1169.14 775h5.7v4h-5.7zM1175.9 770h5.7v1h-5.7zM1182.65 771h5.7v1h-5.7zM1196.17 774h5.7v3h-5.7zM1209.68 771h5.7v1h-5.7zM1216.44 772h5.7v2h-5.7zM1229.95 773h5.7v3h-5.7z"/>
<path fill="#FDD0A2" d="M1034 536h5.7v6h-5.7zM1040.76 632h5.7v12h-5.7zM1047.51 657h5.7v12h-5.7zM1054.27 708h5.7v2h-5.7zM1067.79 726h5.7v1h-5.7zM1074.54 729h5.7v8h-5.7zM1081.3 736h5.7v1h-5.7zM1088.06 742h5.7v3h-5.7zM1108.33 759h5.7v1h-5.7zM1115.08 763h5.7v1h-5.7zM1169.14 770h5.7v2h-5.7zM1223.2 772h5.7v1h-5.7zM1229.95 772h5.7v1h-5.7z"/>
<path fill="#8C510A" d="M1034 533h5.7v3h-5.7zM1040.76 630h5.7v2h-5.7zM1047.51 655h5.7v2h-5.7zM1061.03 721h5.7v3h-5.7zM1067.79 725h5.7v1h-5.7zM1074.54 728h5.7v1h-5.7zM1088.06 740h5.7v1h-5.7zM1101.57 752h5.7v1h-5.7zM1115.08 762h5.7v1h-5.7zM1135.36 767h5.7v1h-5.7z"/>
<path fill="#FDAE6B" d="M1040.76 644h5.7v11h-5.7zM1047.51 669h5.7v11h-5.7zM1054.27 710h5.7v1h-5.7zM1074.54 737h5.7v11h-5.7zM1088.06 745h5.7v2h-5.7zM1094.81 749h5.7v1h-5.7zM1108.33 760h5.7v3h-5.7zM1121.84 767h5.7v2h-5.7zM1148.87 771h5.7v3h-5.7zM1155.63 769h5.7v3h-5.7zM1169.14 772h5.7v3h-5.7zM1189.41 771h5.7v1h-5.7zM1196.17 772h5.7v2h-5.7zM1202.92 771h5.7v1h-5.7z"/>
<path fill="#BCBDDC" d="M1047.51 778h5.7v2h-5.7zM1054.27 773h5.7v1h-5.7zM1067.79 763h5.7v9h-5.7zM1074.54 779h5.7v1h-5.7zM1094.81 768h5.7v8h-5.7zM1101.57 768h5.7v6h-5.7zM1108.33 779h5.7v1h-5.7zM1128.6 774h5.7v3h-5.7zM1135.36 779h5.7v1h-5.7zM1162.38 774h5.7v3h-5.7zM1175.9 776h5.7v2h-5.7zM1182.65 776h5.7v1h-5.7zM1202.92 776h5.7v1h-5.7zM1209.68 775h5.7v3h-5.7zM1223.2 777h5.7v1h-5.7z"/>
<path fill="#238B45" d="M1081.3 735h5.7v1h-5.7zM1094.81 748h5.7v1h-5.7z"/>
<path fill="#FEE6CE" d="M1088.06 741h5.7v1h-5.7zM1108.33 758h5.7v1h-5.7zM1148.87 768h5.7v3h-5.7zM1155.63 768h5.7v1h-5.7zM1196.17 771h5.7v1h-5.7z"/>
<path fill="#FEEA6E" d="M1182.65 779h5.7v1h-5.7zM1209.68 779h5.7v1h-5.7z"/>
<path fill="#7a6a45" d="M1034 532.65h5.7v0.7h-5.7zM1040.76 629.65h5.7v0.7h-5.7zM1047.51 654.65h5.7v0.7h-5.7zM1054.27 707.65h5.7v0.7h-5.7zM1061.03 720.65h5.7v0.7h-5.7zM1067.79 724.65h5.7v0.7h-5.7zM1074.54 727.65h5.7v0.7h-5.7zM1081.3 734.65h5.7v0.7h-5.7zM1088.06 739.65h5.7v0.7h-5.7zM1094.81 747.65h5.7v0.7h-5.7zM1101.57 751.65h5.7v0.7h-5.7zM1108.33 757.65h5.7v0.7h-5.7zM1115.08 761.65h5.7v0.7h-5.7zM1121.84 766.65h5.7v0.7h-5.7zM1128.6 766.65h5.7v0.7h-5.7zM1135.36 766.65h5.7v0.7h-5.7zM1142.11 767.65h5.7v0.7h-5.7zM1148.87 767.65h5.7v0.7h-5.7zM1155.63 767.65h5.7v0.7h-5.7zM1162.38 767.65h5.7v0.7h-5.7zM1169.14 769.65h5.7v0.7h-5.7zM1175.9 769.65h5.7v0.7h-5.7zM1182.65 770.65h5.7v0.7h-5.7zM1189.41 770.65h5.7v0.7h-5.7zM1196.17 770.65h5.7v0.7h-5.7zM1202.92 770.65h5.7v0.7h-5.7zM1209.68 770.65h5.7v0.7h-5.7zM1216.44 771.65h5.7v0.7h-5.7zM1223.2 771.65h5.7v0.7h-5.7zM1229.95 771.65h5.7v0.7h-5.7z"/>
<line x1="1026.2" y1="480.86" x2="1026.2" y2="779.8" stroke="#000" stroke-width="2.1"/>
<line x1="1016" y1="778.8" x2="1027.2" y2="778.8" stroke="#000" stroke-width="2.1"/>
<line x1="1016" y1="736.38" x2="1027.2" y2="736.38" stroke="#000" stroke-width="2.1"/>
<line x1="1016" y1="693.96" x2="1027.2" y2="693.96" stroke="#000" stroke-width="2.1"/>
<line x1="1016" y1="651.54" x2="1027.2" y2="651.54" stroke="#000" stroke-width="2.1"/>
<line x1="1016" y1="609.12" x2="1027.2" y2="609.12" stroke="#000" stroke-width="2.1"/>
<line x1="1016" y1="566.7" x2="1027.2" y2="566.7" stroke="#000" stroke-width="2.1"/>
<line x1="1016" y1="524.28" x2="1027.2" y2="524.28" stroke="#000" stroke-width="2.1"/>
<line x1="1016" y1="481.86" x2="1027.2" y2="481.86" stroke="#000" stroke-width="2.1"/>
<text transform="translate(1004.6,778.8) rotate(-90)" font-size="15.6" text-anchor="middle">0</text>
<text transform="translate(1004.6,736.38) rotate(-90)" font-size="15.6" text-anchor="middle">200</text>
<text transform="translate(1004.6,693.96) rotate(-90)" font-size="15.6" text-anchor="middle">400</text>
<text transform="translate(1004.6,651.54) rotate(-90)" font-size="15.6" text-anchor="middle">600</text>
<text transform="translate(1004.6,609.12) rotate(-90)" font-size="15.6" text-anchor="middle">800</text>
<text transform="translate(1004.6,524.28) rotate(-90)" font-size="15.6" text-anchor="middle">1200</text>
<circle cx="1036.85" cy="494.2" r="1.75" fill="#000"/>
<circle cx="1043.61" cy="494.2" r="1.75" fill="#000"/>
<circle cx="1050.36" cy="494.2" r="1.75" fill="#000"/>
<circle cx="1057.12" cy="494.2" r="1.75" fill="#000"/>
<circle cx="1063.88" cy="494.2" r="1.75" fill="#000"/>
<circle cx="1070.63" cy="494.2" r="1.75" fill="#000"/>
<circle cx="1077.39" cy="494.2" r="1.75" fill="#000"/>
<circle cx="1084.15" cy="494.2" r="1.75" fill="#000"/>
<circle cx="1090.91" cy="494.2" r="1.75" fill="#000"/>
<circle cx="1104.42" cy="494.2" r="1.75" fill="#000"/>
<circle cx="1111.18" cy="494.2" r="1.75" fill="#000"/>
<circle cx="1117.93" cy="494.2" r="1.75" fill="#000"/>
<circle cx="1124.69" cy="494.2" r="1.75" fill="#000"/>
<circle cx="1131.45" cy="494.2" r="1.75" fill="#000"/>
<circle cx="1138.2" cy="494.2" r="1.75" fill="#000"/>
<circle cx="1151.72" cy="494.2" r="1.75" fill="#000"/>
<circle cx="1165.23" cy="494.2" r="1.75" fill="#000"/>
<circle cx="1171.99" cy="494.2" r="1.75" fill="#000"/>
<circle cx="1185.5" cy="494.2" r="1.75" fill="#000"/>
<circle cx="1192.26" cy="494.2" r="1.75" fill="#000"/>
<circle cx="1199.02" cy="494.2" r="1.75" fill="#000"/>
<circle cx="1205.77" cy="494.2" r="1.75" fill="#000"/>
<circle cx="1212.53" cy="494.2" r="1.75" fill="#000"/>
<circle cx="1226.05" cy="494.2" r="1.75" fill="#000"/>
<circle cx="1232.8" cy="494.2" r="1.75" fill="#000"/>
<circle cx="1036.85" cy="506.8" r="1.75" fill="#377EB8"/>
<circle cx="1043.61" cy="506.8" r="1.75" fill="#E41A1C"/>
<circle cx="1050.36" cy="506.8" r="1.75" fill="#E41A1C"/>
<circle cx="1057.12" cy="506.8" r="1.75" fill="#377EB8"/>
<circle cx="1063.88" cy="506.8" r="1.75" fill="#377EB8"/>
<circle cx="1070.63" cy="506.8" r="1.75" fill="#984EA3"/>
<circle cx="1077.39" cy="506.8" r="1.75" fill="#E41A1C"/>
<circle cx="1084.15" cy="506.8" r="1.75" fill="#377EB8"/>
<circle cx="1090.91" cy="506.8" r="1.75" fill="#E41A1C"/>
<circle cx="1097.66" cy="506.8" r="1.75" fill="#984EA3"/>
<circle cx="1104.42" cy="506.8" r="1.75" fill="#984EA3"/>
<circle cx="1111.18" cy="506.8" r="1.75" fill="#E41A1C"/>
<circle cx="1117.93" cy="506.8" r="1.75" fill="#377EB8"/>
<circle cx="1124.69" cy="506.8" r="1.75" fill="#E41A1C"/>
<circle cx="1131.45" cy="506.8" r="1.75" fill="#984EA3"/>
<circle cx="1138.2" cy="506.8" r="1.75" fill="#377EB8"/>
<circle cx="1144.96" cy="506.8" r="1.75" fill="#377EB8"/>
<circle cx="1151.72" cy="506.8" r="1.75" fill="#E41A1C"/>
<circle cx="1158.48" cy="506.8" r="1.75" fill="#E41A1C"/>
<circle cx="1165.23" cy="506.8" r="1.75" fill="#984EA3"/>
<circle cx="1171.99" cy="506.8" r="1.75" fill="#E41A1C"/>
<circle cx="1178.75" cy="506.8" r="1.75" fill="#984EA3"/>
<circle cx="1185.5" cy="506.8" r="1.75" fill="#984EA3"/>
<circle cx="1192.26" cy="506.8" r="1.75" fill="#377EB8"/>
<circle cx="1199.02" cy="506.8" r="1.75" fill="#E41A1C"/>
<circle cx="1205.77" cy="506.8" r="1.75" fill="#984EA3"/>
<circle cx="1212.53" cy="506.8" r="1.75" fill="#984EA3"/>
<circle cx="1219.29" cy="506.8" r="1.75" fill="#E41A1C"/>
<circle cx="1226.05" cy="506.8" r="1.75" fill="#984EA3"/>
<circle cx="1232.8" cy="506.8" r="1.75" fill="#E41A1C"/>
<text x="1158.4" y="606.8" font-size="18.2"><tspan font-style="italic">n</tspan> = 5,245</text>
<path fill="#4292C6" d="M1325.8 766h5.7v14h-5.7zM1332.56 774h5.7v6h-5.7zM1339.31 776h5.7v4h-5.7zM1346.07 762h5.7v18h-5.7zM1352.83 771h5.7v9h-5.7zM1359.59 769h5.7v11h-5.7zM1366.34 774h5.7v6h-5.7zM1373.1 777h5.7v3h-5.7zM1379.86 770h5.7v10h-5.7zM1386.61 773h5.7v7h-5.7zM1393.37 772h5.7v8h-5.7zM1400.13 776h5.7v4h-5.7zM1406.88 777h5.7v3h-5.7zM1413.64 775h5.7v5h-5.7zM1420.4 775h5.7v5h-5.7zM1427.15 779h5.7v1h-5.7zM1433.91 778h5.7v1h-5.7zM1440.67 777h5.7v3h-5.7zM1447.43 777h5.7v3h-5.7zM1454.18 779h5.7v1h-5.7zM1460.94 778h5.7v2h-5.7zM1467.7 778h5.7v2h-5.7zM1474.45 778h5.7v2h-5.7zM1481.21 778h5.7v1h-5.7zM1487.97 778h5.7v2h-5.7zM1494.72 775h5.7v5h-5.7zM1501.48 775h5.7v5h-5.7zM1508.24 777h5.7v3h-5.7z"/>
<path fill="#BCBDDC" d="M1325.8 764h5.7v2h-5.7zM1332.56 769h5.7v5h-5.7zM1339.31 770h5.7v6h-5.7zM1352.83 770h5.7v1h-5.7zM1359.59 767h5.7v2h-5.7zM1366.34 771h5.7v3h-5.7zM1373.1 775h5.7v2h-5.7zM1379.86 769h5.7v1h-5.7zM1386.61 771h5.7v2h-5.7zM1393.37 771h5.7v1h-5.7zM1406.88 772h5.7v5h-5.7zM1427.15 777h5.7v2h-5.7zM1433.91 779h5.7v1h-5.7zM1460.94 777h5.7v1h-5.7zM1474.45 777h5.7v1h-5.7zM1481.21 779h5.7v1h-5.7zM1494.72 774h5.7v1h-5.7z"/>
<path fill="#807DBA" d="M1325.8 750h5.7v14h-5.7zM1332.56 733h5.7v36h-5.7zM1339.31 740h5.7v30h-5.7zM1346.07 672h5.7v90h-5.7zM1352.83 767h5.7v3h-5.7zM1359.59 749h5.7v18h-5.7zM1366.34 761h5.7v10h-5.7zM1373.1 772h5.7v3h-5.7zM1379.86 733h5.7v36h-5.7zM1386.61 752h5.7v19h-5.7zM1393.37 735h5.7v36h-5.7zM1406.88 757h5.7v15h-5.7zM1413.64 768h5.7v7h-5.7zM1420.4 771h5.7v4h-5.7zM1427.15 772h5.7v5h-5.7zM1440.67 772h5.7v5h-5.7zM1460.94 773h5.7v4h-5.7zM1467.7 777h5.7v1h-5.7zM1474.45 768h5.7v9h-5.7zM1481.21 772h5.7v6h-5.7zM1487.97 776h5.7v2h-5.7zM1494.72 762h5.7v12h-5.7zM1501.48 761h5.7v14h-5.7zM1508.24 776h5.7v1h-5.7zM1515 779h5.7v1h-5.7zM1521.75 779h5.7v1h-5.7z"/>
<path fill="#CB181D" d="M1325.8 709h5.7v41h-5.7zM1332.56 630h5.7v103h-5.7zM1339.31 707h5.7v33h-5.7zM1346.07 671h5.7v1h-5.7zM1352.83 758h5.7v9h-5.7zM1359.59 737h5.7v12h-5.7zM1366.34 734h5.7v27h-5.7zM1373.1 757h5.7v15h-5.7zM1386.61 738h5.7v14h-5.7zM1400.13 762h5.7v14h-5.7zM1406.88 738h5.7v19h-5.7zM1413.64 755h5.7v13h-5.7zM1420.4 755h5.7v16h-5.7zM1427.15 762h5.7v10h-5.7zM1433.91 762h5.7v16h-5.7zM1440.67 771h5.7v1h-5.7zM1447.43 774h5.7v3h-5.7zM1454.18 775h5.7v4h-5.7zM1460.94 767h5.7v6h-5.7zM1467.7 763h5.7v14h-5.7zM1474.45 764h5.7v4h-5.7zM1481.21 770h5.7v2h-5.7zM1487.97 773h5.7v3h-5.7zM1501.48 760h5.7v1h-5.7zM1508.24 771h5.7v5h-5.7zM1515 777h5.7v2h-5.7zM1521.75 769h5.7v10h-5.7z"/>
<path fill="#FB6A4A" d="M1325.8 587h5.7v122h-5.7zM1332.56 600h5.7v30h-5.7zM1339.31 662h5.7v45h-5.7zM1346.07 665h5.7v6h-5.7zM1352.83 691h5.7v67h-5.7zM1359.59 689h5.7v48h-5.7zM1366.34 701h5.7v33h-5.7zM1373.1 738h5.7v19h-5.7zM1379.86 725h5.7v8h-5.7zM1386.61 730h5.7v8h-5.7zM1393.37 734h5.7v1h-5.7zM1400.13 749h5.7v13h-5.7zM1406.88 735h5.7v3h-5.7zM1413.64 745h5.7v10h-5.7zM1420.4 744h5.7v11h-5.7zM1427.15 748h5.7v14h-5.7zM1433.91 756h5.7v6h-5.7zM1440.67 759h5.7v12h-5.7zM1447.43 759h5.7v15h-5.7zM1454.18 761h5.7v14h-5.7zM1460.94 758h5.7v9h-5.7zM1467.7 757h5.7v6h-5.7zM1474.45 759h5.7v5h-5.7zM1481.21 765h5.7v5h-5.7zM1487.97 762h5.7v11h-5.7zM1494.72 761h5.7v1h-5.7zM1501.48 759h5.7v1h-5.7zM1508.24 764h5.7v7h-5.7zM1515 767h5.7v10h-5.7zM1521.75 765h5.7v4h-5.7z"/>
<path fill="#FDAE6B" d="M1325.8 563h5.7v24h-5.7zM1332.56 580h5.7v20h-5.7zM1339.31 619h5.7v43h-5.7zM1346.07 658h5.7v7h-5.7zM1352.83 679h5.7v12h-5.7zM1359.59 685h5.7v4h-5.7zM1366.34 696h5.7v5h-5.7zM1373.1 725h5.7v13h-5.7zM1379.86 718h5.7v7h-5.7zM1386.61 725h5.7v5h-5.7zM1393.37 727h5.7v7h-5.7zM1400.13 737h5.7v12h-5.7zM1413.64 740h5.7v5h-5.7zM1420.4 738h5.7v6h-5.7zM1427.15 745h5.7v3h-5.7zM1433.91 749h5.7v7h-5.7zM1440.67 747h5.7v12h-5.7zM1447.43 749h5.7v10h-5.7zM1454.18 754h5.7v7h-5.7zM1460.94 753h5.7v5h-5.7zM1467.7 755h5.7v2h-5.7zM1474.45 757h5.7v2h-5.7zM1481.21 758h5.7v7h-5.7zM1487.97 757h5.7v5h-5.7zM1494.72 758h5.7v3h-5.7zM1508.24 762h5.7v2h-5.7zM1515 761h5.7v6h-5.7zM1521.75 761h5.7v4h-5.7z"/>
<path fill="#FDD0A2" d="M1325.8 540h5.7v23h-5.7zM1332.56 562h5.7v18h-5.7zM1339.31 599h5.7v20h-5.7zM1346.07 648h5.7v10h-5.7zM1352.83 663h5.7v16h-5.7zM1366.34 687h5.7v9h-5.7zM1373.1 712h5.7v13h-5.7zM1379.86 714h5.7v4h-5.7zM1386.61 722h5.7v3h-5.7zM1393.37 725h5.7v2h-5.7zM1400.13 731h5.7v6h-5.7zM1406.88 734h5.7v1h-5.7zM1413.64 736h5.7v4h-5.7zM1420.4 736h5.7v2h-5.7zM1427.15 742h5.7v3h-5.7zM1433.91 742h5.7v7h-5.7zM1440.67 742h5.7v5h-5.7zM1447.43 745h5.7v4h-5.7zM1454.18 748h5.7v6h-5.7zM1460.94 752h5.7v1h-5.7zM1467.7 753h5.7v2h-5.7zM1474.45 754h5.7v3h-5.7zM1487.97 756h5.7v1h-5.7zM1501.48 757h5.7v2h-5.7zM1508.24 758h5.7v4h-5.7zM1515 758h5.7v3h-5.7zM1521.75 758h5.7v3h-5.7z"/>
<path fill="#FEE6CE" d="M1325.8 535h5.7v5h-5.7zM1332.56 557h5.7v5h-5.7zM1339.31 583h5.7v16h-5.7zM1346.07 645h5.7v3h-5.7zM1359.59 681h5.7v4h-5.7zM1366.34 682h5.7v5h-5.7zM1373.1 708h5.7v4h-5.7zM1379.86 713h5.7v1h-5.7zM1400.13 728h5.7v3h-5.7zM1413.64 733h5.7v3h-5.7zM1420.4 733h5.7v3h-5.7zM1427.15 739h5.7v3h-5.7zM1433.91 741h5.7v1h-5.7zM1440.67 741h5.7v1h-5.7zM1447.43 743h5.7v2h-5.7zM1454.18 747h5.7v1h-5.7zM1460.94 751h5.7v1h-5.7zM1467.7 752h5.7v1h-5.7zM1481.21 756h5.7v2h-5.7zM1487.97 755h5.7v1h-5.7zM1501.48 756h5.7v1h-5.7zM1508.24 757h5.7v1h-5.7zM1515 757h5.7v1h-5.7z"/>
<path fill="#8C510A" d="M1325.8 532h5.7v3h-5.7zM1332.56 555h5.7v2h-5.7zM1339.31 579h5.7v4h-5.7zM1352.83 661h5.7v2h-5.7zM1359.59 680h5.7v1h-5.7zM1366.34 681h5.7v1h-5.7zM1373.1 706h5.7v2h-5.7zM1379.86 711h5.7v2h-5.7zM1386.61 720h5.7v1h-5.7zM1393.37 724h5.7v1h-5.7zM1406.88 732h5.7v2h-5.7zM1433.91 740h5.7v1h-5.7zM1447.43 742h5.7v1h-5.7zM1454.18 746h5.7v1h-5.7zM1474.45 753h5.7v1h-5.7zM1481.21 754h5.7v1h-5.7zM1494.72 756h5.7v2h-5.7zM1508.24 756h5.7v1h-5.7z"/>
<path fill="#238B45" d="M1346.07 644h5.7v1h-5.7zM1481.21 755h5.7v1h-5.7z"/>
<path fill="#C7E9C0" d="M1386.61 721h5.7v1h-5.7z"/>
<path fill="#BF812D" d="M1406.88 731h5.7v1h-5.7zM1494.72 755h5.7v1h-5.7z"/>
<path fill="#7a6a45" d="M1325.8 531.65h5.7v0.7h-5.7zM1332.56 554.65h5.7v0.7h-5.7zM1339.31 578.65h5.7v0.7h-5.7zM1346.07 643.65h5.7v0.7h-5.7zM1352.83 660.65h5.7v0.7h-5.7zM1359.59 679.65h5.7v0.7h-5.7zM1366.34 680.65h5.7v0.7h-5.7zM1373.1 705.65h5.7v0.7h-5.7zM1379.86 710.65h5.7v0.7h-5.7zM1386.61 719.65h5.7v0.7h-5.7zM1393.37 723.65h5.7v0.7h-5.7zM1400.13 727.65h5.7v0.7h-5.7zM1406.88 730.65h5.7v0.7h-5.7zM1413.64 732.65h5.7v0.7h-5.7zM1420.4 732.65h5.7v0.7h-5.7zM1427.15 738.65h5.7v0.7h-5.7zM1433.91 739.65h5.7v0.7h-5.7zM1440.67 740.65h5.7v0.7h-5.7zM1447.43 741.65h5.7v0.7h-5.7zM1454.18 745.65h5.7v0.7h-5.7zM1460.94 750.65h5.7v0.7h-5.7zM1467.7 751.65h5.7v0.7h-5.7zM1474.45 752.65h5.7v0.7h-5.7zM1481.21 753.65h5.7v0.7h-5.7zM1487.97 754.65h5.7v0.7h-5.7zM1494.72 754.65h5.7v0.7h-5.7zM1501.48 755.65h5.7v0.7h-5.7zM1508.24 755.65h5.7v0.7h-5.7zM1515 756.65h5.7v0.7h-5.7zM1521.75 757.65h5.7v0.7h-5.7z"/>
<line x1="1318" y1="528.6" x2="1318" y2="779.8" stroke="#000" stroke-width="2.1"/>
<line x1="1307.8" y1="778.8" x2="1319" y2="778.8" stroke="#000" stroke-width="2.1"/>
<line x1="1307.8" y1="716.5" x2="1319" y2="716.5" stroke="#000" stroke-width="2.1"/>
<line x1="1307.8" y1="654.2" x2="1319" y2="654.2" stroke="#000" stroke-width="2.1"/>
<line x1="1307.8" y1="591.9" x2="1319" y2="591.9" stroke="#000" stroke-width="2.1"/>
<line x1="1307.8" y1="529.6" x2="1319" y2="529.6" stroke="#000" stroke-width="2.1"/>
<text transform="translate(1296.4,778.8) rotate(-90)" font-size="15.6" text-anchor="middle">0</text>
<text transform="translate(1296.4,716.5) rotate(-90)" font-size="15.6" text-anchor="middle">200</text>
<text transform="translate(1296.4,654.2) rotate(-90)" font-size="15.6" text-anchor="middle">400</text>
<text transform="translate(1296.4,591.9) rotate(-90)" font-size="15.6" text-anchor="middle">600</text>
<text transform="translate(1296.4,529.6) rotate(-90)" font-size="15.6" text-anchor="middle">800</text>
<circle cx="1328.65" cy="494.2" r="1.75" fill="#000"/>
<circle cx="1335.41" cy="494.2" r="1.75" fill="#000"/>
<circle cx="1342.16" cy="494.2" r="1.75" fill="#000"/>
<circle cx="1348.92" cy="494.2" r="1.75" fill="#000"/>
<circle cx="1355.68" cy="494.2" r="1.75" fill="#000"/>
<circle cx="1362.43" cy="494.2" r="1.75" fill="#000"/>
<circle cx="1369.19" cy="494.2" r="1.75" fill="#000"/>
<circle cx="1375.95" cy="494.2" r="1.75" fill="#000"/>
<circle cx="1382.71" cy="494.2" r="1.75" fill="#000"/>
<circle cx="1389.46" cy="494.2" r="1.75" fill="#000"/>
<circle cx="1402.98" cy="494.2" r="1.75" fill="#000"/>
<circle cx="1409.73" cy="494.2" r="1.75" fill="#000"/>
<circle cx="1416.49" cy="494.2" r="1.75" fill="#000"/>
<circle cx="1423.25" cy="494.2" r="1.75" fill="#000"/>
<circle cx="1430" cy="494.2" r="1.75" fill="#000"/>
<circle cx="1436.76" cy="494.2" r="1.75" fill="#000"/>
<circle cx="1443.52" cy="494.2" r="1.75" fill="#000"/>
<circle cx="1450.28" cy="494.2" r="1.75" fill="#000"/>
<circle cx="1457.03" cy="494.2" r="1.75" fill="#000"/>
<circle cx="1470.55" cy="494.2" r="1.75" fill="#000"/>
<circle cx="1477.3" cy="494.2" r="1.75" fill="#000"/>
<circle cx="1484.06" cy="494.2" r="1.75" fill="#000"/>
<circle cx="1490.82" cy="494.2" r="1.75" fill="#000"/>
<circle cx="1497.57" cy="494.2" r="1.75" fill="#000"/>
<circle cx="1504.33" cy="494.2" r="1.75" fill="#000"/>
<circle cx="1511.09" cy="494.2" r="1.75" fill="#000"/>
<circle cx="1517.85" cy="494.2" r="1.75" fill="#000"/>
<circle cx="1524.6" cy="494.2" r="1.75" fill="#000"/>
<circle cx="1328.65" cy="506.8" r="1.75" fill="#E41A1C"/>
<circle cx="1335.41" cy="506.8" r="1.75" fill="#E41A1C"/>
<circle cx="1342.16" cy="506.8" r="1.75" fill="#377EB8"/>
<circle cx="1348.92" cy="506.8" r="1.75" fill="#377EB8"/>
<circle cx="1355.68" cy="506.8" r="1.75" fill="#E41A1C"/>
<circle cx="1362.43" cy="506.8" r="1.75" fill="#E41A1C"/>
<circle cx="1369.19" cy="506.8" r="1.75" fill="#E41A1C"/>
<circle cx="1375.95" cy="506.8" r="1.75" fill="#984EA3"/>
<circle cx="1382.71" cy="506.8" r="1.75" fill="#984EA3"/>
<circle cx="1389.46" cy="506.8" r="1.75" fill="#E41A1C"/>
<circle cx="1396.22" cy="506.8" r="1.75" fill="#377EB8"/>
<circle cx="1402.98" cy="506.8" r="1.75" fill="#4DAF4A"/>
<circle cx="1409.73" cy="506.8" r="1.75" fill="#E41A1C"/>
<circle cx="1416.49" cy="506.8" r="1.75" fill="#E41A1C"/>
<circle cx="1423.25" cy="506.8" r="1.75" fill="#E41A1C"/>
<circle cx="1430" cy="506.8" r="1.75" fill="#E41A1C"/>
<circle cx="1436.76" cy="506.8" r="1.75" fill="#984EA3"/>
<circle cx="1443.52" cy="506.8" r="1.75" fill="#E41A1C"/>
<circle cx="1450.28" cy="506.8" r="1.75" fill="#4DAF4A"/>
<circle cx="1457.03" cy="506.8" r="1.75" fill="#4DAF4A"/>
<circle cx="1463.79" cy="506.8" r="1.75" fill="#E41A1C"/>
<circle cx="1470.55" cy="506.8" r="1.75" fill="#E41A1C"/>
<circle cx="1477.3" cy="506.8" r="1.75" fill="#377EB8"/>
<circle cx="1484.06" cy="506.8" r="1.75" fill="#377EB8"/>
<circle cx="1490.82" cy="506.8" r="1.75" fill="#4DAF4A"/>
<circle cx="1497.57" cy="506.8" r="1.75" fill="#984EA3"/>
<circle cx="1504.33" cy="506.8" r="1.75" fill="#377EB8"/>
<circle cx="1511.09" cy="506.8" r="1.75" fill="#E41A1C"/>
<circle cx="1517.85" cy="506.8" r="1.75" fill="#377EB8"/>
<circle cx="1524.6" cy="506.8" r="1.75" fill="#E41A1C"/>
<text x="1446.6" y="606.8" font-size="18.2"><tspan font-style="italic">n</tspan> = 6,461</text>
<text x="1542" y="498.8" font-size="20.2" text-anchor="start">gp70</text>
<text x="1542" y="523.7" font-size="20.2" text-anchor="start">Mouse ID</text>
<path fill="#4292C6" d="M159 1119h5.7v31h-5.7z"/>
<path fill="#BCBDDC" d="M159 965h5.7v154h-5.7zM165.76 1057h5.7v93h-5.7zM172.51 1088h5.7v31h-5.7zM179.27 1119h5.7v31h-5.7zM186.03 1088h5.7v62h-5.7zM192.78 1119h5.7v31h-5.7zM199.54 1119h5.7v31h-5.7zM206.3 1119h5.7v31h-5.7zM219.81 1119h5.7v31h-5.7zM226.57 1119h5.7v31h-5.7zM246.84 1119h5.7v31h-5.7zM253.6 1119h5.7v31h-5.7zM260.36 1119h5.7v31h-5.7zM273.87 1119h5.7v31h-5.7zM280.63 1119h5.7v31h-5.7zM287.38 1119h5.7v31h-5.7zM294.14 1119h5.7v31h-5.7z"/>
<path fill="#FDD0A2" d="M159 934h5.7v31h-5.7zM348.2 1119h5.7v31h-5.7z"/>
<path fill="#C7E9C0" d="M159 903h5.7v31h-5.7zM213.06 1119h5.7v31h-5.7zM327.92 1119h5.7v31h-5.7z"/>
<path fill="#FEEA6E" d="M172.51 1119h5.7v31h-5.7zM267.11 1119h5.7v31h-5.7zM300.9 1119h5.7v31h-5.7zM307.65 1119h5.7v31h-5.7z"/>
<path fill="#807DBA" d="M179.27 1088h5.7v31h-5.7zM314.41 1119h5.7v31h-5.7z"/>
<path fill="#9ECAE1" d="M233.33 1119h5.7v31h-5.7z"/>
<path fill="#BDBDBD" d="M240.08 1119h5.7v31h-5.7z"/>
<path fill="#8C510A" d="M321.17 1119h5.7v31h-5.7z"/>
<path fill="#238B45" d="M334.68 1119h5.7v31h-5.7zM354.95 1119h5.7v31h-5.7z"/>
<path fill="#BF812D" d="M341.44 1119h5.7v31h-5.7z"/>
<path fill="#7a6a45" d="M159 902.65h5.7v0.7h-5.7zM165.76 1056.65h5.7v0.7h-5.7zM172.51 1087.65h5.7v0.7h-5.7zM179.27 1087.65h5.7v0.7h-5.7zM186.03 1087.65h5.7v0.7h-5.7zM192.78 1118.65h5.7v0.7h-5.7zM199.54 1118.65h5.7v0.7h-5.7zM206.3 1118.65h5.7v0.7h-5.7zM213.06 1118.65h5.7v0.7h-5.7zM219.81 1118.65h5.7v0.7h-5.7zM226.57 1118.65h5.7v0.7h-5.7zM233.33 1118.65h5.7v0.7h-5.7zM240.08 1118.65h5.7v0.7h-5.7zM246.84 1118.65h5.7v0.7h-5.7zM253.6 1118.65h5.7v0.7h-5.7zM260.36 1118.65h5.7v0.7h-5.7zM267.11 1118.65h5.7v0.7h-5.7zM273.87 1118.65h5.7v0.7h-5.7zM280.63 1118.65h5.7v0.7h-5.7zM287.38 1118.65h5.7v0.7h-5.7zM294.14 1118.65h5.7v0.7h-5.7zM300.9 1118.65h5.7v0.7h-5.7zM307.65 1118.65h5.7v0.7h-5.7zM314.41 1118.65h5.7v0.7h-5.7zM321.17 1118.65h5.7v0.7h-5.7zM327.92 1118.65h5.7v0.7h-5.7zM334.68 1118.65h5.7v0.7h-5.7zM341.44 1118.65h5.7v0.7h-5.7zM348.2 1118.65h5.7v0.7h-5.7zM354.95 1118.65h5.7v0.7h-5.7z"/>
<line x1="151.2" y1="901.02" x2="151.2" y2="1150.3" stroke="#000" stroke-width="2.1"/>
<line x1="141" y1="1149.3" x2="152.2" y2="1149.3" stroke="#000" stroke-width="2.1"/>
<line x1="141" y1="1087.48" x2="152.2" y2="1087.48" stroke="#000" stroke-width="2.1"/>
<line x1="141" y1="1025.66" x2="152.2" y2="1025.66" stroke="#000" stroke-width="2.1"/>
<line x1="141" y1="963.84" x2="152.2" y2="963.84" stroke="#000" stroke-width="2.1"/>
<line x1="141" y1="902.02" x2="152.2" y2="902.02" stroke="#000" stroke-width="2.1"/>
<text transform="translate(129.6,1149.3) rotate(-90)" font-size="15.6" text-anchor="middle">0</text>
<text transform="translate(129.6,1087.48) rotate(-90)" font-size="15.6" text-anchor="middle">2</text>
<text transform="translate(129.6,1025.66) rotate(-90)" font-size="15.6" text-anchor="middle">4</text>
<text transform="translate(129.6,963.84) rotate(-90)" font-size="15.6" text-anchor="middle">6</text>
<text transform="translate(129.6,902.02) rotate(-90)" font-size="15.6" text-anchor="middle">8</text>
<circle cx="195.63" cy="864.6" r="1.75" fill="#000"/>
<circle cx="209.15" cy="864.6" r="1.75" fill="#000"/>
<circle cx="215.91" cy="864.6" r="1.75" fill="#000"/>
<circle cx="222.66" cy="864.6" r="1.75" fill="#000"/>
<circle cx="229.42" cy="864.6" r="1.75" fill="#000"/>
<circle cx="242.93" cy="864.6" r="1.75" fill="#000"/>
<circle cx="303.75" cy="864.6" r="1.75" fill="#000"/>
<circle cx="161.85" cy="877" r="1.75" fill="#377EB8"/>
<circle cx="168.61" cy="877" r="1.75" fill="#377EB8"/>
<circle cx="175.36" cy="877" r="1.75" fill="#377EB8"/>
<circle cx="182.12" cy="877" r="1.75" fill="#377EB8"/>
<circle cx="188.88" cy="877" r="1.75" fill="#377EB8"/>
<circle cx="195.63" cy="877" r="1.75" fill="#E41A1C"/>
<circle cx="202.39" cy="877" r="1.75" fill="#E41A1C"/>
<circle cx="209.15" cy="877" r="1.75" fill="#E41A1C"/>
<circle cx="215.91" cy="877" r="1.75" fill="#E41A1C"/>
<circle cx="222.66" cy="877" r="1.75" fill="#E41A1C"/>
<circle cx="229.42" cy="877" r="1.75" fill="#E41A1C"/>
<circle cx="236.18" cy="877" r="1.75" fill="#E41A1C"/>
<circle cx="242.93" cy="877" r="1.75" fill="#E41A1C"/>
<circle cx="249.69" cy="877" r="1.75" fill="#377EB8"/>
<circle cx="256.45" cy="877" r="1.75" fill="#377EB8"/>
<circle cx="263.21" cy="877" r="1.75" fill="#377EB8"/>
<circle cx="269.96" cy="877" r="1.75" fill="#377EB8"/>
<circle cx="276.72" cy="877" r="1.75" fill="#377EB8"/>
<circle cx="283.48" cy="877" r="1.75" fill="#377EB8"/>
<circle cx="290.23" cy="877" r="1.75" fill="#377EB8"/>
<circle cx="296.99" cy="877" r="1.75" fill="#377EB8"/>
<circle cx="303.75" cy="877" r="1.75" fill="#377EB8"/>
<circle cx="310.5" cy="877" r="1.75" fill="#377EB8"/>
<circle cx="317.26" cy="877" r="1.75" fill="#377EB8"/>
<circle cx="324.02" cy="877" r="1.75" fill="#4DAF4A"/>
<circle cx="330.77" cy="877" r="1.75" fill="#4DAF4A"/>
<circle cx="337.53" cy="877" r="1.75" fill="#4DAF4A"/>
<circle cx="344.29" cy="877" r="1.75" fill="#984EA3"/>
<circle cx="351.05" cy="877" r="1.75" fill="#984EA3"/>
<circle cx="357.8" cy="877" r="1.75" fill="#984EA3"/>
<text x="275.6" y="974.2" font-size="18.2"><tspan font-style="italic">n</tspan> = 42</text>
<path fill="#4292C6" d="M451 1115h5.7v35h-5.7z"/>
<path fill="#BCBDDC" d="M451 902h5.7v213h-5.7zM457.76 1008h5.7v142h-5.7zM464.51 1044h5.7v106h-5.7zM471.27 1079h5.7v71h-5.7zM478.03 1079h5.7v71h-5.7zM484.78 1079h5.7v71h-5.7zM491.54 1079h5.7v36h-5.7zM498.3 1115h5.7v35h-5.7zM505.06 1115h5.7v35h-5.7zM511.81 1079h5.7v71h-5.7zM518.57 1079h5.7v71h-5.7zM525.33 1115h5.7v35h-5.7zM532.08 1115h5.7v35h-5.7zM538.84 1115h5.7v35h-5.7zM545.6 1115h5.7v35h-5.7zM559.11 1115h5.7v35h-5.7zM565.87 1115h5.7v35h-5.7zM572.63 1115h5.7v35h-5.7zM586.14 1115h5.7v35h-5.7zM592.9 1115h5.7v35h-5.7zM599.65 1115h5.7v35h-5.7zM606.41 1115h5.7v35h-5.7zM613.17 1115h5.7v35h-5.7zM619.92 1115h5.7v35h-5.7zM626.68 1115h5.7v35h-5.7zM640.2 1115h5.7v35h-5.7zM646.95 1115h5.7v35h-5.7z"/>
<path fill="#FEEA6E" d="M491.54 1115h5.7v35h-5.7z"/>
<path fill="#C7E9C0" d="M498.3 1079h5.7v36h-5.7z"/>
<path fill="#238B45" d="M505.06 1079h5.7v36h-5.7zM579.38 1115h5.7v35h-5.7z"/>
<path fill="#807DBA" d="M552.36 1115h5.7v35h-5.7zM633.44 1115h5.7v35h-5.7z"/>
<path fill="#7a6a45" d="M451 901.65h5.7v0.7h-5.7zM457.76 1007.65h5.7v0.7h-5.7zM464.51 1043.65h5.7v0.7h-5.7zM471.27 1078.65h5.7v0.7h-5.7zM478.03 1078.65h5.7v0.7h-5.7zM484.78 1078.65h5.7v0.7h-5.7zM491.54 1078.65h5.7v0.7h-5.7zM498.3 1078.65h5.7v0.7h-5.7zM505.06 1078.65h5.7v0.7h-5.7zM511.81 1078.65h5.7v0.7h-5.7zM518.57 1078.65h5.7v0.7h-5.7zM525.33 1114.65h5.7v0.7h-5.7zM532.08 1114.65h5.7v0.7h-5.7zM538.84 1114.65h5.7v0.7h-5.7zM545.6 1114.65h5.7v0.7h-5.7zM552.36 1114.65h5.7v0.7h-5.7zM559.11 1114.65h5.7v0.7h-5.7zM565.87 1114.65h5.7v0.7h-5.7zM572.63 1114.65h5.7v0.7h-5.7zM579.38 1114.65h5.7v0.7h-5.7zM586.14 1114.65h5.7v0.7h-5.7zM592.9 1114.65h5.7v0.7h-5.7zM599.65 1114.65h5.7v0.7h-5.7zM606.41 1114.65h5.7v0.7h-5.7zM613.17 1114.65h5.7v0.7h-5.7zM619.92 1114.65h5.7v0.7h-5.7zM626.68 1114.65h5.7v0.7h-5.7zM633.44 1114.65h5.7v0.7h-5.7zM640.2 1114.65h5.7v0.7h-5.7zM646.95 1114.65h5.7v0.7h-5.7z"/>
<line x1="443.2" y1="865.1" x2="443.2" y2="1150.3" stroke="#000" stroke-width="2.1"/>
<line x1="433" y1="1149.3" x2="444.2" y2="1149.3" stroke="#000" stroke-width="2.1"/>
<line x1="433" y1="1078.5" x2="444.2" y2="1078.5" stroke="#000" stroke-width="2.1"/>
<line x1="433" y1="1007.7" x2="444.2" y2="1007.7" stroke="#000" stroke-width="2.1"/>
<line x1="433" y1="936.9" x2="444.2" y2="936.9" stroke="#000" stroke-width="2.1"/>
<line x1="433" y1="866.1" x2="444.2" y2="866.1" stroke="#000" stroke-width="2.1"/>
<text transform="translate(421.6,1149.3) rotate(-90)" font-size="15.6" text-anchor="middle">0</text>
<text transform="translate(421.6,1078.5) rotate(-90)" font-size="15.6" text-anchor="middle">2</text>
<text transform="translate(421.6,1007.7) rotate(-90)" font-size="15.6" text-anchor="middle">4</text>
<text transform="translate(421.6,936.9) rotate(-90)" font-size="15.6" text-anchor="middle">6</text>
<text transform="translate(421.6,866.1) rotate(-90)" font-size="15.6" text-anchor="middle">8</text>
<circle cx="474.12" cy="864.6" r="1.75" fill="#000"/>
<circle cx="487.63" cy="864.6" r="1.75" fill="#000"/>
<circle cx="501.15" cy="864.6" r="1.75" fill="#000"/>
<circle cx="507.91" cy="864.6" r="1.75" fill="#000"/>
<circle cx="528.18" cy="864.6" r="1.75" fill="#000"/>
<circle cx="534.93" cy="864.6" r="1.75" fill="#000"/>
<circle cx="541.69" cy="864.6" r="1.75" fill="#000"/>
<circle cx="548.45" cy="864.6" r="1.75" fill="#000"/>
<circle cx="555.21" cy="864.6" r="1.75" fill="#000"/>
<circle cx="568.72" cy="864.6" r="1.75" fill="#000"/>
<circle cx="575.48" cy="864.6" r="1.75" fill="#000"/>
<circle cx="616.02" cy="864.6" r="1.75" fill="#000"/>
<circle cx="622.77" cy="864.6" r="1.75" fill="#000"/>
<circle cx="629.53" cy="864.6" r="1.75" fill="#000"/>
<circle cx="453.85" cy="877" r="1.75" fill="#E41A1C"/>
<circle cx="460.61" cy="877" r="1.75" fill="#377EB8"/>
<circle cx="467.36" cy="877" r="1.75" fill="#E41A1C"/>
<circle cx="474.12" cy="877" r="1.75" fill="#E41A1C"/>
<circle cx="480.88" cy="877" r="1.75" fill="#E41A1C"/>
<circle cx="487.63" cy="877" r="1.75" fill="#377EB8"/>
<circle cx="494.39" cy="877" r="1.75" fill="#4DAF4A"/>
<circle cx="501.15" cy="877" r="1.75" fill="#FF7F00"/>
<circle cx="507.91" cy="877" r="1.75" fill="#FF7F00"/>
<circle cx="514.66" cy="877" r="1.75" fill="#FF7F00"/>
<circle cx="521.42" cy="877" r="1.75" fill="#E41A1C"/>
<circle cx="528.18" cy="877" r="1.75" fill="#E41A1C"/>
<circle cx="534.93" cy="877" r="1.75" fill="#E41A1C"/>
<circle cx="541.69" cy="877" r="1.75" fill="#E41A1C"/>
<circle cx="548.45" cy="877" r="1.75" fill="#E41A1C"/>
<circle cx="555.21" cy="877" r="1.75" fill="#E41A1C"/>
<circle cx="561.96" cy="877" r="1.75" fill="#E41A1C"/>
<circle cx="568.72" cy="877" r="1.75" fill="#E41A1C"/>
<circle cx="575.48" cy="877" r="1.75" fill="#E41A1C"/>
<circle cx="582.23" cy="877" r="1.75" fill="#E41A1C"/>
<circle cx="588.99" cy="877" r="1.75" fill="#E41A1C"/>
<circle cx="595.75" cy="877" r="1.75" fill="#E41A1C"/>
<circle cx="602.5" cy="877" r="1.75" fill="#E41A1C"/>
<circle cx="609.26" cy="877" r="1.75" fill="#E41A1C"/>
<circle cx="616.02" cy="877" r="1.75" fill="#377EB8"/>
<circle cx="622.77" cy="877" r="1.75" fill="#377EB8"/>
<circle cx="629.53" cy="877" r="1.75" fill="#377EB8"/>
<circle cx="636.29" cy="877" r="1.75" fill="#377EB8"/>
<circle cx="643.05" cy="877" r="1.75" fill="#377EB8"/>
<circle cx="649.8" cy="877" r="1.75" fill="#377EB8"/>
<text x="560.5" y="974.2" font-size="18.2"><tspan font-style="italic">n</tspan> = 49</text>
<path fill="#FEEA6E" d="M742.4 1134h5.7v16h-5.7z"/>
<path fill="#BCBDDC" d="M742.4 919h5.7v215h-5.7zM749.16 985h5.7v149h-5.7zM755.91 1018h5.7v132h-5.7zM762.67 1101h5.7v33h-5.7zM769.43 1101h5.7v49h-5.7zM776.18 1117h5.7v33h-5.7zM782.94 1101h5.7v49h-5.7zM789.7 1101h5.7v49h-5.7zM796.46 1101h5.7v49h-5.7zM803.21 1117h5.7v33h-5.7zM809.97 1101h5.7v49h-5.7zM816.73 1117h5.7v33h-5.7zM823.48 1117h5.7v33h-5.7zM830.24 1117h5.7v33h-5.7zM837 1134h5.7v16h-5.7zM843.75 1117h5.7v33h-5.7zM850.51 1117h5.7v33h-5.7zM857.27 1134h5.7v16h-5.7zM864.03 1117h5.7v33h-5.7zM870.78 1117h5.7v33h-5.7zM877.54 1117h5.7v33h-5.7zM884.3 1134h5.7v16h-5.7zM891.05 1117h5.7v33h-5.7zM897.81 1117h5.7v33h-5.7zM904.57 1117h5.7v17h-5.7zM911.32 1117h5.7v33h-5.7zM918.08 1134h5.7v16h-5.7zM924.84 1134h5.7v16h-5.7zM931.6 1134h5.7v16h-5.7zM938.35 1134h5.7v16h-5.7z"/>
<path fill="#238B45" d="M742.4 903h5.7v16h-5.7zM762.67 1084h5.7v17h-5.7z"/>
<path fill="#4292C6" d="M749.16 1134h5.7v16h-5.7zM762.67 1134h5.7v16h-5.7zM904.57 1134h5.7v16h-5.7z"/>
<path fill="#807DBA" d="M769.43 1084h5.7v17h-5.7z"/>
<path fill="#CB181D" d="M776.18 1101h5.7v16h-5.7z"/>
<path fill="#C7E9C0" d="M803.21 1101h5.7v16h-5.7z"/>
<path fill="#FDD0A2" d="M837 1117h5.7v17h-5.7zM857.27 1117h5.7v17h-5.7z"/>
<path fill="#BF812D" d="M884.3 1117h5.7v17h-5.7z"/>
<path fill="#7a6a45" d="M742.4 902.65h5.7v0.7h-5.7zM749.16 984.65h5.7v0.7h-5.7zM755.91 1017.65h5.7v0.7h-5.7zM762.67 1083.65h5.7v0.7h-5.7zM769.43 1083.65h5.7v0.7h-5.7zM776.18 1100.65h5.7v0.7h-5.7zM782.94 1100.65h5.7v0.7h-5.7zM789.7 1100.65h5.7v0.7h-5.7zM796.46 1100.65h5.7v0.7h-5.7zM803.21 1100.65h5.7v0.7h-5.7zM809.97 1100.65h5.7v0.7h-5.7zM816.73 1116.65h5.7v0.7h-5.7zM823.48 1116.65h5.7v0.7h-5.7zM830.24 1116.65h5.7v0.7h-5.7zM837 1116.65h5.7v0.7h-5.7zM843.75 1116.65h5.7v0.7h-5.7zM850.51 1116.65h5.7v0.7h-5.7zM857.27 1116.65h5.7v0.7h-5.7zM864.03 1116.65h5.7v0.7h-5.7zM870.78 1116.65h5.7v0.7h-5.7zM877.54 1116.65h5.7v0.7h-5.7zM884.3 1116.65h5.7v0.7h-5.7zM891.05 1116.65h5.7v0.7h-5.7zM897.81 1116.65h5.7v0.7h-5.7zM904.57 1116.65h5.7v0.7h-5.7zM911.32 1116.65h5.7v0.7h-5.7zM918.08 1133.65h5.7v0.7h-5.7zM924.84 1133.65h5.7v0.7h-5.7zM931.6 1133.65h5.7v0.7h-5.7zM938.35 1133.65h5.7v0.7h-5.7z"/>
<line x1="734.6" y1="900.95" x2="734.6" y2="1150.3" stroke="#000" stroke-width="2.1"/>
<line x1="724.4" y1="1149.3" x2="735.6" y2="1149.3" stroke="#000" stroke-width="2.1"/>
<line x1="724.4" y1="1066.85" x2="735.6" y2="1066.85" stroke="#000" stroke-width="2.1"/>
<line x1="724.4" y1="984.4" x2="735.6" y2="984.4" stroke="#000" stroke-width="2.1"/>
<line x1="724.4" y1="901.95" x2="735.6" y2="901.95" stroke="#000" stroke-width="2.1"/>
<text transform="translate(713,1149.3) rotate(-90)" font-size="15.6" text-anchor="middle">0</text>
<text transform="translate(713,1066.85) rotate(-90)" font-size="15.6" text-anchor="middle">5</text>
<text transform="translate(713,984.4) rotate(-90)" font-size="15.6" text-anchor="middle">10</text>
<text transform="translate(713,901.95) rotate(-90)" font-size="15.6" text-anchor="middle">15</text>
<circle cx="745.25" cy="864.6" r="1.75" fill="#000"/>
<circle cx="752.01" cy="864.6" r="1.75" fill="#000"/>
<circle cx="765.52" cy="864.6" r="1.75" fill="#000"/>
<circle cx="779.03" cy="864.6" r="1.75" fill="#000"/>
<circle cx="785.79" cy="864.6" r="1.75" fill="#000"/>
<circle cx="792.55" cy="864.6" r="1.75" fill="#000"/>
<circle cx="812.82" cy="864.6" r="1.75" fill="#000"/>
<circle cx="819.58" cy="864.6" r="1.75" fill="#000"/>
<circle cx="826.33" cy="864.6" r="1.75" fill="#000"/>
<circle cx="833.09" cy="864.6" r="1.75" fill="#000"/>
<circle cx="866.88" cy="864.6" r="1.75" fill="#000"/>
<circle cx="900.66" cy="864.6" r="1.75" fill="#000"/>
<circle cx="907.42" cy="864.6" r="1.75" fill="#000"/>
<circle cx="914.17" cy="864.6" r="1.75" fill="#000"/>
<circle cx="927.69" cy="864.6" r="1.75" fill="#000"/>
<circle cx="745.25" cy="877" r="1.75" fill="#4DAF4A"/>
<circle cx="752.01" cy="877" r="1.75" fill="#4DAF4A"/>
<circle cx="758.76" cy="877" r="1.75" fill="#4DAF4A"/>
<circle cx="765.52" cy="877" r="1.75" fill="#4DAF4A"/>
<circle cx="772.28" cy="877" r="1.75" fill="#FFFF33"/>
<circle cx="779.03" cy="877" r="1.75" fill="#377EB8"/>
<circle cx="785.79" cy="877" r="1.75" fill="#377EB8"/>
<circle cx="792.55" cy="877" r="1.75" fill="#4DAF4A"/>
<circle cx="799.31" cy="877" r="1.75" fill="#4DAF4A"/>
<circle cx="806.06" cy="877" r="1.75" fill="#4DAF4A"/>
<circle cx="812.82" cy="877" r="1.75" fill="#FFFF33"/>
<circle cx="819.58" cy="877" r="1.75" fill="#377EB8"/>
<circle cx="826.33" cy="877" r="1.75" fill="#377EB8"/>
<circle cx="833.09" cy="877" r="1.75" fill="#377EB8"/>
<circle cx="839.85" cy="877" r="1.75" fill="#4DAF4A"/>
<circle cx="846.61" cy="877" r="1.75" fill="#4DAF4A"/>
<circle cx="853.36" cy="877" r="1.75" fill="#4DAF4A"/>
<circle cx="860.12" cy="877" r="1.75" fill="#4DAF4A"/>
<circle cx="866.88" cy="877" r="1.75" fill="#4DAF4A"/>
<circle cx="873.63" cy="877" r="1.75" fill="#4DAF4A"/>
<circle cx="880.39" cy="877" r="1.75" fill="#4DAF4A"/>
<circle cx="887.15" cy="877" r="1.75" fill="#4DAF4A"/>
<circle cx="893.9" cy="877" r="1.75" fill="#4DAF4A"/>
<circle cx="900.66" cy="877" r="1.75" fill="#FF7F00"/>
<circle cx="907.42" cy="877" r="1.75" fill="#FF7F00"/>
<circle cx="914.17" cy="877" r="1.75" fill="#FFFF33"/>
<circle cx="920.93" cy="877" r="1.75" fill="#E41A1C"/>
<circle cx="927.69" cy="877" r="1.75" fill="#E41A1C"/>
<circle cx="934.45" cy="877" r="1.75" fill="#E41A1C"/>
<circle cx="941.2" cy="877" r="1.75" fill="#E41A1C"/>
<text x="863.3" y="974.2" font-size="18.2"><tspan font-style="italic">n</tspan> = 93</text>
<path fill="#4292C6" d="M1034 1146h5.7v4h-5.7zM1040.76 1146h5.7v4h-5.7zM1155.63 1146h5.7v4h-5.7z"/>
<path fill="#BCBDDC" d="M1034 909h5.7v237h-5.7zM1040.76 1037h5.7v109h-5.7zM1047.51 1118h5.7v32h-5.7zM1054.27 1129h5.7v21h-5.7zM1061.03 1143h5.7v7h-5.7zM1067.79 1139h5.7v11h-5.7zM1074.54 1139h5.7v11h-5.7zM1081.3 1143h5.7v7h-5.7zM1088.06 1143h5.7v7h-5.7zM1094.81 1143h5.7v7h-5.7zM1101.57 1143h5.7v7h-5.7zM1108.33 1143h5.7v7h-5.7zM1115.08 1146h5.7v4h-5.7zM1128.6 1143h5.7v7h-5.7zM1135.36 1146h5.7v4h-5.7zM1142.11 1143h5.7v7h-5.7zM1148.87 1146h5.7v4h-5.7zM1155.63 1143h5.7v3h-5.7zM1162.38 1143h5.7v7h-5.7zM1169.14 1143h5.7v7h-5.7zM1175.9 1146h5.7v4h-5.7zM1189.41 1146h5.7v4h-5.7zM1196.17 1146h5.7v4h-5.7zM1209.68 1146h5.7v4h-5.7zM1216.44 1146h5.7v4h-5.7zM1223.2 1146h5.7v4h-5.7zM1229.95 1146h5.7v4h-5.7z"/>
<path fill="#807DBA" d="M1034 906h5.7v3h-5.7zM1182.65 1146h5.7v4h-5.7zM1202.92 1146h5.7v4h-5.7z"/>
<path fill="#FDD0A2" d="M1034 902h5.7v4h-5.7zM1040.76 1030h5.7v7h-5.7zM1054.27 1125h5.7v4h-5.7z"/>
<path fill="#238B45" d="M1047.51 1115h5.7v3h-5.7zM1054.27 1122h5.7v3h-5.7z"/>
<path fill="#FEE6CE" d="M1061.03 1139h5.7v4h-5.7z"/>
<path fill="#C7E9C0" d="M1115.08 1143h5.7v3h-5.7zM1135.36 1143h5.7v3h-5.7z"/>
<path fill="#FEEA6E" d="M1121.84 1143h5.7v7h-5.7z"/>
<path fill="#BF812D" d="M1148.87 1143h5.7v3h-5.7z"/>
<path fill="#7a6a45" d="M1034 901.65h5.7v0.7h-5.7zM1040.76 1029.65h5.7v0.7h-5.7zM1047.51 1114.65h5.7v0.7h-5.7zM1054.27 1121.65h5.7v0.7h-5.7zM1061.03 1138.65h5.7v0.7h-5.7zM1067.79 1138.65h5.7v0.7h-5.7zM1074.54 1138.65h5.7v0.7h-5.7zM1081.3 1142.65h5.7v0.7h-5.7zM1088.06 1142.65h5.7v0.7h-5.7zM1094.81 1142.65h5.7v0.7h-5.7zM1101.57 1142.65h5.7v0.7h-5.7zM1108.33 1142.65h5.7v0.7h-5.7zM1115.08 1142.65h5.7v0.7h-5.7zM1121.84 1142.65h5.7v0.7h-5.7zM1128.6 1142.65h5.7v0.7h-5.7zM1135.36 1142.65h5.7v0.7h-5.7zM1142.11 1142.65h5.7v0.7h-5.7zM1148.87 1142.65h5.7v0.7h-5.7zM1155.63 1142.65h5.7v0.7h-5.7zM1162.38 1142.65h5.7v0.7h-5.7zM1169.14 1142.65h5.7v0.7h-5.7zM1175.9 1145.65h5.7v0.7h-5.7zM1182.65 1145.65h5.7v0.7h-5.7zM1189.41 1145.65h5.7v0.7h-5.7zM1196.17 1145.65h5.7v0.7h-5.7zM1202.92 1145.65h5.7v0.7h-5.7zM1209.68 1145.65h5.7v0.7h-5.7zM1216.44 1145.65h5.7v0.7h-5.7zM1223.2 1145.65h5.7v0.7h-5.7zM1229.95 1145.65h5.7v0.7h-5.7z"/>
<line x1="1026.2" y1="865.02" x2="1026.2" y2="1150.3" stroke="#000" stroke-width="2.1"/>
<line x1="1016" y1="1149.3" x2="1027.2" y2="1149.3" stroke="#000" stroke-width="2.1"/>
<line x1="1016" y1="1078.48" x2="1027.2" y2="1078.48" stroke="#000" stroke-width="2.1"/>
<line x1="1016" y1="1007.66" x2="1027.2" y2="1007.66" stroke="#000" stroke-width="2.1"/>
<line x1="1016" y1="936.84" x2="1027.2" y2="936.84" stroke="#000" stroke-width="2.1"/>
<line x1="1016" y1="866.02" x2="1027.2" y2="866.02" stroke="#000" stroke-width="2.1"/>
<text transform="translate(1004.6,1149.3) rotate(-90)" font-size="15.6" text-anchor="middle">0</text>
<text transform="translate(1004.6,1078.48) rotate(-90)" font-size="15.6" text-anchor="middle">20</text>
<text transform="translate(1004.6,1007.66) rotate(-90)" font-size="15.6" text-anchor="middle">40</text>
<text transform="translate(1004.6,936.84) rotate(-90)" font-size="15.6" text-anchor="middle">60</text>
<text transform="translate(1004.6,866.02) rotate(-90)" font-size="15.6" text-anchor="middle">80</text>
<circle cx="1036.85" cy="864.6" r="1.75" fill="#000"/>
<circle cx="1043.61" cy="864.6" r="1.75" fill="#000"/>
<circle cx="1050.36" cy="864.6" r="1.75" fill="#000"/>
<circle cx="1057.12" cy="864.6" r="1.75" fill="#000"/>
<circle cx="1063.88" cy="864.6" r="1.75" fill="#000"/>
<circle cx="1070.63" cy="864.6" r="1.75" fill="#000"/>
<circle cx="1077.39" cy="864.6" r="1.75" fill="#000"/>
<circle cx="1084.15" cy="864.6" r="1.75" fill="#000"/>
<circle cx="1090.91" cy="864.6" r="1.75" fill="#000"/>
<circle cx="1097.66" cy="864.6" r="1.75" fill="#000"/>
<circle cx="1104.42" cy="864.6" r="1.75" fill="#000"/>
<circle cx="1138.2" cy="864.6" r="1.75" fill="#000"/>
<circle cx="1151.72" cy="864.6" r="1.75" fill="#000"/>
<circle cx="1158.48" cy="864.6" r="1.75" fill="#000"/>
<circle cx="1165.23" cy="864.6" r="1.75" fill="#000"/>
<circle cx="1171.99" cy="864.6" r="1.75" fill="#000"/>
<circle cx="1178.75" cy="864.6" r="1.75" fill="#000"/>
<circle cx="1185.5" cy="864.6" r="1.75" fill="#000"/>
<circle cx="1192.26" cy="864.6" r="1.75" fill="#000"/>
<circle cx="1205.77" cy="864.6" r="1.75" fill="#000"/>
<circle cx="1036.85" cy="877" r="1.75" fill="#377EB8"/>
<circle cx="1043.61" cy="877" r="1.75" fill="#377EB8"/>
<circle cx="1050.36" cy="877" r="1.75" fill="#377EB8"/>
<circle cx="1057.12" cy="877" r="1.75" fill="#377EB8"/>
<circle cx="1063.88" cy="877" r="1.75" fill="#E41A1C"/>
<circle cx="1070.63" cy="877" r="1.75" fill="#4DAF4A"/>
<circle cx="1077.39" cy="877" r="1.75" fill="#4DAF4A"/>
<circle cx="1084.15" cy="877" r="1.75" fill="#377EB8"/>
<circle cx="1090.91" cy="877" r="1.75" fill="#377EB8"/>
<circle cx="1097.66" cy="877" r="1.75" fill="#377EB8"/>
<circle cx="1104.42" cy="877" r="1.75" fill="#377EB8"/>
<circle cx="1111.18" cy="877" r="1.75" fill="#377EB8"/>
<circle cx="1117.93" cy="877" r="1.75" fill="#377EB8"/>
<circle cx="1124.69" cy="877" r="1.75" fill="#377EB8"/>
<circle cx="1131.45" cy="877" r="1.75" fill="#377EB8"/>
<circle cx="1138.2" cy="877" r="1.75" fill="#4DAF4A"/>
<circle cx="1144.96" cy="877" r="1.75" fill="#4DAF4A"/>
<circle cx="1151.72" cy="877" r="1.75" fill="#4DAF4A"/>
<circle cx="1158.48" cy="877" r="1.75" fill="#4DAF4A"/>
<circle cx="1165.23" cy="877" r="1.75" fill="#4DAF4A"/>
<circle cx="1171.99" cy="877" r="1.75" fill="#4DAF4A"/>
<circle cx="1178.75" cy="877" r="1.75" fill="#E41A1C"/>
<circle cx="1185.5" cy="877" r="1.75" fill="#E41A1C"/>
<circle cx="1192.26" cy="877" r="1.75" fill="#E41A1C"/>
<circle cx="1199.02" cy="877" r="1.75" fill="#E41A1C"/>
<circle cx="1205.77" cy="877" r="1.75" fill="#E41A1C"/>
<circle cx="1212.53" cy="877" r="1.75" fill="#E41A1C"/>
<circle cx="1219.29" cy="877" r="1.75" fill="#E41A1C"/>
<circle cx="1226.05" cy="877" r="1.75" fill="#E41A1C"/>
<circle cx="1232.8" cy="877" r="1.75" fill="#E41A1C"/>
<text x="1158.4" y="974.2" font-size="18.2"><tspan font-style="italic">n</tspan> = 168</text>
<path fill="#BDBDBD" d="M1325.8 1134h5.7v16h-5.7z"/>
<path fill="#BCBDDC" d="M1325.8 918h5.7v216h-5.7zM1332.56 1088h5.7v62h-5.7zM1339.31 1072h5.7v78h-5.7zM1346.07 1088h5.7v62h-5.7zM1352.83 1088h5.7v62h-5.7zM1359.59 1104h5.7v30h-5.7zM1366.34 1119h5.7v31h-5.7zM1373.1 1119h5.7v31h-5.7zM1379.86 1119h5.7v31h-5.7zM1386.61 1119h5.7v31h-5.7zM1393.37 1119h5.7v31h-5.7zM1400.13 1134h5.7v16h-5.7zM1406.88 1134h5.7v16h-5.7zM1413.64 1119h5.7v31h-5.7zM1420.4 1119h5.7v31h-5.7zM1427.15 1134h5.7v16h-5.7zM1433.91 1134h5.7v16h-5.7zM1440.67 1134h5.7v16h-5.7zM1447.43 1134h5.7v16h-5.7zM1454.18 1134h5.7v16h-5.7zM1460.94 1134h5.7v16h-5.7zM1467.7 1134h5.7v16h-5.7zM1474.45 1134h5.7v16h-5.7zM1481.21 1134h5.7v16h-5.7zM1487.97 1134h5.7v16h-5.7zM1494.72 1134h5.7v16h-5.7zM1501.48 1134h5.7v16h-5.7zM1508.24 1134h5.7v16h-5.7zM1515 1134h5.7v16h-5.7z"/>
<path fill="#C7E9C0" d="M1325.8 902h5.7v16h-5.7z"/>
<path fill="#807DBA" d="M1332.56 1072h5.7v16h-5.7zM1400.13 1119h5.7v15h-5.7z"/>
<path fill="#FEEA6E" d="M1359.59 1134h5.7v16h-5.7z"/>
<path fill="#238B45" d="M1406.88 1119h5.7v15h-5.7z"/>
<path fill="#FDAE6B" d="M1521.75 1134h5.7v16h-5.7z"/>
<path fill="#7a6a45" d="M1325.8 901.65h5.7v0.7h-5.7zM1332.56 1071.65h5.7v0.7h-5.7zM1339.31 1071.65h5.7v0.7h-5.7zM1346.07 1087.65h5.7v0.7h-5.7zM1352.83 1087.65h5.7v0.7h-5.7zM1359.59 1103.65h5.7v0.7h-5.7zM1366.34 1118.65h5.7v0.7h-5.7zM1373.1 1118.65h5.7v0.7h-5.7zM1379.86 1118.65h5.7v0.7h-5.7zM1386.61 1118.65h5.7v0.7h-5.7zM1393.37 1118.65h5.7v0.7h-5.7zM1400.13 1118.65h5.7v0.7h-5.7zM1406.88 1118.65h5.7v0.7h-5.7zM1413.64 1118.65h5.7v0.7h-5.7zM1420.4 1118.65h5.7v0.7h-5.7zM1427.15 1133.65h5.7v0.7h-5.7zM1433.91 1133.65h5.7v0.7h-5.7zM1440.67 1133.65h5.7v0.7h-5.7zM1447.43 1133.65h5.7v0.7h-5.7zM1454.18 1133.65h5.7v0.7h-5.7zM1460.94 1133.65h5.7v0.7h-5.7zM1467.7 1133.65h5.7v0.7h-5.7zM1474.45 1133.65h5.7v0.7h-5.7zM1481.21 1133.65h5.7v0.7h-5.7zM1487.97 1133.65h5.7v0.7h-5.7zM1494.72 1133.65h5.7v0.7h-5.7zM1501.48 1133.65h5.7v0.7h-5.7zM1508.24 1133.65h5.7v0.7h-5.7zM1515 1133.65h5.7v0.7h-5.7zM1521.75 1133.65h5.7v0.7h-5.7z"/>
<line x1="1318" y1="915.8" x2="1318" y2="1150.3" stroke="#000" stroke-width="2.1"/>
<line x1="1307.8" y1="1149.3" x2="1319" y2="1149.3" stroke="#000" stroke-width="2.1"/>
<line x1="1307.8" y1="1071.8" x2="1319" y2="1071.8" stroke="#000" stroke-width="2.1"/>
<line x1="1307.8" y1="994.3" x2="1319" y2="994.3" stroke="#000" stroke-width="2.1"/>
<line x1="1307.8" y1="916.8" x2="1319" y2="916.8" stroke="#000" stroke-width="2.1"/>
<text transform="translate(1296.4,1149.3) rotate(-90)" font-size="15.6" text-anchor="middle">0</text>
<text transform="translate(1296.4,1071.8) rotate(-90)" font-size="15.6" text-anchor="middle">5</text>
<text transform="translate(1296.4,994.3) rotate(-90)" font-size="15.6" text-anchor="middle">10</text>
<text transform="translate(1296.4,916.8) rotate(-90)" font-size="15.6" text-anchor="middle">15</text>
<circle cx="1335.41" cy="864.6" r="1.75" fill="#000"/>
<circle cx="1342.16" cy="864.6" r="1.75" fill="#000"/>
<circle cx="1369.19" cy="864.6" r="1.75" fill="#000"/>
<circle cx="1375.95" cy="864.6" r="1.75" fill="#000"/>
<circle cx="1409.73" cy="864.6" r="1.75" fill="#000"/>
<circle cx="1423.25" cy="864.6" r="1.75" fill="#000"/>
<circle cx="1430" cy="864.6" r="1.75" fill="#000"/>
<circle cx="1436.76" cy="864.6" r="1.75" fill="#000"/>
<circle cx="1511.09" cy="864.6" r="1.75" fill="#000"/>
<circle cx="1524.6" cy="864.6" r="1.75" fill="#000"/>
<circle cx="1328.65" cy="877" r="1.75" fill="#E41A1C"/>
<circle cx="1335.41" cy="877" r="1.75" fill="#E41A1C"/>
<circle cx="1342.16" cy="877" r="1.75" fill="#E41A1C"/>
<circle cx="1348.92" cy="877" r="1.75" fill="#E41A1C"/>
<circle cx="1355.68" cy="877" r="1.75" fill="#377EB8"/>
<circle cx="1362.43" cy="877" r="1.75" fill="#377EB8"/>
<circle cx="1369.19" cy="877" r="1.75" fill="#E41A1C"/>
<circle cx="1375.95" cy="877" r="1.75" fill="#E41A1C"/>
<circle cx="1382.71" cy="877" r="1.75" fill="#E41A1C"/>
<circle cx="1389.46" cy="877" r="1.75" fill="#E41A1C"/>
<circle cx="1396.22" cy="877" r="1.75" fill="#E41A1C"/>
<circle cx="1402.98" cy="877" r="1.75" fill="#E41A1C"/>
<circle cx="1409.73" cy="877" r="1.75" fill="#377EB8"/>
<circle cx="1416.49" cy="877" r="1.75" fill="#377EB8"/>
<circle cx="1423.25" cy="877" r="1.75" fill="#984EA3"/>
<circle cx="1430" cy="877" r="1.75" fill="#E41A1C"/>
<circle cx="1436.76" cy="877" r="1.75" fill="#E41A1C"/>
<circle cx="1443.52" cy="877" r="1.75" fill="#E41A1C"/>
<circle cx="1450.28" cy="877" r="1.75" fill="#E41A1C"/>
<circle cx="1457.03" cy="877" r="1.75" fill="#E41A1C"/>
<circle cx="1463.79" cy="877" r="1.75" fill="#E41A1C"/>
<circle cx="1470.55" cy="877" r="1.75" fill="#E41A1C"/>
<circle cx="1477.3" cy="877" r="1.75" fill="#E41A1C"/>
<circle cx="1484.06" cy="877" r="1.75" fill="#E41A1C"/>
<circle cx="1490.82" cy="877" r="1.75" fill="#E41A1C"/>
<circle cx="1497.57" cy="877" r="1.75" fill="#E41A1C"/>
<circle cx="1504.33" cy="877" r="1.75" fill="#377EB8"/>
<circle cx="1511.09" cy="877" r="1.75" fill="#377EB8"/>
<circle cx="1517.85" cy="877" r="1.75" fill="#377EB8"/>
<circle cx="1524.6" cy="877" r="1.75" fill="#4DAF4A"/>
<text x="1446.6" y="974.2" font-size="18.2"><tspan font-style="italic">n</tspan> = 70</text>
<text x="1542" y="862.9" font-size="20.2" text-anchor="start">gp70</text>
<text x="1542" y="887.6" font-size="20.2" text-anchor="start">Mouse ID</text>
<path fill="#FEEA6E" d="M159 1417h5.7v103h-5.7zM165.76 1472h5.7v48h-5.7zM172.51 1410h5.7v110h-5.7zM179.27 1445h5.7v75h-5.7zM186.03 1486h5.7v34h-5.7zM192.78 1472h5.7v48h-5.7zM199.54 1479h5.7v41h-5.7zM206.3 1486h5.7v34h-5.7zM213.06 1459h5.7v55h-5.7zM219.81 1472h5.7v48h-5.7zM226.57 1479h5.7v35h-5.7zM233.33 1486h5.7v21h-5.7zM240.08 1500h5.7v14h-5.7zM246.84 1479h5.7v41h-5.7zM253.6 1472h5.7v42h-5.7zM260.36 1507h5.7v13h-5.7zM267.11 1479h5.7v41h-5.7zM273.87 1493h5.7v27h-5.7zM280.63 1514h5.7v6h-5.7zM287.38 1472h5.7v48h-5.7zM294.14 1493h5.7v27h-5.7zM300.9 1479h5.7v41h-5.7zM314.41 1507h5.7v13h-5.7zM327.92 1486h5.7v34h-5.7zM334.68 1493h5.7v27h-5.7zM341.44 1493h5.7v27h-5.7zM348.2 1493h5.7v21h-5.7zM354.95 1500h5.7v20h-5.7z"/>
<path fill="#BCBDDC" d="M159 1404h5.7v13h-5.7zM165.76 1445h5.7v20h-5.7zM179.27 1417h5.7v28h-5.7zM186.03 1452h5.7v27h-5.7zM206.3 1479h5.7v7h-5.7zM213.06 1452h5.7v7h-5.7zM233.33 1479h5.7v7h-5.7zM240.08 1493h5.7v7h-5.7zM267.11 1472h5.7v7h-5.7zM273.87 1486h5.7v7h-5.7zM294.14 1486h5.7v7h-5.7zM307.65 1507h5.7v7h-5.7zM314.41 1500h5.7v7h-5.7zM341.44 1486h5.7v7h-5.7z"/>
<path fill="#CB181D" d="M159 1321h5.7v83h-5.7zM165.76 1355h5.7v90h-5.7zM186.03 1424h5.7v28h-5.7zM192.78 1438h5.7v34h-5.7zM199.54 1445h5.7v27h-5.7zM206.3 1465h5.7v14h-5.7zM219.81 1452h5.7v20h-5.7zM226.57 1465h5.7v14h-5.7zM233.33 1459h5.7v20h-5.7zM240.08 1472h5.7v21h-5.7zM253.6 1465h5.7v7h-5.7zM260.36 1479h5.7v28h-5.7zM273.87 1472h5.7v14h-5.7zM280.63 1500h5.7v14h-5.7zM294.14 1479h5.7v7h-5.7zM307.65 1479h5.7v28h-5.7zM354.95 1493h5.7v7h-5.7z"/>
<path fill="#FB6A4A" d="M159 1314h5.7v7h-5.7zM192.78 1431h5.7v7h-5.7zM206.3 1459h5.7v6h-5.7z"/>
<path fill="#FDAE6B" d="M159 1307h5.7v7h-5.7z"/>
<path fill="#C7E9C0" d="M159 1300h5.7v7h-5.7zM206.3 1452h5.7v7h-5.7zM246.84 1472h5.7v7h-5.7zM314.41 1493h5.7v7h-5.7zM321.17 1507h5.7v7h-5.7zM334.68 1486h5.7v7h-5.7z"/>
<path fill="#8C510A" d="M159 1287h5.7v13h-5.7zM206.3 1445h5.7v7h-5.7zM260.36 1472h5.7v7h-5.7zM280.63 1493h5.7v7h-5.7zM354.95 1486h5.7v7h-5.7z"/>
<path fill="#BF812D" d="M159 1273h5.7v14h-5.7zM226.57 1459h5.7v6h-5.7zM246.84 1465h5.7v7h-5.7zM280.63 1472h5.7v21h-5.7zM294.14 1472h5.7v7h-5.7zM314.41 1479h5.7v7h-5.7zM321.17 1479h5.7v21h-5.7zM327.92 1479h5.7v7h-5.7zM334.68 1479h5.7v7h-5.7z"/>
<path fill="#4292C6" d="M165.76 1465h5.7v7h-5.7zM199.54 1472h5.7v7h-5.7z"/>
<path fill="#FDD0A2" d="M165.76 1348h5.7v7h-5.7zM321.17 1514h5.7v6h-5.7z"/>
<path fill="#238B45" d="M165.76 1342h5.7v6h-5.7zM179.27 1410h5.7v7h-5.7zM240.08 1465h5.7v7h-5.7zM314.41 1486h5.7v7h-5.7zM321.17 1500h5.7v7h-5.7zM348.2 1486h5.7v7h-5.7z"/>
<path fill="#DEEBF7" d="M186.03 1479h5.7v7h-5.7z"/>
<path fill="#969696" d="M213.06 1514h5.7v6h-5.7zM233.33 1507h5.7v13h-5.7zM253.6 1514h5.7v6h-5.7zM307.65 1514h5.7v6h-5.7z"/>
<path fill="#FBC4DC" d="M226.57 1514h5.7v6h-5.7zM240.08 1514h5.7v6h-5.7zM348.2 1514h5.7v6h-5.7z"/>
<path fill="#7a6a45" d="M159 1272.65h5.7v0.7h-5.7zM165.76 1341.65h5.7v0.7h-5.7zM172.51 1409.65h5.7v0.7h-5.7zM179.27 1409.65h5.7v0.7h-5.7zM186.03 1423.65h5.7v0.7h-5.7zM192.78 1430.65h5.7v0.7h-5.7zM199.54 1444.65h5.7v0.7h-5.7zM206.3 1444.65h5.7v0.7h-5.7zM213.06 1451.65h5.7v0.7h-5.7zM219.81 1451.65h5.7v0.7h-5.7zM226.57 1458.65h5.7v0.7h-5.7zM233.33 1458.65h5.7v0.7h-5.7zM240.08 1464.65h5.7v0.7h-5.7zM246.84 1464.65h5.7v0.7h-5.7zM253.6 1464.65h5.7v0.7h-5.7zM260.36 1471.65h5.7v0.7h-5.7zM267.11 1471.65h5.7v0.7h-5.7zM273.87 1471.65h5.7v0.7h-5.7zM280.63 1471.65h5.7v0.7h-5.7zM287.38 1471.65h5.7v0.7h-5.7zM294.14 1471.65h5.7v0.7h-5.7zM300.9 1478.65h5.7v0.7h-5.7zM307.65 1478.65h5.7v0.7h-5.7zM314.41 1478.65h5.7v0.7h-5.7zM321.17 1478.65h5.7v0.7h-5.7zM327.92 1478.65h5.7v0.7h-5.7zM334.68 1478.65h5.7v0.7h-5.7zM341.44 1485.65h5.7v0.7h-5.7zM348.2 1485.65h5.7v0.7h-5.7zM354.95 1485.65h5.7v0.7h-5.7z"/>
<line x1="151.2" y1="1243.6" x2="151.2" y2="1520.8" stroke="#000" stroke-width="2.1"/>
<line x1="141" y1="1519.8" x2="152.2" y2="1519.8" stroke="#000" stroke-width="2.1"/>
<line x1="141" y1="1451" x2="152.2" y2="1451" stroke="#000" stroke-width="2.1"/>
<line x1="141" y1="1382.2" x2="152.2" y2="1382.2" stroke="#000" stroke-width="2.1"/>
<line x1="141" y1="1313.4" x2="152.2" y2="1313.4" stroke="#000" stroke-width="2.1"/>
<line x1="141" y1="1244.6" x2="152.2" y2="1244.6" stroke="#000" stroke-width="2.1"/>
<text transform="translate(129.6,1519.8) rotate(-90)" font-size="15.6" text-anchor="middle">0</text>
<text transform="translate(129.6,1451) rotate(-90)" font-size="15.6" text-anchor="middle">10</text>
<text transform="translate(129.6,1382.2) rotate(-90)" font-size="15.6" text-anchor="middle">20</text>
<text transform="translate(129.6,1313.4) rotate(-90)" font-size="15.6" text-anchor="middle">30</text>
<text transform="translate(129.6,1244.6) rotate(-90)" font-size="15.6" text-anchor="middle">40</text>
<circle cx="161.85" cy="1235.3" r="1.75" fill="#000"/>
<circle cx="168.61" cy="1235.3" r="1.75" fill="#000"/>
<circle cx="188.88" cy="1235.3" r="1.75" fill="#000"/>
<circle cx="195.63" cy="1235.3" r="1.75" fill="#000"/>
<circle cx="222.66" cy="1235.3" r="1.75" fill="#000"/>
<circle cx="229.42" cy="1235.3" r="1.75" fill="#000"/>
<circle cx="236.18" cy="1235.3" r="1.75" fill="#000"/>
<circle cx="242.93" cy="1235.3" r="1.75" fill="#000"/>
<circle cx="263.21" cy="1235.3" r="1.75" fill="#000"/>
<circle cx="269.96" cy="1235.3" r="1.75" fill="#000"/>
<circle cx="283.48" cy="1235.3" r="1.75" fill="#000"/>
<circle cx="290.23" cy="1235.3" r="1.75" fill="#000"/>
<circle cx="310.5" cy="1235.3" r="1.75" fill="#000"/>
<circle cx="317.26" cy="1235.3" r="1.75" fill="#000"/>
<circle cx="330.77" cy="1235.3" r="1.75" fill="#000"/>
<circle cx="337.53" cy="1235.3" r="1.75" fill="#000"/>
<circle cx="161.85" cy="1247.6" r="1.75" fill="#984EA3"/>
<circle cx="168.61" cy="1247.6" r="1.75" fill="#FF7F00"/>
<circle cx="175.36" cy="1247.6" r="1.75" fill="#984EA3"/>
<circle cx="182.12" cy="1247.6" r="1.75" fill="#FF7F00"/>
<circle cx="188.88" cy="1247.6" r="1.75" fill="#FF7F00"/>
<circle cx="195.63" cy="1247.6" r="1.75" fill="#4DAF4A"/>
<circle cx="202.39" cy="1247.6" r="1.75" fill="#984EA3"/>
<circle cx="209.15" cy="1247.6" r="1.75" fill="#4DAF4A"/>
<circle cx="215.91" cy="1247.6" r="1.75" fill="#984EA3"/>
<circle cx="222.66" cy="1247.6" r="1.75" fill="#984EA3"/>
<circle cx="229.42" cy="1247.6" r="1.75" fill="#E41A1C"/>
<circle cx="236.18" cy="1247.6" r="1.75" fill="#FF7F00"/>
<circle cx="242.93" cy="1247.6" r="1.75" fill="#E41A1C"/>
<circle cx="249.69" cy="1247.6" r="1.75" fill="#984EA3"/>
<circle cx="256.45" cy="1247.6" r="1.75" fill="#984EA3"/>
<circle cx="263.21" cy="1247.6" r="1.75" fill="#E41A1C"/>
<circle cx="269.96" cy="1247.6" r="1.75" fill="#377EB8"/>
<circle cx="276.72" cy="1247.6" r="1.75" fill="#4DAF4A"/>
<circle cx="283.48" cy="1247.6" r="1.75" fill="#984EA3"/>
<circle cx="290.23" cy="1247.6" r="1.75" fill="#984EA3"/>
<circle cx="296.99" cy="1247.6" r="1.75" fill="#984EA3"/>
<circle cx="303.75" cy="1247.6" r="1.75" fill="#E41A1C"/>
<circle cx="310.5" cy="1247.6" r="1.75" fill="#4DAF4A"/>
<circle cx="317.26" cy="1247.6" r="1.75" fill="#4DAF4A"/>
<circle cx="324.02" cy="1247.6" r="1.75" fill="#4DAF4A"/>
<circle cx="330.77" cy="1247.6" r="1.75" fill="#984EA3"/>
<circle cx="337.53" cy="1247.6" r="1.75" fill="#FF7F00"/>
<circle cx="344.29" cy="1247.6" r="1.75" fill="#E41A1C"/>
<circle cx="351.05" cy="1247.6" r="1.75" fill="#4DAF4A"/>
<circle cx="357.8" cy="1247.6" r="1.75" fill="#984EA3"/>
<text x="275.6" y="1345" font-size="18.2"><tspan font-style="italic">n</tspan> = 298</text>
<path fill="#FEEA6E" d="M451 1454h5.7v66h-5.7zM457.76 1438h5.7v82h-5.7zM464.51 1454h5.7v66h-5.7zM471.27 1438h5.7v66h-5.7zM484.78 1413h5.7v74h-5.7zM491.54 1479h5.7v41h-5.7zM498.3 1454h5.7v66h-5.7zM505.06 1479h5.7v41h-5.7zM511.81 1454h5.7v58h-5.7zM518.57 1496h5.7v24h-5.7zM525.33 1471h5.7v33h-5.7zM532.08 1479h5.7v41h-5.7zM538.84 1487h5.7v33h-5.7zM545.6 1504h5.7v8h-5.7zM552.36 1512h5.7v8h-5.7zM559.11 1504h5.7v16h-5.7zM565.87 1471h5.7v49h-5.7zM572.63 1496h5.7v24h-5.7zM579.38 1496h5.7v16h-5.7zM586.14 1496h5.7v24h-5.7zM592.9 1496h5.7v24h-5.7zM599.65 1512h5.7v8h-5.7zM606.41 1496h5.7v16h-5.7zM613.17 1512h5.7v8h-5.7zM619.92 1504h5.7v8h-5.7zM626.68 1479h5.7v41h-5.7zM633.44 1512h5.7v8h-5.7zM640.2 1504h5.7v16h-5.7zM646.95 1512h5.7v8h-5.7z"/>
<path fill="#BCBDDC" d="M451 1421h5.7v33h-5.7zM457.76 1339h5.7v82h-5.7zM464.51 1396h5.7v50h-5.7zM471.27 1388h5.7v50h-5.7zM478.03 1487h5.7v25h-5.7zM498.3 1421h5.7v17h-5.7zM505.06 1454h5.7v17h-5.7zM518.57 1471h5.7v25h-5.7zM538.84 1463h5.7v24h-5.7zM545.6 1471h5.7v33h-5.7zM552.36 1487h5.7v25h-5.7zM559.11 1496h5.7v8h-5.7zM572.63 1487h5.7v9h-5.7zM579.38 1487h5.7v9h-5.7zM586.14 1487h5.7v9h-5.7zM592.9 1479h5.7v17h-5.7zM599.65 1487h5.7v25h-5.7zM606.41 1479h5.7v17h-5.7zM613.17 1479h5.7v33h-5.7zM619.92 1487h5.7v17h-5.7zM633.44 1504h5.7v8h-5.7zM640.2 1496h5.7v8h-5.7zM646.95 1487h5.7v25h-5.7z"/>
<path fill="#807DBA" d="M451 1413h5.7v8h-5.7zM579.38 1479h5.7v8h-5.7z"/>
<path fill="#CB181D" d="M451 1322h5.7v91h-5.7zM457.76 1322h5.7v17h-5.7zM464.51 1363h5.7v33h-5.7zM471.27 1380h5.7v8h-5.7zM491.54 1438h5.7v41h-5.7zM532.08 1463h5.7v16h-5.7zM559.11 1479h5.7v17h-5.7zM579.38 1471h5.7v8h-5.7zM592.9 1471h5.7v8h-5.7zM599.65 1471h5.7v16h-5.7zM606.41 1471h5.7v8h-5.7zM613.17 1471h5.7v8h-5.7zM633.44 1479h5.7v25h-5.7zM640.2 1479h5.7v17h-5.7zM646.95 1479h5.7v8h-5.7z"/>
<path fill="#FB6A4A" d="M451 1305h5.7v17h-5.7zM457.76 1314h5.7v8h-5.7zM491.54 1430h5.7v8h-5.7zM498.3 1413h5.7v8h-5.7z"/>
<path fill="#FDD0A2" d="M451 1289h5.7v16h-5.7zM478.03 1446h5.7v41h-5.7zM518.57 1463h5.7v8h-5.7zM545.6 1463h5.7v8h-5.7zM552.36 1471h5.7v16h-5.7zM619.92 1479h5.7v8h-5.7z"/>
<path fill="#BF812D" d="M451 1272h5.7v17h-5.7zM464.51 1339h5.7v8h-5.7zM491.54 1413h5.7v17h-5.7zM511.81 1446h5.7v8h-5.7zM525.33 1463h5.7v8h-5.7zM572.63 1471h5.7v8h-5.7zM586.14 1471h5.7v8h-5.7z"/>
<path fill="#4292C6" d="M457.76 1421h5.7v17h-5.7zM464.51 1446h5.7v8h-5.7zM478.03 1512h5.7v8h-5.7zM498.3 1438h5.7v16h-5.7z"/>
<path fill="#C7E9C0" d="M464.51 1355h5.7v8h-5.7zM471.27 1372h5.7v8h-5.7zM478.03 1413h5.7v33h-5.7zM505.06 1446h5.7v8h-5.7zM559.11 1471h5.7v8h-5.7zM586.14 1479h5.7v8h-5.7z"/>
<path fill="#238B45" d="M464.51 1347h5.7v8h-5.7zM478.03 1405h5.7v8h-5.7zM518.57 1446h5.7v17h-5.7zM572.63 1479h5.7v8h-5.7z"/>
<path fill="#BDBDBD" d="M471.27 1504h5.7v16h-5.7zM545.6 1512h5.7v8h-5.7z"/>
<path fill="#969696" d="M484.78 1487h5.7v33h-5.7zM511.81 1512h5.7v8h-5.7zM525.33 1504h5.7v8h-5.7zM579.38 1512h5.7v8h-5.7zM606.41 1512h5.7v8h-5.7z"/>
<path fill="#9ECAE1" d="M505.06 1471h5.7v8h-5.7z"/>
<path fill="#FBC4DC" d="M525.33 1512h5.7v8h-5.7zM619.92 1512h5.7v8h-5.7z"/>
<path fill="#7a6a45" d="M451 1271.65h5.7v0.7h-5.7zM457.76 1313.65h5.7v0.7h-5.7zM464.51 1338.65h5.7v0.7h-5.7zM471.27 1371.65h5.7v0.7h-5.7zM478.03 1404.65h5.7v0.7h-5.7zM484.78 1412.65h5.7v0.7h-5.7zM491.54 1412.65h5.7v0.7h-5.7zM498.3 1412.65h5.7v0.7h-5.7zM505.06 1445.65h5.7v0.7h-5.7zM511.81 1445.65h5.7v0.7h-5.7zM518.57 1445.65h5.7v0.7h-5.7zM525.33 1462.65h5.7v0.7h-5.7zM532.08 1462.65h5.7v0.7h-5.7zM538.84 1462.65h5.7v0.7h-5.7zM545.6 1462.65h5.7v0.7h-5.7zM552.36 1470.65h5.7v0.7h-5.7zM559.11 1470.65h5.7v0.7h-5.7zM565.87 1470.65h5.7v0.7h-5.7zM572.63 1470.65h5.7v0.7h-5.7zM579.38 1470.65h5.7v0.7h-5.7zM586.14 1470.65h5.7v0.7h-5.7zM592.9 1470.65h5.7v0.7h-5.7zM599.65 1470.65h5.7v0.7h-5.7zM606.41 1470.65h5.7v0.7h-5.7zM613.17 1470.65h5.7v0.7h-5.7zM619.92 1478.65h5.7v0.7h-5.7zM626.68 1478.65h5.7v0.7h-5.7zM633.44 1478.65h5.7v0.7h-5.7zM640.2 1478.65h5.7v0.7h-5.7zM646.95 1478.65h5.7v0.7h-5.7z"/>
<line x1="443.2" y1="1229.35" x2="443.2" y2="1520.8" stroke="#000" stroke-width="2.1"/>
<line x1="433" y1="1519.8" x2="444.2" y2="1519.8" stroke="#000" stroke-width="2.1"/>
<line x1="433" y1="1478.45" x2="444.2" y2="1478.45" stroke="#000" stroke-width="2.1"/>
<line x1="433" y1="1437.1" x2="444.2" y2="1437.1" stroke="#000" stroke-width="2.1"/>
<line x1="433" y1="1395.75" x2="444.2" y2="1395.75" stroke="#000" stroke-width="2.1"/>
<line x1="433" y1="1354.4" x2="444.2" y2="1354.4" stroke="#000" stroke-width="2.1"/>
<line x1="433" y1="1313.05" x2="444.2" y2="1313.05" stroke="#000" stroke-width="2.1"/>
<line x1="433" y1="1271.7" x2="444.2" y2="1271.7" stroke="#000" stroke-width="2.1"/>
<line x1="433" y1="1230.35" x2="444.2" y2="1230.35" stroke="#000" stroke-width="2.1"/>
<text transform="translate(421.6,1519.8) rotate(-90)" font-size="15.6" text-anchor="middle">0</text>
<text transform="translate(421.6,1478.45) rotate(-90)" font-size="15.6" text-anchor="middle">5</text>
<text transform="translate(421.6,1437.1) rotate(-90)" font-size="15.6" text-anchor="middle">10</text>
<text transform="translate(421.6,1395.75) rotate(-90)" font-size="15.6" text-anchor="middle">15</text>
<text transform="translate(421.6,1354.4) rotate(-90)" font-size="15.6" text-anchor="middle">20</text>
<text transform="translate(421.6,1313.05) rotate(-90)" font-size="15.6" text-anchor="middle">25</text>
<text transform="translate(421.6,1271.7) rotate(-90)" font-size="15.6" text-anchor="middle">30</text>
<text transform="translate(421.6,1230.35) rotate(-90)" font-size="15.6" text-anchor="middle">35</text>
<circle cx="453.85" cy="1235.3" r="1.75" fill="#000"/>
<circle cx="467.36" cy="1235.3" r="1.75" fill="#000"/>
<circle cx="474.12" cy="1235.3" r="1.75" fill="#000"/>
<circle cx="480.88" cy="1235.3" r="1.75" fill="#000"/>
<circle cx="494.39" cy="1235.3" r="1.75" fill="#000"/>
<circle cx="501.15" cy="1235.3" r="1.75" fill="#000"/>
<circle cx="514.66" cy="1235.3" r="1.75" fill="#000"/>
<circle cx="521.42" cy="1235.3" r="1.75" fill="#000"/>
<circle cx="534.93" cy="1235.3" r="1.75" fill="#000"/>
<circle cx="541.69" cy="1235.3" r="1.75" fill="#000"/>
<circle cx="548.45" cy="1235.3" r="1.75" fill="#000"/>
<circle cx="555.21" cy="1235.3" r="1.75" fill="#000"/>
<circle cx="561.96" cy="1235.3" r="1.75" fill="#000"/>
<circle cx="568.72" cy="1235.3" r="1.75" fill="#000"/>
<circle cx="575.48" cy="1235.3" r="1.75" fill="#000"/>
<circle cx="588.99" cy="1235.3" r="1.75" fill="#000"/>
<circle cx="602.5" cy="1235.3" r="1.75" fill="#000"/>
<circle cx="609.26" cy="1235.3" r="1.75" fill="#000"/>
<circle cx="636.29" cy="1235.3" r="1.75" fill="#000"/>
<circle cx="643.05" cy="1235.3" r="1.75" fill="#000"/>
<circle cx="649.8" cy="1235.3" r="1.75" fill="#000"/>
<circle cx="453.85" cy="1247.6" r="1.75" fill="#984EA3"/>
<circle cx="460.61" cy="1247.6" r="1.75" fill="#FF7F00"/>
<circle cx="467.36" cy="1247.6" r="1.75" fill="#FF7F00"/>
<circle cx="474.12" cy="1247.6" r="1.75" fill="#FF7F00"/>
<circle cx="480.88" cy="1247.6" r="1.75" fill="#FF7F00"/>
<circle cx="487.63" cy="1247.6" r="1.75" fill="#4DAF4A"/>
<circle cx="494.39" cy="1247.6" r="1.75" fill="#984EA3"/>
<circle cx="501.15" cy="1247.6" r="1.75" fill="#FF7F00"/>
<circle cx="507.91" cy="1247.6" r="1.75" fill="#984EA3"/>
<circle cx="514.66" cy="1247.6" r="1.75" fill="#984EA3"/>
<circle cx="521.42" cy="1247.6" r="1.75" fill="#FF7F00"/>
<circle cx="528.18" cy="1247.6" r="1.75" fill="#4DAF4A"/>
<circle cx="534.93" cy="1247.6" r="1.75" fill="#984EA3"/>
<circle cx="541.69" cy="1247.6" r="1.75" fill="#FF7F00"/>
<circle cx="548.45" cy="1247.6" r="1.75" fill="#FF7F00"/>
<circle cx="555.21" cy="1247.6" r="1.75" fill="#377EB8"/>
<circle cx="561.96" cy="1247.6" r="1.75" fill="#984EA3"/>
<circle cx="568.72" cy="1247.6" r="1.75" fill="#984EA3"/>
<circle cx="575.48" cy="1247.6" r="1.75" fill="#984EA3"/>
<circle cx="582.23" cy="1247.6" r="1.75" fill="#984EA3"/>
<circle cx="588.99" cy="1247.6" r="1.75" fill="#984EA3"/>
<circle cx="595.75" cy="1247.6" r="1.75" fill="#984EA3"/>
<circle cx="602.5" cy="1247.6" r="1.75" fill="#FF7F00"/>
<circle cx="609.26" cy="1247.6" r="1.75" fill="#FF7F00"/>
<circle cx="616.02" cy="1247.6" r="1.75" fill="#FF7F00"/>
<circle cx="622.77" cy="1247.6" r="1.75" fill="#4DAF4A"/>
<circle cx="629.53" cy="1247.6" r="1.75" fill="#984EA3"/>
<circle cx="636.29" cy="1247.6" r="1.75" fill="#984EA3"/>
<circle cx="643.05" cy="1247.6" r="1.75" fill="#984EA3"/>
<circle cx="649.8" cy="1247.6" r="1.75" fill="#FF7F00"/>
<text x="560.5" y="1345" font-size="18.2"><tspan font-style="italic">n</tspan> = 288</text>
<path fill="#FBC4DC" d="M742.4 1516h5.7v4h-5.7z"/>
<path fill="#FEEA6E" d="M742.4 1461h5.7v55h-5.7zM749.16 1466h5.7v54h-5.7zM755.91 1471h5.7v49h-5.7zM762.67 1501h5.7v19h-5.7zM769.43 1496h5.7v24h-5.7zM776.18 1481h5.7v39h-5.7zM782.94 1511h5.7v9h-5.7zM789.7 1451h5.7v69h-5.7zM796.46 1511h5.7v9h-5.7zM803.21 1456h5.7v55h-5.7zM809.97 1501h5.7v19h-5.7zM816.73 1486h5.7v30h-5.7zM830.24 1516h5.7v4h-5.7zM837 1491h5.7v15h-5.7zM843.75 1496h5.7v20h-5.7zM850.51 1506h5.7v14h-5.7zM857.27 1491h5.7v20h-5.7zM864.03 1511h5.7v9h-5.7zM877.54 1501h5.7v15h-5.7zM891.05 1496h5.7v24h-5.7zM897.81 1506h5.7v14h-5.7zM904.57 1516h5.7v4h-5.7zM911.32 1491h5.7v29h-5.7zM918.08 1516h5.7v4h-5.7zM931.6 1501h5.7v15h-5.7zM938.35 1506h5.7v14h-5.7z"/>
<path fill="#4292C6" d="M742.4 1456h5.7v5h-5.7zM769.43 1486h5.7v10h-5.7zM776.18 1476h5.7v5h-5.7zM796.46 1501h5.7v10h-5.7zM823.48 1516h5.7v4h-5.7zM830.24 1511h5.7v5h-5.7zM843.75 1491h5.7v5h-5.7zM891.05 1486h5.7v10h-5.7zM897.81 1501h5.7v5h-5.7zM938.35 1501h5.7v5h-5.7z"/>
<path fill="#BCBDDC" d="M742.4 1332h5.7v124h-5.7zM749.16 1377h5.7v89h-5.7zM755.91 1416h5.7v55h-5.7zM762.67 1397h5.7v104h-5.7zM769.43 1382h5.7v104h-5.7zM776.18 1412h5.7v64h-5.7zM782.94 1446h5.7v65h-5.7zM789.7 1431h5.7v20h-5.7zM796.46 1426h5.7v75h-5.7zM803.21 1436h5.7v20h-5.7zM809.97 1471h5.7v30h-5.7zM816.73 1456h5.7v30h-5.7zM823.48 1511h5.7v5h-5.7zM830.24 1481h5.7v30h-5.7zM837 1476h5.7v15h-5.7zM843.75 1461h5.7v30h-5.7zM850.51 1481h5.7v25h-5.7zM857.27 1476h5.7v15h-5.7zM864.03 1486h5.7v25h-5.7zM870.78 1496h5.7v24h-5.7zM877.54 1476h5.7v25h-5.7zM884.3 1501h5.7v19h-5.7zM891.05 1476h5.7v10h-5.7zM897.81 1461h5.7v40h-5.7zM904.57 1481h5.7v35h-5.7zM911.32 1481h5.7v10h-5.7zM924.84 1511h5.7v9h-5.7zM931.6 1491h5.7v10h-5.7zM938.35 1481h5.7v20h-5.7z"/>
<path fill="#CB181D" d="M742.4 1327h5.7v5h-5.7zM749.16 1362h5.7v15h-5.7zM755.91 1407h5.7v9h-5.7zM762.67 1357h5.7v30h-5.7zM769.43 1372h5.7v10h-5.7zM776.18 1397h5.7v15h-5.7zM782.94 1416h5.7v25h-5.7zM803.21 1431h5.7v5h-5.7zM809.97 1451h5.7v20h-5.7zM816.73 1446h5.7v10h-5.7zM830.24 1476h5.7v5h-5.7zM837 1471h5.7v5h-5.7zM843.75 1456h5.7v5h-5.7zM850.51 1466h5.7v15h-5.7zM857.27 1456h5.7v20h-5.7zM877.54 1471h5.7v5h-5.7zM904.57 1476h5.7v5h-5.7zM931.6 1486h5.7v5h-5.7z"/>
<path fill="#C7E9C0" d="M742.4 1288h5.7v39h-5.7zM749.16 1298h5.7v39h-5.7zM762.67 1347h5.7v10h-5.7zM776.18 1387h5.7v5h-5.7zM782.94 1402h5.7v14h-5.7zM789.7 1416h5.7v10h-5.7zM796.46 1407h5.7v9h-5.7zM809.97 1436h5.7v15h-5.7zM823.48 1456h5.7v25h-5.7zM830.24 1436h5.7v35h-5.7zM837 1461h5.7v5h-5.7zM850.51 1441h5.7v20h-5.7zM864.03 1471h5.7v15h-5.7zM870.78 1461h5.7v15h-5.7zM884.3 1466h5.7v20h-5.7zM891.05 1471h5.7v5h-5.7zM904.57 1466h5.7v5h-5.7zM911.32 1471h5.7v10h-5.7zM918.08 1476h5.7v15h-5.7zM924.84 1476h5.7v5h-5.7zM938.35 1476h5.7v5h-5.7z"/>
<path fill="#238B45" d="M742.4 1273h5.7v15h-5.7zM749.16 1293h5.7v5h-5.7zM755.91 1392h5.7v5h-5.7zM762.67 1342h5.7v5h-5.7zM769.43 1352h5.7v10h-5.7zM776.18 1382h5.7v5h-5.7zM782.94 1397h5.7v5h-5.7zM789.7 1412h5.7v4h-5.7zM809.97 1431h5.7v5h-5.7zM823.48 1436h5.7v20h-5.7zM837 1446h5.7v15h-5.7zM864.03 1456h5.7v15h-5.7zM870.78 1456h5.7v5h-5.7zM884.3 1461h5.7v5h-5.7zM891.05 1466h5.7v5h-5.7zM904.57 1461h5.7v5h-5.7zM918.08 1466h5.7v10h-5.7zM924.84 1466h5.7v10h-5.7z"/>
<path fill="#FB6A4A" d="M749.16 1357h5.7v5h-5.7z"/>
<path fill="#FDD0A2" d="M749.16 1337h5.7v20h-5.7zM755.91 1397h5.7v10h-5.7zM769.43 1362h5.7v10h-5.7zM776.18 1392h5.7v5h-5.7zM789.7 1426h5.7v5h-5.7zM803.21 1426h5.7v5h-5.7zM823.48 1481h5.7v30h-5.7zM830.24 1471h5.7v5h-5.7zM837 1466h5.7v5h-5.7zM850.51 1461h5.7v5h-5.7zM870.78 1476h5.7v15h-5.7zM884.3 1486h5.7v10h-5.7zM904.57 1471h5.7v5h-5.7zM918.08 1491h5.7v25h-5.7zM924.84 1481h5.7v30h-5.7z"/>
<path fill="#BF812D" d="M749.16 1283h5.7v10h-5.7zM755.91 1342h5.7v50h-5.7zM776.18 1377h5.7v5h-5.7zM789.7 1402h5.7v10h-5.7zM796.46 1402h5.7v5h-5.7zM803.21 1412h5.7v14h-5.7zM816.73 1431h5.7v15h-5.7zM837 1441h5.7v5h-5.7zM843.75 1441h5.7v15h-5.7zM857.27 1451h5.7v5h-5.7zM864.03 1451h5.7v5h-5.7zM877.54 1456h5.7v15h-5.7zM891.05 1461h5.7v5h-5.7zM911.32 1466h5.7v5h-5.7zM931.6 1476h5.7v10h-5.7z"/>
<path fill="#807DBA" d="M762.67 1387h5.7v10h-5.7zM782.94 1441h5.7v5h-5.7zM796.46 1416h5.7v10h-5.7zM870.78 1491h5.7v5h-5.7z"/>
<path fill="#969696" d="M803.21 1511h5.7v9h-5.7zM816.73 1516h5.7v4h-5.7zM837 1506h5.7v14h-5.7zM843.75 1516h5.7v4h-5.7zM857.27 1511h5.7v5h-5.7zM877.54 1516h5.7v4h-5.7zM931.6 1516h5.7v4h-5.7z"/>
<path fill="#BDBDBD" d="M857.27 1516h5.7v4h-5.7z"/>
<path fill="#FDAE6B" d="M884.3 1496h5.7v5h-5.7z"/>
<path fill="#7a6a45" d="M742.4 1272.65h5.7v0.7h-5.7zM749.16 1282.65h5.7v0.7h-5.7zM755.91 1341.65h5.7v0.7h-5.7zM762.67 1341.65h5.7v0.7h-5.7zM769.43 1351.65h5.7v0.7h-5.7zM776.18 1376.65h5.7v0.7h-5.7zM782.94 1396.65h5.7v0.7h-5.7zM789.7 1401.65h5.7v0.7h-5.7zM796.46 1401.65h5.7v0.7h-5.7zM803.21 1411.65h5.7v0.7h-5.7zM809.97 1430.65h5.7v0.7h-5.7zM816.73 1430.65h5.7v0.7h-5.7zM823.48 1435.65h5.7v0.7h-5.7zM830.24 1435.65h5.7v0.7h-5.7zM837 1440.65h5.7v0.7h-5.7zM843.75 1440.65h5.7v0.7h-5.7zM850.51 1440.65h5.7v0.7h-5.7zM857.27 1450.65h5.7v0.7h-5.7zM864.03 1450.65h5.7v0.7h-5.7zM870.78 1455.65h5.7v0.7h-5.7zM877.54 1455.65h5.7v0.7h-5.7zM884.3 1460.65h5.7v0.7h-5.7zM891.05 1460.65h5.7v0.7h-5.7zM897.81 1460.65h5.7v0.7h-5.7zM904.57 1460.65h5.7v0.7h-5.7zM911.32 1465.65h5.7v0.7h-5.7zM918.08 1465.65h5.7v0.7h-5.7zM924.84 1465.65h5.7v0.7h-5.7zM931.6 1475.65h5.7v0.7h-5.7zM938.35 1475.65h5.7v0.7h-5.7z"/>
<line x1="734.6" y1="1221.62" x2="734.6" y2="1520.8" stroke="#000" stroke-width="2.1"/>
<line x1="724.4" y1="1519.8" x2="735.6" y2="1519.8" stroke="#000" stroke-width="2.1"/>
<line x1="724.4" y1="1470.27" x2="735.6" y2="1470.27" stroke="#000" stroke-width="2.1"/>
<line x1="724.4" y1="1420.74" x2="735.6" y2="1420.74" stroke="#000" stroke-width="2.1"/>
<line x1="724.4" y1="1371.21" x2="735.6" y2="1371.21" stroke="#000" stroke-width="2.1"/>
<line x1="724.4" y1="1321.68" x2="735.6" y2="1321.68" stroke="#000" stroke-width="2.1"/>
<line x1="724.4" y1="1272.15" x2="735.6" y2="1272.15" stroke="#000" stroke-width="2.1"/>
<line x1="724.4" y1="1222.62" x2="735.6" y2="1222.62" stroke="#000" stroke-width="2.1"/>
<text transform="translate(713,1519.8) rotate(-90)" font-size="15.6" text-anchor="middle">0</text>
<text transform="translate(713,1470.27) rotate(-90)" font-size="15.6" text-anchor="middle">10</text>
<text transform="translate(713,1420.74) rotate(-90)" font-size="15.6" text-anchor="middle">20</text>
<text transform="translate(713,1371.21) rotate(-90)" font-size="15.6" text-anchor="middle">30</text>
<text transform="translate(713,1321.68) rotate(-90)" font-size="15.6" text-anchor="middle">40</text>
<text transform="translate(713,1272.15) rotate(-90)" font-size="15.6" text-anchor="middle">50</text>
<text transform="translate(713,1222.62) rotate(-90)" font-size="15.6" text-anchor="middle">60</text>
<circle cx="752.01" cy="1235.3" r="1.75" fill="#000"/>
<circle cx="758.76" cy="1235.3" r="1.75" fill="#000"/>
<circle cx="765.52" cy="1235.3" r="1.75" fill="#000"/>
<circle cx="772.28" cy="1235.3" r="1.75" fill="#000"/>
<circle cx="779.03" cy="1235.3" r="1.75" fill="#000"/>
<circle cx="785.79" cy="1235.3" r="1.75" fill="#000"/>
<circle cx="792.55" cy="1235.3" r="1.75" fill="#000"/>
<circle cx="799.31" cy="1235.3" r="1.75" fill="#000"/>
<circle cx="812.82" cy="1235.3" r="1.75" fill="#000"/>
<circle cx="819.58" cy="1235.3" r="1.75" fill="#000"/>
<circle cx="826.33" cy="1235.3" r="1.75" fill="#000"/>
<circle cx="833.09" cy="1235.3" r="1.75" fill="#000"/>
<circle cx="846.61" cy="1235.3" r="1.75" fill="#000"/>
<circle cx="853.36" cy="1235.3" r="1.75" fill="#000"/>
<circle cx="860.12" cy="1235.3" r="1.75" fill="#000"/>
<circle cx="866.88" cy="1235.3" r="1.75" fill="#000"/>
<circle cx="873.63" cy="1235.3" r="1.75" fill="#000"/>
<circle cx="880.39" cy="1235.3" r="1.75" fill="#000"/>
<circle cx="893.9" cy="1235.3" r="1.75" fill="#000"/>
<circle cx="900.66" cy="1235.3" r="1.75" fill="#000"/>
<circle cx="907.42" cy="1235.3" r="1.75" fill="#000"/>
<circle cx="914.17" cy="1235.3" r="1.75" fill="#000"/>
<circle cx="920.93" cy="1235.3" r="1.75" fill="#000"/>
<circle cx="927.69" cy="1235.3" r="1.75" fill="#000"/>
<circle cx="934.45" cy="1235.3" r="1.75" fill="#000"/>
<circle cx="941.2" cy="1235.3" r="1.75" fill="#000"/>
<circle cx="745.25" cy="1247.6" r="1.75" fill="#FFFF33"/>
<circle cx="752.01" cy="1247.6" r="1.75" fill="#FF7F00"/>
<circle cx="758.76" cy="1247.6" r="1.75" fill="#FF7F00"/>
<circle cx="765.52" cy="1247.6" r="1.75" fill="#FFFF33"/>
<circle cx="772.28" cy="1247.6" r="1.75" fill="#FFFF33"/>
<circle cx="779.03" cy="1247.6" r="1.75" fill="#FFFF33"/>
<circle cx="785.79" cy="1247.6" r="1.75" fill="#FFFF33"/>
<circle cx="792.55" cy="1247.6" r="1.75" fill="#FF7F00"/>
<circle cx="799.31" cy="1247.6" r="1.75" fill="#FFFF33"/>
<circle cx="806.06" cy="1247.6" r="1.75" fill="#FF7F00"/>
<circle cx="812.82" cy="1247.6" r="1.75" fill="#FFFF33"/>
<circle cx="819.58" cy="1247.6" r="1.75" fill="#FFFF33"/>
<circle cx="826.33" cy="1247.6" r="1.75" fill="#E41A1C"/>
<circle cx="833.09" cy="1247.6" r="1.75" fill="#FFFF33"/>
<circle cx="839.85" cy="1247.6" r="1.75" fill="#FF7F00"/>
<circle cx="846.61" cy="1247.6" r="1.75" fill="#FFFF33"/>
<circle cx="853.36" cy="1247.6" r="1.75" fill="#FFFF33"/>
<circle cx="860.12" cy="1247.6" r="1.75" fill="#984EA3"/>
<circle cx="866.88" cy="1247.6" r="1.75" fill="#FFFF33"/>
<circle cx="873.63" cy="1247.6" r="1.75" fill="#E41A1C"/>
<circle cx="880.39" cy="1247.6" r="1.75" fill="#FF7F00"/>
<circle cx="887.15" cy="1247.6" r="1.75" fill="#E41A1C"/>
<circle cx="893.9" cy="1247.6" r="1.75" fill="#FF7F00"/>
<circle cx="900.66" cy="1247.6" r="1.75" fill="#FFFF33"/>
<circle cx="907.42" cy="1247.6" r="1.75" fill="#FFFF33"/>
<circle cx="914.17" cy="1247.6" r="1.75" fill="#E41A1C"/>
<circle cx="920.93" cy="1247.6" r="1.75" fill="#FF7F00"/>
<circle cx="927.69" cy="1247.6" r="1.75" fill="#FF7F00"/>
<circle cx="934.45" cy="1247.6" r="1.75" fill="#984EA3"/>
<circle cx="941.2" cy="1247.6" r="1.75" fill="#FFFF33"/>
<text x="863.3" y="1345" font-size="18.2"><tspan font-style="italic">n</tspan> = 599</text>
<path fill="#FEEA6E" d="M1034 1513h5.7v7h-5.7zM1040.76 1517h5.7v3h-5.7zM1047.51 1503h5.7v17h-5.7zM1054.27 1516h5.7v4h-5.7zM1061.03 1509h5.7v11h-5.7zM1067.79 1514h5.7v6h-5.7zM1074.54 1509h5.7v11h-5.7zM1081.3 1518h5.7v2h-5.7zM1088.06 1495h5.7v25h-5.7zM1094.81 1508h5.7v12h-5.7zM1101.57 1518h5.7v2h-5.7zM1108.33 1512h5.7v8h-5.7zM1115.08 1514h5.7v6h-5.7zM1121.84 1514h5.7v6h-5.7zM1128.6 1513h5.7v7h-5.7zM1135.36 1516h5.7v4h-5.7zM1148.87 1511h5.7v9h-5.7zM1155.63 1512h5.7v8h-5.7zM1162.38 1517h5.7v3h-5.7zM1182.65 1504h5.7v16h-5.7zM1196.17 1518h5.7v2h-5.7zM1202.92 1515h5.7v5h-5.7zM1216.44 1513h5.7v7h-5.7zM1229.95 1510h5.7v10h-5.7z"/>
<path fill="#4292C6" d="M1034 1446h5.7v67h-5.7zM1040.76 1462h5.7v51h-5.7zM1047.51 1498h5.7v5h-5.7zM1067.79 1494h5.7v20h-5.7zM1074.54 1488h5.7v21h-5.7zM1081.3 1501h5.7v17h-5.7zM1094.81 1507h5.7v1h-5.7zM1101.57 1512h5.7v6h-5.7zM1115.08 1511h5.7v3h-5.7zM1121.84 1509h5.7v5h-5.7zM1128.6 1510h5.7v3h-5.7zM1162.38 1511h5.7v6h-5.7zM1169.14 1513h5.7v6h-5.7zM1175.9 1511h5.7v9h-5.7zM1189.41 1518h5.7v2h-5.7zM1202.92 1513h5.7v2h-5.7zM1209.68 1516h5.7v4h-5.7z"/>
<path fill="#BCBDDC" d="M1034 1377h5.7v69h-5.7zM1040.76 1408h5.7v54h-5.7zM1047.51 1457h5.7v41h-5.7zM1054.27 1488h5.7v28h-5.7zM1061.03 1482h5.7v27h-5.7zM1067.79 1476h5.7v18h-5.7zM1074.54 1466h5.7v22h-5.7zM1081.3 1485h5.7v16h-5.7zM1088.06 1483h5.7v11h-5.7zM1094.81 1496h5.7v11h-5.7zM1101.57 1506h5.7v6h-5.7zM1108.33 1504h5.7v7h-5.7zM1115.08 1507h5.7v4h-5.7zM1121.84 1499h5.7v10h-5.7zM1128.6 1507h5.7v3h-5.7zM1135.36 1502h5.7v14h-5.7zM1142.11 1519h5.7v1h-5.7zM1148.87 1502h5.7v9h-5.7zM1155.63 1508h5.7v4h-5.7zM1162.38 1508h5.7v3h-5.7zM1169.14 1502h5.7v11h-5.7zM1175.9 1504h5.7v7h-5.7zM1182.65 1503h5.7v1h-5.7zM1189.41 1511h5.7v7h-5.7zM1196.17 1511h5.7v7h-5.7zM1202.92 1509h5.7v4h-5.7zM1209.68 1511h5.7v5h-5.7zM1216.44 1510h5.7v3h-5.7zM1229.95 1509h5.7v1h-5.7z"/>
<path fill="#807DBA" d="M1034 1361h5.7v16h-5.7zM1040.76 1404h5.7v4h-5.7zM1047.51 1452h5.7v5h-5.7zM1061.03 1481h5.7v1h-5.7zM1074.54 1464h5.7v2h-5.7zM1081.3 1483h5.7v2h-5.7zM1094.81 1494h5.7v2h-5.7zM1115.08 1506h5.7v1h-5.7zM1121.84 1498h5.7v1h-5.7zM1196.17 1510h5.7v1h-5.7z"/>
<path fill="#CB181D" d="M1034 1351h5.7v10h-5.7zM1040.76 1395h5.7v9h-5.7zM1047.51 1434h5.7v18h-5.7zM1054.27 1480h5.7v8h-5.7zM1061.03 1445h5.7v36h-5.7zM1067.79 1473h5.7v3h-5.7zM1074.54 1456h5.7v8h-5.7zM1081.3 1476h5.7v7h-5.7zM1094.81 1492h5.7v2h-5.7zM1108.33 1501h5.7v3h-5.7zM1115.08 1504h5.7v2h-5.7zM1121.84 1496h5.7v2h-5.7zM1128.6 1499h5.7v8h-5.7zM1135.36 1501h5.7v1h-5.7zM1142.11 1513h5.7v6h-5.7zM1155.63 1502h5.7v6h-5.7zM1196.17 1508h5.7v2h-5.7zM1202.92 1508h5.7v1h-5.7z"/>
<path fill="#FDD0A2" d="M1034 1337h5.7v14h-5.7zM1040.76 1393h5.7v2h-5.7zM1047.51 1427h5.7v7h-5.7zM1054.27 1441h5.7v13h-5.7zM1067.79 1465h5.7v8h-5.7zM1094.81 1490h5.7v2h-5.7zM1128.6 1498h5.7v1h-5.7zM1142.11 1506h5.7v7h-5.7z"/>
<path fill="#C7E9C0" d="M1034 1303h5.7v34h-5.7zM1040.76 1388h5.7v5h-5.7zM1047.51 1390h5.7v37h-5.7zM1054.27 1428h5.7v5h-5.7zM1067.79 1454h5.7v11h-5.7zM1081.3 1472h5.7v4h-5.7zM1094.81 1483h5.7v7h-5.7zM1101.57 1495h5.7v9h-5.7zM1108.33 1493h5.7v8h-5.7zM1115.08 1496h5.7v8h-5.7zM1121.84 1495h5.7v1h-5.7zM1128.6 1496h5.7v2h-5.7zM1135.36 1499h5.7v2h-5.7zM1142.11 1504h5.7v2h-5.7zM1155.63 1501h5.7v1h-5.7zM1162.38 1502h5.7v6h-5.7zM1169.14 1501h5.7v1h-5.7zM1175.9 1503h5.7v1h-5.7zM1189.41 1507h5.7v4h-5.7zM1196.17 1507h5.7v1h-5.7zM1209.68 1508h5.7v3h-5.7zM1216.44 1509h5.7v1h-5.7zM1223.2 1509h5.7v1h-5.7z"/>
<path fill="#238B45" d="M1034 1277h5.7v26h-5.7zM1040.76 1382h5.7v6h-5.7zM1047.51 1379h5.7v11h-5.7zM1054.27 1423h5.7v5h-5.7zM1067.79 1446h5.7v8h-5.7zM1074.54 1451h5.7v3h-5.7zM1081.3 1470h5.7v2h-5.7zM1101.57 1487h5.7v8h-5.7zM1108.33 1490h5.7v3h-5.7zM1115.08 1492h5.7v4h-5.7zM1121.84 1493h5.7v2h-5.7zM1128.6 1494h5.7v2h-5.7zM1135.36 1497h5.7v2h-5.7zM1142.11 1502h5.7v2h-5.7zM1162.38 1501h5.7v1h-5.7zM1189.41 1505h5.7v2h-5.7zM1196.17 1506h5.7v1h-5.7zM1202.92 1507h5.7v1h-5.7zM1223.2 1508h5.7v1h-5.7z"/>
<path fill="#BF812D" d="M1034 1273h5.7v4h-5.7zM1040.76 1375h5.7v7h-5.7zM1047.51 1378h5.7v1h-5.7zM1054.27 1421h5.7v2h-5.7zM1061.03 1441h5.7v2h-5.7zM1067.79 1445h5.7v1h-5.7zM1088.06 1479h5.7v4h-5.7zM1094.81 1482h5.7v1h-5.7zM1108.33 1489h5.7v1h-5.7zM1115.08 1490h5.7v2h-5.7zM1121.84 1491h5.7v2h-5.7zM1128.6 1493h5.7v1h-5.7zM1142.11 1501h5.7v1h-5.7zM1148.87 1501h5.7v1h-5.7z"/>
<path fill="#DEEBF7" d="M1040.76 1513h5.7v4h-5.7z"/>
<path fill="#FB6A4A" d="M1054.27 1460h5.7v20h-5.7zM1061.03 1443h5.7v2h-5.7zM1074.54 1454h5.7v2h-5.7z"/>
<path fill="#FDAE6B" d="M1054.27 1454h5.7v6h-5.7zM1101.57 1504h5.7v2h-5.7z"/>
<path fill="#FEE6CE" d="M1054.27 1433h5.7v8h-5.7z"/>
<path fill="#9ECAE1" d="M1088.06 1494h5.7v1h-5.7zM1108.33 1511h5.7v1h-5.7zM1223.2 1510h5.7v10h-5.7z"/>
<path fill="#969696" d="M1169.14 1519h5.7v1h-5.7z"/>
<path fill="#7a6a45" d="M1034 1272.65h5.7v0.7h-5.7zM1040.76 1374.65h5.7v0.7h-5.7zM1047.51 1377.65h5.7v0.7h-5.7zM1054.27 1420.65h5.7v0.7h-5.7zM1061.03 1440.65h5.7v0.7h-5.7zM1067.79 1444.65h5.7v0.7h-5.7zM1074.54 1450.65h5.7v0.7h-5.7zM1081.3 1469.65h5.7v0.7h-5.7zM1088.06 1478.65h5.7v0.7h-5.7zM1094.81 1481.65h5.7v0.7h-5.7zM1101.57 1486.65h5.7v0.7h-5.7zM1108.33 1488.65h5.7v0.7h-5.7zM1115.08 1489.65h5.7v0.7h-5.7zM1121.84 1490.65h5.7v0.7h-5.7zM1128.6 1492.65h5.7v0.7h-5.7zM1135.36 1496.65h5.7v0.7h-5.7zM1142.11 1500.65h5.7v0.7h-5.7zM1148.87 1500.65h5.7v0.7h-5.7zM1155.63 1500.65h5.7v0.7h-5.7zM1162.38 1500.65h5.7v0.7h-5.7zM1169.14 1500.65h5.7v0.7h-5.7zM1175.9 1502.65h5.7v0.7h-5.7zM1182.65 1502.65h5.7v0.7h-5.7zM1189.41 1504.65h5.7v0.7h-5.7zM1196.17 1505.65h5.7v0.7h-5.7zM1202.92 1506.65h5.7v0.7h-5.7zM1209.68 1507.65h5.7v0.7h-5.7zM1216.44 1508.65h5.7v0.7h-5.7zM1223.2 1507.65h5.7v0.7h-5.7zM1229.95 1508.65h5.7v0.7h-5.7z"/>
<line x1="1026.2" y1="1269.3" x2="1026.2" y2="1520.8" stroke="#000" stroke-width="2.1"/>
<line x1="1016" y1="1519.8" x2="1027.2" y2="1519.8" stroke="#000" stroke-width="2.1"/>
<line x1="1016" y1="1469.9" x2="1027.2" y2="1469.9" stroke="#000" stroke-width="2.1"/>
<line x1="1016" y1="1420" x2="1027.2" y2="1420" stroke="#000" stroke-width="2.1"/>
<line x1="1016" y1="1370.1" x2="1027.2" y2="1370.1" stroke="#000" stroke-width="2.1"/>
<line x1="1016" y1="1320.2" x2="1027.2" y2="1320.2" stroke="#000" stroke-width="2.1"/>
<line x1="1016" y1="1270.3" x2="1027.2" y2="1270.3" stroke="#000" stroke-width="2.1"/>
<text transform="translate(1004.6,1519.8) rotate(-90)" font-size="15.6" text-anchor="middle">0</text>
<text transform="translate(1004.6,1469.9) rotate(-90)" font-size="15.6" text-anchor="middle">50</text>
<text transform="translate(1004.6,1420) rotate(-90)" font-size="15.6" text-anchor="middle">100</text>
<text transform="translate(1004.6,1370.1) rotate(-90)" font-size="15.6" text-anchor="middle">150</text>
<text transform="translate(1004.6,1320.2) rotate(-90)" font-size="15.6" text-anchor="middle">200</text>
<text transform="translate(1004.6,1270.3) rotate(-90)" font-size="15.6" text-anchor="middle">250</text>
<circle cx="1036.85" cy="1235.3" r="1.75" fill="#000"/>
<circle cx="1043.61" cy="1235.3" r="1.75" fill="#000"/>
<circle cx="1050.36" cy="1235.3" r="1.75" fill="#000"/>
<circle cx="1057.12" cy="1235.3" r="1.75" fill="#000"/>
<circle cx="1063.88" cy="1235.3" r="1.75" fill="#000"/>
<circle cx="1070.63" cy="1235.3" r="1.75" fill="#000"/>
<circle cx="1077.39" cy="1235.3" r="1.75" fill="#000"/>
<circle cx="1084.15" cy="1235.3" r="1.75" fill="#000"/>
<circle cx="1097.66" cy="1235.3" r="1.75" fill="#000"/>
<circle cx="1104.42" cy="1235.3" r="1.75" fill="#000"/>
<circle cx="1111.18" cy="1235.3" r="1.75" fill="#000"/>
<circle cx="1117.93" cy="1235.3" r="1.75" fill="#000"/>
<circle cx="1124.69" cy="1235.3" r="1.75" fill="#000"/>
<circle cx="1131.45" cy="1235.3" r="1.75" fill="#000"/>
<circle cx="1138.2" cy="1235.3" r="1.75" fill="#000"/>
<circle cx="1151.72" cy="1235.3" r="1.75" fill="#000"/>
<circle cx="1158.48" cy="1235.3" r="1.75" fill="#000"/>
<circle cx="1165.23" cy="1235.3" r="1.75" fill="#000"/>
<circle cx="1171.99" cy="1235.3" r="1.75" fill="#000"/>
<circle cx="1178.75" cy="1235.3" r="1.75" fill="#000"/>
<circle cx="1185.5" cy="1235.3" r="1.75" fill="#000"/>
<circle cx="1192.26" cy="1235.3" r="1.75" fill="#000"/>
<circle cx="1199.02" cy="1235.3" r="1.75" fill="#000"/>
<circle cx="1212.53" cy="1235.3" r="1.75" fill="#000"/>
<circle cx="1219.29" cy="1235.3" r="1.75" fill="#000"/>
<circle cx="1232.8" cy="1235.3" r="1.75" fill="#000"/>
<circle cx="1036.85" cy="1247.6" r="1.75" fill="#377EB8"/>
<circle cx="1043.61" cy="1247.6" r="1.75" fill="#377EB8"/>
<circle cx="1050.36" cy="1247.6" r="1.75" fill="#E41A1C"/>
<circle cx="1057.12" cy="1247.6" r="1.75" fill="#984EA3"/>
<circle cx="1063.88" cy="1247.6" r="1.75" fill="#E41A1C"/>
<circle cx="1070.63" cy="1247.6" r="1.75" fill="#377EB8"/>
<circle cx="1077.39" cy="1247.6" r="1.75" fill="#377EB8"/>
<circle cx="1084.15" cy="1247.6" r="1.75" fill="#377EB8"/>
<circle cx="1090.91" cy="1247.6" r="1.75" fill="#4DAF4A"/>
<circle cx="1097.66" cy="1247.6" r="1.75" fill="#E41A1C"/>
<circle cx="1104.42" cy="1247.6" r="1.75" fill="#984EA3"/>
<circle cx="1111.18" cy="1247.6" r="1.75" fill="#E41A1C"/>
<circle cx="1117.93" cy="1247.6" r="1.75" fill="#E41A1C"/>
<circle cx="1124.69" cy="1247.6" r="1.75" fill="#4DAF4A"/>
<circle cx="1131.45" cy="1247.6" r="1.75" fill="#E41A1C"/>
<circle cx="1138.2" cy="1247.6" r="1.75" fill="#4DAF4A"/>
<circle cx="1144.96" cy="1247.6" r="1.75" fill="#377EB8"/>
<circle cx="1151.72" cy="1247.6" r="1.75" fill="#E41A1C"/>
<circle cx="1158.48" cy="1247.6" r="1.75" fill="#E41A1C"/>
<circle cx="1165.23" cy="1247.6" r="1.75" fill="#984EA3"/>
<circle cx="1171.99" cy="1247.6" r="1.75" fill="#984EA3"/>
<circle cx="1178.75" cy="1247.6" r="1.75" fill="#984EA3"/>
<circle cx="1185.5" cy="1247.6" r="1.75" fill="#E41A1C"/>
<circle cx="1192.26" cy="1247.6" r="1.75" fill="#984EA3"/>
<circle cx="1199.02" cy="1247.6" r="1.75" fill="#4DAF4A"/>
<circle cx="1205.77" cy="1247.6" r="1.75" fill="#984EA3"/>
<circle cx="1212.53" cy="1247.6" r="1.75" fill="#984EA3"/>
<circle cx="1219.29" cy="1247.6" r="1.75" fill="#E41A1C"/>
<circle cx="1226.05" cy="1247.6" r="1.75" fill="#377EB8"/>
<circle cx="1232.8" cy="1247.6" r="1.75" fill="#E41A1C"/>
<text x="1158.4" y="1345" font-size="18.2"><tspan font-style="italic">n</tspan> = 1,408</text>
<path fill="#FEEA6E" d="M1325.8 1502h5.7v18h-5.7zM1332.56 1511h5.7v9h-5.7zM1339.31 1511h5.7v8h-5.7zM1352.83 1518h5.7v2h-5.7zM1359.59 1517h5.7v3h-5.7zM1373.1 1519h5.7v1h-5.7zM1379.86 1519h5.7v1h-5.7zM1386.61 1511h5.7v8h-5.7zM1393.37 1519h5.7v1h-5.7zM1406.88 1513h5.7v7h-5.7zM1420.4 1507h5.7v13h-5.7zM1447.43 1517h5.7v3h-5.7zM1454.18 1519h5.7v1h-5.7zM1460.94 1517h5.7v3h-5.7zM1467.7 1517h5.7v3h-5.7zM1474.45 1513h5.7v7h-5.7zM1481.21 1498h5.7v21h-5.7zM1487.97 1514h5.7v5h-5.7zM1494.72 1515h5.7v5h-5.7zM1501.48 1513h5.7v7h-5.7zM1515 1519h5.7v1h-5.7z"/>
<path fill="#4292C6" d="M1325.8 1501h5.7v1h-5.7zM1332.56 1510h5.7v1h-5.7zM1346.07 1519h5.7v1h-5.7zM1352.83 1517h5.7v1h-5.7zM1359.59 1515h5.7v2h-5.7zM1366.34 1509h5.7v11h-5.7zM1393.37 1509h5.7v10h-5.7zM1427.15 1519h5.7v1h-5.7zM1440.67 1519h5.7v1h-5.7zM1447.43 1514h5.7v3h-5.7zM1460.94 1515h5.7v2h-5.7zM1467.7 1514h5.7v3h-5.7zM1474.45 1511h5.7v2h-5.7zM1501.48 1511h5.7v2h-5.7zM1508.24 1519h5.7v1h-5.7zM1521.75 1515h5.7v5h-5.7z"/>
<path fill="#BCBDDC" d="M1325.8 1308h5.7v193h-5.7zM1332.56 1351h5.7v159h-5.7zM1339.31 1449h5.7v62h-5.7zM1346.07 1428h5.7v91h-5.7zM1352.83 1444h5.7v73h-5.7zM1359.59 1460h5.7v55h-5.7zM1366.34 1459h5.7v50h-5.7zM1373.1 1485h5.7v34h-5.7zM1379.86 1488h5.7v31h-5.7zM1386.61 1485h5.7v26h-5.7zM1393.37 1482h5.7v27h-5.7zM1400.13 1480h5.7v40h-5.7zM1406.88 1489h5.7v24h-5.7zM1413.64 1490h5.7v30h-5.7zM1420.4 1488h5.7v19h-5.7zM1427.15 1489h5.7v30h-5.7zM1433.91 1489h5.7v31h-5.7zM1440.67 1490h5.7v29h-5.7zM1447.43 1493h5.7v21h-5.7zM1454.18 1498h5.7v21h-5.7zM1460.94 1497h5.7v18h-5.7zM1467.7 1494h5.7v20h-5.7zM1474.45 1501h5.7v10h-5.7zM1481.21 1497h5.7v1h-5.7zM1487.97 1499h5.7v15h-5.7zM1494.72 1503h5.7v12h-5.7zM1501.48 1499h5.7v12h-5.7zM1508.24 1501h5.7v18h-5.7zM1515 1499h5.7v20h-5.7zM1521.75 1501h5.7v14h-5.7z"/>
<path fill="#CB181D" d="M1325.8 1302h5.7v6h-5.7zM1332.56 1347h5.7v4h-5.7zM1339.31 1447h5.7v2h-5.7zM1346.07 1424h5.7v4h-5.7zM1359.59 1456h5.7v4h-5.7zM1379.86 1485h5.7v3h-5.7zM1386.61 1481h5.7v4h-5.7zM1393.37 1481h5.7v1h-5.7zM1406.88 1481h5.7v8h-5.7zM1413.64 1488h5.7v2h-5.7zM1420.4 1486h5.7v2h-5.7zM1454.18 1497h5.7v1h-5.7zM1474.45 1497h5.7v4h-5.7zM1487.97 1498h5.7v1h-5.7zM1494.72 1501h5.7v2h-5.7zM1508.24 1499h5.7v2h-5.7z"/>
<path fill="#FB6A4A" d="M1325.8 1301h5.7v1h-5.7z"/>
<path fill="#FDD0A2" d="M1325.8 1294h5.7v7h-5.7zM1339.31 1443h5.7v4h-5.7zM1379.86 1484h5.7v1h-5.7z"/>
<path fill="#C7E9C0" d="M1325.8 1289h5.7v5h-5.7zM1332.56 1345h5.7v2h-5.7zM1339.31 1432h5.7v11h-5.7zM1373.1 1480h5.7v5h-5.7zM1379.86 1480h5.7v4h-5.7z"/>
<path fill="#238B45" d="M1325.8 1283h5.7v6h-5.7zM1332.56 1341h5.7v4h-5.7zM1339.31 1423h5.7v9h-5.7zM1346.07 1423h5.7v1h-5.7zM1359.59 1455h5.7v1h-5.7zM1366.34 1457h5.7v2h-5.7zM1373.1 1477h5.7v3h-5.7zM1379.86 1478h5.7v2h-5.7zM1386.61 1480h5.7v1h-5.7zM1393.37 1480h5.7v1h-5.7zM1413.64 1485h5.7v3h-5.7z"/>
<path fill="#BF812D" d="M1325.8 1273h5.7v10h-5.7zM1332.56 1318h5.7v23h-5.7zM1339.31 1413h5.7v10h-5.7zM1352.83 1441h5.7v3h-5.7zM1359.59 1451h5.7v4h-5.7zM1366.34 1456h5.7v1h-5.7zM1379.86 1477h5.7v1h-5.7zM1386.61 1477h5.7v3h-5.7zM1393.37 1477h5.7v3h-5.7zM1400.13 1478h5.7v2h-5.7zM1413.64 1484h5.7v1h-5.7zM1420.4 1484h5.7v2h-5.7zM1440.67 1489h5.7v1h-5.7zM1454.18 1494h5.7v3h-5.7zM1460.94 1494h5.7v3h-5.7zM1474.45 1495h5.7v2h-5.7zM1487.97 1497h5.7v1h-5.7zM1494.72 1498h5.7v3h-5.7zM1501.48 1498h5.7v1h-5.7z"/>
<path fill="#969696" d="M1339.31 1519h5.7v1h-5.7zM1487.97 1519h5.7v1h-5.7z"/>
<path fill="#FBC4DC" d="M1386.61 1519h5.7v1h-5.7z"/>
<path fill="#D9D9D9" d="M1481.21 1519h5.7v1h-5.7z"/>
<path fill="#7a6a45" d="M1325.8 1272.65h5.7v0.7h-5.7zM1332.56 1317.65h5.7v0.7h-5.7zM1339.31 1412.65h5.7v0.7h-5.7zM1346.07 1422.65h5.7v0.7h-5.7zM1352.83 1440.65h5.7v0.7h-5.7zM1359.59 1450.65h5.7v0.7h-5.7zM1366.34 1455.65h5.7v0.7h-5.7zM1373.1 1476.65h5.7v0.7h-5.7zM1379.86 1476.65h5.7v0.7h-5.7zM1386.61 1476.65h5.7v0.7h-5.7zM1393.37 1476.65h5.7v0.7h-5.7zM1400.13 1477.65h5.7v0.7h-5.7zM1406.88 1480.65h5.7v0.7h-5.7zM1413.64 1483.65h5.7v0.7h-5.7zM1420.4 1483.65h5.7v0.7h-5.7zM1427.15 1488.65h5.7v0.7h-5.7zM1433.91 1488.65h5.7v0.7h-5.7zM1440.67 1488.65h5.7v0.7h-5.7zM1447.43 1492.65h5.7v0.7h-5.7zM1454.18 1493.65h5.7v0.7h-5.7zM1460.94 1493.65h5.7v0.7h-5.7zM1467.7 1493.65h5.7v0.7h-5.7zM1474.45 1494.65h5.7v0.7h-5.7zM1481.21 1496.65h5.7v0.7h-5.7zM1487.97 1496.65h5.7v0.7h-5.7zM1494.72 1497.65h5.7v0.7h-5.7zM1501.48 1497.65h5.7v0.7h-5.7zM1508.24 1498.65h5.7v0.7h-5.7zM1515 1498.65h5.7v0.7h-5.7zM1521.75 1500.65h5.7v0.7h-5.7z"/>
<line x1="1318" y1="1255.4" x2="1318" y2="1520.8" stroke="#000" stroke-width="2.1"/>
<line x1="1307.8" y1="1519.8" x2="1319" y2="1519.8" stroke="#000" stroke-width="2.1"/>
<line x1="1307.8" y1="1453.95" x2="1319" y2="1453.95" stroke="#000" stroke-width="2.1"/>
<line x1="1307.8" y1="1388.1" x2="1319" y2="1388.1" stroke="#000" stroke-width="2.1"/>
<line x1="1307.8" y1="1322.25" x2="1319" y2="1322.25" stroke="#000" stroke-width="2.1"/>
<line x1="1307.8" y1="1256.4" x2="1319" y2="1256.4" stroke="#000" stroke-width="2.1"/>
<text transform="translate(1296.4,1519.8) rotate(-90)" font-size="15.6" text-anchor="middle">0</text>
<text transform="translate(1296.4,1453.95) rotate(-90)" font-size="15.6" text-anchor="middle">50</text>
<text transform="translate(1296.4,1388.1) rotate(-90)" font-size="15.6" text-anchor="middle">100</text>
<text transform="translate(1296.4,1322.25) rotate(-90)" font-size="15.6" text-anchor="middle">150</text>
<text transform="translate(1296.4,1256.4) rotate(-90)" font-size="15.6" text-anchor="middle">200</text>
<circle cx="1328.65" cy="1235.3" r="1.75" fill="#000"/>
<circle cx="1335.41" cy="1235.3" r="1.75" fill="#000"/>
<circle cx="1342.16" cy="1235.3" r="1.75" fill="#000"/>
<circle cx="1348.92" cy="1235.3" r="1.75" fill="#000"/>
<circle cx="1355.68" cy="1235.3" r="1.75" fill="#000"/>
<circle cx="1362.43" cy="1235.3" r="1.75" fill="#000"/>
<circle cx="1369.19" cy="1235.3" r="1.75" fill="#000"/>
<circle cx="1375.95" cy="1235.3" r="1.75" fill="#000"/>
<circle cx="1389.46" cy="1235.3" r="1.75" fill="#000"/>
<circle cx="1396.22" cy="1235.3" r="1.75" fill="#000"/>
<circle cx="1402.98" cy="1235.3" r="1.75" fill="#000"/>
<circle cx="1409.73" cy="1235.3" r="1.75" fill="#000"/>
<circle cx="1423.25" cy="1235.3" r="1.75" fill="#000"/>
<circle cx="1430" cy="1235.3" r="1.75" fill="#000"/>
<circle cx="1443.52" cy="1235.3" r="1.75" fill="#000"/>
<circle cx="1450.28" cy="1235.3" r="1.75" fill="#000"/>
<circle cx="1457.03" cy="1235.3" r="1.75" fill="#000"/>
<circle cx="1463.79" cy="1235.3" r="1.75" fill="#000"/>
<circle cx="1470.55" cy="1235.3" r="1.75" fill="#000"/>
<circle cx="1477.3" cy="1235.3" r="1.75" fill="#000"/>
<circle cx="1484.06" cy="1235.3" r="1.75" fill="#000"/>
<circle cx="1490.82" cy="1235.3" r="1.75" fill="#000"/>
<circle cx="1497.57" cy="1235.3" r="1.75" fill="#000"/>
<circle cx="1504.33" cy="1235.3" r="1.75" fill="#000"/>
<circle cx="1511.09" cy="1235.3" r="1.75" fill="#000"/>
<circle cx="1517.85" cy="1235.3" r="1.75" fill="#000"/>
<circle cx="1524.6" cy="1235.3" r="1.75" fill="#000"/>
<circle cx="1328.65" cy="1247.6" r="1.75" fill="#377EB8"/>
<circle cx="1335.41" cy="1247.6" r="1.75" fill="#377EB8"/>
<circle cx="1342.16" cy="1247.6" r="1.75" fill="#4DAF4A"/>
<circle cx="1348.92" cy="1247.6" r="1.75" fill="#377EB8"/>
<circle cx="1355.68" cy="1247.6" r="1.75" fill="#377EB8"/>
<circle cx="1362.43" cy="1247.6" r="1.75" fill="#377EB8"/>
<circle cx="1369.19" cy="1247.6" r="1.75" fill="#984EA3"/>
<circle cx="1375.95" cy="1247.6" r="1.75" fill="#377EB8"/>
<circle cx="1382.71" cy="1247.6" r="1.75" fill="#377EB8"/>
<circle cx="1389.46" cy="1247.6" r="1.75" fill="#377EB8"/>
<circle cx="1396.22" cy="1247.6" r="1.75" fill="#984EA3"/>
<circle cx="1402.98" cy="1247.6" r="1.75" fill="#377EB8"/>
<circle cx="1409.73" cy="1247.6" r="1.75" fill="#4DAF4A"/>
<circle cx="1416.49" cy="1247.6" r="1.75" fill="#377EB8"/>
<circle cx="1423.25" cy="1247.6" r="1.75" fill="#377EB8"/>
<circle cx="1430" cy="1247.6" r="1.75" fill="#4DAF4A"/>
<circle cx="1436.76" cy="1247.6" r="1.75" fill="#377EB8"/>
<circle cx="1443.52" cy="1247.6" r="1.75" fill="#4DAF4A"/>
<circle cx="1450.28" cy="1247.6" r="1.75" fill="#984EA3"/>
<circle cx="1457.03" cy="1247.6" r="1.75" fill="#4DAF4A"/>
<circle cx="1463.79" cy="1247.6" r="1.75" fill="#4DAF4A"/>
<circle cx="1470.55" cy="1247.6" r="1.75" fill="#984EA3"/>
<circle cx="1477.3" cy="1247.6" r="1.75" fill="#4DAF4A"/>
<circle cx="1484.06" cy="1247.6" r="1.75" fill="#377EB8"/>
<circle cx="1490.82" cy="1247.6" r="1.75" fill="#4DAF4A"/>
<circle cx="1497.57" cy="1247.6" r="1.75" fill="#377EB8"/>
<circle cx="1504.33" cy="1247.6" r="1.75" fill="#984EA3"/>
<circle cx="1511.09" cy="1247.6" r="1.75" fill="#4DAF4A"/>
<circle cx="1517.85" cy="1247.6" r="1.75" fill="#4DAF4A"/>
<circle cx="1524.6" cy="1247.6" r="1.75" fill="#E41A1C"/>
<text x="1446.6" y="1345" font-size="18.2"><tspan font-style="italic">n</tspan> = 1,183</text>
<text x="1542" y="1233.2" font-size="20.2" text-anchor="start">gp70</text>
<text x="1542" y="1258.3" font-size="20.2" text-anchor="start">Mouse ID</text>
<text x="255.3" y="471" font-size="33.5" text-anchor="middle">Control</text>
<text x="553" y="471" font-size="33.5" text-anchor="middle">anti-PD-L1</text>
<text x="831.4" y="471" font-size="33.5" text-anchor="middle">anti-TIGIT</text>
<text x="1112.5" y="471" font-size="33.5" text-anchor="middle">Combo</text>
<text x="1435" y="471" font-size="33.5" text-anchor="middle">Combo + FTY720</text>
<rect x="170.7" y="531.3" width="10.8" height="9.2" fill="#000"/>
<text x="192.7" y="540.9" font-size="14.2" text-anchor="start">gp70+</text>
<rect x="245.5" y="531.7" width="10.5" height="8.4" fill="#E41A1C" stroke="#000" stroke-width="1"/>
<text x="268" y="540.9" font-size="14.2" text-anchor="start">S1.2</text>
<rect x="245.5" y="548.2" width="10.5" height="8.4" fill="#377EB8" stroke="#000" stroke-width="1"/>
<text x="268" y="557.4" font-size="14.2" text-anchor="start">S1.3</text>
<rect x="245.5" y="564.6" width="10.5" height="8.4" fill="#4DAF4A" stroke="#000" stroke-width="1"/>
<text x="268" y="573.8" font-size="14.2" text-anchor="start">S1.4</text>
<rect x="308.3" y="531.7" width="10.5" height="8.4" fill="#984EA3" stroke="#000" stroke-width="1"/>
<text x="330.5" y="540.9" font-size="14.2" text-anchor="start">S1.5</text>
<rect x="308.3" y="548.2" width="10.5" height="8.4" fill="#FF7F00" stroke="#000" stroke-width="1"/>
<text x="330.5" y="557.4" font-size="14.2" text-anchor="start">S1.6</text>
<rect x="537.8" y="531.7" width="10.5" height="8.4" fill="#E41A1C" stroke="#000" stroke-width="1"/>
<text x="560.5" y="540.9" font-size="14.2" text-anchor="start">S2.1</text>
<rect x="537.8" y="548.2" width="10.5" height="8.4" fill="#377EB8" stroke="#000" stroke-width="1"/>
<text x="560.5" y="557.4" font-size="14.2" text-anchor="start">S2.3</text>
<rect x="537.8" y="564.6" width="10.5" height="8.4" fill="#4DAF4A" stroke="#000" stroke-width="1"/>
<text x="560.5" y="573.8" font-size="14.2" text-anchor="start">S2.4</text>
<rect x="600" y="531.7" width="10.5" height="8.4" fill="#984EA3" stroke="#000" stroke-width="1"/>
<text x="622.7" y="540.9" font-size="14.2" text-anchor="start">S2.5</text>
<rect x="600" y="548.2" width="10.5" height="8.4" fill="#FF7F00" stroke="#000" stroke-width="1"/>
<text x="622.7" y="557.4" font-size="14.2" text-anchor="start">S2.6</text>
<rect x="829.5" y="531.7" width="10.5" height="8.4" fill="#E41A1C" stroke="#000" stroke-width="1"/>
<text x="852" y="540.9" font-size="14.2" text-anchor="start">S3.1</text>
<rect x="829.5" y="548.2" width="10.5" height="8.4" fill="#377EB8" stroke="#000" stroke-width="1"/>
<text x="852" y="557.4" font-size="14.2" text-anchor="start">S3.2</text>
<rect x="829.5" y="564.6" width="10.5" height="8.4" fill="#4DAF4A" stroke="#000" stroke-width="1"/>
<text x="852" y="573.8" font-size="14.2" text-anchor="start">S3.3</text>
<rect x="892" y="531.7" width="10.5" height="8.4" fill="#984EA3" stroke="#000" stroke-width="1"/>
<text x="914.5" y="540.9" font-size="14.2" text-anchor="start">S3.4</text>
<rect x="892" y="548.2" width="10.5" height="8.4" fill="#FF7F00" stroke="#000" stroke-width="1"/>
<text x="914.5" y="557.4" font-size="14.2" text-anchor="start">S3.6</text>
<rect x="892" y="564.6" width="10.5" height="8.4" fill="#FFFF33" stroke="#000" stroke-width="1"/>
<text x="914.5" y="573.8" font-size="14.2" text-anchor="start">S3.7</text>
<rect x="1121.5" y="531.7" width="10.5" height="8.4" fill="#E41A1C" stroke="#000" stroke-width="1"/>
<text x="1144" y="540.9" font-size="14.2" text-anchor="start">S4.2</text>
<rect x="1121.5" y="548.2" width="10.5" height="8.4" fill="#377EB8" stroke="#000" stroke-width="1"/>
<text x="1144" y="557.4" font-size="14.2" text-anchor="start">S4.3</text>
<rect x="1183.5" y="531.7" width="10.5" height="8.4" fill="#4DAF4A" stroke="#000" stroke-width="1"/>
<text x="1206" y="540.9" font-size="14.2" text-anchor="start">S4.5</text>
<rect x="1183.5" y="548.2" width="10.5" height="8.4" fill="#984EA3" stroke="#000" stroke-width="1"/>
<text x="1206" y="557.4" font-size="14.2" text-anchor="start">S4.6</text>
<rect x="1412.9" y="531.7" width="10.5" height="8.4" fill="#E41A1C" stroke="#000" stroke-width="1"/>
<text x="1435.6" y="540.9" font-size="14.2" text-anchor="start">S5.2</text>
<rect x="1412.9" y="548.2" width="10.5" height="8.4" fill="#377EB8" stroke="#000" stroke-width="1"/>
<text x="1435.6" y="557.4" font-size="14.2" text-anchor="start">S5.3</text>
<rect x="1475.5" y="531.7" width="10.5" height="8.4" fill="#4DAF4A" stroke="#000" stroke-width="1"/>
<text x="1497.8" y="540.9" font-size="14.2" text-anchor="start">S5.5</text>
<rect x="1475.5" y="548.2" width="10.5" height="8.4" fill="#984EA3" stroke="#000" stroke-width="1"/>
<text x="1497.8" y="557.4" font-size="14.2" text-anchor="start">S5.7</text>
<text transform="translate(54.6,629.5) rotate(-90)" font-size="33.5" text-anchor="middle">Tumor</text>
<text transform="translate(54.6,989.5) rotate(-90)" font-size="33.5" text-anchor="middle">D7 Blood</text>
<text transform="translate(54.6,1365.8) rotate(-90)" font-size="33.5" text-anchor="middle">dLN</text>
<text transform="translate(99.3,994) rotate(-90)" font-size="24" text-anchor="middle">Cell count</text>
<text x="-0.6" y="474.6" font-size="54" text-anchor="start">b</text>
<rect x="1742.4" y="661.2" width="17" height="13.4" fill="#FBC4DC" stroke="#000" stroke-width="1.9"/>
<text x="1781" y="676.2" font-size="23.2" text-anchor="start">Early</text>
<rect x="1742.4" y="689.53" width="17" height="13.4" fill="#D9D9D9" stroke="#000" stroke-width="1.9"/>
<text x="1781" y="704.53" font-size="23.2" text-anchor="start">Ccr7.1</text>
<rect x="1742.4" y="717.86" width="17" height="13.4" fill="#BDBDBD" stroke="#000" stroke-width="1.9"/>
<text x="1781" y="732.86" font-size="23.2" text-anchor="start">Ccr7.2</text>
<rect x="1742.4" y="746.19" width="17" height="13.4" fill="#969696" stroke="#000" stroke-width="1.9"/>
<text x="1781" y="761.19" font-size="23.2" text-anchor="start">Ccr7.3</text>
<rect x="1742.4" y="774.52" width="17" height="13.4" fill="#737373" stroke="#000" stroke-width="1.9"/>
<text x="1781" y="789.52" font-size="23.2" text-anchor="start">Ccr7.4</text>
<rect x="1742.4" y="802.85" width="17" height="13.4" fill="#FEEA6E" stroke="#000" stroke-width="1.9"/>
<text x="1781" y="817.85" font-size="23.2" text-anchor="start">Slamf6</text>
<rect x="1742.4" y="831.18" width="17" height="13.4" fill="#DEEBF7" stroke="#000" stroke-width="1.9"/>
<text x="1781" y="846.18" font-size="23.2" text-anchor="start">Ifit.1</text>
<rect x="1742.4" y="859.51" width="17" height="13.4" fill="#9ECAE1" stroke="#000" stroke-width="1.9"/>
<text x="1781" y="874.51" font-size="23.2" text-anchor="start">Ifit.2</text>
<rect x="1742.4" y="887.84" width="17" height="13.4" fill="#4292C6" stroke="#000" stroke-width="1.9"/>
<text x="1781" y="902.84" font-size="23.2" text-anchor="start">Ifit.3</text>
<rect x="1742.4" y="916.17" width="17" height="13.4" fill="#BCBDDC" stroke="#000" stroke-width="1.9"/>
<text x="1781" y="931.17" font-size="23.2" text-anchor="start">Ccl5.1</text>
<rect x="1743.2" y="945.9" width="17" height="13.4" fill="#807DBA" stroke="#000" stroke-width="1.9"/>
<text x="1781" y="960.9" font-size="23.2" text-anchor="start">Ccl5.2</text>
<rect x="1743.2" y="974.23" width="17" height="13.4" fill="#CB181D" stroke="#000" stroke-width="1.9"/>
<text x="1781" y="989.23" font-size="23.2" text-anchor="start">Cytotox.1</text>
<rect x="1743.2" y="1002.56" width="17" height="13.4" fill="#FB6A4A" stroke="#000" stroke-width="1.9"/>
<text x="1781" y="1017.56" font-size="23.2" text-anchor="start">Cytotox.2</text>
<rect x="1743.2" y="1030.89" width="17" height="13.4" fill="#FDAE6B" stroke="#000" stroke-width="1.9"/>
<text x="1781" y="1045.89" font-size="23.2" text-anchor="start">Cyt/Mit.1</text>
<rect x="1743.2" y="1059.22" width="17" height="13.4" fill="#FDD0A2" stroke="#000" stroke-width="1.9"/>
<text x="1781" y="1074.22" font-size="23.2" text-anchor="start">Cyt/Mit.2</text>
<rect x="1743.2" y="1087.55" width="17" height="13.4" fill="#FEE6CE" stroke="#000" stroke-width="1.9"/>
<text x="1781" y="1102.55" font-size="23.2" text-anchor="start">Cyt/Mit.3</text>
<rect x="1743.2" y="1115.88" width="17" height="13.4" fill="#C7E9C0" stroke="#000" stroke-width="1.9"/>
<text x="1781" y="1130.88" font-size="23.2" text-anchor="start">Mitotic.1</text>
<rect x="1743.2" y="1144.21" width="17" height="13.4" fill="#238B45" stroke="#000" stroke-width="1.9"/>
<text x="1781" y="1159.21" font-size="23.2" text-anchor="start">Mitotic.2</text>
<rect x="1743.2" y="1172.54" width="17" height="13.4" fill="#8C510A" stroke="#000" stroke-width="1.9"/>
<text x="1781" y="1187.54" font-size="23.2" text-anchor="start">Dying.1</text>
<rect x="1743.2" y="1200.87" width="17" height="13.4" fill="#BF812D" stroke="#000" stroke-width="1.9"/>
<text x="1781" y="1215.87" font-size="23.2" text-anchor="start">Dying.2</text>
<path fill="#4292C6" d="M155 1937h7v6h-7zM169 1936h7v7h-7zM176 1941h6v2h-6zM189 1941h7v2h-7zM196 1933h6v10h-6zM202 1936h7v7h-7zM216 1913h7v30h-7zM236 1935h7v8h-7zM249 1925h7v18h-7zM256 1938h7v5h-7zM276 1938h7v5h-7zM283 1938h7v5h-7zM290 1937h6v6h-6zM303 1937h7v6h-7zM317 1926h6v17h-6zM323 1932h7v11h-7zM337 1933h6v10h-6zM343 1919h7v24h-7z"/>
<path fill="#CB181D" d="M155 1932h7v5h-7zM162 1932h7v11h-7zM169 1925h7v11h-7zM176 1933h6v8h-6zM182 1932h7v9h-7zM189 1918h7v23h-7zM196 1918h6v15h-6zM202 1913h7v23h-7zM209 1925h7v18h-7zM216 1714h7v19h-7zM223 1940h6v3h-6zM229 1876h7v67h-7zM236 1907h7v28h-7zM243 1881h6v57h-6zM249 1918h7v7h-7zM256 1931h7v7h-7zM270 1923h6v20h-6zM276 1924h7v14h-7zM283 1923h7v15h-7zM290 1902h6v35h-6zM296 1914h7v29h-7zM310 1923h7v20h-7zM317 1918h6v8h-6zM323 1901h7v31h-7zM330 1933h7v10h-7zM337 1916h6v17h-6zM343 1907h7v12h-7zM350 1887h7v56h-7z"/>
<path fill="#FB6A4A" d="M155 1789h7v143h-7zM162 1872h7v60h-7zM169 1743h7v182h-7zM176 1817h6v116h-6zM182 1854h7v78h-7zM189 1784h7v134h-7zM196 1747h6v171h-6zM202 1775h7v138h-7zM209 1870h7v55h-7zM216 1682h7v32h-7zM223 1854h6v86h-6zM229 1768h7v108h-7zM236 1881h7v26h-7zM243 1817h6v64h-6zM249 1723h7v195h-7zM256 1836h7v95h-7zM263 1844h7v99h-7zM270 1793h6v130h-6zM276 1845h7v79h-7zM283 1710h7v213h-7zM290 1754h6v148h-6zM296 1878h7v36h-7zM303 1725h7v212h-7zM310 1795h7v128h-7zM317 1688h6v230h-6zM323 1717h7v184h-7zM330 1902h7v31h-7zM337 1756h6v160h-6zM343 1671h7v236h-7zM350 1798h7v89h-7z"/>
<path fill="#FDAE6B" d="M155 1719h7v70h-7zM162 1752h7v120h-7zM169 1694h7v49h-7zM176 1742h6v75h-6zM182 1748h7v106h-7zM189 1710h7v74h-7zM196 1708h6v39h-6zM202 1711h7v64h-7zM209 1752h7v118h-7zM216 1676h7v6h-7zM223 1746h6v108h-6zM229 1708h7v60h-7zM236 1746h7v135h-7zM243 1737h6v80h-6zM249 1702h7v21h-7zM256 1704h7v132h-7zM263 1743h7v101h-7zM270 1702h6v91h-6zM276 1745h7v100h-7zM283 1681h7v29h-7zM290 1723h6v31h-6zM296 1725h7v153h-7zM303 1684h7v41h-7zM310 1701h7v94h-7zM317 1680h6v8h-6zM323 1671h7v46h-7zM330 1835h7v67h-7zM337 1727h6v29h-6zM343 1663h7v8h-7zM350 1750h7v48h-7z"/>
<path fill="#FDD0A2" d="M155 1676h7v43h-7zM162 1694h7v58h-7zM169 1654h7v40h-7zM176 1680h6v62h-6zM182 1686h7v62h-7zM189 1661h7v49h-7zM196 1660h6v48h-6zM202 1660h7v51h-7zM209 1687h7v65h-7zM216 1661h7v15h-7zM223 1676h6v70h-6zM229 1664h7v44h-7zM236 1676h7v70h-7zM243 1684h6v53h-6zM249 1651h7v51h-7zM256 1676h7v28h-7zM263 1676h7v67h-7zM270 1673h6v29h-6zM276 1681h7v64h-7zM283 1664h7v17h-7zM290 1666h6v57h-6zM296 1659h7v66h-7zM303 1651h7v33h-7zM310 1668h7v33h-7zM317 1651h6v29h-6zM323 1651h7v20h-7zM330 1697h7v138h-7zM337 1662h6v65h-6zM343 1651h7v12h-7zM350 1692h7v58h-7z"/>
<path fill="#FEE6CE" d="M155 1653h7v23h-7zM162 1651h7v43h-7zM169 1651h7v3h-7zM176 1651h6v29h-6zM182 1657h7v29h-7zM189 1651h7v10h-7zM196 1651h6v9h-6zM202 1651h7v9h-7zM209 1658h7v29h-7zM216 1651h7v10h-7zM223 1651h6v25h-6zM229 1651h7v13h-7zM236 1651h7v25h-7zM243 1651h6v33h-6zM256 1657h7v19h-7zM263 1651h7v25h-7zM270 1651h6v22h-6zM276 1669h7v12h-7zM283 1651h7v13h-7zM290 1651h6v15h-6zM296 1651h7v8h-7zM310 1651h7v17h-7zM330 1663h7v34h-7zM337 1651h6v11h-6zM350 1662h7v30h-7z"/>
<path fill="#8C510A" d="M155 1651h7v2h-7zM182 1651h7v6h-7zM209 1651h7v7h-7zM256 1651h7v6h-7zM276 1651h7v18h-7zM330 1651h7v12h-7zM350 1651h7v11h-7z"/>
<path fill="#BCBDDC" d="M182 1941h7v2h-7zM216 1908h7v5h-7z"/>
<path fill="#807DBA" d="M216 1733h7v175h-7zM243 1938h6v5h-6z"/>
<path fill="#9a8678" fill-opacity="0.75" d="M155 1651.3h202v0.8h-202z"/>
<line x1="147.6" y1="1650.7" x2="147.6" y2="1943.2" stroke="#000" stroke-width="1.3"/>
<line x1="138.3" y1="1942.6" x2="148.2" y2="1942.6" stroke="#000" stroke-width="1.3"/>
<text transform="translate(125.4,1942.6) rotate(-90)" font-size="15" text-anchor="middle">0.0</text>
<line x1="138.3" y1="1884.34" x2="148.2" y2="1884.34" stroke="#000" stroke-width="1.3"/>
<text transform="translate(125.4,1884.34) rotate(-90)" font-size="15" text-anchor="middle">0.2</text>
<line x1="138.3" y1="1826.08" x2="148.2" y2="1826.08" stroke="#000" stroke-width="1.3"/>
<text transform="translate(125.4,1826.08) rotate(-90)" font-size="15" text-anchor="middle">0.4</text>
<line x1="138.3" y1="1767.82" x2="148.2" y2="1767.82" stroke="#000" stroke-width="1.3"/>
<text transform="translate(125.4,1767.82) rotate(-90)" font-size="15" text-anchor="middle">0.6</text>
<line x1="138.3" y1="1709.56" x2="148.2" y2="1709.56" stroke="#000" stroke-width="1.3"/>
<text transform="translate(125.4,1709.56) rotate(-90)" font-size="15" text-anchor="middle">0.8</text>
<line x1="138.3" y1="1651.3" x2="148.2" y2="1651.3" stroke="#000" stroke-width="1.3"/>
<text transform="translate(125.4,1651.3) rotate(-90)" font-size="15" text-anchor="middle">1.0</text>
<path fill="#4292C6" d="M444 1925h7v18h-7zM451 1925h7v18h-7zM458 1925h6v18h-6zM464 1929h7v14h-7zM471 1917h7v26h-7zM478 1923h6v20h-6zM484 1934h7v9h-7zM491 1907h7v36h-7zM498 1929h7v14h-7zM505 1925h6v18h-6zM511 1926h7v17h-7zM518 1928h7v15h-7zM525 1919h6v24h-6zM531 1927h7v16h-7zM538 1932h7v11h-7zM545 1926h7v17h-7zM552 1901h6v42h-6zM558 1918h7v25h-7zM565 1926h7v17h-7zM578 1928h7v15h-7zM585 1922h7v21h-7zM592 1930h7v13h-7zM599 1857h6v86h-6zM605 1909h7v34h-7zM612 1923h7v20h-7zM619 1891h6v52h-6zM625 1908h7v35h-7zM639 1932h7v11h-7z"/>
<path fill="#BCBDDC" d="M444 1923h7v2h-7zM458 1923h6v2h-6zM478 1922h6v1h-6zM505 1920h6v5h-6zM511 1920h7v6h-7zM518 1926h7v2h-7zM531 1923h7v4h-7zM545 1924h7v2h-7zM578 1924h7v4h-7zM592 1922h7v8h-7zM625 1903h7v5h-7z"/>
<path fill="#807DBA" d="M444 1920h7v3h-7zM451 1920h7v5h-7zM464 1924h7v5h-7zM491 1899h7v8h-7zM498 1923h7v6h-7zM505 1901h6v19h-6zM511 1909h7v11h-7zM531 1918h7v5h-7zM552 1898h6v3h-6zM558 1911h7v7h-7zM565 1921h7v5h-7zM578 1912h7v12h-7zM585 1913h7v9h-7zM592 1909h7v13h-7zM599 1657h6v200h-6zM605 1905h7v4h-7zM619 1887h6v4h-6zM625 1899h7v4h-7zM632 1926h7v17h-7zM639 1926h7v6h-7z"/>
<path fill="#CB181D" d="M444 1918h7v2h-7zM451 1877h7v43h-7zM458 1914h6v9h-6zM464 1811h7v113h-7zM471 1868h7v49h-7zM478 1866h6v56h-6zM484 1911h7v23h-7zM491 1868h7v31h-7zM498 1897h7v26h-7zM505 1862h6v39h-6zM511 1876h7v33h-7zM518 1888h7v38h-7zM525 1892h6v27h-6zM531 1899h7v19h-7zM538 1907h7v25h-7zM545 1922h7v2h-7zM552 1856h6v42h-6zM565 1874h7v47h-7zM572 1851h6v92h-6zM578 1897h7v15h-7zM585 1868h7v45h-7zM592 1876h7v33h-7zM605 1876h7v29h-7zM612 1909h7v14h-7zM619 1828h6v59h-6zM625 1869h7v30h-7zM632 1909h7v17h-7zM639 1798h7v128h-7z"/>
<path fill="#FB6A4A" d="M444 1752h7v166h-7zM451 1680h7v197h-7zM458 1743h6v171h-6zM464 1710h7v101h-7zM471 1684h7v184h-7zM478 1675h6v191h-6zM484 1751h7v160h-7zM491 1681h7v187h-7zM498 1711h7v186h-7zM505 1792h6v70h-6zM511 1762h7v114h-7zM518 1723h7v165h-7zM525 1694h6v198h-6zM531 1775h7v124h-7zM538 1734h7v173h-7zM545 1855h7v67h-7zM552 1685h6v171h-6zM558 1819h7v92h-7zM565 1686h7v188h-7zM572 1724h6v127h-6zM578 1676h7v221h-7zM585 1708h7v160h-7zM592 1769h7v107h-7zM605 1678h7v198h-7zM612 1712h7v197h-7zM619 1658h6v170h-6zM625 1781h7v88h-7zM632 1796h7v113h-7zM639 1689h7v109h-7z"/>
<path fill="#FDAE6B" d="M444 1707h7v45h-7zM451 1669h7v11h-7zM458 1690h6v53h-6zM464 1686h7v24h-7zM471 1665h7v19h-7zM478 1664h6v11h-6zM484 1706h7v45h-7zM491 1666h7v15h-7zM498 1686h7v25h-7zM505 1712h6v80h-6zM511 1715h7v47h-7zM518 1675h7v48h-7zM525 1675h6v19h-6zM531 1714h7v61h-7zM538 1678h7v56h-7zM545 1783h7v72h-7zM552 1667h6v18h-6zM558 1730h7v89h-7zM565 1660h7v26h-7zM572 1693h6v31h-6zM578 1665h7v11h-7zM585 1674h7v34h-7zM592 1708h7v61h-7zM605 1667h7v11h-7zM612 1673h7v39h-7zM625 1728h7v53h-7zM632 1719h7v77h-7zM639 1666h7v23h-7z"/>
<path fill="#FDD0A2" d="M444 1668h7v39h-7zM458 1664h6v26h-6zM464 1652h7v34h-7zM471 1653h7v12h-7zM478 1660h6v4h-6zM484 1659h7v47h-7zM491 1657h7v9h-7zM498 1663h7v23h-7zM505 1669h6v43h-6zM511 1657h7v58h-7zM518 1659h7v16h-7zM525 1659h6v16h-6zM531 1671h7v43h-7zM538 1664h7v14h-7zM545 1693h7v90h-7zM552 1660h6v7h-6zM558 1670h7v60h-7zM572 1667h6v26h-6zM578 1659h7v6h-7zM585 1659h7v15h-7zM592 1684h7v24h-7zM605 1663h7v4h-7zM612 1651h7v22h-7zM625 1682h7v46h-7zM632 1669h7v50h-7zM639 1657h7v9h-7z"/>
<path fill="#FEE6CE" d="M444 1654h7v14h-7zM451 1662h7v7h-7zM458 1651h6v13h-6zM471 1651h7v2h-7zM478 1658h6v2h-6zM484 1657h7v2h-7zM498 1658h7v5h-7zM505 1657h6v12h-6zM518 1651h7v8h-7zM525 1651h6v8h-6zM531 1659h7v12h-7zM538 1651h7v13h-7zM545 1651h7v42h-7zM552 1651h6v9h-6zM558 1651h7v19h-7zM572 1659h6v8h-6zM585 1651h7v8h-7zM592 1657h7v27h-7zM605 1651h7v12h-7zM625 1658h7v24h-7zM632 1657h7v12h-7z"/>
<path fill="#8C510A" d="M444 1651h7v3h-7zM451 1651h7v11h-7zM464 1651h7v1h-7zM478 1651h6v7h-6zM484 1651h7v6h-7zM491 1651h7v6h-7zM498 1651h7v7h-7zM511 1651h7v6h-7zM531 1651h7v4h-7zM565 1651h7v9h-7zM572 1651h6v8h-6zM578 1651h7v8h-7zM592 1651h7v6h-7zM619 1651h6v7h-6zM632 1651h7v6h-7zM639 1651h7v6h-7z"/>
<path fill="#BF812D" d="M505 1651h6v6h-6zM599 1651h6v6h-6z"/>
<path fill="#238B45" d="M531 1655h7v4h-7z"/>
<path fill="#C7E9C0" d="M625 1651h7v7h-7z"/>
<path fill="#9a8678" fill-opacity="0.75" d="M444 1651.3h202v0.8h-202z"/>
<line x1="437.8" y1="1650.7" x2="437.8" y2="1943.2" stroke="#000" stroke-width="1.3"/>
<line x1="428.5" y1="1942.6" x2="438.4" y2="1942.6" stroke="#000" stroke-width="1.3"/>
<text transform="translate(415.6,1942.6) rotate(-90)" font-size="15" text-anchor="middle">0.0</text>
<line x1="428.5" y1="1884.34" x2="438.4" y2="1884.34" stroke="#000" stroke-width="1.3"/>
<text transform="translate(415.6,1884.34) rotate(-90)" font-size="15" text-anchor="middle">0.2</text>
<line x1="428.5" y1="1826.08" x2="438.4" y2="1826.08" stroke="#000" stroke-width="1.3"/>
<text transform="translate(415.6,1826.08) rotate(-90)" font-size="15" text-anchor="middle">0.4</text>
<line x1="428.5" y1="1767.82" x2="438.4" y2="1767.82" stroke="#000" stroke-width="1.3"/>
<text transform="translate(415.6,1767.82) rotate(-90)" font-size="15" text-anchor="middle">0.6</text>
<line x1="428.5" y1="1709.56" x2="438.4" y2="1709.56" stroke="#000" stroke-width="1.3"/>
<text transform="translate(415.6,1709.56) rotate(-90)" font-size="15" text-anchor="middle">0.8</text>
<line x1="428.5" y1="1651.3" x2="438.4" y2="1651.3" stroke="#000" stroke-width="1.3"/>
<text transform="translate(415.6,1651.3) rotate(-90)" font-size="15" text-anchor="middle">1.0</text>
<path fill="#4292C6" d="M733 1926h7v17h-7zM746 1921h7v22h-7zM753 1920h7v23h-7zM760 1905h6v38h-6zM766 1923h7v20h-7zM773 1933h7v10h-7zM780 1901h7v42h-7zM787 1918h6v25h-6zM793 1914h7v29h-7zM807 1933h6v10h-6zM813 1919h7v24h-7zM827 1933h7v10h-7zM834 1933h6v10h-6zM840 1925h7v18h-7zM854 1924h6v19h-6zM887 1918h7v11h-7zM894 1902h7v41h-7zM928 1928h6v15h-6z"/>
<path fill="#807DBA" d="M733 1811h7v115h-7zM740 1922h6v21h-6zM746 1761h7v156h-7zM753 1832h7v88h-7zM760 1779h6v126h-6zM766 1831h7v92h-7zM773 1719h7v205h-7zM780 1861h7v40h-7zM787 1864h6v54h-6zM793 1823h7v91h-7zM813 1814h7v105h-7zM820 1933h7v10h-7zM827 1709h7v224h-7zM834 1923h6v10h-6zM840 1798h7v120h-7zM847 1805h7v120h-7zM854 1804h6v120h-6zM881 1706h6v223h-6zM887 1758h7v160h-7zM894 1833h7v69h-7zM901 1925h6v18h-6zM907 1711h7v232h-7zM928 1853h6v75h-6z"/>
<path fill="#CB181D" d="M733 1809h7v2h-7zM740 1901h6v21h-6zM746 1758h7v3h-7zM760 1774h6v5h-6zM766 1811h7v20h-7zM773 1676h7v43h-7zM780 1805h7v56h-7zM787 1789h6v75h-6zM793 1712h7v111h-7zM800 1907h7v36h-7zM813 1807h7v7h-7zM820 1926h7v7h-7zM827 1677h7v32h-7zM834 1864h6v59h-6zM840 1758h7v40h-7zM847 1704h7v101h-7zM854 1793h6v11h-6zM860 1892h7v51h-7zM867 1887h7v56h-7zM874 1909h7v34h-7zM881 1666h6v40h-6zM887 1706h7v52h-7zM894 1735h7v98h-7zM901 1871h6v54h-6zM907 1651h7v60h-7zM914 1914h7v29h-7zM921 1890h7v53h-7zM928 1780h6v73h-6z"/>
<path fill="#FB6A4A" d="M733 1793h7v16h-7zM740 1770h6v131h-6zM746 1747h7v11h-7zM753 1823h7v9h-7zM760 1758h6v16h-6zM766 1784h7v27h-7zM773 1674h7v2h-7zM780 1668h7v137h-7zM787 1692h6v97h-6zM793 1665h7v47h-7zM800 1848h7v59h-7zM807 1896h6v37h-6zM820 1831h7v95h-7zM827 1651h7v26h-7zM834 1844h6v20h-6zM840 1747h7v11h-7zM847 1694h7v10h-7zM854 1782h6v11h-6zM860 1782h7v110h-7zM867 1881h7v6h-7zM874 1728h7v181h-7zM894 1667h7v68h-7zM901 1813h6v58h-6zM914 1868h7v46h-7zM921 1817h7v73h-7z"/>
<path fill="#FDAE6B" d="M733 1747h7v46h-7zM740 1727h6v43h-6zM746 1704h7v43h-7zM753 1782h7v41h-7zM760 1725h6v33h-6zM766 1725h7v59h-7zM780 1664h7v4h-7zM787 1680h6v12h-6zM800 1770h7v78h-7zM807 1728h6v168h-6zM813 1760h7v47h-7zM820 1750h7v81h-7zM834 1754h6v90h-6zM840 1715h7v32h-7zM847 1684h7v10h-7zM854 1749h6v33h-6zM860 1745h7v37h-7zM867 1805h7v76h-7zM874 1691h7v37h-7zM901 1740h6v73h-6zM914 1791h7v77h-7zM921 1762h7v55h-7zM928 1707h6v73h-6z"/>
<path fill="#FDD0A2" d="M733 1673h7v74h-7zM740 1664h6v63h-6zM746 1669h7v35h-7zM753 1671h7v111h-7zM760 1665h6v60h-6zM766 1665h7v60h-7zM773 1672h7v2h-7zM780 1656h7v8h-7zM787 1656h6v24h-6zM800 1692h7v78h-7zM807 1688h6v40h-6zM813 1678h7v82h-7zM820 1669h7v81h-7zM834 1684h6v70h-6zM840 1674h7v41h-7zM847 1664h7v20h-7zM854 1673h6v76h-6zM860 1680h7v65h-7zM867 1703h7v102h-7zM874 1678h7v13h-7zM887 1692h7v14h-7zM901 1651h6v89h-6zM914 1683h7v108h-7zM921 1671h7v91h-7zM928 1671h6v36h-6z"/>
<path fill="#FEE6CE" d="M733 1659h7v14h-7zM740 1651h6v13h-6zM746 1654h7v15h-7zM753 1654h7v17h-7zM760 1651h6v14h-6zM766 1651h7v14h-7zM787 1651h6v5h-6zM793 1651h7v14h-7zM800 1659h7v33h-7zM807 1651h6v37h-6zM813 1667h7v11h-7zM820 1651h7v18h-7zM834 1651h6v33h-6zM860 1664h7v16h-7zM867 1651h7v52h-7zM874 1665h7v13h-7zM881 1651h6v15h-6zM887 1665h7v27h-7zM914 1651h7v32h-7zM921 1651h7v20h-7zM928 1651h6v20h-6z"/>
<path fill="#238B45" d="M733 1651h7v8h-7zM746 1651h7v3h-7zM753 1651h7v3h-7zM773 1664h7v8h-7zM813 1659h7v8h-7zM840 1664h7v10h-7zM854 1651h6v22h-6z"/>
<path fill="#BCBDDC" d="M746 1917h7v4h-7zM773 1924h7v9h-7zM840 1918h7v7h-7zM847 1925h7v18h-7z"/>
<path fill="#8C510A" d="M773 1651h7v13h-7zM780 1651h7v5h-7zM800 1651h7v8h-7zM813 1651h7v8h-7zM840 1651h7v13h-7zM847 1651h7v13h-7zM860 1651h7v13h-7zM874 1651h7v14h-7zM894 1651h7v16h-7z"/>
<path fill="#FEEA6E" d="M881 1929h6v14h-6zM887 1929h7v14h-7z"/>
<path fill="#C7E9C0" d="M887 1651h7v14h-7z"/>
<path fill="#9a8678" fill-opacity="0.75" d="M733 1651.3h201v0.8h-201z"/>
<line x1="725.1" y1="1650.7" x2="725.1" y2="1943.2" stroke="#000" stroke-width="1.3"/>
<line x1="715.8" y1="1942.6" x2="725.7" y2="1942.6" stroke="#000" stroke-width="1.3"/>
<text transform="translate(702.9,1942.6) rotate(-90)" font-size="15" text-anchor="middle">0.0</text>
<line x1="715.8" y1="1884.34" x2="725.7" y2="1884.34" stroke="#000" stroke-width="1.3"/>
<text transform="translate(702.9,1884.34) rotate(-90)" font-size="15" text-anchor="middle">0.2</text>
<line x1="715.8" y1="1826.08" x2="725.7" y2="1826.08" stroke="#000" stroke-width="1.3"/>
<text transform="translate(702.9,1826.08) rotate(-90)" font-size="15" text-anchor="middle">0.4</text>
<line x1="715.8" y1="1767.82" x2="725.7" y2="1767.82" stroke="#000" stroke-width="1.3"/>
<text transform="translate(702.9,1767.82) rotate(-90)" font-size="15" text-anchor="middle">0.6</text>
<line x1="715.8" y1="1709.56" x2="725.7" y2="1709.56" stroke="#000" stroke-width="1.3"/>
<text transform="translate(702.9,1709.56) rotate(-90)" font-size="15" text-anchor="middle">0.8</text>
<line x1="715.8" y1="1651.3" x2="725.7" y2="1651.3" stroke="#000" stroke-width="1.3"/>
<text transform="translate(702.9,1651.3) rotate(-90)" font-size="15" text-anchor="middle">1.0</text>
<path fill="#4292C6" d="M1022 1911h7v32h-7zM1042 1918h7v25h-7zM1049 1920h7v23h-7zM1056 1903h6v40h-6zM1069 1916h7v27h-7zM1076 1909h7v34h-7zM1083 1907h6v36h-6zM1089 1887h7v56h-7zM1103 1923h6v20h-6zM1116 1875h7v68h-7zM1130 1932h6v11h-6zM1136 1923h7v20h-7zM1143 1923h7v20h-7zM1150 1864h6v79h-6zM1163 1891h7v52h-7zM1170 1867h7v68h-7zM1177 1923h6v20h-6zM1183 1922h7v21h-7zM1190 1854h7v89h-7zM1197 1881h6v53h-6zM1203 1881h7v62h-7zM1210 1896h7v47h-7z"/>
<path fill="#807DBA" d="M1022 1745h7v166h-7zM1029 1921h7v22h-7zM1036 1927h6v13h-6zM1042 1761h7v156h-7zM1049 1724h7v196h-7zM1056 1768h6v86h-6zM1062 1892h7v49h-7zM1069 1703h7v211h-7zM1076 1738h7v169h-7zM1083 1735h6v98h-6zM1089 1742h7v81h-7zM1096 1845h7v93h-7zM1103 1797h6v126h-6zM1109 1862h7v81h-7zM1116 1701h7v107h-7zM1123 1825h7v113h-7zM1130 1752h6v180h-6zM1136 1907h7v16h-7zM1143 1891h7v32h-7zM1150 1723h6v70h-6zM1156 1939h7v4h-7zM1163 1717h7v126h-7zM1170 1717h7v117h-7zM1177 1724h6v199h-6zM1183 1882h7v40h-7zM1190 1719h7v106h-7zM1197 1704h6v68h-6zM1203 1723h7v158h-7zM1210 1723h7v127h-7zM1217 1862h7v81h-7z"/>
<path fill="#CB181D" d="M1022 1675h7v70h-7zM1029 1870h7v51h-7zM1036 1890h6v37h-6zM1042 1674h7v87h-7zM1049 1671h7v53h-7zM1056 1687h6v81h-6zM1062 1811h7v81h-7zM1069 1674h7v29h-7zM1076 1725h7v13h-7zM1083 1680h6v55h-6zM1089 1674h7v68h-7zM1096 1760h7v85h-7zM1103 1706h6v91h-6zM1109 1843h7v19h-7zM1116 1658h7v43h-7zM1123 1680h7v145h-7zM1130 1710h6v42h-6zM1136 1901h7v6h-7zM1143 1862h7v29h-7zM1150 1674h6v49h-6zM1156 1934h7v5h-7zM1163 1691h7v26h-7zM1170 1686h7v31h-7zM1177 1681h6v43h-6zM1183 1840h7v42h-7zM1190 1675h7v44h-7zM1197 1668h6v36h-6zM1203 1716h7v7h-7zM1210 1708h7v15h-7zM1217 1811h7v51h-7z"/>
<path fill="#FB6A4A" d="M1022 1662h7v13h-7zM1029 1699h7v171h-7zM1036 1709h6v181h-6zM1042 1663h7v11h-7zM1049 1665h7v6h-7zM1056 1660h6v27h-6zM1062 1762h7v49h-7zM1069 1667h7v7h-7zM1076 1706h7v19h-7zM1083 1671h6v9h-6zM1089 1655h7v19h-7zM1096 1723h7v37h-7zM1103 1690h6v16h-6zM1109 1702h7v141h-7zM1116 1651h7v7h-7zM1123 1677h7v3h-7zM1130 1668h6v42h-6zM1136 1801h7v100h-7zM1143 1750h7v112h-7zM1150 1651h6v23h-6zM1156 1807h7v127h-7zM1163 1659h7v32h-7zM1170 1674h7v12h-7zM1177 1673h6v8h-6zM1183 1727h7v113h-7zM1190 1661h7v14h-7zM1197 1651h6v17h-6zM1203 1659h7v57h-7zM1210 1677h7v31h-7zM1217 1686h7v125h-7z"/>
<path fill="#FDD0A2" d="M1022 1655h7v7h-7zM1029 1656h7v22h-7zM1036 1655h6v29h-6zM1042 1651h7v7h-7zM1056 1656h6v4h-6zM1062 1659h7v41h-7zM1069 1656h7v7h-7zM1076 1669h7v19h-7zM1096 1661h7v21h-7zM1103 1674h6v10h-6zM1130 1658h6v5h-6zM1143 1674h7v17h-7zM1156 1666h7v46h-7zM1183 1656h7v18h-7zM1210 1670h7v7h-7zM1217 1669h7v9h-7z"/>
<path fill="#8C510A" d="M1022 1651h7v4h-7zM1029 1651h7v5h-7zM1036 1651h6v4h-6zM1049 1651h7v11h-7zM1056 1651h6v3h-6zM1062 1651h7v8h-7zM1069 1651h7v4h-7zM1076 1651h7v4h-7zM1089 1651h7v4h-7zM1103 1651h6v18h-6zM1123 1651h7v26h-7zM1170 1651h7v14h-7zM1177 1651h6v10h-6zM1217 1651h7v18h-7z"/>
<path fill="#FDAE6B" d="M1029 1678h7v21h-7zM1036 1684h6v25h-6zM1042 1658h7v5h-7zM1049 1662h7v3h-7zM1062 1700h7v62h-7zM1069 1663h7v4h-7zM1076 1688h7v18h-7zM1083 1663h6v8h-6zM1096 1682h7v41h-7zM1103 1684h6v6h-6zM1109 1667h7v35h-7zM1130 1663h6v5h-6zM1136 1726h7v75h-7zM1143 1691h7v59h-7zM1156 1712h7v95h-7zM1163 1651h7v8h-7zM1177 1661h6v12h-6zM1183 1674h7v53h-7zM1190 1651h7v10h-7zM1217 1678h7v8h-7z"/>
<path fill="#BCBDDC" d="M1036 1940h6v3h-6zM1042 1917h7v1h-7zM1056 1854h6v49h-6zM1062 1941h7v2h-7zM1069 1914h7v2h-7zM1076 1907h7v2h-7zM1083 1833h6v74h-6zM1089 1823h7v64h-7zM1096 1938h7v5h-7zM1116 1808h7v67h-7zM1123 1938h7v5h-7zM1150 1793h6v71h-6zM1163 1843h7v48h-7zM1170 1834h7v33h-7zM1190 1825h7v29h-7zM1197 1772h6v109h-6zM1210 1850h7v46h-7z"/>
<path fill="#238B45" d="M1056 1654h6v2h-6zM1069 1655h7v1h-7zM1083 1651h6v8h-6zM1210 1651h7v19h-7z"/>
<path fill="#FEE6CE" d="M1076 1655h7v14h-7zM1096 1651h7v10h-7zM1109 1651h7v16h-7zM1130 1651h6v7h-6zM1136 1651h7v75h-7zM1143 1651h7v23h-7zM1156 1651h7v15h-7zM1183 1651h7v5h-7zM1203 1651h7v8h-7z"/>
<path fill="#C7E9C0" d="M1083 1659h6v4h-6zM1103 1669h6v5h-6zM1170 1665h7v9h-7z"/>
<path fill="#FEEA6E" d="M1170 1935h7v8h-7zM1197 1934h6v9h-6z"/>
<path fill="#9a8678" fill-opacity="0.75" d="M1022 1651.3h202v0.8h-202z"/>
<line x1="1014.9" y1="1650.7" x2="1014.9" y2="1943.2" stroke="#000" stroke-width="1.3"/>
<line x1="1005.6" y1="1942.6" x2="1015.5" y2="1942.6" stroke="#000" stroke-width="1.3"/>
<text transform="translate(992.7,1942.6) rotate(-90)" font-size="15" text-anchor="middle">0.0</text>
<line x1="1005.6" y1="1884.34" x2="1015.5" y2="1884.34" stroke="#000" stroke-width="1.3"/>
<text transform="translate(992.7,1884.34) rotate(-90)" font-size="15" text-anchor="middle">0.2</text>
<line x1="1005.6" y1="1826.08" x2="1015.5" y2="1826.08" stroke="#000" stroke-width="1.3"/>
<text transform="translate(992.7,1826.08) rotate(-90)" font-size="15" text-anchor="middle">0.4</text>
<line x1="1005.6" y1="1767.82" x2="1015.5" y2="1767.82" stroke="#000" stroke-width="1.3"/>
<text transform="translate(992.7,1767.82) rotate(-90)" font-size="15" text-anchor="middle">0.6</text>
<line x1="1005.6" y1="1709.56" x2="1015.5" y2="1709.56" stroke="#000" stroke-width="1.3"/>
<text transform="translate(992.7,1709.56) rotate(-90)" font-size="15" text-anchor="middle">0.8</text>
<line x1="1005.6" y1="1651.3" x2="1015.5" y2="1651.3" stroke="#000" stroke-width="1.3"/>
<text transform="translate(992.7,1651.3) rotate(-90)" font-size="15" text-anchor="middle">1.0</text>
<path fill="#4292C6" d="M1311 1926h7v17h-7zM1318 1935h7v8h-7zM1325 1938h6v5h-6zM1331 1905h7v38h-7zM1338 1921h7v22h-7zM1345 1912h7v31h-7zM1352 1925h6v18h-6zM1358 1934h7v9h-7zM1365 1900h7v43h-7zM1372 1911h6v32h-6zM1378 1902h7v41h-7zM1385 1925h7v18h-7zM1392 1925h7v18h-7zM1399 1913h6v30h-6zM1405 1913h7v30h-7zM1412 1937h7v6h-7zM1419 1928h6v9h-6zM1425 1924h7v19h-7zM1432 1924h7v19h-7zM1439 1936h7v7h-7zM1446 1929h6v14h-6zM1452 1929h7v14h-7zM1459 1929h7v14h-7zM1466 1922h6v18h-6zM1472 1922h7v21h-7zM1479 1887h7v56h-7zM1486 1893h7v50h-7zM1493 1905h6v38h-6z"/>
<path fill="#BCBDDC" d="M1311 1924h7v2h-7zM1318 1929h7v6h-7zM1325 1929h6v9h-6zM1338 1918h7v3h-7zM1345 1906h7v6h-7zM1352 1918h6v7h-6zM1358 1925h7v9h-7zM1365 1897h7v3h-7zM1372 1899h6v12h-6zM1378 1897h7v5h-7zM1385 1921h7v4h-7zM1392 1899h7v26h-7zM1412 1927h7v10h-7zM1419 1937h6v6h-6zM1432 1922h7v2h-7zM1446 1921h6v8h-6zM1459 1918h7v11h-7zM1466 1940h6v3h-6zM1479 1876h7v11h-7zM1486 1884h7v9h-7z"/>
<path fill="#807DBA" d="M1311 1908h7v16h-7zM1318 1883h7v46h-7zM1325 1885h6v44h-6zM1331 1711h7v194h-7zM1338 1913h7v5h-7zM1345 1854h7v52h-7zM1352 1888h6v30h-6zM1358 1912h7v13h-7zM1365 1747h7v150h-7zM1372 1810h6v89h-6zM1378 1710h7v187h-7zM1392 1809h7v90h-7zM1399 1868h6v45h-6zM1405 1890h7v23h-7zM1412 1892h7v35h-7zM1425 1884h7v40h-7zM1446 1880h6v41h-6zM1452 1918h7v11h-7zM1459 1814h7v104h-7zM1466 1855h6v67h-6zM1472 1898h7v24h-7zM1479 1738h7v138h-7zM1486 1710h7v174h-7zM1493 1897h6v8h-6zM1499 1932h7v11h-7zM1506 1936h7v7h-7z"/>
<path fill="#CB181D" d="M1311 1860h7v48h-7zM1318 1749h7v134h-7zM1325 1838h6v47h-6zM1331 1709h7v2h-7zM1338 1890h7v23h-7zM1345 1818h7v36h-7zM1352 1809h6v79h-6zM1358 1852h7v60h-7zM1365 1744h7v3h-7zM1372 1740h6v70h-6zM1378 1708h7v2h-7zM1385 1847h7v74h-7zM1392 1697h7v112h-7zM1399 1793h6v75h-6zM1405 1787h7v103h-7zM1412 1816h7v76h-7zM1419 1814h6v114h-6zM1425 1880h7v4h-7zM1432 1896h7v26h-7zM1439 1900h7v36h-7zM1446 1817h6v63h-6zM1452 1772h7v146h-7zM1459 1768h7v46h-7zM1466 1836h6v19h-6zM1472 1871h7v27h-7zM1479 1731h7v7h-7zM1486 1705h7v5h-7zM1493 1836h6v61h-6zM1499 1914h7v18h-7zM1506 1809h7v127h-7z"/>
<path fill="#FB6A4A" d="M1311 1717h7v143h-7zM1318 1710h7v39h-7zM1325 1772h6v66h-6zM1331 1698h7v11h-7zM1338 1726h7v164h-7zM1345 1680h7v138h-7zM1352 1710h6v99h-6zM1358 1777h7v75h-7zM1365 1714h7v30h-7zM1372 1698h6v42h-6zM1378 1704h7v4h-7zM1385 1772h7v75h-7zM1392 1680h7v17h-7zM1399 1730h6v63h-6zM1405 1723h7v64h-7zM1412 1715h7v101h-7zM1419 1768h6v46h-6zM1425 1785h7v95h-7zM1432 1782h7v114h-7zM1439 1782h7v118h-7zM1446 1727h6v90h-6zM1452 1700h7v72h-7zM1459 1715h7v53h-7zM1466 1779h6v57h-6zM1472 1740h7v131h-7zM1479 1721h7v10h-7zM1486 1696h7v9h-7zM1493 1748h6v88h-6zM1499 1785h7v129h-7zM1506 1748h7v61h-7z"/>
<path fill="#FDAE6B" d="M1311 1688h7v29h-7zM1318 1684h7v26h-7zM1325 1710h6v62h-6zM1331 1682h7v16h-7zM1338 1696h7v30h-7zM1345 1666h7v14h-7zM1352 1696h6v14h-6zM1358 1725h7v52h-7zM1365 1680h7v34h-7zM1372 1675h6v23h-6zM1378 1669h7v35h-7zM1385 1704h7v68h-7zM1399 1698h6v32h-6zM1405 1686h7v37h-7zM1412 1694h7v21h-7zM1419 1715h6v53h-6zM1425 1698h7v87h-7zM1432 1699h7v83h-7zM1439 1717h7v65h-7zM1446 1678h6v49h-6zM1452 1680h7v20h-7zM1459 1692h7v23h-7zM1466 1692h6v87h-6zM1472 1680h7v60h-7zM1479 1683h7v38h-7zM1486 1689h7v7h-7zM1493 1718h6v30h-6zM1499 1707h7v78h-7zM1506 1695h7v53h-7z"/>
<path fill="#FDD0A2" d="M1311 1661h7v27h-7zM1318 1661h7v23h-7zM1325 1680h6v30h-6zM1331 1660h7v22h-7zM1338 1657h7v39h-7zM1352 1669h6v27h-6zM1358 1673h7v52h-7zM1365 1666h7v14h-7zM1372 1661h6v14h-6zM1378 1659h7v10h-7zM1385 1669h7v35h-7zM1392 1673h7v7h-7zM1399 1669h6v29h-6zM1405 1672h7v14h-7zM1412 1672h7v22h-7zM1419 1666h6v49h-6zM1425 1663h7v35h-7zM1432 1669h7v30h-7zM1439 1669h7v48h-7zM1446 1663h6v15h-6zM1452 1663h7v17h-7zM1459 1663h7v29h-7zM1472 1663h7v17h-7zM1479 1679h7v4h-7zM1486 1661h7v28h-7zM1493 1669h6v49h-6zM1499 1669h7v38h-7zM1506 1660h7v35h-7z"/>
<path fill="#FEE6CE" d="M1311 1655h7v6h-7zM1318 1655h7v6h-7zM1325 1657h6v23h-6zM1331 1654h7v6h-7zM1345 1656h7v10h-7zM1352 1656h6v13h-6zM1358 1660h7v13h-7zM1365 1662h7v4h-7zM1385 1651h7v18h-7zM1392 1669h7v4h-7zM1399 1654h6v15h-6zM1405 1651h7v21h-7zM1412 1655h7v17h-7zM1419 1660h6v6h-6zM1425 1654h7v9h-7zM1432 1658h7v11h-7zM1439 1656h7v13h-7zM1446 1651h6v12h-6zM1452 1656h7v7h-7zM1459 1655h7v8h-7zM1466 1675h6v17h-6zM1472 1654h7v9h-7zM1486 1657h7v4h-7zM1493 1656h6v13h-6zM1499 1656h7v13h-7zM1506 1651h7v9h-7z"/>
<path fill="#8C510A" d="M1311 1651h7v4h-7zM1318 1651h7v4h-7zM1325 1651h6v6h-6zM1331 1651h7v1h-7zM1338 1651h7v6h-7zM1345 1651h7v5h-7zM1352 1651h6v5h-6zM1358 1651h7v7h-7zM1365 1651h7v8h-7zM1372 1651h6v5h-6zM1378 1651h7v8h-7zM1392 1659h7v10h-7zM1399 1651h6v3h-6zM1412 1651h7v4h-7zM1419 1651h6v9h-6zM1425 1651h7v3h-7zM1432 1651h7v7h-7zM1439 1651h7v5h-7zM1452 1651h7v5h-7zM1459 1651h7v4h-7zM1466 1651h6v16h-6zM1472 1651h7v3h-7zM1479 1656h7v23h-7zM1486 1651h7v6h-7zM1493 1651h6v5h-6zM1499 1651h7v5h-7z"/>
<path fill="#238B45" d="M1331 1652h7v2h-7zM1358 1658h7v2h-7zM1365 1659h7v3h-7zM1466 1667h6v8h-6z"/>
<path fill="#C7E9C0" d="M1372 1656h6v5h-6z"/>
<path fill="#BF812D" d="M1392 1651h7v8h-7zM1479 1651h7v5h-7z"/>
<path fill="#9a8678" fill-opacity="0.75" d="M1311 1651.3h202v0.8h-202z"/>
<line x1="1303.9" y1="1650.7" x2="1303.9" y2="1943.2" stroke="#000" stroke-width="1.3"/>
<line x1="1294.6" y1="1942.6" x2="1304.5" y2="1942.6" stroke="#000" stroke-width="1.3"/>
<text transform="translate(1281.7,1942.6) rotate(-90)" font-size="15" text-anchor="middle">0.0</text>
<line x1="1294.6" y1="1884.34" x2="1304.5" y2="1884.34" stroke="#000" stroke-width="1.3"/>
<text transform="translate(1281.7,1884.34) rotate(-90)" font-size="15" text-anchor="middle">0.2</text>
<line x1="1294.6" y1="1826.08" x2="1304.5" y2="1826.08" stroke="#000" stroke-width="1.3"/>
<text transform="translate(1281.7,1826.08) rotate(-90)" font-size="15" text-anchor="middle">0.4</text>
<line x1="1294.6" y1="1767.82" x2="1304.5" y2="1767.82" stroke="#000" stroke-width="1.3"/>
<text transform="translate(1281.7,1767.82) rotate(-90)" font-size="15" text-anchor="middle">0.6</text>
<line x1="1294.6" y1="1709.56" x2="1304.5" y2="1709.56" stroke="#000" stroke-width="1.3"/>
<text transform="translate(1281.7,1709.56) rotate(-90)" font-size="15" text-anchor="middle">0.8</text>
<line x1="1294.6" y1="1651.3" x2="1304.5" y2="1651.3" stroke="#000" stroke-width="1.3"/>
<text transform="translate(1281.7,1651.3) rotate(-90)" font-size="15" text-anchor="middle">1.0</text>
<path fill="#4292C6" d="M155 2275h7v37h-7z"/>
<path fill="#BCBDDC" d="M155 2092h7v183h-7zM162 2018h7v294h-7zM169 2018h7v147h-7zM176 2165h6v147h-6zM182 2018h7v294h-7zM189 2018h7v294h-7zM196 2018h6v294h-6zM202 2018h7v294h-7zM216 2018h7v294h-7zM223 2018h6v294h-6zM243 2018h6v294h-6zM249 2018h7v294h-7zM256 2018h7v294h-7zM270 2018h6v294h-6zM276 2018h7v294h-7zM283 2018h7v294h-7zM290 2018h6v294h-6z"/>
<path fill="#FDD0A2" d="M155 2055h7v37h-7zM343 2018h7v294h-7z"/>
<path fill="#C7E9C0" d="M155 2018h7v37h-7zM209 2018h7v294h-7zM323 2018h7v294h-7z"/>
<path fill="#FEEA6E" d="M169 2165h7v147h-7zM263 2018h7v294h-7zM296 2018h7v294h-7zM303 2018h7v294h-7z"/>
<path fill="#807DBA" d="M176 2018h6v147h-6zM310 2018h7v294h-7z"/>
<path fill="#9ECAE1" d="M229 2018h7v294h-7z"/>
<path fill="#BDBDBD" d="M236 2018h7v294h-7z"/>
<path fill="#8C510A" d="M317 2018h6v294h-6z"/>
<path fill="#238B45" d="M330 2018h7v294h-7zM350 2018h7v294h-7z"/>
<path fill="#BF812D" d="M337 2018h6v294h-6z"/>
<path fill="#9a8678" fill-opacity="0.75" d="M155 2018.1h202v0.8h-202z"/>
<line x1="147.6" y1="2017.5" x2="147.6" y2="2312.5" stroke="#000" stroke-width="1.3"/>
<line x1="138.3" y1="2311.9" x2="148.2" y2="2311.9" stroke="#000" stroke-width="1.3"/>
<text transform="translate(125.4,2311.9) rotate(-90)" font-size="15" text-anchor="middle">0.0</text>
<line x1="138.3" y1="2253.14" x2="148.2" y2="2253.14" stroke="#000" stroke-width="1.3"/>
<text transform="translate(125.4,2253.14) rotate(-90)" font-size="15" text-anchor="middle">0.2</text>
<line x1="138.3" y1="2194.38" x2="148.2" y2="2194.38" stroke="#000" stroke-width="1.3"/>
<text transform="translate(125.4,2194.38) rotate(-90)" font-size="15" text-anchor="middle">0.4</text>
<line x1="138.3" y1="2135.62" x2="148.2" y2="2135.62" stroke="#000" stroke-width="1.3"/>
<text transform="translate(125.4,2135.62) rotate(-90)" font-size="15" text-anchor="middle">0.6</text>
<line x1="138.3" y1="2076.86" x2="148.2" y2="2076.86" stroke="#000" stroke-width="1.3"/>
<text transform="translate(125.4,2076.86) rotate(-90)" font-size="15" text-anchor="middle">0.8</text>
<line x1="138.3" y1="2018.1" x2="148.2" y2="2018.1" stroke="#000" stroke-width="1.3"/>
<text transform="translate(125.4,2018.1) rotate(-90)" font-size="15" text-anchor="middle">1.0</text>
<path fill="#4292C6" d="M444 2270h7v42h-7z"/>
<path fill="#BCBDDC" d="M444 2018h7v252h-7zM451 2018h7v294h-7zM458 2018h6v294h-6zM464 2018h7v294h-7zM471 2018h7v294h-7zM478 2018h6v294h-6zM484 2018h7v147h-7zM491 2165h7v147h-7zM498 2165h7v147h-7zM505 2018h6v294h-6zM511 2018h7v294h-7zM518 2018h7v294h-7zM525 2018h6v294h-6zM531 2018h7v294h-7zM538 2018h7v294h-7zM552 2018h6v294h-6zM558 2018h7v294h-7zM565 2018h7v294h-7zM578 2018h7v294h-7zM585 2018h7v294h-7zM592 2018h7v294h-7zM599 2018h6v294h-6zM605 2018h7v294h-7zM612 2018h7v294h-7zM619 2018h6v294h-6zM632 2018h7v294h-7zM639 2018h7v294h-7z"/>
<path fill="#FEEA6E" d="M484 2165h7v147h-7z"/>
<path fill="#C7E9C0" d="M491 2018h7v147h-7z"/>
<path fill="#238B45" d="M498 2018h7v147h-7zM572 2018h6v294h-6z"/>
<path fill="#807DBA" d="M545 2018h7v294h-7zM625 2018h7v294h-7z"/>
<path fill="#9a8678" fill-opacity="0.75" d="M444 2018.1h202v0.8h-202z"/>
<line x1="437.8" y1="2017.5" x2="437.8" y2="2312.5" stroke="#000" stroke-width="1.3"/>
<line x1="428.5" y1="2311.9" x2="438.4" y2="2311.9" stroke="#000" stroke-width="1.3"/>
<text transform="translate(415.6,2311.9) rotate(-90)" font-size="15" text-anchor="middle">0.0</text>
<line x1="428.5" y1="2253.14" x2="438.4" y2="2253.14" stroke="#000" stroke-width="1.3"/>
<text transform="translate(415.6,2253.14) rotate(-90)" font-size="15" text-anchor="middle">0.2</text>
<line x1="428.5" y1="2194.38" x2="438.4" y2="2194.38" stroke="#000" stroke-width="1.3"/>
<text transform="translate(415.6,2194.38) rotate(-90)" font-size="15" text-anchor="middle">0.4</text>
<line x1="428.5" y1="2135.62" x2="438.4" y2="2135.62" stroke="#000" stroke-width="1.3"/>
<text transform="translate(415.6,2135.62) rotate(-90)" font-size="15" text-anchor="middle">0.6</text>
<line x1="428.5" y1="2076.86" x2="438.4" y2="2076.86" stroke="#000" stroke-width="1.3"/>
<text transform="translate(415.6,2076.86) rotate(-90)" font-size="15" text-anchor="middle">0.8</text>
<line x1="428.5" y1="2018.1" x2="438.4" y2="2018.1" stroke="#000" stroke-width="1.3"/>
<text transform="translate(415.6,2018.1) rotate(-90)" font-size="15" text-anchor="middle">1.0</text>
<path fill="#FEEA6E" d="M733 2292h7v20h-7z"/>
<path fill="#BCBDDC" d="M733 2038h7v254h-7zM740 2018h6v265h-6zM746 2018h7v294h-7zM753 2092h7v146h-7zM760 2092h6v220h-6zM766 2116h7v196h-7zM773 2018h7v294h-7zM780 2018h7v294h-7zM787 2018h6v294h-6zM793 2116h7v196h-7zM800 2018h7v294h-7zM807 2018h6v294h-6zM813 2018h7v294h-7zM820 2018h7v294h-7zM827 2165h7v147h-7zM834 2018h6v294h-6zM840 2018h7v294h-7zM847 2165h7v147h-7zM854 2018h6v294h-6zM860 2018h7v294h-7zM867 2018h7v294h-7zM874 2165h7v147h-7zM881 2018h6v294h-6zM887 2018h7v294h-7zM894 2018h7v147h-7zM901 2018h6v294h-6zM907 2018h7v294h-7zM914 2018h7v294h-7zM921 2018h7v294h-7zM928 2018h6v294h-6z"/>
<path fill="#238B45" d="M733 2018h7v20h-7zM753 2018h7v74h-7z"/>
<path fill="#4292C6" d="M740 2283h6v29h-6zM753 2238h7v74h-7zM894 2165h7v147h-7z"/>
<path fill="#807DBA" d="M760 2018h6v74h-6z"/>
<path fill="#CB181D" d="M766 2018h7v98h-7z"/>
<path fill="#C7E9C0" d="M793 2018h7v98h-7z"/>
<path fill="#FDD0A2" d="M827 2018h7v147h-7zM847 2018h7v147h-7z"/>
<path fill="#BF812D" d="M874 2018h7v147h-7z"/>
<path fill="#9a8678" fill-opacity="0.75" d="M733 2018.1h201v0.8h-201z"/>
<line x1="725.1" y1="2017.5" x2="725.1" y2="2312.5" stroke="#000" stroke-width="1.3"/>
<line x1="715.8" y1="2311.9" x2="725.7" y2="2311.9" stroke="#000" stroke-width="1.3"/>
<text transform="translate(702.9,2311.9) rotate(-90)" font-size="15" text-anchor="middle">0.0</text>
<line x1="715.8" y1="2253.14" x2="725.7" y2="2253.14" stroke="#000" stroke-width="1.3"/>
<text transform="translate(702.9,2253.14) rotate(-90)" font-size="15" text-anchor="middle">0.2</text>
<line x1="715.8" y1="2194.38" x2="725.7" y2="2194.38" stroke="#000" stroke-width="1.3"/>
<text transform="translate(702.9,2194.38) rotate(-90)" font-size="15" text-anchor="middle">0.4</text>
<line x1="715.8" y1="2135.62" x2="725.7" y2="2135.62" stroke="#000" stroke-width="1.3"/>
<text transform="translate(702.9,2135.62) rotate(-90)" font-size="15" text-anchor="middle">0.6</text>
<line x1="715.8" y1="2076.86" x2="725.7" y2="2076.86" stroke="#000" stroke-width="1.3"/>
<text transform="translate(702.9,2076.86) rotate(-90)" font-size="15" text-anchor="middle">0.8</text>
<line x1="715.8" y1="2018.1" x2="725.7" y2="2018.1" stroke="#000" stroke-width="1.3"/>
<text transform="translate(702.9,2018.1) rotate(-90)" font-size="15" text-anchor="middle">1.0</text>
<path fill="#4292C6" d="M1022 2308h7v4h-7zM1029 2303h7v9h-7zM1143 2165h7v147h-7z"/>
<path fill="#BCBDDC" d="M1022 2026h7v282h-7zM1029 2035h7v268h-7zM1036 2047h6v265h-6zM1042 2092h7v220h-7zM1049 2116h7v196h-7zM1056 2018h6v294h-6zM1062 2018h7v294h-7zM1069 2018h7v294h-7zM1076 2018h7v294h-7zM1083 2018h6v294h-6zM1089 2018h7v294h-7zM1096 2018h7v294h-7zM1103 2165h6v147h-6zM1116 2018h7v294h-7zM1123 2165h7v147h-7zM1130 2018h6v294h-6zM1136 2165h7v147h-7zM1143 2018h7v147h-7zM1150 2018h6v294h-6zM1156 2018h7v294h-7zM1163 2018h7v294h-7zM1177 2018h6v294h-6zM1183 2018h7v294h-7zM1197 2018h6v294h-6zM1203 2018h7v294h-7zM1210 2018h7v294h-7zM1217 2018h7v294h-7z"/>
<path fill="#807DBA" d="M1022 2022h7v4h-7zM1170 2018h7v294h-7zM1190 2018h7v294h-7z"/>
<path fill="#FDD0A2" d="M1022 2018h7v4h-7zM1029 2018h7v17h-7zM1042 2055h7v37h-7z"/>
<path fill="#238B45" d="M1036 2018h6v29h-6zM1042 2018h7v37h-7z"/>
<path fill="#FEE6CE" d="M1049 2018h7v98h-7z"/>
<path fill="#C7E9C0" d="M1103 2018h6v147h-6zM1123 2018h7v147h-7z"/>
<path fill="#FEEA6E" d="M1109 2018h7v294h-7z"/>
<path fill="#BF812D" d="M1136 2018h7v147h-7z"/>
<path fill="#9a8678" fill-opacity="0.75" d="M1022 2018.1h202v0.8h-202z"/>
<line x1="1014.9" y1="2017.5" x2="1014.9" y2="2312.5" stroke="#000" stroke-width="1.3"/>
<line x1="1005.6" y1="2311.9" x2="1015.5" y2="2311.9" stroke="#000" stroke-width="1.3"/>
<text transform="translate(992.7,2311.9) rotate(-90)" font-size="15" text-anchor="middle">0.0</text>
<line x1="1005.6" y1="2253.14" x2="1015.5" y2="2253.14" stroke="#000" stroke-width="1.3"/>
<text transform="translate(992.7,2253.14) rotate(-90)" font-size="15" text-anchor="middle">0.2</text>
<line x1="1005.6" y1="2194.38" x2="1015.5" y2="2194.38" stroke="#000" stroke-width="1.3"/>
<text transform="translate(992.7,2194.38) rotate(-90)" font-size="15" text-anchor="middle">0.4</text>
<line x1="1005.6" y1="2135.62" x2="1015.5" y2="2135.62" stroke="#000" stroke-width="1.3"/>
<text transform="translate(992.7,2135.62) rotate(-90)" font-size="15" text-anchor="middle">0.6</text>
<line x1="1005.6" y1="2076.86" x2="1015.5" y2="2076.86" stroke="#000" stroke-width="1.3"/>
<text transform="translate(992.7,2076.86) rotate(-90)" font-size="15" text-anchor="middle">0.8</text>
<line x1="1005.6" y1="2018.1" x2="1015.5" y2="2018.1" stroke="#000" stroke-width="1.3"/>
<text transform="translate(992.7,2018.1) rotate(-90)" font-size="15" text-anchor="middle">1.0</text>
<path fill="#BDBDBD" d="M1311 2294h7v18h-7z"/>
<path fill="#BCBDDC" d="M1311 2036h7v258h-7zM1318 2077h7v235h-7zM1325 2018h6v294h-6zM1331 2018h7v294h-7zM1338 2018h7v294h-7zM1345 2018h7v196h-7zM1352 2018h6v294h-6zM1358 2018h7v294h-7zM1365 2018h7v294h-7zM1372 2018h6v294h-6zM1378 2018h7v294h-7zM1385 2165h7v147h-7zM1392 2165h7v147h-7zM1399 2018h6v294h-6zM1405 2018h7v294h-7zM1412 2018h7v294h-7zM1419 2018h6v294h-6zM1425 2018h7v294h-7zM1432 2018h7v294h-7zM1439 2018h7v294h-7zM1446 2018h6v294h-6zM1452 2018h7v294h-7zM1459 2018h7v294h-7zM1466 2018h6v294h-6zM1472 2018h7v294h-7zM1479 2018h7v294h-7zM1486 2018h7v294h-7zM1493 2018h6v294h-6zM1499 2018h7v294h-7z"/>
<path fill="#C7E9C0" d="M1311 2018h7v18h-7z"/>
<path fill="#807DBA" d="M1318 2018h7v59h-7zM1385 2018h7v147h-7z"/>
<path fill="#FEEA6E" d="M1345 2214h7v98h-7z"/>
<path fill="#238B45" d="M1392 2018h7v147h-7z"/>
<path fill="#FDAE6B" d="M1506 2018h7v294h-7z"/>
<path fill="#9a8678" fill-opacity="0.75" d="M1311 2018.1h202v0.8h-202z"/>
<line x1="1303.9" y1="2017.5" x2="1303.9" y2="2312.5" stroke="#000" stroke-width="1.3"/>
<line x1="1294.6" y1="2311.9" x2="1304.5" y2="2311.9" stroke="#000" stroke-width="1.3"/>
<text transform="translate(1281.7,2311.9) rotate(-90)" font-size="15" text-anchor="middle">0.0</text>
<line x1="1294.6" y1="2253.14" x2="1304.5" y2="2253.14" stroke="#000" stroke-width="1.3"/>
<text transform="translate(1281.7,2253.14) rotate(-90)" font-size="15" text-anchor="middle">0.2</text>
<line x1="1294.6" y1="2194.38" x2="1304.5" y2="2194.38" stroke="#000" stroke-width="1.3"/>
<text transform="translate(1281.7,2194.38) rotate(-90)" font-size="15" text-anchor="middle">0.4</text>
<line x1="1294.6" y1="2135.62" x2="1304.5" y2="2135.62" stroke="#000" stroke-width="1.3"/>
<text transform="translate(1281.7,2135.62) rotate(-90)" font-size="15" text-anchor="middle">0.6</text>
<line x1="1294.6" y1="2076.86" x2="1304.5" y2="2076.86" stroke="#000" stroke-width="1.3"/>
<text transform="translate(1281.7,2076.86) rotate(-90)" font-size="15" text-anchor="middle">0.8</text>
<line x1="1294.6" y1="2018.1" x2="1304.5" y2="2018.1" stroke="#000" stroke-width="1.3"/>
<text transform="translate(1281.7,2018.1) rotate(-90)" font-size="15" text-anchor="middle">1.0</text>
<path fill="#FEEA6E" d="M155 2556h7v122h-7zM162 2599h7v79h-7zM169 2387h7v291h-7zM176 2478h6v200h-6zM182 2574h7v104h-7zM189 2521h7v157h-7zM196 2519h6v159h-6zM202 2545h7v133h-7zM209 2416h7v233h-7zM216 2474h7v204h-7zM223 2484h6v161h-6zM229 2516h7v97h-7zM236 2569h7v72h-7zM243 2459h6v219h-6zM249 2423h7v218h-7zM256 2595h7v83h-7zM263 2428h7v250h-7zM270 2511h6v167h-6zM276 2636h7v42h-7zM283 2387h7v291h-7zM290 2511h6v167h-6zM296 2387h7v291h-7zM310 2581h7v97h-7zM323 2435h7v243h-7zM330 2484h7v194h-7zM337 2445h6v233h-6zM343 2445h7v175h-7zM350 2503h7v175h-7z"/>
<path fill="#BCBDDC" d="M155 2540h7v16h-7zM162 2555h7v33h-7zM176 2405h6v73h-6zM182 2470h7v83h-7zM202 2519h7v26h-7zM209 2387h7v29h-7zM229 2484h7v32h-7zM236 2532h7v37h-7zM263 2387h7v41h-7zM270 2470h6v41h-6zM290 2470h6v41h-6zM303 2581h7v48h-7zM310 2532h7v49h-7zM337 2387h6v58h-6z"/>
<path fill="#CB181D" d="M155 2443h7v97h-7zM162 2409h7v146h-7zM182 2387h7v83h-7zM189 2409h7v112h-7zM196 2387h6v106h-6zM202 2466h7v53h-7zM216 2387h7v87h-7zM223 2419h6v65h-6zM229 2387h7v97h-7zM236 2423h7v109h-7zM249 2387h7v36h-7zM256 2428h7v167h-7zM270 2387h6v83h-6zM276 2553h7v83h-7zM290 2428h6v42h-6zM303 2387h7v194h-7zM350 2445h7v58h-7z"/>
<path fill="#FB6A4A" d="M155 2435h7v8h-7zM189 2387h7v22h-7zM202 2440h7v26h-7z"/>
<path fill="#FDAE6B" d="M155 2427h7v8h-7z"/>
<path fill="#C7E9C0" d="M155 2419h7v8h-7zM202 2413h7v27h-7zM243 2423h6v36h-6zM310 2484h7v48h-7zM317 2581h6v48h-6zM330 2435h7v49h-7z"/>
<path fill="#8C510A" d="M155 2403h7v16h-7zM202 2387h7v26h-7zM256 2387h7v41h-7zM276 2511h7v42h-7zM350 2387h7v58h-7z"/>
<path fill="#BF812D" d="M155 2387h7v16h-7zM223 2387h6v32h-6zM243 2387h6v36h-6zM276 2387h7v124h-7zM290 2387h6v41h-6zM310 2387h7v48h-7zM317 2387h6v145h-6zM323 2387h7v48h-7zM330 2387h7v48h-7z"/>
<path fill="#4292C6" d="M162 2588h7v11h-7zM196 2493h6v26h-6z"/>
<path fill="#FDD0A2" d="M162 2398h7v11h-7zM317 2629h6v49h-6z"/>
<path fill="#238B45" d="M162 2387h7v11h-7zM176 2387h6v18h-6zM236 2387h7v36h-7zM310 2435h7v49h-7zM317 2532h6v49h-6zM343 2387h7v58h-7z"/>
<path fill="#DEEBF7" d="M182 2553h7v21h-7z"/>
<path fill="#969696" d="M209 2649h7v29h-7zM229 2613h7v65h-7zM249 2641h7v37h-7zM303 2629h7v49h-7z"/>
<path fill="#FBC4DC" d="M223 2645h6v33h-6zM236 2641h7v37h-7zM343 2620h7v58h-7z"/>
<path fill="#9a8678" fill-opacity="0.75" d="M155 2386.7h202v0.8h-202z"/>
<line x1="147.6" y1="2386.1" x2="147.6" y2="2678.3" stroke="#000" stroke-width="1.3"/>
<line x1="138.3" y1="2677.7" x2="148.2" y2="2677.7" stroke="#000" stroke-width="1.3"/>
<text transform="translate(125.4,2677.7) rotate(-90)" font-size="15" text-anchor="middle">0.0</text>
<line x1="138.3" y1="2619.5" x2="148.2" y2="2619.5" stroke="#000" stroke-width="1.3"/>
<text transform="translate(125.4,2619.5) rotate(-90)" font-size="15" text-anchor="middle">0.2</text>
<line x1="138.3" y1="2561.3" x2="148.2" y2="2561.3" stroke="#000" stroke-width="1.3"/>
<text transform="translate(125.4,2561.3) rotate(-90)" font-size="15" text-anchor="middle">0.4</text>
<line x1="138.3" y1="2503.1" x2="148.2" y2="2503.1" stroke="#000" stroke-width="1.3"/>
<text transform="translate(125.4,2503.1) rotate(-90)" font-size="15" text-anchor="middle">0.6</text>
<line x1="138.3" y1="2444.9" x2="148.2" y2="2444.9" stroke="#000" stroke-width="1.3"/>
<text transform="translate(125.4,2444.9) rotate(-90)" font-size="15" text-anchor="middle">0.8</text>
<line x1="138.3" y1="2386.7" x2="148.2" y2="2386.7" stroke="#000" stroke-width="1.3"/>
<text transform="translate(125.4,2386.7) rotate(-90)" font-size="15" text-anchor="middle">1.0</text>
<path fill="#FEEA6E" d="M444 2600h7v78h-7zM451 2561h7v117h-7zM458 2572h6v106h-6zM464 2516h7v129h-7zM478 2387h6v201h-6zM484 2566h7v112h-7zM491 2499h7v179h-7zM498 2516h7v162h-7zM505 2419h6v226h-6zM511 2581h7v97h-7zM518 2428h7v167h-7zM525 2470h6v208h-6zM531 2511h7v167h-7zM538 2595h7v41h-7zM545 2629h7v49h-7zM552 2581h6v97h-6zM558 2387h7v291h-7zM565 2532h7v146h-7zM572 2532h6v97h-6zM578 2532h7v146h-7zM585 2532h7v146h-7zM592 2629h7v49h-7zM599 2532h6v97h-6zM605 2629h7v49h-7zM612 2561h7v59h-7zM619 2387h6v291h-6zM625 2620h7v58h-7zM632 2561h7v117h-7zM639 2620h7v58h-7z"/>
<path fill="#BCBDDC" d="M444 2561h7v39h-7zM451 2422h7v116h-7zM458 2479h6v80h-6zM464 2419h7v97h-7zM471 2595h7v62h-7zM491 2409h7v45h-7zM498 2419h7v65h-7zM511 2484h7v97h-7zM531 2387h7v124h-7zM538 2428h7v167h-7zM545 2484h7v145h-7zM552 2532h6v49h-6zM565 2484h7v48h-7zM572 2484h6v48h-6zM578 2484h7v48h-7zM585 2435h7v97h-7zM592 2484h7v145h-7zM599 2435h6v97h-6zM605 2435h7v194h-7zM612 2445h7v116h-7zM625 2561h7v59h-7zM632 2503h7v58h-7zM639 2445h7v175h-7z"/>
<path fill="#807DBA" d="M444 2552h7v9h-7zM572 2435h6v49h-6z"/>
<path fill="#CB181D" d="M444 2445h7v107h-7zM451 2398h7v24h-7zM458 2426h6v53h-6zM464 2403h7v16h-7zM484 2454h7v112h-7zM525 2387h6v83h-6zM552 2435h6v97h-6zM572 2387h6v48h-6zM585 2387h7v48h-7zM592 2387h7v97h-7zM599 2387h6v48h-6zM605 2387h7v48h-7zM625 2387h7v174h-7zM632 2387h7v116h-7zM639 2387h7v58h-7z"/>
<path fill="#FB6A4A" d="M444 2426h7v19h-7zM451 2387h7v11h-7zM484 2431h7v23h-7zM491 2387h7v22h-7z"/>
<path fill="#FDD0A2" d="M444 2406h7v20h-7zM471 2491h7v104h-7zM511 2451h7v33h-7zM538 2387h7v41h-7zM545 2387h7v97h-7zM612 2387h7v58h-7z"/>
<path fill="#BF812D" d="M444 2387h7v19h-7zM458 2387h6v13h-6zM484 2387h7v44h-7zM505 2387h6v32h-6zM518 2387h7v41h-7zM565 2387h7v48h-7zM578 2387h7v48h-7z"/>
<path fill="#4292C6" d="M451 2538h7v23h-7zM458 2559h6v13h-6zM471 2657h7v21h-7zM491 2454h7v45h-7z"/>
<path fill="#C7E9C0" d="M458 2413h6v13h-6zM464 2387h7v16h-7zM471 2407h7v84h-7zM498 2387h7v32h-7zM552 2387h6v48h-6zM578 2435h7v49h-7z"/>
<path fill="#238B45" d="M458 2400h6v13h-6zM471 2387h7v20h-7zM511 2387h7v64h-7zM565 2435h7v49h-7z"/>
<path fill="#BDBDBD" d="M464 2645h7v33h-7zM538 2636h7v42h-7z"/>
<path fill="#969696" d="M478 2588h6v90h-6zM505 2645h6v33h-6zM518 2595h7v41h-7zM572 2629h6v49h-6zM599 2629h6v49h-6z"/>
<path fill="#9ECAE1" d="M498 2484h7v32h-7z"/>
<path fill="#FBC4DC" d="M518 2636h7v42h-7zM612 2620h7v58h-7z"/>
<path fill="#9a8678" fill-opacity="0.75" d="M444 2386.7h202v0.8h-202z"/>
<line x1="437.8" y1="2386.1" x2="437.8" y2="2678.3" stroke="#000" stroke-width="1.3"/>
<line x1="428.5" y1="2677.7" x2="438.4" y2="2677.7" stroke="#000" stroke-width="1.3"/>
<text transform="translate(415.6,2677.7) rotate(-90)" font-size="15" text-anchor="middle">0.0</text>
<line x1="428.5" y1="2619.5" x2="438.4" y2="2619.5" stroke="#000" stroke-width="1.3"/>
<text transform="translate(415.6,2619.5) rotate(-90)" font-size="15" text-anchor="middle">0.2</text>
<line x1="428.5" y1="2561.3" x2="438.4" y2="2561.3" stroke="#000" stroke-width="1.3"/>
<text transform="translate(415.6,2561.3) rotate(-90)" font-size="15" text-anchor="middle">0.4</text>
<line x1="428.5" y1="2503.1" x2="438.4" y2="2503.1" stroke="#000" stroke-width="1.3"/>
<text transform="translate(415.6,2503.1) rotate(-90)" font-size="15" text-anchor="middle">0.6</text>
<line x1="428.5" y1="2444.9" x2="438.4" y2="2444.9" stroke="#000" stroke-width="1.3"/>
<text transform="translate(415.6,2444.9) rotate(-90)" font-size="15" text-anchor="middle">0.8</text>
<line x1="428.5" y1="2386.7" x2="438.4" y2="2386.7" stroke="#000" stroke-width="1.3"/>
<text transform="translate(415.6,2386.7) rotate(-90)" font-size="15" text-anchor="middle">1.0</text>
<path fill="#FBC4DC" d="M733 2672h7v6h-7z"/>
<path fill="#FEEA6E" d="M733 2608h7v64h-7zM740 2611h6v67h-6zM746 2597h7v81h-7zM753 2645h7v33h-7zM760 2635h6v43h-6zM766 2597h7v81h-7zM773 2654h7v24h-7zM780 2508h7v170h-7zM787 2653h6v25h-6zM793 2506h7v145h-7zM800 2613h7v65h-7zM807 2565h6v97h-6zM820 2661h7v17h-7zM827 2569h7v54h-7zM834 2587h6v73h-6zM840 2623h7v55h-7zM847 2553h7v83h-7zM854 2636h6v42h-6zM867 2588h7v67h-7zM881 2556h6v122h-6zM887 2605h7v73h-7zM894 2653h7v25h-7zM901 2519h6v159h-6zM907 2651h7v27h-7zM921 2548h7v97h-7zM928 2581h6v97h-6z"/>
<path fill="#4292C6" d="M733 2602h7v6h-7zM760 2618h6v17h-6zM766 2587h7v10h-7zM787 2629h6v24h-6zM813 2661h7v17h-7zM820 2643h7v18h-7zM834 2569h6v18h-6zM881 2508h6v48h-6zM887 2581h7v24h-7zM928 2548h6v33h-6z"/>
<path fill="#BCBDDC" d="M733 2457h7v145h-7zM740 2502h6v109h-6zM746 2508h7v89h-7zM753 2476h7v169h-7zM760 2438h6v180h-6zM766 2457h7v130h-7zM773 2503h7v151h-7zM780 2459h7v49h-7zM787 2447h6v182h-6zM793 2453h7v53h-7zM800 2516h7v97h-7zM807 2468h6v97h-6zM813 2643h7v18h-7zM820 2541h7v102h-7zM827 2514h7v55h-7zM834 2459h6v110h-6zM840 2532h7v91h-7zM847 2491h7v62h-7zM854 2532h6v104h-6zM860 2566h7v112h-7zM867 2476h7v112h-7zM874 2581h7v97h-7zM881 2459h6v49h-6zM887 2387h7v194h-7zM894 2484h7v169h-7zM901 2466h6v53h-6zM914 2625h7v53h-7zM921 2484h7v64h-7zM928 2419h6v129h-6z"/>
<path fill="#CB181D" d="M733 2451h7v6h-7zM740 2484h6v18h-6zM746 2492h7v16h-7zM753 2411h7v48h-7zM760 2421h6v17h-6zM766 2427h7v30h-7zM773 2433h7v58h-7zM793 2440h7v13h-7zM800 2451h7v65h-7zM807 2435h6v33h-6zM820 2524h7v17h-7zM827 2496h7v18h-7zM834 2441h6v18h-6zM840 2478h7v54h-7zM847 2407h7v84h-7zM867 2454h7v22h-7zM894 2459h7v25h-7zM921 2451h7v33h-7z"/>
<path fill="#C7E9C0" d="M733 2404h7v47h-7zM740 2405h6v48h-6zM753 2395h7v16h-7zM766 2407h7v10h-7zM773 2398h7v35h-7zM780 2423h7v24h-7zM787 2399h6v24h-6zM800 2403h7v48h-7zM813 2455h7v86h-7zM820 2387h7v120h-7zM827 2459h7v19h-7zM840 2387h7v72h-7zM854 2470h6v62h-6zM860 2409h7v67h-7zM874 2411h7v97h-7zM881 2435h6v24h-6zM894 2411h7v24h-7zM901 2413h6v53h-6zM907 2440h7v79h-7zM914 2440h7v26h-7zM928 2387h6v32h-6z"/>
<path fill="#238B45" d="M733 2387h7v17h-7zM740 2399h6v6h-6zM746 2468h7v8h-7zM753 2387h7v8h-7zM760 2387h6v17h-6zM766 2397h7v10h-7zM773 2387h7v11h-7zM780 2411h7v12h-7zM800 2387h7v16h-7zM813 2387h7v68h-7zM827 2405h7v54h-7zM854 2407h6v63h-6zM860 2387h7v22h-7zM874 2387h7v24h-7zM881 2411h6v24h-6zM894 2387h7v24h-7zM907 2387h7v53h-7zM914 2387h7v53h-7z"/>
<path fill="#FB6A4A" d="M740 2478h6v6h-6z"/>
<path fill="#FDD0A2" d="M740 2453h6v25h-6zM746 2476h7v16h-7zM760 2404h6v17h-6zM766 2417h7v10h-7zM780 2447h7v12h-7zM793 2426h7v14h-7zM813 2541h7v102h-7zM820 2507h7v17h-7zM827 2478h7v18h-7zM840 2459h7v19h-7zM860 2476h7v67h-7zM874 2508h7v48h-7zM894 2435h7v24h-7zM907 2519h7v132h-7zM914 2466h7v159h-7z"/>
<path fill="#BF812D" d="M740 2387h6v12h-6zM746 2387h7v81h-7zM766 2387h7v10h-7zM780 2387h7v24h-7zM787 2387h6v12h-6zM793 2387h7v39h-7zM807 2387h6v48h-6zM827 2387h7v18h-7zM834 2387h6v54h-6zM847 2387h7v20h-7zM854 2387h6v20h-6zM867 2387h7v67h-7zM881 2387h6v24h-6zM901 2387h6v26h-6zM921 2387h7v64h-7z"/>
<path fill="#807DBA" d="M753 2459h7v17h-7zM773 2491h7v12h-7zM787 2423h6v24h-6zM860 2543h7v23h-7z"/>
<path fill="#969696" d="M793 2651h7v27h-7zM807 2662h6v16h-6zM827 2623h7v55h-7zM834 2660h6v18h-6zM847 2636h7v21h-7zM867 2655h7v23h-7zM921 2645h7v33h-7z"/>
<path fill="#BDBDBD" d="M847 2657h7v21h-7z"/>
<path fill="#FDAE6B" d="M874 2556h7v25h-7z"/>
<path fill="#9a8678" fill-opacity="0.75" d="M733 2386.7h201v0.8h-201z"/>
<line x1="725.1" y1="2386.1" x2="725.1" y2="2678.3" stroke="#000" stroke-width="1.3"/>
<line x1="715.8" y1="2677.7" x2="725.7" y2="2677.7" stroke="#000" stroke-width="1.3"/>
<text transform="translate(702.9,2677.7) rotate(-90)" font-size="15" text-anchor="middle">0.0</text>
<line x1="715.8" y1="2619.5" x2="725.7" y2="2619.5" stroke="#000" stroke-width="1.3"/>
<text transform="translate(702.9,2619.5) rotate(-90)" font-size="15" text-anchor="middle">0.2</text>
<line x1="715.8" y1="2561.3" x2="725.7" y2="2561.3" stroke="#000" stroke-width="1.3"/>
<text transform="translate(702.9,2561.3) rotate(-90)" font-size="15" text-anchor="middle">0.4</text>
<line x1="715.8" y1="2503.1" x2="725.7" y2="2503.1" stroke="#000" stroke-width="1.3"/>
<text transform="translate(702.9,2503.1) rotate(-90)" font-size="15" text-anchor="middle">0.6</text>
<line x1="715.8" y1="2444.9" x2="725.7" y2="2444.9" stroke="#000" stroke-width="1.3"/>
<text transform="translate(702.9,2444.9) rotate(-90)" font-size="15" text-anchor="middle">0.8</text>
<line x1="715.8" y1="2386.7" x2="725.7" y2="2386.7" stroke="#000" stroke-width="1.3"/>
<text transform="translate(702.9,2386.7) rotate(-90)" font-size="15" text-anchor="middle">1.0</text>
<path fill="#FEEA6E" d="M1022 2668h7v10h-7zM1029 2670h7v8h-7zM1036 2641h6v35h-6zM1042 2663h7v12h-7zM1049 2634h7v44h-7zM1056 2651h6v27h-6zM1062 2628h7v50h-7zM1069 2661h7v17h-7zM1076 2498h7v173h-7zM1083 2581h6v89h-6zM1089 2652h7v26h-7zM1096 2596h7v73h-7zM1103 2612h6v66h-6zM1109 2610h7v68h-7zM1116 2595h7v83h-7zM1123 2617h7v61h-7zM1136 2532h7v146h-7zM1143 2547h7v116h-7zM1150 2620h6v58h-6zM1170 2403h7v275h-7zM1183 2620h7v58h-7zM1190 2553h7v125h-7zM1203 2484h7v194h-7zM1217 2411h7v267h-7z"/>
<path fill="#4292C6" d="M1022 2590h7v78h-7zM1029 2560h7v102h-7zM1036 2631h6v10h-6zM1056 2574h6v77h-6zM1062 2541h7v87h-7zM1069 2564h7v97h-7zM1083 2573h6v8h-6zM1089 2601h7v51h-7zM1103 2584h6v28h-6zM1109 2561h7v49h-7zM1116 2563h7v32h-7zM1150 2532h6v88h-6zM1156 2561h7v88h-7zM1163 2516h7v162h-7zM1177 2623h6v55h-6zM1190 2511h7v42h-7zM1197 2566h6v112h-6z"/>
<path fill="#BCBDDC" d="M1022 2509h7v81h-7zM1029 2452h7v108h-7zM1036 2547h6v84h-6zM1042 2582h7v81h-7zM1049 2536h7v98h-7zM1056 2505h6v69h-6zM1062 2449h7v92h-7zM1069 2472h7v92h-7zM1076 2414h7v77h-7zM1083 2491h6v82h-6zM1089 2549h7v52h-7zM1096 2523h7v64h-7zM1103 2546h6v38h-6zM1109 2464h7v97h-7zM1116 2532h7v31h-7zM1123 2447h7v170h-7zM1130 2649h6v29h-6zM1136 2401h7v131h-7zM1143 2489h7v58h-7zM1150 2489h6v43h-6zM1156 2401h7v160h-7zM1163 2403h7v113h-7zM1170 2387h7v16h-7zM1177 2496h6v127h-6zM1183 2484h7v136h-7zM1190 2428h7v83h-7zM1197 2454h6v112h-6zM1203 2411h7v73h-7zM1217 2387h7v24h-7z"/>
<path fill="#807DBA" d="M1022 2490h7v19h-7zM1029 2445h7v7h-7zM1036 2537h6v10h-6zM1049 2532h7v4h-7zM1062 2441h7v8h-7zM1069 2461h7v11h-7zM1083 2476h6v15h-6zM1103 2537h6v9h-6zM1109 2455h7v9h-7zM1183 2464h7v20h-7z"/>
<path fill="#CB181D" d="M1022 2478h7v12h-7zM1029 2427h7v18h-7zM1036 2501h6v36h-6zM1042 2558h7v24h-7zM1049 2401h7v131h-7zM1056 2494h6v11h-6zM1062 2407h7v34h-7zM1069 2421h7v40h-7zM1083 2461h6v15h-6zM1096 2496h7v27h-7zM1103 2518h6v19h-6zM1109 2435h7v20h-7zM1116 2449h7v83h-7zM1123 2435h7v12h-7zM1130 2561h6v88h-6zM1143 2401h7v88h-7zM1183 2426h7v38h-7zM1190 2407h7v21h-7z"/>
<path fill="#FDD0A2" d="M1022 2462h7v16h-7zM1029 2423h7v4h-7zM1036 2486h6v15h-6zM1042 2445h7v38h-7zM1056 2463h6v31h-6zM1083 2446h6v15h-6zM1116 2439h7v10h-7zM1130 2459h6v102h-6z"/>
<path fill="#C7E9C0" d="M1022 2422h7v40h-7zM1029 2413h7v10h-7zM1036 2411h6v75h-6zM1042 2407h7v15h-7zM1056 2421h6v42h-6zM1069 2398h7v23h-7zM1083 2394h6v52h-6zM1089 2455h7v77h-7zM1096 2423h7v73h-7zM1103 2443h6v75h-6zM1109 2426h7v9h-7zM1116 2418h7v21h-7zM1123 2411h7v24h-7zM1130 2430h6v29h-6zM1143 2387h7v14h-7zM1150 2401h6v88h-6zM1156 2387h7v14h-7zM1163 2387h7v16h-7zM1177 2423h6v73h-6zM1183 2406h7v20h-7zM1197 2387h6v67h-6zM1203 2387h7v24h-7zM1210 2409h7v22h-7z"/>
<path fill="#238B45" d="M1022 2391h7v31h-7zM1029 2401h7v12h-7zM1036 2389h6v22h-6zM1042 2393h7v14h-7zM1056 2391h6v30h-6zM1062 2387h7v12h-7zM1069 2387h7v11h-7zM1089 2387h7v68h-7zM1096 2396h7v27h-7zM1103 2405h6v38h-6zM1109 2406h7v20h-7zM1116 2397h7v21h-7zM1123 2387h7v24h-7zM1130 2401h6v29h-6zM1150 2387h6v14h-6zM1177 2387h6v36h-6zM1183 2387h7v19h-7zM1190 2387h7v20h-7zM1210 2387h7v22h-7z"/>
<path fill="#BF812D" d="M1022 2387h7v4h-7zM1029 2387h7v14h-7zM1036 2387h6v2h-6zM1042 2387h7v6h-7zM1049 2387h7v7h-7zM1056 2387h6v4h-6zM1076 2387h7v27h-7zM1083 2387h6v7h-6zM1096 2387h7v9h-7zM1103 2387h6v18h-6zM1109 2387h7v19h-7zM1116 2387h7v10h-7zM1130 2387h6v14h-6zM1136 2387h7v14h-7z"/>
<path fill="#DEEBF7" d="M1029 2662h7v8h-7z"/>
<path fill="#969696" d="M1036 2676h6v2h-6zM1042 2675h7v3h-7zM1076 2671h7v7h-7zM1083 2670h6v8h-6zM1096 2669h7v9h-7zM1143 2663h7v15h-7zM1156 2649h7v29h-7z"/>
<path fill="#FB6A4A" d="M1042 2500h7v58h-7zM1049 2394h7v7h-7zM1062 2399h7v8h-7z"/>
<path fill="#FDAE6B" d="M1042 2483h7v17h-7zM1089 2532h7v17h-7z"/>
<path fill="#FEE6CE" d="M1042 2422h7v23h-7z"/>
<path fill="#9ECAE1" d="M1076 2491h7v7h-7zM1096 2587h7v9h-7zM1210 2431h7v247h-7z"/>
<path fill="#9a8678" fill-opacity="0.75" d="M1022 2386.7h202v0.8h-202z"/>
<line x1="1014.9" y1="2386.1" x2="1014.9" y2="2678.3" stroke="#000" stroke-width="1.3"/>
<line x1="1005.6" y1="2677.7" x2="1015.5" y2="2677.7" stroke="#000" stroke-width="1.3"/>
<text transform="translate(992.7,2677.7) rotate(-90)" font-size="15" text-anchor="middle">0.0</text>
<line x1="1005.6" y1="2619.5" x2="1015.5" y2="2619.5" stroke="#000" stroke-width="1.3"/>
<text transform="translate(992.7,2619.5) rotate(-90)" font-size="15" text-anchor="middle">0.2</text>
<line x1="1005.6" y1="2561.3" x2="1015.5" y2="2561.3" stroke="#000" stroke-width="1.3"/>
<text transform="translate(992.7,2561.3) rotate(-90)" font-size="15" text-anchor="middle">0.4</text>
<line x1="1005.6" y1="2503.1" x2="1015.5" y2="2503.1" stroke="#000" stroke-width="1.3"/>
<text transform="translate(992.7,2503.1) rotate(-90)" font-size="15" text-anchor="middle">0.6</text>
<line x1="1005.6" y1="2444.9" x2="1015.5" y2="2444.9" stroke="#000" stroke-width="1.3"/>
<text transform="translate(992.7,2444.9) rotate(-90)" font-size="15" text-anchor="middle">0.8</text>
<line x1="1005.6" y1="2386.7" x2="1015.5" y2="2386.7" stroke="#000" stroke-width="1.3"/>
<text transform="translate(992.7,2386.7) rotate(-90)" font-size="15" text-anchor="middle">1.0</text>
<path fill="#FEEA6E" d="M1311 2656h7v22h-7zM1318 2664h7v14h-7zM1325 2653h6v21h-6zM1338 2668h7v10h-7zM1345 2661h7v17h-7zM1358 2669h7v9h-7zM1365 2669h7v9h-7zM1372 2616h6v53h-6zM1378 2669h7v9h-7zM1392 2620h7v58h-7zM1405 2574h7v104h-7zM1432 2636h7v42h-7zM1439 2663h7v15h-7zM1446 2634h6v44h-6zM1452 2634h7v44h-7zM1459 2586h7v92h-7zM1466 2403h6v259h-6zM1472 2597h7v65h-7zM1479 2609h7v69h-7zM1486 2575h7v103h-7zM1499 2660h7v18h-7z"/>
<path fill="#4292C6" d="M1311 2654h7v2h-7zM1318 2663h7v1h-7zM1331 2674h7v4h-7zM1338 2663h7v5h-7zM1345 2656h7v5h-7zM1352 2624h6v54h-6zM1378 2598h7v71h-7zM1412 2666h7v12h-7zM1425 2666h7v12h-7zM1432 2608h7v28h-7zM1446 2620h6v14h-6zM1452 2605h7v29h-7zM1459 2570h7v16h-7zM1486 2558h7v17h-7zM1493 2660h6v18h-6zM1506 2600h7v78h-7z"/>
<path fill="#BCBDDC" d="M1311 2428h7v226h-7zM1318 2434h7v229h-7zM1325 2486h6v167h-6zM1331 2402h7v272h-7zM1338 2396h7v267h-7zM1345 2425h7v231h-7zM1352 2399h6v225h-6zM1358 2440h7v229h-7zM1365 2457h7v212h-7zM1372 2440h6v176h-6zM1378 2422h7v176h-7zM1385 2396h7v282h-7zM1392 2445h7v175h-7zM1399 2439h6v239h-6zM1405 2418h7v156h-7zM1412 2387h7v279h-7zM1419 2387h6v291h-6zM1425 2399h7v267h-7zM1432 2387h7v221h-7zM1439 2430h7v233h-7zM1446 2416h6v204h-6zM1452 2387h7v218h-7zM1459 2448h7v122h-7zM1466 2387h6v16h-6zM1472 2419h7v178h-7zM1479 2455h7v154h-7zM1486 2404h7v154h-7zM1493 2405h6v255h-6zM1499 2387h7v273h-7zM1506 2387h7v213h-7z"/>
<path fill="#CB181D" d="M1311 2421h7v7h-7zM1318 2428h7v6h-7zM1325 2479h6v7h-6zM1331 2391h7v11h-7zM1345 2409h7v16h-7zM1365 2440h7v17h-7zM1372 2413h6v27h-6zM1378 2413h7v9h-7zM1392 2387h7v58h-7zM1399 2418h6v21h-6zM1405 2407h7v11h-7zM1439 2416h7v14h-7zM1459 2402h7v46h-7zM1472 2403h7v16h-7zM1479 2421h7v34h-7zM1493 2387h6v18h-6z"/>
<path fill="#FB6A4A" d="M1311 2419h7v2h-7z"/>
<path fill="#FDD0A2" d="M1311 2411h7v8h-7zM1325 2468h6v11h-6zM1365 2431h7v9h-7z"/>
<path fill="#C7E9C0" d="M1311 2405h7v6h-7zM1318 2426h7v2h-7zM1325 2440h6v28h-6zM1358 2404h7v36h-7zM1365 2404h7v27h-7z"/>
<path fill="#238B45" d="M1311 2399h7v6h-7zM1318 2421h7v5h-7zM1325 2415h6v25h-6zM1331 2387h7v4h-7zM1345 2403h7v6h-7zM1352 2393h6v6h-6zM1358 2387h7v17h-7zM1365 2396h7v8h-7zM1372 2404h6v9h-6zM1378 2404h7v9h-7zM1399 2397h6v21h-6z"/>
<path fill="#BF812D" d="M1311 2387h7v12h-7zM1318 2387h7v34h-7zM1325 2387h6v28h-6zM1338 2387h7v9h-7zM1345 2387h7v16h-7zM1352 2387h6v6h-6zM1365 2387h7v9h-7zM1372 2387h6v17h-6zM1378 2387h7v17h-7zM1385 2387h7v9h-7zM1399 2387h6v10h-6zM1405 2387h7v20h-7zM1425 2387h7v12h-7zM1439 2387h7v29h-7zM1446 2387h6v29h-6zM1459 2387h7v15h-7zM1472 2387h7v16h-7zM1479 2387h7v34h-7zM1486 2387h7v17h-7z"/>
<path fill="#969696" d="M1325 2674h6v4h-6zM1472 2662h7v16h-7z"/>
<path fill="#FBC4DC" d="M1372 2669h6v9h-6z"/>
<path fill="#D9D9D9" d="M1466 2662h6v16h-6z"/>
<path fill="#9a8678" fill-opacity="0.75" d="M1311 2386.7h202v0.8h-202z"/>
<line x1="1303.9" y1="2386.1" x2="1303.9" y2="2678.3" stroke="#000" stroke-width="1.3"/>
<line x1="1294.6" y1="2677.7" x2="1304.5" y2="2677.7" stroke="#000" stroke-width="1.3"/>
<text transform="translate(1281.7,2677.7) rotate(-90)" font-size="15" text-anchor="middle">0.0</text>
<line x1="1294.6" y1="2619.5" x2="1304.5" y2="2619.5" stroke="#000" stroke-width="1.3"/>
<text transform="translate(1281.7,2619.5) rotate(-90)" font-size="15" text-anchor="middle">0.2</text>
<line x1="1294.6" y1="2561.3" x2="1304.5" y2="2561.3" stroke="#000" stroke-width="1.3"/>
<text transform="translate(1281.7,2561.3) rotate(-90)" font-size="15" text-anchor="middle">0.4</text>
<line x1="1294.6" y1="2503.1" x2="1304.5" y2="2503.1" stroke="#000" stroke-width="1.3"/>
<text transform="translate(1281.7,2503.1) rotate(-90)" font-size="15" text-anchor="middle">0.6</text>
<line x1="1294.6" y1="2444.9" x2="1304.5" y2="2444.9" stroke="#000" stroke-width="1.3"/>
<text transform="translate(1281.7,2444.9) rotate(-90)" font-size="15" text-anchor="middle">0.8</text>
<line x1="1294.6" y1="2386.7" x2="1304.5" y2="2386.7" stroke="#000" stroke-width="1.3"/>
<text transform="translate(1281.7,2386.7) rotate(-90)" font-size="15" text-anchor="middle">1.0</text>
<text x="246" y="1616.3" font-size="33.5" text-anchor="middle">Control</text>
<text x="544" y="1616.3" font-size="33.5" text-anchor="middle">anti-PD-L1</text>
<text x="821" y="1616.3" font-size="33.5" text-anchor="middle">anti-TIGIT</text>
<text x="1112.2" y="1616.3" font-size="33.5" text-anchor="middle">Combo</text>
<text x="1418.7" y="1616.3" font-size="33.5" text-anchor="middle">Combo + FTY720</text>
<text transform="translate(54.6,1809.4) rotate(-90)" font-size="33.5" text-anchor="middle">Tumor</text>
<text transform="translate(54.6,2168.9) rotate(-90)" font-size="33.5" text-anchor="middle">D7 Blood</text>
<text transform="translate(54.6,2541.8) rotate(-90)" font-size="33.5" text-anchor="middle">dLN</text>
<text transform="translate(96.2,2168.8) rotate(-90)" font-size="24.8" text-anchor="middle">Proportion of CD8+ T cells</text>
<text transform="translate(-0.4,1607.2) scale(0.86,1)" font-size="55">c</text>
<rect x="1658.2" y="1671.3" width="17.4" height="13.6" fill="#FBC4DC" stroke="#000" stroke-width="1.9"/>
<text x="1697" y="1686.4" font-size="23.2" text-anchor="start">Early</text>
<rect x="1658.2" y="1699.64" width="17.4" height="13.6" fill="#D9D9D9" stroke="#000" stroke-width="1.9"/>
<text x="1697" y="1714.74" font-size="23.2" text-anchor="start">Ccr7.1</text>
<rect x="1658.2" y="1727.98" width="17.4" height="13.6" fill="#BDBDBD" stroke="#000" stroke-width="1.9"/>
<text x="1697" y="1743.08" font-size="23.2" text-anchor="start">Ccr7.2</text>
<rect x="1658.2" y="1756.32" width="17.4" height="13.6" fill="#969696" stroke="#000" stroke-width="1.9"/>
<text x="1697" y="1771.42" font-size="23.2" text-anchor="start">Ccr7.3</text>
<rect x="1658.2" y="1784.66" width="17.4" height="13.6" fill="#737373" stroke="#000" stroke-width="1.9"/>
<text x="1697" y="1799.76" font-size="23.2" text-anchor="start">Ccr7.4</text>
<rect x="1658.2" y="1813" width="17.4" height="13.6" fill="#FEEA6E" stroke="#000" stroke-width="1.9"/>
<text x="1697" y="1828.1" font-size="23.2" text-anchor="start">Slamf6</text>
<rect x="1658.2" y="1841.34" width="17.4" height="13.6" fill="#DEEBF7" stroke="#000" stroke-width="1.9"/>
<text x="1697" y="1856.44" font-size="23.2" text-anchor="start">Ifit.1</text>
<rect x="1658.2" y="1869.68" width="17.4" height="13.6" fill="#9ECAE1" stroke="#000" stroke-width="1.9"/>
<text x="1697" y="1884.78" font-size="23.2" text-anchor="start">Ifit.2</text>
<rect x="1658.2" y="1898.02" width="17.4" height="13.6" fill="#4292C6" stroke="#000" stroke-width="1.9"/>
<text x="1697" y="1913.12" font-size="23.2" text-anchor="start">Ifit.3</text>
<rect x="1658.2" y="1926.36" width="17.4" height="13.6" fill="#BCBDDC" stroke="#000" stroke-width="1.9"/>
<text x="1697" y="1941.46" font-size="23.2" text-anchor="start">Ccl5.1</text>
<rect x="1659" y="1956.1" width="17.4" height="13.6" fill="#807DBA" stroke="#000" stroke-width="1.9"/>
<text x="1697" y="1971.2" font-size="23.2" text-anchor="start">Ccl5.2</text>
<rect x="1659" y="1984.44" width="17.4" height="13.6" fill="#CB181D" stroke="#000" stroke-width="1.9"/>
<text x="1697" y="1999.54" font-size="23.2" text-anchor="start">Cytotox.1</text>
<rect x="1659" y="2012.78" width="17.4" height="13.6" fill="#FB6A4A" stroke="#000" stroke-width="1.9"/>
<text x="1697" y="2027.88" font-size="23.2" text-anchor="start">Cytotox.2</text>
<rect x="1659" y="2041.12" width="17.4" height="13.6" fill="#FDAE6B" stroke="#000" stroke-width="1.9"/>
<text x="1697" y="2056.22" font-size="23.2" text-anchor="start">Cyt/Mit.1</text>
<rect x="1659" y="2069.46" width="17.4" height="13.6" fill="#FDD0A2" stroke="#000" stroke-width="1.9"/>
<text x="1697" y="2084.56" font-size="23.2" text-anchor="start">Cyt/Mit.2</text>
<rect x="1659" y="2097.8" width="17.4" height="13.6" fill="#FEE6CE" stroke="#000" stroke-width="1.9"/>
<text x="1697" y="2112.9" font-size="23.2" text-anchor="start">Cyt/Mit.3</text>
<rect x="1659" y="2126.14" width="17.4" height="13.6" fill="#C7E9C0" stroke="#000" stroke-width="1.9"/>
<text x="1697" y="2141.24" font-size="23.2" text-anchor="start">Mitotic.1</text>
<rect x="1659" y="2154.48" width="17.4" height="13.6" fill="#238B45" stroke="#000" stroke-width="1.9"/>
<text x="1697" y="2169.58" font-size="23.2" text-anchor="start">Mitotic.2</text>
<rect x="1659" y="2182.82" width="17.4" height="13.6" fill="#8C510A" stroke="#000" stroke-width="1.9"/>
<text x="1697" y="2197.92" font-size="23.2" text-anchor="start">Dying.1</text>
<rect x="1659" y="2211.16" width="17.4" height="13.6" fill="#BF812D" stroke="#000" stroke-width="1.9"/>
<text x="1697" y="2226.26" font-size="23.2" text-anchor="start">Dying.2</text>
</svg>
</body></html>
